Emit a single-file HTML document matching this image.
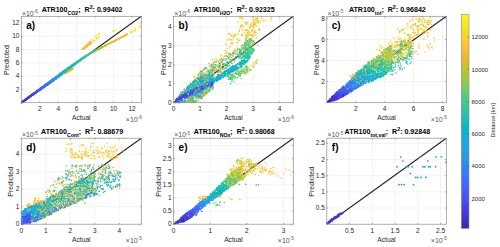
<!DOCTYPE html><html><head><meta charset="utf-8"><style>html,body{margin:0;padding:0;width:500px;height:247px;overflow:hidden;background:#fff}svg text{font-family:"Liberation Sans", sans-serif}</style></head><body><svg width="500" height="247" viewBox="0 0 500 247" style="position:absolute;left:0;top:0">
<rect x="0" y="0" width="500" height="247" fill="#fff"/>
<line x1="39.76" y1="16.3" x2="39.76" y2="102.7" stroke="#ebebeb" stroke-width="0.6"/>
<line x1="58.22" y1="16.3" x2="58.22" y2="102.7" stroke="#ebebeb" stroke-width="0.6"/>
<line x1="76.68" y1="16.3" x2="76.68" y2="102.7" stroke="#ebebeb" stroke-width="0.6"/>
<line x1="95.15" y1="16.3" x2="95.15" y2="102.7" stroke="#ebebeb" stroke-width="0.6"/>
<line x1="113.61" y1="16.3" x2="113.61" y2="102.7" stroke="#ebebeb" stroke-width="0.6"/>
<line x1="132.07" y1="16.3" x2="132.07" y2="102.7" stroke="#ebebeb" stroke-width="0.6"/>
<line x1="21.3" y1="89.41" x2="141.3" y2="89.41" stroke="#ebebeb" stroke-width="0.6"/>
<line x1="21.3" y1="76.12" x2="141.3" y2="76.12" stroke="#ebebeb" stroke-width="0.6"/>
<line x1="21.3" y1="62.82" x2="141.3" y2="62.82" stroke="#ebebeb" stroke-width="0.6"/>
<line x1="21.3" y1="49.53" x2="141.3" y2="49.53" stroke="#ebebeb" stroke-width="0.6"/>
<line x1="21.3" y1="36.24" x2="141.3" y2="36.24" stroke="#ebebeb" stroke-width="0.6"/>
<line x1="21.3" y1="22.95" x2="141.3" y2="22.95" stroke="#ebebeb" stroke-width="0.6"/>
<line x1="21.3" y1="102.7" x2="141.3" y2="16.3" stroke="#222" stroke-width="1.05"/>
<path d="M23.3 101.0h0M22.7 101.8h0M22.8 101.8h0M22.2 102.0h0M22.2 101.8h0M24.2 101.0h0M22.3 101.9h0" stroke="#402ab4" stroke-width="1.5" stroke-linecap="round"/>
<path d="M61.0 73.8h0M57.9 75.9h0M60.1 73.6h0M66.7 70.1h0M57.7 75.7h0M58.6 77.1h0M54.3 79.3h0M55.3 77.7h0" stroke="#23a0e5" stroke-width="1.5" stroke-linecap="round"/>
<path d="M102.5 46.8h0M101.0 48.2h0M99.6 48.7h0M104.7 45.9h0M101.3 47.2h0" stroke="#abc739" stroke-width="1.3" stroke-linecap="round"/>
<path d="M77.8 61.7h0M82.0 58.2h0M74.4 64.4h0M79.7 60.6h0M75.8 63.4h0M78.8 61.3h0M78.5 61.7h0M81.6 59.3h0M83.0 57.8h0M75.5 63.9h0M82.7 58.4h0M82.9 57.7h0M79.1 61.3h0M81.7 59.5h0M73.5 64.0h0M84.6 56.3h0M70.4 68.2h0" stroke="#24c1ae" stroke-width="1.5" stroke-linecap="round"/>
<path d="M81.5 59.0h0M72.1 66.2h0M78.3 61.1h0M69.4 68.2h0M71.5 65.6h0M79.8 59.7h0M82.9 58.2h0M72.7 66.3h0M84.5 57.4h0" stroke="#2cc4a7" stroke-width="1.5" stroke-linecap="round"/>
<path d="M86.1 55.8h0" stroke="#24c1ae" stroke-width="1.3" stroke-linecap="round"/>
<path d="M127.0 34.0h0" stroke="#fccf30" stroke-width="1.3" stroke-linecap="round"/>
<path d="M37.1 90.9h0M25.2 99.6h0M36.9 91.9h0M32.4 94.1h0M35.7 93.1h0M31.5 95.2h0M29.4 96.3h0M32.5 94.4h0M36.1 92.7h0M31.9 94.6h0M33.9 93.0h0M34.8 93.6h0M36.6 90.9h0M33.9 94.0h0" stroke="#4747eb" stroke-width="1.5" stroke-linecap="round"/>
<path d="M41.2 88.0h0M47.1 83.2h0M44.8 86.1h0M47.7 82.7h0M49.2 83.6h0M47.3 84.6h0M46.1 84.8h0M50.9 80.7h0" stroke="#3875fe" stroke-width="1.5" stroke-linecap="round"/>
<path d="M87.0 55.8h0M87.0 55.2h0M86.8 54.9h0M86.3 55.4h0" stroke="#37c897" stroke-width="1.3" stroke-linecap="round"/>
<path d="M50.3 81.4h0M58.2 75.0h0M50.3 81.5h0M53.0 80.9h0M55.3 79.0h0M51.3 82.2h0M51.0 82.3h0M54.2 79.8h0M58.2 75.9h0" stroke="#2d8cf3" stroke-width="1.5" stroke-linecap="round"/>
<path d="M59.1 75.1h0M55.3 78.2h0M57.3 76.2h0M57.6 75.8h0" stroke="#259be8" stroke-width="1.5" stroke-linecap="round"/>
<path d="M93.6 41.0h0M97.4 38.4h0M91.5 40.3h0M98.8 37.1h0M93.3 41.6h0M99.3 33.5h0" stroke="#f5e327" stroke-width="1.2" stroke-linecap="round"/>
<path d="M55.5 77.1h0M54.0 80.4h0M56.2 78.9h0M54.9 78.6h0M55.6 78.4h0M59.4 76.0h0M53.9 80.2h0" stroke="#2b91ef" stroke-width="1.5" stroke-linecap="round"/>
<path d="M42.4 88.1h0M35.1 93.6h0M42.9 87.2h0M46.2 84.8h0M37.8 90.9h0M39.4 88.9h0M43.8 85.8h0M41.8 88.5h0M41.6 88.4h0M42.5 87.5h0M47.2 83.6h0" stroke="#465efb" stroke-width="1.5" stroke-linecap="round"/>
<path d="M95.5 50.2h0M93.2 51.8h0M96.1 50.0h0M96.1 50.1h0M94.3 51.4h0M91.5 52.5h0M95.8 50.8h0" stroke="#64cd6f" stroke-width="1.3" stroke-linecap="round"/>
<path d="M69.0 68.9h0M63.7 73.0h0M65.4 71.9h0M65.8 69.6h0M70.2 67.1h0M78.0 61.5h0" stroke="#08b5d0" stroke-width="1.5" stroke-linecap="round"/>
<path d="M64.0 71.2h0M63.7 73.0h0M65.0 70.3h0M65.2 70.9h0M63.8 72.3h0M63.1 73.3h0M65.6 70.3h0M66.0 69.7h0M65.1 70.8h0M60.9 74.9h0" stroke="#12b1d6" stroke-width="1.5" stroke-linecap="round"/>
<path d="M86.9 45.7h0M84.4 48.0h0M89.8 43.5h0M84.1 48.2h0M89.9 43.6h0M89.7 44.4h0M86.9 45.0h0" stroke="#e6bb2d" stroke-width="1.5" stroke-linecap="round"/>
<path d="M112.4 31.4h0M116.9 29.0h0M113.4 30.8h0M135.8 28.7h0" stroke="#f5e924" stroke-width="1.1" stroke-linecap="round"/>
<path d="M139.1 27.7h0M138.5 27.8h0M130.9 33.1h0" stroke="#f7dc2a" stroke-width="1.1" stroke-linecap="round"/>
<path d="M60.7 73.7h0M60.6 73.8h0M64.5 71.9h0M69.3 67.8h0M58.2 76.5h0M58.3 76.1h0M60.6 74.0h0M63.6 72.9h0M56.1 78.6h0M59.4 75.8h0M56.6 76.9h0M65.6 70.1h0M66.0 70.1h0" stroke="#1ca9df" stroke-width="1.5" stroke-linecap="round"/>
<path d="M87.5 55.3h0M88.9 54.3h0M86.6 55.9h0M86.9 55.0h0" stroke="#3fca8e" stroke-width="1.3" stroke-linecap="round"/>
<path d="M62.6 71.9h0M62.2 74.1h0M61.1 74.6h0M64.3 70.7h0M59.6 75.8h0M71.9 66.3h0M60.9 75.2h0M66.0 70.8h0M58.0 77.2h0M59.5 75.4h0M55.6 78.0h0M67.2 68.7h0M61.2 74.8h0" stroke="#18addb" stroke-width="1.5" stroke-linecap="round"/>
<path d="M67.7 68.5h0M69.8 66.8h0M65.0 71.4h0M65.5 71.0h0M67.9 69.3h0M65.3 71.5h0M78.6 61.8h0M63.1 72.7h0M75.3 63.7h0M66.3 70.1h0M70.1 66.7h0M80.7 59.2h0M77.8 61.9h0M65.9 70.7h0M62.5 73.2h0M69.9 68.6h0" stroke="#02bac3" stroke-width="1.5" stroke-linecap="round"/>
<path d="M106.7 44.5h0M63.6 72.7h0M66.9 72.1h0M104.2 46.6h0M66.3 73.0h0" stroke="#d1bf27" stroke-width="1.3" stroke-linecap="round"/>
<path d="M63.5 72.8h0M104.2 46.6h0M67.0 72.8h0M69.1 70.8h0M108.0 44.3h0M104.4 46.4h0" stroke="#dcbd29" stroke-width="1.3" stroke-linecap="round"/>
<path d="M50.4 81.8h0M53.9 80.4h0M54.2 79.5h0M50.6 80.7h0M51.7 81.2h0M53.0 79.9h0M54.5 79.2h0M56.3 78.6h0M49.5 83.7h0M52.1 79.7h0M46.4 85.4h0M50.1 82.1h0" stroke="#2e87f7" stroke-width="1.5" stroke-linecap="round"/>
<path d="M25.9 99.2h0M23.6 101.0h0M33.3 93.9h0M24.4 100.2h0M22.8 102.1h0M29.1 97.8h0M21.8 102.4h0M25.7 99.8h0" stroke="#422ec0" stroke-width="1.5" stroke-linecap="round"/>
<path d="M74.7 64.8h0M78.9 60.7h0M81.2 59.9h0M74.1 63.9h0M77.9 61.1h0M77.7 61.2h0M69.8 68.2h0M83.1 57.8h0M81.0 59.0h0M72.5 65.3h0M79.2 61.0h0M80.2 60.1h0M71.2 67.1h0M69.5 68.7h0M84.2 57.3h0" stroke="#19bfb6" stroke-width="1.5" stroke-linecap="round"/>
<path d="M35.7 92.1h0M44.3 86.1h0M46.6 84.2h0M38.7 91.2h0M38.0 91.0h0M32.4 94.9h0M42.4 88.5h0M46.5 84.3h0M39.4 89.4h0M38.5 91.0h0M41.1 88.5h0" stroke="#4758f8" stroke-width="1.5" stroke-linecap="round"/>
<path d="M25.1 100.4h0M26.3 99.3h0M25.3 99.5h0M30.6 96.1h0M25.5 99.8h0M30.5 96.6h0M30.3 95.7h0M27.8 97.6h0" stroke="#4537d5" stroke-width="1.5" stroke-linecap="round"/>
<path d="M78.9 61.0h0M77.7 61.7h0M76.4 63.2h0M66.7 70.6h0M70.9 66.4h0M79.5 61.3h0M71.0 66.4h0M82.1 58.2h0M74.8 63.7h0M73.8 65.3h0M77.9 61.6h0M73.4 64.7h0M71.3 66.7h0M77.2 62.6h0M76.6 62.3h0M66.4 69.5h0M72.5 65.1h0" stroke="#0bbdbd" stroke-width="1.5" stroke-linecap="round"/>
<path d="M140.6 27.0h0M135.3 30.4h0M135.7 30.4h0M135.2 29.1h0" stroke="#f5e327" stroke-width="1.1" stroke-linecap="round"/>
<path d="M86.3 45.7h0M83.4 49.2h0M89.1 44.6h0M89.5 42.1h0M83.5 48.2h0M87.0 45.5h0M85.9 46.1h0M85.4 47.2h0M88.3 43.3h0M82.6 49.2h0" stroke="#f8ba3d" stroke-width="1.5" stroke-linecap="round"/>
<path d="M97.1 50.1h0M100.9 48.0h0M95.5 50.8h0M99.0 48.9h0M99.8 48.7h0" stroke="#8fcb4e" stroke-width="1.3" stroke-linecap="round"/>
<path d="M41.1 88.1h0M40.4 89.9h0M35.2 92.1h0M33.9 92.9h0M25.1 99.5h0M25.5 100.1h0M36.1 92.1h0M40.2 89.9h0M28.3 97.3h0M40.5 88.5h0" stroke="#484df0" stroke-width="1.5" stroke-linecap="round"/>
<path d="M86.1 46.1h0M87.3 45.5h0M87.1 45.6h0M83.7 48.6h0M89.9 44.3h0M88.3 44.4h0M84.0 48.5h0M83.9 47.8h0" stroke="#f0ba36" stroke-width="1.5" stroke-linecap="round"/>
<path d="M86.5 55.4h0" stroke="#31c69f" stroke-width="1.3" stroke-linecap="round"/>
<path d="M95.4 51.2h0M91.1 53.3h0M96.4 50.4h0" stroke="#72cd64" stroke-width="1.3" stroke-linecap="round"/>
<path d="M88.3 44.8h0M85.9 47.1h0" stroke="#dcbd29" stroke-width="1.5" stroke-linecap="round"/>
<path d="M85.5 47.1h0" stroke="#fec338" stroke-width="1.5" stroke-linecap="round"/>
<path d="M99.3 33.9h0M96.3 39.1h0M97.7 35.0h0" stroke="#f7dc2a" stroke-width="1.2" stroke-linecap="round"/>
<path d="M101.8 47.6h0M105.3 45.4h0M103.5 46.8h0M66.2 71.9h0" stroke="#b9c431" stroke-width="1.3" stroke-linecap="round"/>
<path d="M107.8 44.3h0M109.6 43.6h0M110.2 42.8h0M107.0 44.9h0M107.4 44.1h0M72.8 68.7h0M70.2 70.2h0" stroke="#e6bb2d" stroke-width="1.3" stroke-linecap="round"/>
<path d="M88.1 43.8h0M82.4 49.1h0M87.9 44.8h0M83.7 48.0h0M86.7 45.0h0" stroke="#febe3c" stroke-width="1.5" stroke-linecap="round"/>
<path d="M96.9 38.6h0M96.7 38.6h0" stroke="#fad62d" stroke-width="1.2" stroke-linecap="round"/>
<path d="M52.4 81.3h0M52.4 81.5h0M55.8 76.7h0M54.9 77.8h0M56.2 78.0h0M53.3 79.8h0" stroke="#2797eb" stroke-width="1.5" stroke-linecap="round"/>
<path d="M70.7 67.7h0M63.9 71.0h0M66.2 69.7h0M65.3 70.4h0M68.5 67.7h0M69.3 68.5h0M62.5 72.8h0M69.2 67.5h0M67.7 68.5h0M66.9 70.7h0M64.9 70.3h0M70.2 66.7h0M70.5 66.5h0M67.5 68.5h0M66.1 71.2h0" stroke="#01b8ca" stroke-width="1.5" stroke-linecap="round"/>
<path d="M66.0 72.7h0M125.8 35.3h0M122.5 36.6h0M114.2 41.4h0M124.2 35.7h0M126.2 34.7h0M117.1 39.4h0" stroke="#fec934" stroke-width="1.3" stroke-linecap="round"/>
<path d="M83.8 57.9h0M83.4 57.3h0M84.3 57.5h0M84.9 56.6h0" stroke="#3fca8e" stroke-width="1.5" stroke-linecap="round"/>
<path d="M59.0 75.7h0M57.1 76.6h0M57.1 77.3h0M60.3 74.1h0M62.9 72.4h0" stroke="#20a5e3" stroke-width="1.5" stroke-linecap="round"/>
<path d="M95.5 50.2h0M91.7 53.2h0M91.3 53.1h0M89.0 54.7h0M87.1 55.7h0M89.9 53.5h0M90.5 53.6h0M91.5 53.0h0" stroke="#4acb84" stroke-width="1.3" stroke-linecap="round"/>
<path d="M67.5 71.2h0M101.8 47.0h0M102.4 47.2h0M105.6 44.9h0" stroke="#c5c22a" stroke-width="1.3" stroke-linecap="round"/>
<path d="M27.5 97.9h0M34.3 93.3h0M33.2 93.6h0M34.4 93.4h0M26.2 99.1h0M38.6 90.3h0M31.5 95.2h0M24.1 101.0h0M33.0 94.9h0M22.3 101.7h0M28.1 97.5h0M29.7 96.8h0M23.1 101.0h0M37.1 92.2h0" stroke="#4741e5" stroke-width="1.5" stroke-linecap="round"/>
<path d="M46.5 84.7h0M47.9 84.7h0M47.6 82.9h0M46.0 85.8h0M46.2 85.6h0M45.5 85.1h0M45.6 85.9h0M49.6 82.9h0M54.1 79.6h0" stroke="#3e6fff" stroke-width="1.5" stroke-linecap="round"/>
<path d="M101.0 48.2h0M94.6 51.2h0M97.6 49.0h0M98.8 49.2h0M97.2 49.6h0M95.4 51.0h0M94.8 51.1h0M96.0 50.7h0" stroke="#81cc59" stroke-width="1.3" stroke-linecap="round"/>
<path d="M98.1 49.6h0" stroke="#9dc943" stroke-width="1.3" stroke-linecap="round"/>
<path d="M85.3 56.0h0M79.7 59.7h0M83.4 58.1h0M77.1 62.8h0M80.8 58.9h0M81.8 58.5h0" stroke="#37c897" stroke-width="1.5" stroke-linecap="round"/>
<path d="M49.4 83.4h0M50.1 83.1h0M44.8 85.5h0M50.4 83.1h0" stroke="#327cfc" stroke-width="1.5" stroke-linecap="round"/>
<path d="M93.2 41.5h0" stroke="#f5e924" stroke-width="1.2" stroke-linecap="round"/>
<path d="M93.0 52.1h0M88.4 54.9h0" stroke="#57cc7a" stroke-width="1.3" stroke-linecap="round"/>
<path d="M114.2 41.1h0M125.4 34.8h0M123.2 36.1h0M114.0 41.3h0M120.7 37.5h0M127.0 34.5h0M126.6 34.4h0M127.2 34.1h0M113.8 41.7h0M124.3 36.1h0" stroke="#fec338" stroke-width="1.3" stroke-linecap="round"/>
<path d="M44.2 86.1h0M44.0 86.6h0M44.6 85.9h0M42.9 86.5h0M45.6 85.1h0M43.6 87.1h0" stroke="#4563fd" stroke-width="1.5" stroke-linecap="round"/>
<path d="M23.5 101.4h0M25.2 99.8h0M29.7 96.8h0M28.1 98.3h0M30.2 95.7h0M31.7 95.5h0M32.1 94.8h0M22.3 102.0h0M22.9 101.8h0M27.3 98.7h0M30.7 95.5h0M32.3 94.8h0M29.1 97.1h0M27.6 97.6h0M27.2 98.7h0M30.9 95.8h0" stroke="#463cde" stroke-width="1.5" stroke-linecap="round"/>
<path d="M111.6 42.1h0M111.4 42.1h0M72.6 68.2h0M63.4 73.4h0M69.9 70.9h0" stroke="#f0ba36" stroke-width="1.3" stroke-linecap="round"/>
<path d="M43.3 87.8h0M38.0 90.6h0M49.3 82.8h0M43.1 86.6h0M46.3 83.8h0M52.2 79.5h0M46.2 85.6h0M39.6 89.4h0M44.0 86.3h0M48.9 83.1h0M46.9 84.2h0M41.9 87.3h0M42.3 86.7h0" stroke="#4269fe" stroke-width="1.5" stroke-linecap="round"/>
<path d="M114.2 31.0h0M132.8 30.3h0" stroke="#f7f51b" stroke-width="1.1" stroke-linecap="round"/>
<path d="M121.5 37.2h0M125.3 35.4h0M124.0 35.5h0M116.1 40.6h0M114.9 40.9h0M118.2 39.1h0M120.6 37.9h0M122.9 36.8h0M115.2 40.7h0M124.6 36.0h0M124.2 35.3h0M115.6 40.5h0M71.8 68.8h0M125.7 35.0h0M113.6 41.7h0M117.5 39.1h0M113.7 41.3h0M123.9 36.3h0M113.8 41.3h0M122.7 36.4h0M112.3 42.2h0" stroke="#febe3c" stroke-width="1.3" stroke-linecap="round"/>
<path d="M47.4 84.0h0M50.0 83.3h0M52.2 80.0h0M47.2 83.5h0M50.7 81.0h0M50.8 82.4h0M52.1 79.8h0M47.1 84.7h0" stroke="#2f81fa" stroke-width="1.5" stroke-linecap="round"/>
<path d="M79.0 60.2h0M81.5 59.1h0M82.3 58.8h0M85.1 57.0h0M83.6 57.7h0M80.6 59.2h0M84.5 56.8h0M75.0 64.4h0M84.2 56.6h0" stroke="#31c69f" stroke-width="1.5" stroke-linecap="round"/>
<path d="M127.0 34.3h0M110.2 42.7h0M64.0 72.9h0M124.3 35.7h0M112.8 41.5h0M66.7 71.3h0M68.7 70.5h0M118.3 38.7h0M124.6 35.9h0M123.1 36.0h0M110.2 43.5h0M122.9 36.9h0M116.8 39.9h0M68.2 71.5h0M124.2 35.6h0M112.3 41.8h0M124.0 35.7h0M125.8 34.7h0" stroke="#f8ba3d" stroke-width="1.3" stroke-linecap="round"/>
<path d="M24.3 101.0h0M23.2 101.0h0M24.5 100.5h0M21.8 102.4h0M22.4 101.5h0" stroke="#3e26a8" stroke-width="1.5" stroke-linecap="round"/>
<path d="M27.5 98.4h0M26.7 98.5h0M25.2 100.4h0M24.4 100.5h0M23.6 101.4h0M24.6 100.5h0M23.8 101.3h0M26.1 99.8h0" stroke="#4332cb" stroke-width="1.5" stroke-linecap="round"/>
<path d="M31.5 96.0h0M40.2 89.1h0M40.3 89.6h0M41.4 87.7h0M37.0 91.8h0M32.1 94.6h0M44.2 86.6h0M35.9 92.7h0M37.5 91.2h0M36.6 92.4h0" stroke="#4852f4" stroke-width="1.5" stroke-linecap="round"/>
<path d="M61.2 74.1h0M67.1 69.5h0M76.3 63.3h0M63.4 72.8h0M63.3 73.3h0M65.4 71.1h0M68.2 68.2h0M62.1 74.4h0M67.4 69.2h0" stroke="#08b5d0" stroke-width="1.5" stroke-linecap="round"/>
<path d="M50.8 80.4h0M57.6 76.8h0M55.1 78.6h0M58.4 75.8h0M56.0 77.4h0M56.2 76.9h0M53.7 79.1h0M53.0 81.2h0M52.7 81.0h0M56.0 78.6h0M58.8 76.8h0M57.3 77.0h0" stroke="#2797eb" stroke-width="1.5" stroke-linecap="round"/>
<path d="M41.2 89.4h0M37.2 91.0h0M39.6 89.2h0M45.4 85.5h0M42.1 86.9h0M43.8 86.9h0M37.0 91.8h0" stroke="#4563fd" stroke-width="1.5" stroke-linecap="round"/>
<path d="M64.6 72.7h0M113.2 41.4h0M70.9 70.2h0M119.7 38.6h0M68.4 71.3h0M68.4 72.1h0M119.4 38.8h0M69.1 71.7h0" stroke="#f0ba36" stroke-width="1.3" stroke-linecap="round"/>
<path d="M55.6 77.6h0M54.2 78.2h0M47.6 85.0h0M48.6 82.9h0M52.5 79.8h0M47.3 83.6h0M51.1 81.5h0M46.7 83.6h0M46.7 84.9h0M51.0 82.4h0M52.4 79.3h0" stroke="#2f81fa" stroke-width="1.5" stroke-linecap="round"/>
<path d="M97.7 38.0h0M94.8 40.4h0M99.1 33.6h0M93.7 40.9h0M96.1 36.0h0M99.2 33.8h0" stroke="#f5e327" stroke-width="1.2" stroke-linecap="round"/>
<path d="M82.7 49.4h0M83.7 48.7h0M88.5 44.4h0M89.8 42.5h0M87.7 44.6h0M87.7 45.8h0M88.5 44.0h0M82.4 49.1h0M85.6 47.4h0M91.4 43.3h0M89.9 43.6h0M83.3 48.8h0" stroke="#f0ba36" stroke-width="1.5" stroke-linecap="round"/>
<path d="M94.2 51.7h0M94.5 51.1h0M93.7 51.5h0M92.7 51.7h0M92.7 52.1h0M92.7 52.5h0M89.0 54.5h0M89.5 54.1h0" stroke="#57cc7a" stroke-width="1.3" stroke-linecap="round"/>
<path d="M36.0 92.7h0M34.7 93.9h0M30.3 96.5h0M33.9 93.5h0M38.2 91.1h0M43.4 87.6h0M39.0 90.6h0M34.7 93.5h0M36.0 93.0h0" stroke="#484df0" stroke-width="1.5" stroke-linecap="round"/>
<path d="M97.2 49.2h0M97.9 49.6h0M93.5 51.3h0M94.3 51.8h0M95.3 50.8h0" stroke="#81cc59" stroke-width="1.3" stroke-linecap="round"/>
<path d="M62.0 72.3h0M66.0 71.0h0M59.7 74.0h0M65.2 69.9h0M64.7 72.4h0M64.4 72.7h0M66.0 69.5h0" stroke="#18addb" stroke-width="1.5" stroke-linecap="round"/>
<path d="M71.8 65.6h0M71.6 67.1h0M70.6 67.4h0M75.0 63.6h0M66.8 70.9h0M78.3 61.8h0M74.3 64.7h0M74.5 65.0h0M73.5 64.7h0M74.1 64.0h0M84.8 57.2h0M73.6 64.8h0M69.7 67.4h0M70.9 67.8h0M74.4 64.8h0M68.6 68.6h0M75.1 64.2h0M77.9 61.8h0M78.1 61.4h0" stroke="#0bbdbd" stroke-width="1.5" stroke-linecap="round"/>
<path d="M101.8 46.9h0M97.3 49.2h0M97.8 49.3h0" stroke="#8fcb4e" stroke-width="1.3" stroke-linecap="round"/>
<path d="M47.0 85.2h0M43.9 86.7h0M47.3 83.4h0M44.0 86.5h0M46.0 84.2h0" stroke="#4269fe" stroke-width="1.5" stroke-linecap="round"/>
<path d="M96.5 38.8h0" stroke="#fccf30" stroke-width="1.2" stroke-linecap="round"/>
<path d="M90.5 41.8h0M86.3 47.1h0M88.1 44.0h0M86.0 46.0h0" stroke="#e6bb2d" stroke-width="1.5" stroke-linecap="round"/>
<path d="M81.9 59.3h0M82.1 58.2h0M82.2 58.0h0M73.4 64.9h0M85.1 56.7h0M77.9 61.3h0M79.3 61.0h0M78.6 61.3h0M84.4 57.1h0M79.3 60.6h0M74.9 64.5h0M73.6 64.8h0" stroke="#24c1ae" stroke-width="1.5" stroke-linecap="round"/>
<path d="M89.0 44.6h0" stroke="#dcbd29" stroke-width="1.5" stroke-linecap="round"/>
<path d="M86.8 56.0h0" stroke="#24c1ae" stroke-width="1.3" stroke-linecap="round"/>
<path d="M85.2 47.8h0M86.4 46.3h0M84.8 47.6h0M86.1 45.9h0M87.1 45.8h0" stroke="#febe3c" stroke-width="1.5" stroke-linecap="round"/>
<path d="M104.5 46.3h0M104.4 45.6h0M102.5 47.4h0" stroke="#b9c431" stroke-width="1.3" stroke-linecap="round"/>
<path d="M29.2 97.3h0M24.7 100.6h0M29.1 96.8h0M24.7 100.4h0M31.1 95.0h0M25.3 99.6h0M30.2 96.0h0M33.3 94.2h0M31.7 95.2h0M30.8 96.3h0M31.5 94.9h0M28.5 97.6h0M27.0 98.3h0" stroke="#463cde" stroke-width="1.5" stroke-linecap="round"/>
<path d="M101.9 47.5h0M100.4 48.1h0M98.8 48.8h0M98.4 49.5h0M98.6 48.5h0" stroke="#9dc943" stroke-width="1.3" stroke-linecap="round"/>
<path d="M94.2 51.2h0M94.6 50.7h0M95.3 50.9h0" stroke="#72cd64" stroke-width="1.3" stroke-linecap="round"/>
<path d="M50.2 81.6h0M53.6 80.5h0M50.2 82.6h0M45.1 84.8h0M41.9 87.7h0M45.7 84.8h0" stroke="#3875fe" stroke-width="1.5" stroke-linecap="round"/>
<path d="M52.4 80.8h0M52.7 80.3h0M50.0 83.0h0M52.6 81.4h0M53.7 80.1h0M50.4 82.8h0M53.6 79.7h0M54.6 78.7h0" stroke="#2b91ef" stroke-width="1.5" stroke-linecap="round"/>
<path d="M81.4 59.7h0M85.5 56.4h0M84.7 57.1h0M80.7 60.3h0M83.3 57.9h0" stroke="#37c897" stroke-width="1.5" stroke-linecap="round"/>
<path d="M60.2 73.5h0M54.3 79.4h0M55.9 78.7h0M56.2 77.2h0M56.8 78.3h0M56.4 78.4h0M54.7 78.2h0M55.6 77.4h0M55.6 77.7h0M60.5 75.6h0" stroke="#259be8" stroke-width="1.5" stroke-linecap="round"/>
<path d="M139.9 27.7h0M115.8 30.4h0M137.4 29.6h0" stroke="#f5e924" stroke-width="1.1" stroke-linecap="round"/>
<path d="M21.5 102.3h0M22.6 102.1h0M21.7 102.7h0M22.2 101.7h0M24.2 100.6h0M22.5 101.9h0M22.1 101.8h0M21.9 102.4h0" stroke="#422ec0" stroke-width="1.5" stroke-linecap="round"/>
<path d="M106.7 45.1h0" stroke="#c5c22a" stroke-width="1.3" stroke-linecap="round"/>
<path d="M100.8 47.5h0M102.2 47.6h0" stroke="#abc739" stroke-width="1.3" stroke-linecap="round"/>
<path d="M63.3 72.6h0M57.9 76.9h0M58.5 75.9h0M55.8 78.2h0M54.6 80.0h0M58.4 75.8h0M56.1 77.1h0" stroke="#23a0e5" stroke-width="1.5" stroke-linecap="round"/>
<path d="M25.6 99.8h0M30.2 95.9h0M32.3 94.5h0M24.4 100.6h0M32.9 94.8h0M33.7 94.0h0M27.9 98.2h0M23.7 100.7h0M25.2 100.2h0M32.2 94.5h0" stroke="#4537d5" stroke-width="1.5" stroke-linecap="round"/>
<path d="M123.9 36.4h0M124.8 35.5h0M125.1 35.4h0" stroke="#fec934" stroke-width="1.3" stroke-linecap="round"/>
<path d="M73.7 68.6h0M112.8 42.2h0M67.3 71.5h0M72.4 68.0h0M110.2 42.9h0M108.3 44.0h0M115.6 40.0h0M104.6 45.9h0M64.6 73.6h0M120.7 37.7h0" stroke="#e6bb2d" stroke-width="1.3" stroke-linecap="round"/>
<path d="M82.4 58.9h0M81.9 59.2h0M80.3 59.3h0M85.7 56.3h0M83.6 57.6h0M82.1 58.8h0M82.5 58.0h0M73.4 64.9h0M84.9 56.7h0M75.4 63.6h0M79.8 60.5h0M83.1 57.8h0M82.4 58.6h0M75.4 63.3h0M85.2 56.3h0M72.5 64.9h0M75.1 64.0h0M79.9 60.9h0M83.5 57.2h0M77.1 61.6h0" stroke="#2cc4a7" stroke-width="1.5" stroke-linecap="round"/>
<path d="M74.2 65.3h0M71.6 66.5h0M73.3 66.0h0M81.8 59.3h0M68.6 68.5h0M83.9 57.9h0M76.6 62.5h0M77.4 61.6h0M72.4 65.5h0M74.6 63.6h0M83.7 57.4h0M70.0 67.2h0M79.4 60.9h0" stroke="#19bfb6" stroke-width="1.5" stroke-linecap="round"/>
<path d="M91.4 52.7h0M89.9 53.3h0M88.2 54.7h0" stroke="#4acb84" stroke-width="1.3" stroke-linecap="round"/>
<path d="M86.3 56.0h0M89.5 54.4h0" stroke="#31c69f" stroke-width="1.3" stroke-linecap="round"/>
<path d="M117.4 39.4h0M124.9 35.7h0M126.2 35.0h0M117.5 39.1h0M117.2 39.5h0M122.7 37.0h0M119.1 38.8h0" stroke="#fec338" stroke-width="1.3" stroke-linecap="round"/>
<path d="M84.7 47.2h0M90.1 43.1h0M88.8 44.6h0M88.5 44.6h0M83.0 49.0h0M84.2 48.6h0M85.7 46.6h0M84.2 48.6h0M82.8 49.2h0M90.9 42.3h0M85.9 47.3h0M88.8 44.4h0" stroke="#f8ba3d" stroke-width="1.5" stroke-linecap="round"/>
<path d="M40.4 88.6h0M33.1 93.5h0M32.8 94.1h0M32.0 94.6h0M35.9 92.1h0M29.6 96.7h0M37.5 90.5h0M39.2 89.6h0M45.0 86.7h0M41.0 87.9h0M34.6 93.1h0" stroke="#4852f4" stroke-width="1.5" stroke-linecap="round"/>
<path d="M60.8 74.4h0M63.2 71.7h0M65.6 70.9h0M64.2 72.1h0M61.9 73.9h0M63.0 73.4h0M62.1 74.2h0M61.9 73.0h0M66.9 69.4h0M65.4 71.7h0M62.6 73.2h0" stroke="#12b1d6" stroke-width="1.5" stroke-linecap="round"/>
<path d="M48.4 84.2h0M51.5 82.0h0M50.9 82.5h0M49.4 82.4h0M47.7 83.2h0M48.1 83.5h0M46.2 85.2h0" stroke="#327cfc" stroke-width="1.5" stroke-linecap="round"/>
<path d="M44.2 86.4h0M39.5 90.4h0M45.6 84.3h0M46.6 85.4h0M47.0 85.0h0M47.8 83.9h0M50.0 81.4h0M49.1 82.7h0M46.7 84.5h0" stroke="#3e6fff" stroke-width="1.5" stroke-linecap="round"/>
<path d="M105.1 45.3h0M66.0 72.3h0M110.9 42.6h0M67.0 72.4h0M104.8 46.0h0M106.3 45.0h0M105.2 45.4h0M70.8 69.7h0M69.5 71.1h0M65.3 73.4h0M106.6 45.0h0M108.7 43.8h0M110.9 42.4h0M106.2 45.1h0M109.2 43.7h0M112.3 42.1h0" stroke="#dcbd29" stroke-width="1.3" stroke-linecap="round"/>
<path d="M132.1 32.1h0M140.0 25.8h0M129.7 31.8h0" stroke="#f7dc2a" stroke-width="1.1" stroke-linecap="round"/>
<path d="M94.3 40.5h0M96.9 35.7h0M98.6 34.0h0M91.9 39.7h0" stroke="#f7dc2a" stroke-width="1.2" stroke-linecap="round"/>
<path d="M65.6 69.7h0M69.5 68.0h0M69.6 68.2h0M78.7 61.8h0M67.6 68.4h0M61.5 72.6h0M69.5 67.7h0M64.8 71.6h0M64.1 71.2h0M75.6 63.7h0M68.8 67.4h0M67.4 69.5h0M63.4 71.5h0M66.2 70.2h0M68.8 67.8h0M75.7 62.7h0M69.0 68.3h0M65.4 70.5h0M62.2 74.0h0M74.6 64.6h0M72.5 65.6h0" stroke="#01b8ca" stroke-width="1.5" stroke-linecap="round"/>
<path d="M106.9 44.8h0M108.9 43.5h0M72.7 69.3h0M68.7 71.8h0M107.9 44.3h0M105.2 46.1h0" stroke="#d1bf27" stroke-width="1.3" stroke-linecap="round"/>
<path d="M23.7 100.5h0M28.1 97.8h0M31.0 96.4h0" stroke="#402ab4" stroke-width="1.5" stroke-linecap="round"/>
<path d="M34.5 93.7h0M26.0 99.8h0M29.6 96.7h0M30.1 96.8h0M33.1 95.0h0M34.6 92.6h0M24.9 99.8h0M27.7 98.1h0M29.0 96.7h0M34.2 92.9h0M26.8 99.0h0M30.4 96.7h0" stroke="#4741e5" stroke-width="1.5" stroke-linecap="round"/>
<path d="M51.4 81.2h0M47.5 85.1h0M50.0 81.5h0M54.8 78.3h0M50.9 82.7h0M47.8 84.3h0M49.5 82.6h0M56.6 78.6h0M52.6 79.6h0" stroke="#2e87f7" stroke-width="1.5" stroke-linecap="round"/>
<path d="M78.0 61.5h0M77.7 61.7h0M63.0 72.6h0M66.1 71.0h0M72.1 66.3h0M70.1 66.9h0M71.9 65.2h0M71.1 67.7h0M76.5 63.5h0M61.2 74.7h0M78.9 61.3h0M73.5 64.6h0M70.7 66.0h0M76.4 62.6h0M67.3 70.2h0M71.5 66.5h0M71.4 65.5h0M65.8 71.7h0" stroke="#02bac3" stroke-width="1.5" stroke-linecap="round"/>
<path d="M42.9 86.7h0M41.7 88.4h0M42.9 86.7h0M43.5 87.3h0M46.0 85.6h0M41.3 88.3h0M37.4 90.8h0M42.4 88.1h0M47.8 84.7h0M43.8 86.3h0" stroke="#465efb" stroke-width="1.5" stroke-linecap="round"/>
<path d="M89.4 44.9h0M85.8 46.5h0" stroke="#fec338" stroke-width="1.5" stroke-linecap="round"/>
<path d="M79.3 60.7h0M81.8 59.0h0M83.4 58.1h0M83.4 57.7h0" stroke="#3fca8e" stroke-width="1.5" stroke-linecap="round"/>
<path d="M59.6 75.1h0M66.5 70.7h0M62.1 72.7h0M59.7 75.5h0M63.5 73.1h0M65.9 70.5h0M61.6 74.3h0M60.6 75.6h0M58.8 76.8h0M62.1 72.3h0M57.3 75.9h0M61.0 74.4h0M61.8 74.3h0M63.5 72.1h0" stroke="#1ca9df" stroke-width="1.5" stroke-linecap="round"/>
<path d="M86.6 55.3h0M89.6 53.5h0M88.0 54.8h0M90.0 53.7h0M86.6 55.4h0" stroke="#37c897" stroke-width="1.3" stroke-linecap="round"/>
<path d="M119.7 37.9h0M112.8 42.1h0M113.0 41.5h0M112.3 42.4h0M67.4 71.1h0M115.1 40.3h0M126.4 34.4h0M68.0 72.1h0M115.2 40.9h0M117.0 39.5h0M117.9 39.2h0M109.5 43.5h0M110.2 43.5h0" stroke="#f8ba3d" stroke-width="1.3" stroke-linecap="round"/>
<path d="M85.7 56.5h0M74.3 64.0h0M79.4 60.5h0M74.6 64.2h0M80.8 59.5h0M81.2 58.6h0M76.9 62.5h0M80.8 59.4h0M79.9 59.7h0M69.7 66.8h0M82.3 58.6h0M82.4 58.6h0" stroke="#31c69f" stroke-width="1.5" stroke-linecap="round"/>
<path d="M23.7 100.7h0M23.8 101.1h0" stroke="#3e26a8" stroke-width="1.5" stroke-linecap="round"/>
<path d="M86.3 55.8h0" stroke="#2cc4a7" stroke-width="1.3" stroke-linecap="round"/>
<path d="M88.9 54.0h0M88.3 54.7h0M87.8 55.2h0" stroke="#3fca8e" stroke-width="1.3" stroke-linecap="round"/>
<path d="M114.7 40.4h0M71.2 70.0h0M116.7 39.3h0M112.5 41.8h0M63.9 74.1h0M122.3 36.7h0M117.9 39.0h0M118.7 38.4h0M124.0 36.0h0M122.1 36.6h0" stroke="#febe3c" stroke-width="1.3" stroke-linecap="round"/>
<path d="M35.6 91.7h0M29.7 97.0h0M37.6 91.5h0M36.0 91.9h0M32.4 94.4h0M36.6 90.9h0M25.9 98.9h0M31.2 95.1h0M37.5 90.8h0" stroke="#4747eb" stroke-width="1.5" stroke-linecap="round"/>
<path d="M134.0 29.3h0" stroke="#f5e327" stroke-width="1.1" stroke-linecap="round"/>
<path d="M135.5 28.0h0M139.3 26.3h0" stroke="#fad62d" stroke-width="1.1" stroke-linecap="round"/>
<path d="M55.5 77.9h0" stroke="#2d8cf3" stroke-width="1.5" stroke-linecap="round"/>
<path d="M93.5 51.7h0M94.2 50.8h0M97.7 49.4h0M92.4 52.8h0M94.0 51.6h0" stroke="#64cd6f" stroke-width="1.3" stroke-linecap="round"/>
<path d="M39.8 89.0h0M40.2 88.7h0M38.9 89.8h0M36.0 91.7h0M39.2 89.4h0M37.0 92.3h0M40.3 88.7h0M36.8 91.2h0M39.6 89.9h0M34.2 93.3h0M37.0 91.3h0M34.7 92.9h0M37.3 91.5h0M39.9 88.6h0" stroke="#4758f8" stroke-width="1.5" stroke-linecap="round"/>
<path d="M34.7 92.9h0M23.8 101.2h0M25.0 100.4h0M28.1 97.5h0M32.1 94.2h0M28.3 97.5h0M26.2 99.0h0M25.9 99.9h0M25.9 99.0h0M25.1 99.9h0M36.4 91.3h0M23.6 100.9h0M26.3 99.6h0M28.1 97.2h0M29.3 96.3h0M26.0 99.1h0" stroke="#4332cb" stroke-width="1.5" stroke-linecap="round"/>
<path d="M131.4 30.2h0M134.4 31.3h0M132.3 31.1h0M139.9 25.7h0" stroke="#f6ef20" stroke-width="1.1" stroke-linecap="round"/>
<path d="M57.0 76.2h0M63.6 71.3h0M60.5 74.9h0M59.5 74.6h0M56.6 77.6h0M59.8 74.5h0M64.6 72.3h0M61.4 72.8h0M57.0 77.6h0" stroke="#20a5e3" stroke-width="1.5" stroke-linecap="round"/>
<path d="M97.3 49.8h0M95.7 50.8h0M95.8 50.4h0M96.8 49.6h0M98.8 48.9h0M100.0 48.5h0" stroke="#8fcb4e" stroke-width="1.3" stroke-linecap="round"/>
<path d="M76.8 62.4h0M81.2 59.5h0M70.9 67.7h0M80.3 59.3h0M84.5 57.2h0M72.3 65.6h0M72.4 66.6h0M75.9 62.5h0M74.2 64.6h0M81.7 59.4h0M83.7 58.1h0M82.3 58.8h0M81.6 58.7h0M72.0 65.6h0M85.0 56.9h0" stroke="#2cc4a7" stroke-width="1.5" stroke-linecap="round"/>
<path d="M41.1 89.4h0M35.0 93.1h0M36.4 91.2h0M38.3 90.1h0M42.8 86.4h0M40.6 88.0h0M34.2 93.0h0M42.4 87.2h0M39.8 89.5h0M28.4 97.5h0M45.2 86.5h0M40.2 89.7h0" stroke="#4852f4" stroke-width="1.5" stroke-linecap="round"/>
<path d="M69.0 68.9h0M72.1 65.2h0M74.4 64.0h0M70.4 67.7h0M67.7 68.3h0M67.9 69.3h0M75.5 63.7h0M62.7 72.0h0M72.8 64.5h0M71.3 66.6h0M77.4 61.5h0M67.3 69.9h0" stroke="#02bac3" stroke-width="1.5" stroke-linecap="round"/>
<path d="M88.4 54.6h0M88.9 54.2h0" stroke="#31c69f" stroke-width="1.3" stroke-linecap="round"/>
<path d="M44.8 85.4h0M50.0 81.2h0M52.1 79.8h0" stroke="#3875fe" stroke-width="1.5" stroke-linecap="round"/>
<path d="M64.0 72.5h0M67.5 70.1h0M68.8 69.1h0M62.2 72.6h0M66.0 70.3h0M67.1 69.8h0M64.2 71.1h0M65.8 70.2h0M63.9 72.5h0M67.2 69.8h0M61.2 73.5h0M64.7 72.2h0M65.7 69.6h0M68.3 69.8h0M64.2 70.9h0M65.0 70.7h0" stroke="#08b5d0" stroke-width="1.5" stroke-linecap="round"/>
<path d="M45.9 84.0h0M49.6 82.3h0M49.3 81.8h0M47.2 84.2h0M43.6 86.8h0M48.4 82.9h0M44.9 84.8h0M48.7 82.0h0" stroke="#3e6fff" stroke-width="1.5" stroke-linecap="round"/>
<path d="M92.4 39.0h0M99.2 33.8h0M95.2 36.7h0" stroke="#f7dc2a" stroke-width="1.2" stroke-linecap="round"/>
<path d="M140.4 25.7h0M114.0 30.4h0M112.3 31.5h0M134.5 30.8h0" stroke="#f5e327" stroke-width="1.1" stroke-linecap="round"/>
<path d="M30.6 96.6h0M33.0 93.9h0M30.0 96.6h0M27.8 98.4h0M30.1 96.9h0M28.6 97.5h0M27.7 97.7h0M23.1 101.0h0M27.8 97.9h0M31.9 95.1h0M34.3 93.8h0M28.5 97.1h0M33.1 94.9h0M35.4 93.4h0M30.5 96.8h0M29.9 97.2h0M29.1 97.8h0" stroke="#4741e5" stroke-width="1.5" stroke-linecap="round"/>
<path d="M126.6 34.1h0M110.7 43.1h0" stroke="#fec934" stroke-width="1.3" stroke-linecap="round"/>
<path d="M96.9 35.4h0M99.4 33.7h0" stroke="#f6ef20" stroke-width="1.2" stroke-linecap="round"/>
<path d="M26.6 98.4h0M22.3 102.0h0M22.8 101.3h0M21.6 102.4h0M27.0 98.3h0M29.1 97.6h0M21.8 102.3h0M23.0 101.8h0M22.1 101.8h0M23.4 100.9h0M21.9 102.2h0M22.3 101.7h0M24.7 100.6h0M29.4 96.6h0M25.5 100.0h0" stroke="#4332cb" stroke-width="1.5" stroke-linecap="round"/>
<path d="M54.0 79.2h0M50.7 82.0h0M50.2 81.5h0M50.7 82.8h0M52.7 80.2h0" stroke="#2d8cf3" stroke-width="1.5" stroke-linecap="round"/>
<path d="M60.7 74.2h0M52.5 80.7h0M55.7 78.4h0M53.4 78.8h0M50.3 80.8h0M55.6 78.7h0M52.8 79.1h0M54.5 77.7h0M56.1 78.5h0" stroke="#2b91ef" stroke-width="1.5" stroke-linecap="round"/>
<path d="M22.1 102.3h0M25.0 99.9h0M24.6 100.1h0M24.5 100.0h0" stroke="#402ab4" stroke-width="1.5" stroke-linecap="round"/>
<path d="M22.2 102.0h0M23.4 101.6h0M26.7 99.1h0" stroke="#3e26a8" stroke-width="1.5" stroke-linecap="round"/>
<path d="M56.2 78.0h0M57.8 76.4h0M57.7 75.6h0M62.7 73.0h0M57.6 75.6h0M55.9 78.9h0M54.9 79.0h0M59.7 74.1h0" stroke="#23a0e5" stroke-width="1.5" stroke-linecap="round"/>
<path d="M71.5 65.7h0M79.7 60.6h0M82.9 57.5h0M81.7 59.4h0M83.7 57.8h0M77.4 61.2h0M85.9 56.1h0" stroke="#37c897" stroke-width="1.5" stroke-linecap="round"/>
<path d="M79.5 60.0h0M79.5 61.1h0M81.4 58.8h0M70.9 66.8h0M83.2 57.9h0M72.4 65.5h0M66.1 70.2h0M85.3 56.5h0M71.4 65.9h0M70.6 67.1h0M78.3 61.0h0M67.1 69.9h0M75.8 63.5h0M64.8 70.8h0M80.9 59.2h0" stroke="#24c1ae" stroke-width="1.5" stroke-linecap="round"/>
<path d="M40.4 89.1h0M38.2 90.4h0M33.1 93.9h0M27.3 98.6h0M33.8 93.5h0M31.8 95.1h0M41.6 87.4h0M30.4 95.5h0M29.8 96.4h0M36.9 91.8h0M30.8 95.5h0M29.7 96.4h0M31.4 94.9h0M35.0 93.3h0M27.2 98.3h0" stroke="#4747eb" stroke-width="1.5" stroke-linecap="round"/>
<path d="M99.0 36.7h0M98.6 34.2h0M91.8 39.9h0" stroke="#f5e924" stroke-width="1.2" stroke-linecap="round"/>
<path d="M87.5 45.8h0M88.6 44.1h0M85.7 46.2h0M90.1 42.5h0M83.8 48.1h0M87.1 45.3h0M84.2 47.9h0" stroke="#e6bb2d" stroke-width="1.5" stroke-linecap="round"/>
<path d="M89.8 54.1h0M93.4 51.8h0" stroke="#64cd6f" stroke-width="1.3" stroke-linecap="round"/>
<path d="M126.8 34.3h0M124.0 36.1h0M118.0 39.4h0M117.9 38.9h0M123.3 36.1h0M122.1 36.9h0M127.2 34.0h0" stroke="#fec338" stroke-width="1.3" stroke-linecap="round"/>
<path d="M90.3 53.7h0" stroke="#57cc7a" stroke-width="1.3" stroke-linecap="round"/>
<path d="M87.8 44.2h0" stroke="#c5c22a" stroke-width="1.5" stroke-linecap="round"/>
<path d="M27.0 98.3h0M22.3 102.2h0M24.4 100.4h0M23.4 101.0h0M25.5 99.9h0M27.8 98.2h0M25.1 99.9h0M23.5 101.3h0M22.4 102.0h0" stroke="#4537d5" stroke-width="1.5" stroke-linecap="round"/>
<path d="M69.5 71.1h0M103.2 46.3h0M103.7 46.6h0M102.8 47.1h0M70.7 69.2h0M107.6 44.5h0M64.8 72.1h0M68.6 70.2h0M103.0 47.0h0" stroke="#d1bf27" stroke-width="1.3" stroke-linecap="round"/>
<path d="M40.8 89.2h0M39.1 89.5h0M33.7 93.5h0M31.3 95.4h0M47.2 84.5h0M37.8 91.6h0M39.4 90.5h0M40.1 89.1h0M40.1 89.3h0M37.5 90.9h0M41.5 88.8h0M42.3 88.3h0" stroke="#4758f8" stroke-width="1.5" stroke-linecap="round"/>
<path d="M59.8 74.8h0M60.6 73.3h0M62.0 74.0h0M65.3 71.2h0M58.7 74.6h0" stroke="#1ca9df" stroke-width="1.5" stroke-linecap="round"/>
<path d="M60.7 74.4h0M62.1 74.1h0M60.7 74.7h0M59.2 76.3h0M58.0 77.2h0M60.6 74.7h0M59.5 74.6h0M57.6 76.0h0M57.1 75.9h0" stroke="#20a5e3" stroke-width="1.5" stroke-linecap="round"/>
<path d="M32.7 94.6h0M35.5 92.7h0M31.2 95.2h0M38.7 90.6h0M32.6 94.0h0M35.6 92.3h0M37.9 91.2h0M32.9 93.8h0" stroke="#484df0" stroke-width="1.5" stroke-linecap="round"/>
<path d="M87.7 44.9h0M84.6 47.5h0M89.7 42.7h0M90.1 41.4h0" stroke="#febe3c" stroke-width="1.5" stroke-linecap="round"/>
<path d="M94.9 36.8h0M94.5 40.4h0M92.8 41.9h0M97.1 38.1h0" stroke="#f5e327" stroke-width="1.2" stroke-linecap="round"/>
<path d="M98.0 49.4h0M97.0 49.8h0" stroke="#81cc59" stroke-width="1.3" stroke-linecap="round"/>
<path d="M117.7 38.9h0M126.0 34.9h0M64.4 72.5h0M122.3 37.2h0M114.7 41.2h0M117.7 39.6h0M123.2 36.5h0M114.0 40.8h0M125.5 35.2h0M121.8 37.0h0M69.3 69.9h0M124.4 35.9h0M121.9 37.1h0M124.1 36.1h0M112.6 41.4h0" stroke="#febe3c" stroke-width="1.3" stroke-linecap="round"/>
<path d="M41.3 87.9h0M44.1 87.5h0M42.3 87.3h0M45.0 85.9h0M41.7 88.1h0M49.7 82.9h0M45.5 85.5h0M49.5 81.8h0M42.2 88.8h0M41.4 88.1h0M42.9 87.9h0M47.9 82.7h0" stroke="#4269fe" stroke-width="1.5" stroke-linecap="round"/>
<path d="M54.6 78.8h0M52.8 80.3h0M52.9 78.8h0M53.9 79.0h0M52.5 81.5h0M51.4 79.9h0" stroke="#2e87f7" stroke-width="1.5" stroke-linecap="round"/>
<path d="M110.1 43.4h0M111.0 42.3h0M114.3 41.5h0M66.5 73.0h0M112.8 42.0h0M105.7 45.1h0M108.0 44.2h0M65.8 72.4h0M69.8 70.5h0M111.2 42.2h0M114.4 40.7h0M71.1 70.1h0M65.6 73.0h0M68.8 71.0h0M71.6 69.4h0" stroke="#e6bb2d" stroke-width="1.3" stroke-linecap="round"/>
<path d="M104.8 45.4h0M100.9 47.6h0M105.5 45.3h0M100.9 47.3h0M104.4 46.2h0" stroke="#abc739" stroke-width="1.3" stroke-linecap="round"/>
<path d="M87.7 55.1h0M87.6 54.7h0M88.4 54.4h0M85.7 55.8h0" stroke="#37c897" stroke-width="1.3" stroke-linecap="round"/>
<path d="M95.6 50.9h0M92.9 51.7h0M97.6 49.1h0M93.7 51.2h0M94.0 51.5h0M93.1 52.1h0M99.3 48.9h0M96.4 50.2h0" stroke="#72cd64" stroke-width="1.3" stroke-linecap="round"/>
<path d="M59.8 75.9h0M68.4 67.6h0M75.3 62.8h0M65.5 70.5h0M68.3 68.1h0M69.6 67.4h0M73.3 65.5h0M69.3 67.5h0M75.1 64.2h0M73.6 65.0h0M64.0 71.6h0M77.6 61.5h0" stroke="#01b8ca" stroke-width="1.5" stroke-linecap="round"/>
<path d="M76.8 62.3h0M74.6 64.7h0M68.2 68.3h0M73.0 65.3h0M76.8 62.6h0M74.5 64.5h0M70.8 67.3h0M76.8 62.5h0M82.8 58.1h0M82.1 58.7h0M82.1 58.7h0M75.0 63.1h0" stroke="#19bfb6" stroke-width="1.5" stroke-linecap="round"/>
<path d="M89.5 43.7h0M84.0 48.6h0M85.2 47.9h0M89.8 42.5h0M87.5 45.6h0M85.9 46.3h0M87.1 46.3h0M90.1 41.5h0M88.7 44.4h0M87.4 45.9h0M82.4 49.2h0M90.2 43.7h0M90.0 42.6h0" stroke="#f0ba36" stroke-width="1.5" stroke-linecap="round"/>
<path d="M105.0 45.5h0M104.3 46.0h0M104.7 46.3h0M108.1 44.0h0M105.0 45.7h0M102.9 46.7h0M106.4 45.4h0" stroke="#c5c22a" stroke-width="1.3" stroke-linecap="round"/>
<path d="M104.5 45.5h0M105.4 45.8h0M103.3 46.4h0M102.3 47.6h0M73.0 67.8h0M102.6 46.5h0" stroke="#b9c431" stroke-width="1.3" stroke-linecap="round"/>
<path d="M129.8 32.8h0M131.9 32.4h0M139.5 26.2h0M113.9 30.9h0M114.6 31.0h0" stroke="#f5e924" stroke-width="1.1" stroke-linecap="round"/>
<path d="M101.8 47.6h0M97.4 49.4h0M100.0 48.0h0M100.9 47.7h0M99.1 49.0h0" stroke="#9dc943" stroke-width="1.3" stroke-linecap="round"/>
<path d="M48.1 84.4h0M53.5 78.7h0M51.4 80.4h0M52.0 79.9h0M48.0 82.9h0M45.1 85.9h0" stroke="#327cfc" stroke-width="1.5" stroke-linecap="round"/>
<path d="M114.8 30.6h0M130.8 31.8h0" stroke="#f7dc2a" stroke-width="1.1" stroke-linecap="round"/>
<path d="M116.6 39.9h0M63.6 73.7h0M112.5 41.5h0M64.8 73.8h0M115.4 40.2h0M119.7 38.6h0M110.0 42.7h0M69.1 71.0h0M115.4 40.6h0M116.1 40.2h0M114.5 41.1h0M124.8 35.9h0M113.6 41.4h0M112.8 42.2h0M111.2 42.8h0M111.8 42.3h0M115.6 40.4h0" stroke="#f0ba36" stroke-width="1.3" stroke-linecap="round"/>
<path d="M60.8 75.1h0M63.4 71.4h0M60.2 75.1h0M76.6 61.9h0M63.7 72.2h0M62.2 73.1h0M53.1 79.9h0M65.4 71.5h0M64.8 72.4h0" stroke="#18addb" stroke-width="1.5" stroke-linecap="round"/>
<path d="M94.7 40.1h0" stroke="#fec934" stroke-width="1.2" stroke-linecap="round"/>
<path d="M90.3 42.0h0M83.6 48.5h0M85.4 46.9h0M85.1 47.4h0M90.0 44.4h0M85.9 46.1h0M84.7 48.1h0M90.8 43.8h0M87.5 45.9h0" stroke="#f8ba3d" stroke-width="1.5" stroke-linecap="round"/>
<path d="M133.9 31.2h0M130.8 32.3h0" stroke="#fad62d" stroke-width="1.1" stroke-linecap="round"/>
<path d="M86.5 46.6h0M83.0 48.7h0M83.5 49.0h0M87.1 44.7h0M89.6 42.5h0" stroke="#fec338" stroke-width="1.5" stroke-linecap="round"/>
<path d="M56.1 78.5h0M53.8 79.9h0" stroke="#259be8" stroke-width="1.5" stroke-linecap="round"/>
<path d="M48.1 82.8h0M47.7 84.3h0M51.7 81.0h0M50.1 83.3h0M48.5 83.8h0M51.5 79.9h0M48.0 84.0h0" stroke="#2f81fa" stroke-width="1.5" stroke-linecap="round"/>
<path d="M116.0 40.3h0M70.1 71.1h0M126.4 34.9h0M111.2 42.4h0M118.5 38.4h0M126.9 33.9h0M121.2 37.1h0M107.6 44.4h0M113.8 41.5h0M110.1 43.3h0M123.0 36.7h0M124.7 35.3h0M124.2 36.2h0M119.3 38.6h0M65.4 73.3h0M113.3 41.4h0M114.8 41.1h0M116.6 40.0h0M118.3 39.3h0M114.6 40.8h0M111.0 43.1h0M111.7 42.2h0M125.6 34.7h0M116.8 39.7h0" stroke="#f8ba3d" stroke-width="1.3" stroke-linecap="round"/>
<path d="M30.8 96.1h0M24.4 100.5h0M38.4 90.1h0M34.0 93.1h0M23.8 101.3h0M33.8 93.1h0M29.0 97.0h0M32.4 94.8h0M25.9 99.4h0M22.5 101.7h0M33.0 93.9h0M27.0 98.8h0M33.5 93.5h0M37.0 90.6h0M23.0 101.3h0" stroke="#463cde" stroke-width="1.5" stroke-linecap="round"/>
<path d="M86.3 55.4h0M88.4 54.7h0M89.8 54.2h0M88.8 54.0h0M88.2 55.0h0" stroke="#3fca8e" stroke-width="1.3" stroke-linecap="round"/>
<path d="M78.9 61.3h0M73.5 64.6h0M76.5 62.2h0M68.8 68.7h0M72.3 65.7h0M75.4 63.8h0M70.8 67.2h0M75.1 63.3h0M64.9 71.8h0M81.9 58.2h0M73.5 64.3h0M71.3 66.4h0" stroke="#0bbdbd" stroke-width="1.5" stroke-linecap="round"/>
<path d="M56.2 77.7h0M50.4 82.4h0" stroke="#2797eb" stroke-width="1.5" stroke-linecap="round"/>
<path d="M83.9 57.5h0M76.0 62.7h0M85.8 56.2h0" stroke="#3fca8e" stroke-width="1.5" stroke-linecap="round"/>
<path d="M85.7 47.6h0" stroke="#fccf30" stroke-width="1.5" stroke-linecap="round"/>
<path d="M27.3 98.7h0M22.1 101.8h0M32.2 94.2h0M24.6 100.4h0M24.1 101.1h0M26.1 99.3h0M28.3 98.2h0M22.0 102.1h0M22.7 101.4h0" stroke="#422ec0" stroke-width="1.5" stroke-linecap="round"/>
<path d="M40.5 88.1h0M43.3 86.7h0M33.6 94.0h0M44.1 87.2h0M39.5 89.2h0M47.7 83.9h0" stroke="#4563fd" stroke-width="1.5" stroke-linecap="round"/>
<path d="M36.7 91.4h0M45.1 86.3h0M41.0 87.6h0M37.1 92.1h0M40.0 90.0h0M39.6 88.7h0M38.4 90.9h0M45.0 85.9h0" stroke="#465efb" stroke-width="1.5" stroke-linecap="round"/>
<path d="M60.6 74.4h0M65.3 71.0h0M65.2 71.5h0M61.2 74.4h0M64.4 72.5h0M59.9 75.8h0" stroke="#12b1d6" stroke-width="1.5" stroke-linecap="round"/>
<path d="M79.0 61.3h0M84.4 56.9h0M80.3 60.5h0M73.0 66.0h0M78.3 62.0h0M82.8 58.2h0M85.2 56.8h0M82.3 57.9h0M81.4 58.9h0M79.9 60.1h0M75.8 62.8h0M82.8 58.1h0" stroke="#31c69f" stroke-width="1.5" stroke-linecap="round"/>
<path d="M84.0 47.9h0" stroke="#dcbd29" stroke-width="1.5" stroke-linecap="round"/>
<path d="M113.6 31.3h0M112.9 31.2h0M132.4 31.7h0" stroke="#f6ef20" stroke-width="1.1" stroke-linecap="round"/>
<path d="M90.5 53.0h0M94.4 50.8h0" stroke="#4acb84" stroke-width="1.3" stroke-linecap="round"/>
<path d="M69.6 70.6h0M109.3 43.9h0M110.6 42.9h0M72.3 69.5h0M106.6 44.9h0M104.4 46.1h0" stroke="#dcbd29" stroke-width="1.3" stroke-linecap="round"/>
<rect x="21.3" y="16.3" width="120.00" height="86.40" fill="none" stroke="#8c8c8c" stroke-width="0.7"/>
<line x1="39.76" y1="102.7" x2="39.76" y2="101.5" stroke="#777" stroke-width="0.6"/>
<line x1="39.76" y1="16.3" x2="39.76" y2="17.5" stroke="#777" stroke-width="0.6"/>
<line x1="58.22" y1="102.7" x2="58.22" y2="101.5" stroke="#777" stroke-width="0.6"/>
<line x1="58.22" y1="16.3" x2="58.22" y2="17.5" stroke="#777" stroke-width="0.6"/>
<line x1="76.68" y1="102.7" x2="76.68" y2="101.5" stroke="#777" stroke-width="0.6"/>
<line x1="76.68" y1="16.3" x2="76.68" y2="17.5" stroke="#777" stroke-width="0.6"/>
<line x1="95.15" y1="102.7" x2="95.15" y2="101.5" stroke="#777" stroke-width="0.6"/>
<line x1="95.15" y1="16.3" x2="95.15" y2="17.5" stroke="#777" stroke-width="0.6"/>
<line x1="113.61" y1="102.7" x2="113.61" y2="101.5" stroke="#777" stroke-width="0.6"/>
<line x1="113.61" y1="16.3" x2="113.61" y2="17.5" stroke="#777" stroke-width="0.6"/>
<line x1="132.07" y1="102.7" x2="132.07" y2="101.5" stroke="#777" stroke-width="0.6"/>
<line x1="132.07" y1="16.3" x2="132.07" y2="17.5" stroke="#777" stroke-width="0.6"/>
<line x1="21.3" y1="89.41" x2="22.5" y2="89.41" stroke="#777" stroke-width="0.6"/>
<line x1="141.3" y1="89.41" x2="140.10000000000002" y2="89.41" stroke="#777" stroke-width="0.6"/>
<line x1="21.3" y1="76.12" x2="22.5" y2="76.12" stroke="#777" stroke-width="0.6"/>
<line x1="141.3" y1="76.12" x2="140.10000000000002" y2="76.12" stroke="#777" stroke-width="0.6"/>
<line x1="21.3" y1="62.82" x2="22.5" y2="62.82" stroke="#777" stroke-width="0.6"/>
<line x1="141.3" y1="62.82" x2="140.10000000000002" y2="62.82" stroke="#777" stroke-width="0.6"/>
<line x1="21.3" y1="49.53" x2="22.5" y2="49.53" stroke="#777" stroke-width="0.6"/>
<line x1="141.3" y1="49.53" x2="140.10000000000002" y2="49.53" stroke="#777" stroke-width="0.6"/>
<line x1="21.3" y1="36.24" x2="22.5" y2="36.24" stroke="#777" stroke-width="0.6"/>
<line x1="141.3" y1="36.24" x2="140.10000000000002" y2="36.24" stroke="#777" stroke-width="0.6"/>
<line x1="21.3" y1="22.95" x2="22.5" y2="22.95" stroke="#777" stroke-width="0.6"/>
<line x1="141.3" y1="22.95" x2="140.10000000000002" y2="22.95" stroke="#777" stroke-width="0.6"/>
<text x="39.76" y="111.00" font-size="6.5" text-anchor="middle" fill="#262626">2</text>
<text x="58.22" y="111.00" font-size="6.5" text-anchor="middle" fill="#262626">4</text>
<text x="76.68" y="111.00" font-size="6.5" text-anchor="middle" fill="#262626">6</text>
<text x="95.15" y="111.00" font-size="6.5" text-anchor="middle" fill="#262626">8</text>
<text x="113.61" y="111.00" font-size="6.5" text-anchor="middle" fill="#262626">10</text>
<text x="132.07" y="111.00" font-size="6.5" text-anchor="middle" fill="#262626">12</text>
<text x="19.40" y="91.51" font-size="6.5" text-anchor="end" fill="#262626">2</text>
<text x="19.40" y="78.22" font-size="6.5" text-anchor="end" fill="#262626">4</text>
<text x="19.40" y="64.92" font-size="6.5" text-anchor="end" fill="#262626">6</text>
<text x="19.40" y="51.63" font-size="6.5" text-anchor="end" fill="#262626">8</text>
<text x="19.40" y="38.34" font-size="6.5" text-anchor="end" fill="#262626">10</text>
<text x="19.40" y="25.05" font-size="6.5" text-anchor="end" fill="#262626">12</text>
<text x="21.90" y="15.50" font-size="7.0" fill="#555"><tspan>×10</tspan><tspan dy="-2.8" font-size="4.6">-6</tspan></text>
<text x="141.80" y="121.60" font-size="7.0" fill="#555" text-anchor="end"><tspan>×10</tspan><tspan dy="-2.8" font-size="4.6">-6</tspan></text>
<text x="81.30" y="120.00" font-size="6.7" text-anchor="middle" fill="#262626">Actual</text>
<text x="0" y="0" transform="translate(9.30,60.10) rotate(-90)" font-size="7.1" text-anchor="middle" fill="#262626">Predicted</text>
<text x="26.30" y="29.20" font-size="10" font-weight="bold" fill="#000">a)</text>
<text x="82.10" y="11.80" font-size="7.1" font-weight="bold" text-anchor="middle" fill="#000" xml:space="preserve"><tspan>ATR100</tspan><tspan dy="2.9" font-size="5.2">CO2</tspan><tspan dy="-2.9">;  R</tspan><tspan dy="-2.6" font-size="5.3">2</tspan><tspan dy="2.6">: 0.99402</tspan></text>
<line x1="200.08" y1="16.3" x2="200.08" y2="102.7" stroke="#ebebeb" stroke-width="0.6"/>
<line x1="226.56" y1="16.3" x2="226.56" y2="102.7" stroke="#ebebeb" stroke-width="0.6"/>
<line x1="253.05" y1="16.3" x2="253.05" y2="102.7" stroke="#ebebeb" stroke-width="0.6"/>
<line x1="279.53" y1="16.3" x2="279.53" y2="102.7" stroke="#ebebeb" stroke-width="0.6"/>
<line x1="173.6" y1="83.71" x2="293.3" y2="83.71" stroke="#ebebeb" stroke-width="0.6"/>
<line x1="173.6" y1="64.72" x2="293.3" y2="64.72" stroke="#ebebeb" stroke-width="0.6"/>
<line x1="173.6" y1="45.73" x2="293.3" y2="45.73" stroke="#ebebeb" stroke-width="0.6"/>
<line x1="173.6" y1="26.74" x2="293.3" y2="26.74" stroke="#ebebeb" stroke-width="0.6"/>
<line x1="173.6" y1="102.7" x2="293.3" y2="16.3" stroke="#222" stroke-width="1.05"/>
<path d="M187.1 91.7h0M233.5 67.4h0M250.7 50.2h0M245.6 55.6h0M240.7 62.0h0M244.6 60.5h0M209.0 76.2h0M241.7 62.1h0M246.9 61.5h0M183.1 93.7h0M207.5 75.3h0M244.4 64.2h0M184.6 92.2h0M181.8 94.5h0" stroke="#0bbdbd" stroke-width="1.6" stroke-linecap="round"/>
<path d="M203.2 70.3h0M258.0 20.3h0M216.2 58.6h0M201.6 84.8h0" stroke="#fad62d" stroke-width="1.8" stroke-linecap="round"/>
<path d="M198.2 93.8h0M191.3 84.1h0M195.2 93.4h0M203.2 87.8h0M199.3 89.6h0M195.2 91.1h0M194.3 81.5h0M196.5 92.0h0M187.1 89.7h0M207.3 86.6h0M205.4 82.7h0M197.2 78.5h0M217.3 77.8h0M188.4 87.2h0M199.9 91.0h0" stroke="#2797eb" stroke-width="1.6" stroke-linecap="round"/>
<path d="M194.7 96.7h0" stroke="#2f81fa" stroke-width="1.6" stroke-linecap="round"/>
<path d="M196.7 95.3h0M191.8 87.3h0M202.9 96.4h0M225.7 71.6h0M224.7 72.5h0M205.7 85.3h0M199.5 77.7h0M220.0 79.2h0M227.9 70.7h0M203.8 92.6h0M216.4 78.9h0M203.5 87.7h0M192.6 102.0h0M185.6 100.6h0M209.9 89.3h0M196.9 95.8h0M201.1 90.5h0M195.8 83.3h0M202.8 91.6h0" stroke="#23a0e5" stroke-width="1.6" stroke-linecap="round"/>
<path d="M195.2 95.6h0M195.4 93.2h0M200.4 88.4h0M211.3 80.7h0M205.2 89.1h0M216.2 79.4h0M195.3 87.0h0M209.3 75.0h0M212.8 80.6h0M209.7 81.4h0M196.1 91.1h0M192.3 86.3h0M209.1 83.5h0M207.3 75.3h0M204.1 81.4h0M194.6 86.5h0M203.2 85.3h0M201.4 76.5h0" stroke="#259be8" stroke-width="1.6" stroke-linecap="round"/>
<path d="M186.5 92.5h0M209.4 81.1h0M197.4 81.3h0M204.1 83.3h0M201.3 78.7h0M203.6 78.1h0M201.8 82.2h0M188.7 85.5h0" stroke="#2d8cf3" stroke-width="1.6" stroke-linecap="round"/>
<path d="M228.0 39.9h0M203.6 80.6h0M256.4 37.9h0M196.3 77.6h0M255.9 23.4h0" stroke="#febe3c" stroke-width="1.8" stroke-linecap="round"/>
<path d="M200.8 80.8h0M209.8 80.1h0M236.0 66.5h0M243.7 59.4h0M204.9 81.8h0M245.2 57.1h0M246.0 57.6h0M200.1 80.1h0M228.0 71.3h0M207.6 80.5h0M247.0 54.1h0M198.0 83.7h0M203.7 83.6h0" stroke="#19bfb6" stroke-width="1.6" stroke-linecap="round"/>
<path d="M206.3 77.0h0M243.2 56.2h0M243.2 73.5h0M218.6 61.8h0M234.5 76.1h0M244.4 51.2h0M192.9 81.9h0M244.4 46.4h0M231.0 77.1h0M241.2 73.3h0M237.3 74.0h0M234.8 73.6h0" stroke="#3fca8e" stroke-width="1.5" stroke-linecap="round"/>
<path d="M233.4 54.4h0M222.4 62.6h0M201.6 78.2h0M197.4 76.9h0" stroke="#fad62d" stroke-width="1.5" stroke-linecap="round"/>
<path d="M230.1 60.7h0M211.0 65.0h0M180.1 94.1h0" stroke="#febe3c" stroke-width="1.5" stroke-linecap="round"/>
<path d="M253.3 48.9h0M184.9 89.9h0M195.6 87.5h0M192.6 88.1h0M181.5 93.5h0M198.6 81.8h0M249.0 48.4h0M181.9 101.0h0M193.1 86.7h0M249.3 50.8h0M199.9 81.4h0M196.4 94.1h0M248.5 50.0h0" stroke="#37c897" stroke-width="1.6" stroke-linecap="round"/>
<path d="M244.8 49.9h0M218.7 64.0h0M219.9 66.9h0M219.5 65.9h0M201.1 82.8h0" stroke="#18addb" stroke-width="1.5" stroke-linecap="round"/>
<path d="M232.8 75.0h0M230.7 77.9h0M258.0 45.6h0M230.1 77.8h0M211.9 67.6h0M197.1 78.6h0M242.9 47.0h0M249.0 39.4h0M239.1 73.4h0M245.2 42.2h0M239.4 57.2h0M218.0 66.3h0M239.3 73.0h0" stroke="#64cd6f" stroke-width="1.5" stroke-linecap="round"/>
<path d="M202.2 95.8h0M203.1 83.9h0M192.8 101.7h0M196.8 96.5h0M206.0 79.8h0M196.1 99.0h0M206.3 88.8h0M191.1 85.9h0M197.9 92.5h0M191.3 101.5h0M200.3 95.5h0M199.8 92.5h0M193.7 95.0h0" stroke="#f0ba36" stroke-width="1.6" stroke-linecap="round"/>
<path d="M201.2 83.8h0" stroke="#8fcb4e" stroke-width="1.8" stroke-linecap="round"/>
<path d="M229.5 65.1h0M209.4 73.5h0M239.9 57.1h0M221.7 66.1h0M232.0 61.1h0" stroke="#fccf30" stroke-width="1.5" stroke-linecap="round"/>
<path d="M252.2 44.7h0M248.3 48.2h0M210.9 66.9h0" stroke="#8fcb4e" stroke-width="1.5" stroke-linecap="round"/>
<path d="M193.6 101.6h0M207.2 90.3h0M189.3 88.0h0M201.6 98.6h0M197.3 93.9h0M213.7 73.2h0M191.0 99.4h0M185.2 101.8h0" stroke="#febe3c" stroke-width="1.6" stroke-linecap="round"/>
<path d="M254.3 32.3h0M249.6 27.9h0" stroke="#e6bb2d" stroke-width="1.8" stroke-linecap="round"/>
<path d="M219.5 71.2h0M231.6 54.7h0M228.6 65.8h0" stroke="#20a5e3" stroke-width="1.5" stroke-linecap="round"/>
<path d="M215.5 64.5h0M219.0 64.6h0M232.6 74.7h0M230.9 78.5h0M205.1 67.8h0M211.2 72.6h0" stroke="#24c1ae" stroke-width="1.5" stroke-linecap="round"/>
<path d="M237.9 53.0h0M201.4 81.7h0M220.4 65.0h0M198.0 81.7h0M228.8 58.7h0" stroke="#23a0e5" stroke-width="1.5" stroke-linecap="round"/>
<path d="M246.0 37.7h0M245.2 30.2h0M194.9 78.0h0M255.8 32.3h0M238.6 40.3h0M231.3 39.6h0M224.5 66.1h0M230.5 34.2h0" stroke="#fccf30" stroke-width="1.8" stroke-linecap="round"/>
<path d="M233.9 51.7h0M184.0 94.1h0M234.9 50.8h0M219.1 63.8h0M234.0 62.6h0" stroke="#f0ba36" stroke-width="1.5" stroke-linecap="round"/>
<path d="M191.2 94.9h0M197.8 90.8h0M178.9 99.0h0M203.6 87.3h0M184.6 97.0h0M179.7 99.8h0M183.1 96.8h0" stroke="#4747eb" stroke-width="1.6" stroke-linecap="round"/>
<path d="M252.5 49.2h0M251.5 48.3h0M186.7 101.6h0M197.7 100.8h0M208.2 90.3h0M198.8 97.3h0" stroke="#64cd6f" stroke-width="1.6" stroke-linecap="round"/>
<path d="M246.0 46.1h0M247.0 71.7h0M241.8 58.2h0M245.0 43.8h0M244.0 68.4h0M211.9 70.8h0M238.9 56.3h0M241.9 48.8h0M208.2 78.6h0M241.7 72.3h0M247.7 41.4h0M239.5 73.5h0M239.0 73.9h0M195.1 86.4h0M228.1 58.1h0M236.7 78.3h0" stroke="#81cc59" stroke-width="1.5" stroke-linecap="round"/>
<path d="M178.1 98.4h0M211.6 81.4h0" stroke="#4269fe" stroke-width="1.6" stroke-linecap="round"/>
<path d="M199.5 79.6h0M195.9 94.5h0M193.3 101.6h0M195.7 96.2h0M213.7 87.8h0M196.2 96.4h0M183.6 92.8h0M181.9 101.6h0M211.7 73.9h0M201.8 90.5h0" stroke="#fccf30" stroke-width="1.6" stroke-linecap="round"/>
<path d="M195.9 88.9h0M199.7 87.3h0M178.0 102.4h0M206.7 87.2h0M185.5 94.5h0M205.1 87.4h0M189.2 91.6h0M181.0 99.2h0" stroke="#4563fd" stroke-width="1.6" stroke-linecap="round"/>
<path d="M256.2 18.4h0" stroke="#f6ef20" stroke-width="1.8" stroke-linecap="round"/>
<path d="M253.3 62.6h0" stroke="#febe3c" stroke-width="1.4" stroke-linecap="round"/>
<path d="M219.8 78.4h0M180.6 94.9h0M212.1 73.1h0M214.4 80.1h0M193.9 93.9h0M188.6 89.3h0M186.0 90.8h0M211.4 79.9h0M213.1 80.4h0M205.6 76.0h0M179.7 95.2h0" stroke="#2b91ef" stroke-width="1.6" stroke-linecap="round"/>
<path d="M230.7 69.9h0M208.3 83.6h0M239.8 64.2h0M240.4 66.6h0M242.8 60.8h0M247.6 58.1h0M205.4 81.6h0M240.8 66.5h0M232.5 70.7h0M244.6 62.7h0M206.9 81.6h0M200.0 83.7h0" stroke="#02bac3" stroke-width="1.6" stroke-linecap="round"/>
<path d="M190.5 94.3h0M197.9 87.9h0M191.0 91.7h0M200.2 89.0h0M183.4 95.3h0M206.1 84.2h0M181.4 95.3h0M191.9 90.8h0M202.1 86.9h0M199.4 88.9h0M174.6 102.0h0M211.5 84.0h0" stroke="#4758f8" stroke-width="1.6" stroke-linecap="round"/>
<path d="M223.1 63.5h0" stroke="#31c69f" stroke-width="1.8" stroke-linecap="round"/>
<path d="M202.4 96.2h0M208.0 88.3h0M195.0 95.4h0M208.9 91.4h0" stroke="#e6bb2d" stroke-width="1.6" stroke-linecap="round"/>
<path d="M255.6 63.3h0M251.2 69.3h0" stroke="#fec338" stroke-width="1.4" stroke-linecap="round"/>
<path d="M249.0 68.3h0" stroke="#d1bf27" stroke-width="1.5" stroke-linecap="round"/>
<path d="M201.7 93.7h0M189.4 96.9h0M193.0 99.3h0M208.6 89.3h0M203.4 93.9h0M205.7 81.5h0M194.2 97.0h0M187.0 100.5h0M207.0 75.8h0" stroke="#fec338" stroke-width="1.6" stroke-linecap="round"/>
<path d="M191.6 98.5h0M197.8 82.9h0M188.9 99.3h0M251.3 50.1h0M213.5 79.1h0M250.0 52.3h0M211.0 75.1h0M211.3 80.0h0M190.9 102.1h0M210.3 87.9h0M208.8 74.2h0M243.1 63.6h0M249.2 56.0h0M205.4 92.9h0M193.9 101.0h0" stroke="#3fca8e" stroke-width="1.6" stroke-linecap="round"/>
<path d="M209.1 78.7h0" stroke="#81cc59" stroke-width="1.8" stroke-linecap="round"/>
<path d="M221.4 58.7h0M233.6 52.5h0M214.8 68.6h0" stroke="#f7dc2a" stroke-width="1.5" stroke-linecap="round"/>
<path d="M197.4 98.4h0M200.1 93.0h0M208.2 91.8h0" stroke="#81cc59" stroke-width="1.6" stroke-linecap="round"/>
<path d="M242.1 54.8h0M244.5 54.4h0M209.7 72.7h0M249.3 40.8h0M242.4 53.1h0M242.5 55.6h0M211.7 69.4h0M245.3 48.6h0M200.2 73.5h0M227.3 75.8h0" stroke="#31c69f" stroke-width="1.5" stroke-linecap="round"/>
<path d="M212.8 84.7h0M192.4 91.8h0M195.7 90.7h0M203.4 87.0h0M190.6 91.9h0M183.1 94.6h0M206.6 84.7h0M176.6 98.7h0M181.9 95.9h0M191.8 93.0h0M181.2 95.7h0" stroke="#4332cb" stroke-width="1.6" stroke-linecap="round"/>
<path d="M194.1 94.0h0M193.9 92.4h0" stroke="#2e87f7" stroke-width="1.6" stroke-linecap="round"/>
<path d="M248.0 49.4h0M250.3 45.5h0M248.5 43.9h0M217.2 69.9h0M245.2 54.7h0M240.3 75.0h0M246.3 68.9h0" stroke="#72cd64" stroke-width="1.5" stroke-linecap="round"/>
<path d="M256.6 63.4h0" stroke="#e6bb2d" stroke-width="1.4" stroke-linecap="round"/>
<path d="M193.8 76.4h0M191.0 90.1h0M250.7 25.0h0M241.0 27.1h0M239.3 30.9h0M247.5 22.5h0" stroke="#f8ba3d" stroke-width="1.8" stroke-linecap="round"/>
<path d="M255.4 18.5h0M220.4 61.7h0M257.4 18.1h0M240.3 17.2h0M265.5 20.4h0M263.3 20.7h0M256.5 20.2h0" stroke="#f5e327" stroke-width="1.8" stroke-linecap="round"/>
<path d="M243.0 45.3h0M228.9 57.3h0M209.0 63.3h0M221.8 59.0h0" stroke="#dcbd29" stroke-width="1.8" stroke-linecap="round"/>
<path d="M250.1 39.6h0M245.5 66.3h0" stroke="#b9c431" stroke-width="1.5" stroke-linecap="round"/>
<path d="M197.7 87.7h0M189.4 93.5h0M189.2 93.3h0M190.9 92.9h0M176.6 100.3h0M203.4 84.5h0M191.3 92.5h0" stroke="#4852f4" stroke-width="1.6" stroke-linecap="round"/>
<path d="M183.2 94.8h0M177.5 98.9h0M177.9 100.8h0M204.0 87.4h0M184.1 96.3h0M184.9 93.9h0M191.7 93.3h0M212.8 82.3h0M191.4 94.8h0M182.4 96.2h0" stroke="#465efb" stroke-width="1.6" stroke-linecap="round"/>
<path d="M260.4 21.7h0M251.8 23.3h0M257.1 25.8h0M244.8 22.1h0M202.6 70.1h0" stroke="#f7dc2a" stroke-width="1.8" stroke-linecap="round"/>
<path d="M198.2 83.7h0M204.0 95.4h0M197.1 84.9h0M193.5 95.8h0M250.5 51.9h0M200.0 92.2h0M193.0 100.4h0" stroke="#4acb84" stroke-width="1.6" stroke-linecap="round"/>
<path d="M252.0 35.7h0M248.1 32.4h0M219.9 68.5h0M237.3 42.4h0M234.3 36.1h0M257.7 21.2h0" stroke="#f0ba36" stroke-width="1.8" stroke-linecap="round"/>
<path d="M204.8 79.9h0M208.7 72.4h0" stroke="#3fca8e" stroke-width="1.8" stroke-linecap="round"/>
<path d="M229.4 61.9h0M188.0 86.2h0M229.1 62.1h0M221.4 68.3h0" stroke="#fec338" stroke-width="1.5" stroke-linecap="round"/>
<path d="M187.1 90.7h0M249.5 58.1h0M194.6 85.2h0M206.8 79.4h0M206.7 91.6h0M247.6 53.7h0M192.8 86.1h0M208.9 78.6h0M185.2 89.9h0M199.7 82.2h0M239.1 67.3h0M248.6 54.4h0M193.8 84.4h0M181.6 101.9h0M247.0 58.0h0M247.8 56.4h0M195.0 84.5h0" stroke="#31c69f" stroke-width="1.6" stroke-linecap="round"/>
<path d="M247.4 48.6h0M232.0 77.4h0M246.0 45.9h0M241.2 50.1h0M240.8 71.4h0M200.0 77.9h0M231.7 81.7h0M246.0 50.4h0M244.0 51.3h0M248.3 56.3h0M244.3 55.4h0M248.9 41.0h0M232.7 71.9h0M245.0 46.4h0M193.7 83.8h0M245.6 48.6h0M243.2 70.8h0M252.6 43.6h0M206.4 74.2h0M241.1 45.9h0M243.1 48.7h0M207.6 69.9h0M235.7 76.9h0" stroke="#57cc7a" stroke-width="1.5" stroke-linecap="round"/>
<path d="M201.0 77.0h0M233.4 58.5h0M219.9 71.9h0M189.9 82.3h0M233.6 52.7h0M215.7 68.0h0M203.7 69.3h0M223.9 59.6h0M227.8 65.4h0" stroke="#fec934" stroke-width="1.5" stroke-linecap="round"/>
<path d="M255.0 61.9h0" stroke="#fec934" stroke-width="1.4" stroke-linecap="round"/>
<path d="M194.7 95.6h0M191.4 98.9h0M205.7 91.0h0M193.6 97.4h0" stroke="#72cd64" stroke-width="1.6" stroke-linecap="round"/>
<path d="M197.0 85.4h0M205.2 76.6h0M179.7 95.2h0M253.7 50.4h0M206.0 79.1h0M213.1 74.1h0M244.6 58.2h0M207.1 80.9h0" stroke="#2cc4a7" stroke-width="1.6" stroke-linecap="round"/>
<path d="M203.3 73.3h0M239.7 29.2h0M196.4 91.9h0M216.2 58.6h0" stroke="#f5e924" stroke-width="1.8" stroke-linecap="round"/>
<path d="M190.9 84.0h0M221.1 62.1h0" stroke="#259be8" stroke-width="1.5" stroke-linecap="round"/>
<path d="M231.0 78.4h0M245.3 50.7h0M242.8 53.7h0M241.8 57.5h0M246.8 47.9h0M239.4 52.6h0M193.2 87.4h0M201.4 73.2h0M244.6 57.9h0M231.7 60.0h0M207.2 72.1h0M222.4 60.8h0" stroke="#37c897" stroke-width="1.5" stroke-linecap="round"/>
<path d="M249.8 42.6h0M240.6 75.7h0" stroke="#abc739" stroke-width="1.5" stroke-linecap="round"/>
<path d="M234.0 81.8h0M233.7 53.5h0M245.5 51.7h0M246.4 50.5h0M247.7 50.9h0M233.3 74.4h0M221.1 62.2h0M242.8 56.4h0M227.6 76.4h0M246.2 46.9h0M231.0 79.2h0M239.7 74.7h0M248.7 44.6h0M244.7 72.2h0M230.0 79.3h0" stroke="#4acb84" stroke-width="1.5" stroke-linecap="round"/>
<path d="M251.3 65.5h0" stroke="#fccf30" stroke-width="1.4" stroke-linecap="round"/>
<path d="M184.4 102.1h0M191.4 96.5h0M202.7 92.4h0M198.7 95.4h0M193.2 97.2h0M195.4 94.8h0M202.5 76.6h0" stroke="#f8ba3d" stroke-width="1.6" stroke-linecap="round"/>
<path d="M207.4 79.3h0M240.2 54.1h0M197.6 78.2h0" stroke="#12b1d6" stroke-width="1.5" stroke-linecap="round"/>
<path d="M193.7 87.1h0M224.3 71.8h0M196.8 94.5h0M214.5 80.3h0M207.4 82.0h0M200.8 97.4h0M217.9 75.1h0M210.5 80.8h0M225.0 74.8h0M193.7 101.1h0M216.9 80.3h0M207.7 81.9h0M232.1 70.9h0M192.5 88.9h0M231.0 70.1h0M218.6 77.4h0M191.1 83.8h0M210.5 80.0h0M192.1 102.1h0M195.9 81.1h0M185.8 90.7h0M228.5 69.6h0M219.1 77.3h0M208.8 83.9h0M205.8 84.7h0M203.8 88.8h0M196.2 83.9h0M211.0 76.7h0M193.6 93.4h0" stroke="#18addb" stroke-width="1.6" stroke-linecap="round"/>
<path d="M249.5 70.7h0M248.0 72.1h0" stroke="#c5c22a" stroke-width="1.5" stroke-linecap="round"/>
<path d="M181.2 98.1h0M191.1 90.3h0M182.1 97.2h0M203.0 89.4h0M177.0 100.9h0M193.6 90.8h0" stroke="#4537d5" stroke-width="1.6" stroke-linecap="round"/>
<path d="M194.0 92.7h0" stroke="#327cfc" stroke-width="1.6" stroke-linecap="round"/>
<path d="M212.4 66.6h0" stroke="#e6bb2d" stroke-width="1.5" stroke-linecap="round"/>
<path d="M232.7 52.6h0M225.1 68.5h0M206.0 79.7h0M203.8 68.5h0M226.8 65.6h0" stroke="#f8ba3d" stroke-width="1.5" stroke-linecap="round"/>
<path d="M209.3 88.1h0" stroke="#d1bf27" stroke-width="1.6" stroke-linecap="round"/>
<path d="M253.9 67.0h0M256.7 60.7h0" stroke="#f0ba36" stroke-width="1.4" stroke-linecap="round"/>
<path d="M243.8 59.9h0M202.1 78.7h0M245.8 61.1h0M245.7 57.6h0M196.5 86.6h0M247.3 56.5h0M249.1 52.2h0M249.2 53.6h0M206.4 77.6h0M247.8 55.6h0M193.6 83.5h0" stroke="#24c1ae" stroke-width="1.6" stroke-linecap="round"/>
<path d="M209.7 72.2h0M194.9 81.8h0" stroke="#1ca9df" stroke-width="1.5" stroke-linecap="round"/>
<path d="M209.9 82.2h0M192.6 96.2h0M213.0 82.9h0M238.0 68.9h0M234.8 67.2h0M192.3 85.4h0M229.7 68.6h0M242.3 62.1h0M217.8 79.8h0M218.0 77.0h0M234.1 67.5h0M191.0 102.2h0M227.2 74.0h0M188.6 89.4h0M226.3 71.3h0M229.5 68.2h0M196.1 85.6h0M206.6 83.5h0M235.4 68.4h0M198.7 97.4h0M232.4 69.9h0M224.6 75.3h0M232.4 70.8h0M192.9 86.2h0M185.1 101.4h0M179.9 102.6h0M207.8 85.4h0M196.8 94.5h0M206.3 77.4h0M236.8 66.0h0M232.7 66.2h0M213.5 78.0h0" stroke="#12b1d6" stroke-width="1.6" stroke-linecap="round"/>
<path d="M222.2 73.3h0M182.4 100.5h0M221.3 73.9h0M231.5 70.0h0M189.6 87.8h0M220.6 75.9h0M188.5 89.4h0M222.8 72.2h0M221.2 74.5h0M208.0 87.5h0M219.9 78.9h0M226.7 71.3h0M228.5 71.8h0M198.4 86.6h0M209.1 89.7h0M220.1 76.3h0M203.4 77.5h0M240.1 63.8h0M238.7 64.6h0M201.2 78.9h0M234.3 69.4h0M237.6 67.4h0M234.0 70.0h0M225.0 76.3h0" stroke="#01b8ca" stroke-width="1.6" stroke-linecap="round"/>
<path d="M242.5 54.5h0M242.3 57.4h0" stroke="#0bbdbd" stroke-width="1.5" stroke-linecap="round"/>
<path d="M253.0 48.8h0" stroke="#57cc7a" stroke-width="1.6" stroke-linecap="round"/>
<path d="M209.8 82.9h0M176.2 101.1h0M185.0 93.8h0M190.9 91.9h0M200.9 86.8h0M209.1 86.3h0" stroke="#4741e5" stroke-width="1.6" stroke-linecap="round"/>
<path d="M206.8 81.1h0M218.1 72.3h0" stroke="#64cd6f" stroke-width="1.8" stroke-linecap="round"/>
<path d="M206.4 93.1h0M198.7 95.8h0M181.7 101.3h0M195.7 101.3h0M212.3 86.4h0M193.7 97.9h0M205.8 90.0h0M185.3 98.7h0M184.2 101.0h0M207.6 91.5h0M196.6 93.7h0" stroke="#dcbd29" stroke-width="1.6" stroke-linecap="round"/>
<path d="M185.8 93.1h0M193.8 92.4h0M187.3 97.2h0M184.0 96.8h0M180.9 100.7h0M181.2 98.4h0M180.3 96.2h0M186.7 95.3h0M205.3 88.1h0M195.6 93.2h0M196.9 90.5h0M191.3 90.8h0M190.6 92.4h0M185.8 93.1h0M201.7 90.1h0" stroke="#484df0" stroke-width="1.6" stroke-linecap="round"/>
<path d="M180.8 98.3h0M176.6 101.5h0M187.1 94.7h0M203.2 89.7h0M213.1 82.7h0M198.0 91.6h0M183.2 96.4h0M209.0 82.2h0M185.4 97.0h0M199.4 86.9h0" stroke="#463cde" stroke-width="1.6" stroke-linecap="round"/>
<path d="M232.3 79.9h0M196.4 80.8h0M228.8 76.3h0M231.3 74.8h0M229.5 65.4h0M204.2 79.6h0" stroke="#2cc4a7" stroke-width="1.5" stroke-linecap="round"/>
<path d="M227.9 70.1h0M188.5 101.6h0M206.4 84.3h0M213.1 82.3h0M205.2 80.8h0M234.8 68.1h0M225.3 71.3h0M202.0 84.7h0M196.3 87.5h0M231.3 67.4h0M209.6 83.9h0M235.8 68.6h0M230.9 71.6h0M194.3 87.5h0M237.8 63.5h0M200.8 80.9h0M212.2 78.8h0M190.5 101.7h0" stroke="#1ca9df" stroke-width="1.6" stroke-linecap="round"/>
<path d="M218.0 77.3h0M182.0 94.2h0M213.5 82.9h0M219.2 78.3h0M216.8 77.6h0M196.6 100.8h0M182.2 91.9h0M240.6 67.5h0M223.6 75.6h0M241.9 66.7h0M199.6 93.0h0M228.6 71.3h0M233.0 71.6h0M197.7 95.4h0M221.1 78.4h0" stroke="#08b5d0" stroke-width="1.6" stroke-linecap="round"/>
<path d="M222.5 66.2h0M210.3 74.3h0" stroke="#01b8ca" stroke-width="1.5" stroke-linecap="round"/>
<path d="M242.8 19.4h0" stroke="#f7f51b" stroke-width="1.8" stroke-linecap="round"/>
<path d="M182.3 101.4h0M188.2 101.9h0M205.2 95.2h0M191.2 89.8h0M203.2 83.3h0M192.3 97.2h0M201.5 93.1h0M183.0 101.8h0M207.9 90.0h0M200.4 97.4h0M195.6 94.4h0M199.5 94.3h0M191.0 95.6h0" stroke="#fec934" stroke-width="1.6" stroke-linecap="round"/>
<path d="M238.0 73.6h0M236.8 73.9h0M214.5 61.7h0" stroke="#9dc943" stroke-width="1.5" stroke-linecap="round"/>
<path d="M257.3 60.3h0" stroke="#f8ba3d" stroke-width="1.4" stroke-linecap="round"/>
<path d="M245.2 30.1h0M249.8 32.2h0M254.5 24.8h0M252.4 34.8h0M237.8 22.1h0" stroke="#fec934" stroke-width="1.8" stroke-linecap="round"/>
<path d="M211.4 80.0h0M217.0 79.3h0M199.8 92.5h0M209.2 89.3h0M228.3 70.6h0M220.7 76.2h0M202.4 86.4h0M188.7 88.1h0M195.5 91.5h0M203.5 88.7h0M203.6 86.0h0M194.9 100.9h0M232.7 71.1h0M197.0 90.5h0M202.8 83.4h0M195.1 102.3h0M199.6 95.5h0M198.7 81.1h0M213.7 82.5h0M187.5 98.0h0M211.3 78.8h0" stroke="#20a5e3" stroke-width="1.6" stroke-linecap="round"/>
<path d="M254.6 34.3h0M200.8 70.7h0M212.8 59.7h0M242.0 35.4h0M240.1 18.2h0" stroke="#fec338" stroke-width="1.8" stroke-linecap="round"/>
<path d="M245.9 39.2h0M237.0 54.5h0M244.3 50.4h0M201.3 82.2h0M249.9 40.9h0M232.1 63.4h0M228.9 57.4h0" stroke="#31c69f" stroke-width="1.5" stroke-linecap="round"/>
<path d="M256.4 60.4h0" stroke="#fec338" stroke-width="1.4" stroke-linecap="round"/>
<path d="M199.7 72.3h0M200.9 74.4h0M202.6 70.1h0" stroke="#f7dc2a" stroke-width="1.5" stroke-linecap="round"/>
<path d="M205.4 75.1h0M203.1 77.1h0" stroke="#37c897" stroke-width="1.8" stroke-linecap="round"/>
<path d="M202.3 72.6h0" stroke="#dcbd29" stroke-width="1.8" stroke-linecap="round"/>
<path d="M200.7 92.5h0M186.1 98.7h0M205.9 90.8h0M208.5 89.4h0M208.3 89.8h0" stroke="#fec338" stroke-width="1.6" stroke-linecap="round"/>
<path d="M203.9 91.7h0" stroke="#d1bf27" stroke-width="1.6" stroke-linecap="round"/>
<path d="M243.4 56.8h0M229.3 77.7h0M213.1 68.6h0M226.6 55.9h0M245.0 52.8h0M246.0 43.7h0M234.3 77.7h0M238.9 75.7h0M247.7 66.4h0M229.4 53.7h0M245.9 49.6h0M243.4 73.3h0M223.2 69.0h0M251.4 41.9h0M188.8 90.6h0M241.8 49.7h0M250.3 40.1h0M237.6 71.8h0" stroke="#64cd6f" stroke-width="1.5" stroke-linecap="round"/>
<path d="M252.6 66.6h0M253.7 66.9h0" stroke="#f8ba3d" stroke-width="1.4" stroke-linecap="round"/>
<path d="M210.8 72.6h0" stroke="#64cd6f" stroke-width="1.8" stroke-linecap="round"/>
<path d="M193.5 96.0h0M198.7 92.5h0M196.4 94.5h0" stroke="#2e87f7" stroke-width="1.6" stroke-linecap="round"/>
<path d="M183.9 95.7h0M185.1 96.2h0M190.3 94.5h0M192.2 92.8h0M186.5 93.5h0M191.4 92.7h0M177.0 102.3h0M176.6 99.9h0M210.3 86.5h0M201.2 90.4h0M213.2 80.6h0" stroke="#465efb" stroke-width="1.6" stroke-linecap="round"/>
<path d="M210.9 77.8h0M245.8 35.5h0M247.6 32.8h0M228.7 33.7h0" stroke="#e6bb2d" stroke-width="1.8" stroke-linecap="round"/>
<path d="M248.7 42.1h0M248.5 44.8h0M238.6 76.0h0" stroke="#abc739" stroke-width="1.5" stroke-linecap="round"/>
<path d="M215.8 70.4h0M233.3 37.4h0M253.1 27.6h0M195.3 88.7h0M205.5 79.8h0M252.9 36.1h0M222.9 63.8h0" stroke="#fec338" stroke-width="1.8" stroke-linecap="round"/>
<path d="M224.5 74.5h0M209.6 83.2h0M223.0 72.5h0M183.3 92.5h0M190.6 90.0h0M205.3 76.7h0M184.6 101.0h0M212.3 79.8h0M204.4 81.5h0M204.2 82.5h0M208.9 85.1h0M199.7 83.8h0M214.6 80.7h0M205.5 79.1h0M242.4 63.5h0M233.5 67.1h0M195.6 97.3h0M209.2 81.8h0M216.6 81.4h0M233.1 69.6h0M241.0 62.6h0M225.4 75.8h0M205.3 86.8h0M196.2 93.9h0M232.6 66.4h0" stroke="#08b5d0" stroke-width="1.6" stroke-linecap="round"/>
<path d="M208.1 74.7h0M199.8 79.3h0M192.9 82.0h0M210.4 76.0h0M252.0 51.8h0M195.6 84.2h0M246.3 57.6h0M246.4 53.6h0M189.3 86.7h0M251.1 53.4h0M247.6 53.4h0M194.5 86.1h0M247.2 52.2h0M199.6 82.0h0M251.3 47.9h0" stroke="#2cc4a7" stroke-width="1.6" stroke-linecap="round"/>
<path d="M238.5 70.2h0M246.8 68.3h0" stroke="#b9c431" stroke-width="1.5" stroke-linecap="round"/>
<path d="M195.3 93.1h0M174.7 102.0h0M213.7 82.1h0M179.1 96.8h0M195.6 92.7h0M179.9 97.8h0M208.7 82.4h0M191.0 94.3h0M185.8 94.3h0M184.8 97.5h0M185.0 94.6h0" stroke="#4563fd" stroke-width="1.6" stroke-linecap="round"/>
<path d="M242.7 70.3h0M211.4 72.0h0M224.7 65.2h0M248.0 68.3h0M247.1 71.2h0M250.4 69.9h0M250.3 39.5h0M235.6 56.4h0M245.1 44.8h0M241.7 68.4h0M246.5 50.8h0M216.6 65.2h0M241.0 72.2h0" stroke="#9dc943" stroke-width="1.5" stroke-linecap="round"/>
<path d="M192.0 94.0h0M208.1 83.3h0M199.2 88.4h0M214.3 81.5h0M205.7 76.1h0M196.4 95.3h0M203.1 85.8h0M205.4 79.0h0M200.8 83.2h0M189.0 85.6h0M210.8 82.1h0M207.8 79.5h0M198.5 90.8h0M227.7 73.6h0M179.3 95.7h0M215.9 77.5h0" stroke="#259be8" stroke-width="1.6" stroke-linecap="round"/>
<path d="M205.3 82.3h0M204.6 95.0h0M201.5 95.2h0M188.4 89.1h0" stroke="#f8ba3d" stroke-width="1.6" stroke-linecap="round"/>
<path d="M194.9 85.4h0M231.3 70.1h0M202.6 79.4h0M193.0 87.7h0M233.0 71.0h0M236.8 65.4h0M241.0 64.7h0M192.8 87.5h0M225.1 73.1h0M242.2 66.0h0M236.6 69.4h0M240.9 63.2h0M245.1 62.5h0M242.7 62.2h0M245.9 61.0h0M209.8 74.9h0M195.1 79.9h0M223.5 77.1h0" stroke="#02bac3" stroke-width="1.6" stroke-linecap="round"/>
<path d="M212.4 68.1h0M227.1 66.9h0M221.1 61.3h0M208.2 70.1h0M195.4 87.0h0M201.4 75.7h0M203.9 76.8h0M206.7 71.1h0" stroke="#f8ba3d" stroke-width="1.5" stroke-linecap="round"/>
<path d="M193.5 93.1h0" stroke="#3875fe" stroke-width="1.6" stroke-linecap="round"/>
<path d="M199.3 78.4h0M199.5 92.4h0M181.9 94.1h0M207.5 78.1h0M184.8 101.3h0M198.4 79.8h0M190.3 98.6h0M194.7 80.0h0M179.6 94.7h0" stroke="#fccf30" stroke-width="1.6" stroke-linecap="round"/>
<path d="M176.7 101.1h0M188.6 92.0h0M185.9 93.8h0M207.5 86.6h0M192.2 94.5h0M209.2 86.4h0M180.9 100.6h0M182.4 95.4h0" stroke="#484df0" stroke-width="1.6" stroke-linecap="round"/>
<path d="M234.3 70.4h0M188.3 88.7h0M240.6 70.9h0M247.0 42.8h0M246.4 45.1h0M209.4 66.0h0M235.3 72.7h0M244.9 48.0h0M241.0 50.3h0M182.3 91.2h0M238.2 73.4h0M245.0 46.8h0M211.7 64.2h0M229.6 56.2h0M245.2 67.6h0M224.7 68.6h0M249.2 38.2h0M228.4 77.3h0M225.0 58.5h0" stroke="#57cc7a" stroke-width="1.5" stroke-linecap="round"/>
<path d="M242.5 62.5h0M240.5 62.9h0M233.1 70.0h0M247.7 59.3h0M218.5 78.0h0M189.3 90.6h0M246.1 54.4h0M195.3 85.5h0M246.1 54.9h0M189.5 89.1h0M196.9 87.0h0M250.0 50.4h0M243.4 63.7h0" stroke="#24c1ae" stroke-width="1.6" stroke-linecap="round"/>
<path d="M201.8 82.7h0M200.4 77.7h0M205.9 90.0h0M178.4 102.7h0M202.8 96.1h0M207.8 80.6h0M184.5 99.0h0M197.1 78.9h0" stroke="#fec934" stroke-width="1.6" stroke-linecap="round"/>
<path d="M252.9 44.8h0" stroke="#dcbd29" stroke-width="1.5" stroke-linecap="round"/>
<path d="M244.8 32.3h0M213.4 66.3h0M211.0 76.8h0M219.9 70.2h0" stroke="#fad62d" stroke-width="1.8" stroke-linecap="round"/>
<path d="M248.7 44.0h0M245.4 44.5h0M207.6 76.6h0M225.1 60.4h0" stroke="#81cc59" stroke-width="1.5" stroke-linecap="round"/>
<path d="M196.3 91.3h0M209.0 76.7h0" stroke="#3fca8e" stroke-width="1.8" stroke-linecap="round"/>
<path d="M193.3 102.4h0M201.0 94.1h0M190.5 101.0h0M190.2 100.4h0M190.2 101.8h0" stroke="#e6bb2d" stroke-width="1.6" stroke-linecap="round"/>
<path d="M188.4 97.5h0M194.6 83.3h0M182.6 93.5h0M192.2 101.8h0M202.8 93.1h0M183.1 101.9h0M208.3 80.4h0M196.2 93.4h0" stroke="#f0ba36" stroke-width="1.6" stroke-linecap="round"/>
<path d="M212.2 66.4h0M241.4 51.6h0M225.9 67.0h0M250.8 42.1h0M230.2 79.5h0M232.7 78.7h0M215.6 61.3h0" stroke="#3fca8e" stroke-width="1.5" stroke-linecap="round"/>
<path d="M175.6 100.0h0M205.5 88.1h0M213.8 80.5h0M196.9 92.4h0M190.1 90.8h0M179.7 99.6h0M183.9 94.7h0" stroke="#4741e5" stroke-width="1.6" stroke-linecap="round"/>
<path d="M200.6 88.3h0" stroke="#4269fe" stroke-width="1.6" stroke-linecap="round"/>
<path d="M206.4 81.1h0M205.8 93.2h0M201.7 86.9h0M189.9 97.1h0M229.5 73.5h0M207.2 92.5h0M224.4 74.2h0M198.0 92.7h0M203.5 82.8h0M197.9 90.3h0M196.1 91.3h0M186.8 102.0h0M200.4 97.6h0M208.3 84.4h0M217.9 75.8h0M222.4 73.4h0" stroke="#20a5e3" stroke-width="1.6" stroke-linecap="round"/>
<path d="M209.9 91.4h0M249.5 49.8h0M243.0 61.9h0M204.7 91.9h0" stroke="#57cc7a" stroke-width="1.6" stroke-linecap="round"/>
<path d="M184.9 98.3h0M198.7 89.9h0M177.7 99.4h0M205.0 84.3h0M204.8 87.7h0M196.7 89.3h0M194.5 90.7h0M203.6 85.6h0" stroke="#4332cb" stroke-width="1.6" stroke-linecap="round"/>
<path d="M254.2 65.6h0M253.6 64.3h0" stroke="#fec934" stroke-width="1.4" stroke-linecap="round"/>
<path d="M188.2 98.7h0" stroke="#fad62d" stroke-width="1.6" stroke-linecap="round"/>
<path d="M210.8 86.8h0M203.9 92.4h0M252.7 52.6h0M250.7 50.5h0M198.1 97.8h0" stroke="#72cd64" stroke-width="1.6" stroke-linecap="round"/>
<path d="M199.2 88.5h0M189.7 92.3h0M192.9 92.2h0M203.7 86.8h0M188.5 96.4h0M177.8 98.1h0M190.8 95.5h0M207.0 86.1h0M211.5 81.0h0" stroke="#4852f4" stroke-width="1.6" stroke-linecap="round"/>
<path d="M256.1 61.2h0" stroke="#febe3c" stroke-width="1.4" stroke-linecap="round"/>
<path d="M190.5 86.2h0M190.1 85.8h0M206.8 89.2h0M251.2 49.1h0M180.8 94.0h0M243.6 60.9h0M240.7 67.1h0M190.8 95.8h0M201.9 85.1h0M189.3 88.4h0M205.1 78.4h0" stroke="#37c897" stroke-width="1.6" stroke-linecap="round"/>
<path d="M237.5 34.3h0" stroke="#f6ef20" stroke-width="1.8" stroke-linecap="round"/>
<path d="M209.8 80.7h0M198.8 82.9h0M228.3 73.3h0M233.9 69.0h0M206.5 78.3h0M179.8 101.9h0M201.4 93.1h0M232.9 71.5h0M228.2 71.8h0M217.5 80.5h0M235.4 65.9h0M205.9 94.0h0M234.0 66.4h0M210.9 84.1h0M194.5 80.8h0M204.0 86.5h0M214.9 79.0h0M241.7 63.7h0M241.4 65.5h0M199.5 96.0h0M197.1 94.1h0M226.9 70.2h0M198.2 93.8h0M218.4 78.1h0M219.9 77.5h0M233.3 67.0h0M185.2 90.6h0M231.1 68.2h0M199.1 97.0h0M232.8 66.4h0" stroke="#12b1d6" stroke-width="1.6" stroke-linecap="round"/>
<path d="M253.0 17.7h0M270.9 20.0h0M229.6 54.7h0" stroke="#f5e327" stroke-width="1.8" stroke-linecap="round"/>
<path d="M210.7 70.1h0" stroke="#72cd64" stroke-width="1.8" stroke-linecap="round"/>
<path d="M230.8 69.8h0M238.0 68.8h0M231.6 71.7h0M229.5 70.9h0M224.4 74.0h0M218.0 75.3h0M190.6 90.2h0M227.7 70.3h0M225.0 71.6h0M212.8 78.7h0M206.1 84.6h0M199.6 78.1h0M214.6 80.0h0M191.3 86.1h0M242.4 60.8h0M179.8 96.1h0M242.9 63.7h0M233.8 66.1h0M227.1 70.8h0M187.7 88.6h0M230.8 68.7h0M242.8 60.9h0M217.1 76.8h0M233.8 70.5h0M233.7 67.1h0" stroke="#01b8ca" stroke-width="1.6" stroke-linecap="round"/>
<path d="M246.4 24.3h0M233.7 34.8h0M224.7 64.2h0M218.7 75.0h0M221.3 55.3h0M192.3 89.3h0M250.6 26.7h0M249.3 34.6h0M252.6 30.2h0M253.6 23.2h0M224.3 56.1h0M196.8 91.7h0" stroke="#febe3c" stroke-width="1.8" stroke-linecap="round"/>
<path d="M194.8 93.9h0" stroke="#2f81fa" stroke-width="1.6" stroke-linecap="round"/>
<path d="M199.8 94.4h0M193.2 95.8h0" stroke="#dcbd29" stroke-width="1.6" stroke-linecap="round"/>
<path d="M186.2 92.7h0M212.7 81.9h0M175.9 102.3h0M180.8 99.3h0M196.3 88.6h0M191.5 92.8h0M200.2 89.5h0M210.9 82.7h0M191.2 93.6h0" stroke="#4747eb" stroke-width="1.6" stroke-linecap="round"/>
<path d="M240.0 55.7h0M249.7 46.1h0" stroke="#19bfb6" stroke-width="1.5" stroke-linecap="round"/>
<path d="M242.5 56.1h0M233.1 53.7h0M237.8 77.4h0M239.4 71.9h0M206.2 68.6h0M214.5 67.7h0M195.5 81.5h0M246.6 48.5h0M241.6 47.8h0M222.8 60.7h0" stroke="#37c897" stroke-width="1.5" stroke-linecap="round"/>
<path d="M191.8 92.4h0M187.7 96.1h0M182.6 98.0h0M211.0 85.6h0M197.1 92.5h0M206.4 86.9h0M205.4 87.9h0M201.7 86.9h0M181.3 99.2h0M185.3 94.5h0M199.6 91.0h0M190.2 93.7h0M189.8 94.2h0" stroke="#4758f8" stroke-width="1.6" stroke-linecap="round"/>
<path d="M204.0 88.1h0M193.3 94.5h0M192.3 93.7h0M209.3 80.6h0M210.7 79.2h0M204.4 75.3h0M212.4 82.2h0M204.7 77.7h0M212.6 77.3h0M210.2 78.0h0M182.0 94.6h0M199.2 88.2h0M202.7 85.5h0M197.9 78.8h0M199.5 88.7h0M198.6 85.4h0M200.0 88.5h0" stroke="#2797eb" stroke-width="1.6" stroke-linecap="round"/>
<path d="M242.3 16.9h0M210.5 67.1h0M226.6 62.4h0M246.1 29.6h0" stroke="#f7dc2a" stroke-width="1.8" stroke-linecap="round"/>
<path d="M244.1 70.5h0M247.5 69.4h0" stroke="#d1bf27" stroke-width="1.5" stroke-linecap="round"/>
<path d="M184.6 101.4h0M235.1 66.7h0M198.3 95.9h0M191.3 98.9h0M196.7 94.0h0M192.7 96.2h0M202.8 78.8h0M210.7 78.7h0M193.8 92.3h0M196.3 95.4h0M198.0 93.4h0M201.5 87.0h0M201.4 91.0h0M201.2 77.4h0M211.9 86.2h0M196.0 90.8h0M193.0 89.3h0M185.0 99.2h0M229.6 72.4h0M222.9 75.4h0M196.9 95.0h0M192.8 82.2h0" stroke="#23a0e5" stroke-width="1.6" stroke-linecap="round"/>
<path d="M253.2 51.5h0M250.1 50.0h0M200.8 95.9h0" stroke="#81cc59" stroke-width="1.6" stroke-linecap="round"/>
<path d="M198.6 77.5h0M238.5 58.8h0M239.6 58.4h0M242.2 46.7h0" stroke="#fec934" stroke-width="1.5" stroke-linecap="round"/>
<path d="M245.4 72.2h0M198.5 76.0h0M244.8 53.0h0M252.1 40.5h0M232.1 79.4h0M215.8 66.9h0M213.6 64.6h0M246.4 70.8h0M239.6 52.1h0M235.3 76.6h0M249.8 41.7h0M246.6 66.5h0M238.9 74.1h0" stroke="#8fcb4e" stroke-width="1.5" stroke-linecap="round"/>
<path d="M221.3 71.3h0M222.1 65.2h0M212.6 69.2h0M218.1 66.6h0M230.0 56.5h0M232.7 55.1h0M245.7 53.1h0" stroke="#fccf30" stroke-width="1.5" stroke-linecap="round"/>
<path d="M190.1 93.9h0M189.4 94.7h0M185.3 94.3h0M197.3 89.9h0M186.9 96.0h0M211.0 84.9h0" stroke="#4537d5" stroke-width="1.6" stroke-linecap="round"/>
<path d="M237.4 39.1h0M242.0 34.5h0M217.0 61.0h0M197.1 85.1h0M226.1 53.3h0M219.9 69.3h0M207.2 78.7h0" stroke="#f8ba3d" stroke-width="1.8" stroke-linecap="round"/>
<path d="M193.4 95.7h0M202.3 95.8h0M184.3 90.6h0M200.6 94.1h0M200.8 96.4h0M182.4 100.0h0M189.8 90.7h0M179.6 102.2h0M200.6 97.4h0M198.1 95.0h0M204.8 80.7h0" stroke="#febe3c" stroke-width="1.6" stroke-linecap="round"/>
<path d="M225.6 56.3h0M244.5 43.9h0M233.0 53.0h0M212.7 71.5h0M243.9 47.9h0" stroke="#23a0e5" stroke-width="1.5" stroke-linecap="round"/>
<path d="M219.9 66.9h0M203.6 75.2h0M195.2 81.5h0M241.9 52.6h0" stroke="#18addb" stroke-width="1.5" stroke-linecap="round"/>
<path d="M186.6 89.2h0M220.0 71.1h0M203.3 74.5h0M221.4 58.1h0M217.8 73.1h0M233.2 56.8h0M216.4 61.9h0" stroke="#f0ba36" stroke-width="1.5" stroke-linecap="round"/>
<path d="M195.0 80.6h0M193.1 88.4h0M243.1 61.0h0M232.8 68.5h0M248.0 55.6h0M248.6 57.2h0M248.0 57.2h0M245.9 61.1h0M195.3 86.4h0" stroke="#19bfb6" stroke-width="1.6" stroke-linecap="round"/>
<path d="M187.8 87.6h0M193.0 96.5h0M201.2 77.0h0M206.8 77.6h0M204.6 86.9h0M201.9 78.0h0M199.7 91.5h0M201.2 80.3h0M212.0 80.3h0M182.6 93.4h0M201.0 90.2h0M212.9 79.5h0M202.8 86.9h0M198.7 93.6h0" stroke="#2b91ef" stroke-width="1.6" stroke-linecap="round"/>
<path d="M227.1 65.5h0M188.7 87.6h0M235.2 58.6h0M216.1 69.0h0" stroke="#1ca9df" stroke-width="1.5" stroke-linecap="round"/>
<path d="M201.5 98.3h0M194.4 95.9h0M191.3 98.4h0M188.0 98.3h0M188.6 101.4h0M203.5 95.9h0M200.4 93.9h0M179.2 102.5h0" stroke="#64cd6f" stroke-width="1.6" stroke-linecap="round"/>
<path d="M182.7 102.6h0M189.7 87.7h0M192.5 82.6h0M194.7 87.6h0M182.7 93.2h0M195.8 97.8h0M252.9 49.2h0" stroke="#3fca8e" stroke-width="1.6" stroke-linecap="round"/>
<path d="M194.5 97.0h0M193.6 87.1h0M205.4 88.1h0M205.1 80.8h0M199.7 80.3h0" stroke="#2d8cf3" stroke-width="1.6" stroke-linecap="round"/>
<path d="M243.3 54.2h0M239.7 50.5h0M182.3 91.0h0M239.5 57.4h0M199.7 75.9h0" stroke="#fec338" stroke-width="1.5" stroke-linecap="round"/>
<path d="M213.3 63.0h0" stroke="#12b1d6" stroke-width="1.5" stroke-linecap="round"/>
<path d="M245.9 23.1h0M247.8 35.4h0M253.0 26.1h0M220.1 64.2h0M216.1 77.2h0M237.6 50.2h0" stroke="#f0ba36" stroke-width="1.8" stroke-linecap="round"/>
<path d="M240.4 62.3h0M195.6 80.9h0M193.0 82.4h0M201.2 77.5h0M240.7 65.3h0M230.3 72.7h0M230.6 68.4h0M208.7 79.0h0M249.3 56.7h0M206.3 77.5h0M194.2 82.6h0M248.9 52.8h0M191.4 84.3h0M235.7 67.8h0M212.1 76.6h0" stroke="#0bbdbd" stroke-width="1.6" stroke-linecap="round"/>
<path d="M206.3 86.2h0M206.9 86.1h0M183.1 97.0h0M183.9 97.3h0M189.6 95.5h0M179.2 97.2h0M176.4 101.0h0" stroke="#463cde" stroke-width="1.6" stroke-linecap="round"/>
<path d="M242.3 24.8h0M253.9 27.6h0M212.0 79.6h0M261.8 18.5h0M250.5 35.4h0M226.1 44.4h0M235.4 35.0h0M248.5 32.3h0M234.9 50.3h0M243.1 26.5h0M234.4 49.6h0M242.2 35.2h0M214.5 70.0h0" stroke="#fec934" stroke-width="1.8" stroke-linecap="round"/>
<path d="M193.6 100.0h0M249.3 58.5h0M190.1 101.0h0M213.3 86.2h0M251.7 53.6h0M212.8 88.3h0M213.1 88.6h0" stroke="#4acb84" stroke-width="1.6" stroke-linecap="round"/>
<path d="M225.2 56.3h0M218.3 64.4h0" stroke="#fad62d" stroke-width="1.5" stroke-linecap="round"/>
<path d="M243.4 62.2h0M192.3 99.9h0M211.7 74.2h0M192.1 89.4h0M212.2 74.9h0M249.7 56.5h0M207.9 78.7h0M213.2 88.1h0M247.9 60.8h0M195.1 97.4h0M192.8 86.0h0M206.8 75.0h0M194.8 86.8h0" stroke="#31c69f" stroke-width="1.6" stroke-linecap="round"/>
<path d="M207.9 77.7h0M231.2 43.8h0M247.8 35.9h0" stroke="#fccf30" stroke-width="1.8" stroke-linecap="round"/>
<path d="M218.9 74.7h0M211.4 82.1h0M222.9 75.3h0M199.4 89.2h0M225.1 70.7h0M228.7 71.2h0M207.3 88.3h0M206.5 85.9h0M190.1 90.0h0M192.3 99.3h0M204.9 89.3h0M190.3 98.7h0M228.2 69.5h0M218.3 78.9h0M235.6 68.1h0M200.0 92.3h0M233.0 67.9h0M198.1 91.5h0M198.7 93.7h0M232.1 70.5h0M216.5 78.6h0M198.4 84.7h0" stroke="#1ca9df" stroke-width="1.6" stroke-linecap="round"/>
<path d="M210.6 70.9h0" stroke="#8fcb4e" stroke-width="1.8" stroke-linecap="round"/>
<path d="M237.6 47.8h0" stroke="#f5e924" stroke-width="1.8" stroke-linecap="round"/>
<path d="M250.0 43.5h0M238.8 54.6h0M197.1 82.9h0M230.6 61.5h0M213.3 69.2h0" stroke="#24c1ae" stroke-width="1.5" stroke-linecap="round"/>
<path d="M237.6 49.8h0M203.0 79.7h0M245.4 45.7h0M211.9 65.2h0M245.7 49.1h0" stroke="#20a5e3" stroke-width="1.5" stroke-linecap="round"/>
<path d="M257.2 18.7h0M259.0 29.2h0M253.5 20.2h0M205.4 75.6h0" stroke="#d1bf27" stroke-width="1.8" stroke-linecap="round"/>
<path d="M202.1 78.7h0M196.3 95.0h0M207.9 84.0h0M204.6 93.5h0M218.6 75.0h0M229.7 73.4h0M209.2 90.4h0M201.2 96.6h0M232.8 69.2h0M214.2 81.4h0M235.9 70.2h0M205.6 88.2h0M189.2 101.7h0M212.1 80.4h0M211.9 79.4h0M231.5 71.3h0M238.9 64.1h0M205.6 88.2h0M240.4 63.3h0M235.3 67.6h0M211.2 81.8h0M201.2 78.1h0M202.6 86.8h0M197.6 95.9h0M186.5 88.4h0M192.2 96.0h0M189.2 97.8h0M233.7 70.6h0" stroke="#18addb" stroke-width="1.6" stroke-linecap="round"/>
<path d="M201.8 77.5h0M246.3 52.6h0M189.4 88.2h0M240.3 56.7h0M208.5 71.5h0M240.7 54.5h0M191.1 84.0h0M242.8 53.4h0M197.4 81.9h0" stroke="#2cc4a7" stroke-width="1.5" stroke-linecap="round"/>
<path d="M201.0 71.5h0M205.0 79.6h0M239.8 51.5h0M215.4 67.0h0" stroke="#08b5d0" stroke-width="1.5" stroke-linecap="round"/>
<path d="M192.8 83.6h0M206.5 71.8h0M212.0 73.1h0M207.1 74.3h0M214.1 67.6h0M220.7 70.9h0M228.5 66.5h0" stroke="#febe3c" stroke-width="1.5" stroke-linecap="round"/>
<path d="M205.8 68.1h0M237.8 71.5h0M191.1 89.8h0M231.0 76.2h0M242.5 55.8h0M242.9 70.8h0M199.5 83.1h0M245.2 72.7h0M234.4 78.5h0" stroke="#72cd64" stroke-width="1.5" stroke-linecap="round"/>
<path d="M246.0 73.1h0M251.3 40.8h0M247.5 70.4h0" stroke="#c5c22a" stroke-width="1.5" stroke-linecap="round"/>
<path d="M241.0 49.5h0M240.6 73.6h0M238.5 55.0h0M246.8 43.2h0M232.6 76.3h0M246.9 69.3h0M231.3 75.6h0M236.0 51.7h0M244.0 71.8h0M180.5 92.7h0M239.5 49.8h0" stroke="#4acb84" stroke-width="1.5" stroke-linecap="round"/>
<path d="M189.5 99.8h0M190.5 101.7h0" stroke="#d1bf27" stroke-width="1.6" stroke-linecap="round"/>
<path d="M212.1 70.2h0" stroke="#9dc943" stroke-width="1.8" stroke-linecap="round"/>
<path d="M243.0 63.5h0M207.5 76.1h0M192.5 85.2h0M205.1 93.3h0M205.5 81.1h0M206.7 74.9h0M183.3 92.6h0M192.2 99.5h0M208.7 80.6h0M196.2 81.0h0M206.3 80.4h0M202.8 83.9h0M206.3 78.4h0M199.2 83.3h0M249.0 55.5h0M246.3 62.0h0M251.2 54.2h0M188.7 100.8h0M250.3 56.2h0" stroke="#31c69f" stroke-width="1.6" stroke-linecap="round"/>
<path d="M209.3 89.6h0M208.0 88.5h0M190.7 96.5h0M194.0 94.9h0M194.3 100.9h0M205.7 90.4h0M190.7 101.5h0M202.4 97.8h0M193.2 102.5h0M191.0 100.4h0M204.7 93.6h0" stroke="#dcbd29" stroke-width="1.6" stroke-linecap="round"/>
<path d="M233.3 66.7h0M246.0 56.4h0M208.2 86.9h0M206.6 81.7h0M247.5 61.2h0M225.9 75.8h0M213.5 78.9h0M209.1 74.0h0M213.7 75.7h0M241.6 63.8h0M188.0 97.1h0M182.5 100.0h0M233.4 67.0h0M192.6 85.1h0M219.5 75.3h0M191.5 89.9h0M218.5 77.7h0M188.0 89.7h0M212.5 80.3h0M200.3 76.9h0M185.4 98.3h0M211.5 87.1h0M216.7 80.4h0M239.4 62.1h0M227.6 72.6h0M244.6 61.7h0" stroke="#08b5d0" stroke-width="1.6" stroke-linecap="round"/>
<path d="M215.1 61.9h0M227.5 48.3h0M248.7 41.8h0M254.9 23.9h0M225.8 50.6h0" stroke="#fec338" stroke-width="1.8" stroke-linecap="round"/>
<path d="M202.9 77.9h0M223.5 58.2h0M212.3 70.0h0M197.8 83.1h0M241.7 48.4h0M237.4 49.1h0M193.8 80.8h0M213.2 74.4h0" stroke="#f0ba36" stroke-width="1.5" stroke-linecap="round"/>
<path d="M178.8 101.7h0M196.1 89.7h0M176.9 102.1h0M193.8 89.9h0M201.7 89.2h0M180.0 99.2h0M208.9 82.9h0M178.9 101.1h0M200.7 89.1h0M206.5 86.8h0M183.6 96.8h0M193.1 90.9h0" stroke="#463cde" stroke-width="1.6" stroke-linecap="round"/>
<path d="M251.7 49.5h0M200.4 94.7h0M250.0 56.8h0M211.9 89.6h0M207.9 80.2h0M188.2 97.3h0M213.5 80.2h0M250.4 52.8h0M248.7 52.0h0" stroke="#4acb84" stroke-width="1.6" stroke-linecap="round"/>
<path d="M248.6 31.0h0M246.8 34.2h0M239.8 40.5h0M229.8 38.9h0M255.9 35.1h0M227.4 63.8h0M195.4 89.7h0" stroke="#f7dc2a" stroke-width="1.8" stroke-linecap="round"/>
<path d="M207.5 83.4h0" stroke="#64cd6f" stroke-width="1.8" stroke-linecap="round"/>
<path d="M220.5 76.9h0M200.4 92.1h0M195.9 94.9h0M195.8 90.6h0M198.5 92.7h0" stroke="#2e87f7" stroke-width="1.6" stroke-linecap="round"/>
<path d="M242.4 29.9h0M235.0 52.2h0M231.5 43.0h0M241.9 18.3h0M213.5 77.6h0M250.5 26.9h0M213.1 71.1h0" stroke="#fad62d" stroke-width="1.8" stroke-linecap="round"/>
<path d="M194.5 93.5h0M203.8 87.9h0M184.9 98.1h0M209.3 83.5h0M180.5 96.9h0M207.7 84.3h0M209.8 82.0h0M211.3 82.0h0M185.1 97.1h0" stroke="#4747eb" stroke-width="1.6" stroke-linecap="round"/>
<path d="M196.5 83.8h0M205.4 78.7h0M241.0 58.4h0M246.4 50.3h0M229.7 78.5h0M219.9 72.0h0" stroke="#24c1ae" stroke-width="1.5" stroke-linecap="round"/>
<path d="M195.7 96.3h0M197.8 97.8h0M202.5 90.8h0M197.3 100.2h0M186.4 102.1h0M191.4 88.2h0M198.5 86.3h0M199.4 93.5h0M213.4 77.6h0M199.1 99.8h0M207.2 91.9h0" stroke="#febe3c" stroke-width="1.6" stroke-linecap="round"/>
<path d="M244.9 42.3h0M202.2 71.8h0" stroke="#259be8" stroke-width="1.5" stroke-linecap="round"/>
<path d="M249.2 70.2h0M248.0 42.6h0M241.0 78.7h0" stroke="#c5c22a" stroke-width="1.5" stroke-linecap="round"/>
<path d="M203.9 79.8h0M193.2 97.7h0M186.3 90.1h0M187.9 88.8h0M192.6 96.4h0" stroke="#fccf30" stroke-width="1.6" stroke-linecap="round"/>
<path d="M223.5 67.9h0M227.4 64.9h0" stroke="#57cc7a" stroke-width="1.8" stroke-linecap="round"/>
<path d="M204.6 86.1h0M180.9 99.9h0M181.3 100.1h0M188.9 95.5h0M191.0 91.5h0M199.5 86.5h0M200.7 86.5h0M185.2 95.2h0M186.6 96.3h0M176.8 100.9h0M177.4 101.0h0" stroke="#4563fd" stroke-width="1.6" stroke-linecap="round"/>
<path d="M229.6 58.4h0M197.6 85.3h0M225.7 56.1h0M238.6 48.7h0M210.8 76.5h0" stroke="#febe3c" stroke-width="1.5" stroke-linecap="round"/>
<path d="M237.8 64.0h0M198.7 78.3h0M228.4 72.7h0M242.8 64.3h0M242.4 60.7h0M233.0 68.0h0M248.9 58.7h0M252.0 52.6h0M188.7 87.5h0M184.8 91.7h0M249.5 56.9h0M190.2 90.4h0M211.4 77.0h0" stroke="#24c1ae" stroke-width="1.6" stroke-linecap="round"/>
<path d="M197.0 94.4h0M204.9 93.7h0M200.2 92.7h0M202.7 92.3h0M208.2 89.8h0M187.6 100.2h0" stroke="#64cd6f" stroke-width="1.6" stroke-linecap="round"/>
<path d="M254.2 49.7h0M192.2 101.7h0M210.0 77.7h0M197.4 83.3h0M190.2 85.5h0M190.6 100.8h0M200.7 84.9h0M205.6 80.3h0M193.0 99.8h0M184.2 99.4h0M203.2 77.1h0M199.0 79.5h0" stroke="#3fca8e" stroke-width="1.6" stroke-linecap="round"/>
<path d="M199.3 83.6h0M212.0 70.4h0" stroke="#37c897" stroke-width="1.8" stroke-linecap="round"/>
<path d="M206.8 77.4h0" stroke="#24c1ae" stroke-width="1.8" stroke-linecap="round"/>
<path d="M195.2 96.2h0" stroke="#327cfc" stroke-width="1.6" stroke-linecap="round"/>
<path d="M219.6 72.3h0M240.6 25.7h0M201.9 79.1h0M200.6 75.3h0" stroke="#f8ba3d" stroke-width="1.8" stroke-linecap="round"/>
<path d="M235.0 69.7h0M233.9 69.4h0M196.1 85.2h0M186.5 90.7h0M187.3 88.7h0M200.0 85.9h0M196.6 84.6h0M194.9 95.8h0M221.9 73.4h0M200.3 77.9h0M197.9 79.2h0" stroke="#2b91ef" stroke-width="1.6" stroke-linecap="round"/>
<path d="M232.4 43.4h0M250.5 38.6h0M259.5 30.0h0M221.6 59.0h0M234.4 51.2h0M247.3 30.5h0M253.4 24.9h0M251.6 35.1h0" stroke="#f0ba36" stroke-width="1.8" stroke-linecap="round"/>
<path d="M199.8 83.1h0M201.5 83.0h0M185.4 99.1h0M198.6 93.0h0M190.0 102.3h0M208.1 80.3h0M204.6 94.9h0" stroke="#f8ba3d" stroke-width="1.6" stroke-linecap="round"/>
<path d="M251.9 41.6h0M248.7 40.2h0M246.1 46.1h0" stroke="#b9c431" stroke-width="1.5" stroke-linecap="round"/>
<path d="M245.1 50.1h0M187.9 86.5h0M246.5 50.2h0M233.1 76.7h0M189.9 85.0h0M210.3 69.2h0M253.6 40.6h0M249.3 45.1h0M240.5 51.4h0M247.5 47.9h0M247.3 45.5h0M242.3 71.6h0M245.5 46.9h0M252.1 46.9h0M238.9 73.1h0M246.2 47.8h0M241.2 71.5h0M251.6 41.5h0" stroke="#57cc7a" stroke-width="1.5" stroke-linecap="round"/>
<path d="M208.4 73.0h0M221.1 68.1h0M205.4 77.9h0M203.8 69.2h0M214.8 65.5h0" stroke="#fec338" stroke-width="1.5" stroke-linecap="round"/>
<path d="M183.8 92.4h0M243.2 63.4h0M201.6 82.1h0M247.5 56.8h0M194.5 84.6h0M190.8 87.0h0M198.8 85.7h0M190.5 89.9h0M231.8 67.4h0M188.2 91.1h0M238.8 68.0h0M220.5 78.6h0M238.7 63.8h0" stroke="#02bac3" stroke-width="1.6" stroke-linecap="round"/>
<path d="M227.3 63.0h0M231.9 76.9h0" stroke="#2cc4a7" stroke-width="1.5" stroke-linecap="round"/>
<path d="M199.9 82.2h0M226.7 65.3h0M204.5 74.1h0M218.1 65.9h0M227.8 62.3h0M234.6 60.6h0M201.6 78.6h0" stroke="#01b8ca" stroke-width="1.5" stroke-linecap="round"/>
<path d="M196.5 81.4h0M199.1 74.5h0M241.8 52.6h0M215.6 69.0h0M242.8 49.3h0" stroke="#fccf30" stroke-width="1.5" stroke-linecap="round"/>
<path d="M185.5 97.7h0M190.1 91.2h0M188.0 96.0h0M180.9 96.6h0M181.9 96.0h0M180.0 97.8h0M193.0 93.6h0M210.6 83.7h0" stroke="#465efb" stroke-width="1.6" stroke-linecap="round"/>
<path d="M224.2 63.4h0M251.4 39.3h0M228.4 79.5h0M248.3 53.1h0M230.4 59.6h0M240.3 54.5h0M230.6 83.8h0M245.6 74.3h0M248.2 50.7h0M193.3 81.6h0M187.3 88.0h0M235.7 73.4h0" stroke="#3fca8e" stroke-width="1.5" stroke-linecap="round"/>
<path d="M229.9 46.8h0M258.7 22.7h0M203.1 85.4h0M254.7 30.9h0M221.8 72.4h0" stroke="#febe3c" stroke-width="1.8" stroke-linecap="round"/>
<path d="M227.0 64.1h0" stroke="#3fca8e" stroke-width="1.8" stroke-linecap="round"/>
<path d="M201.7 84.9h0M195.0 91.8h0" stroke="#d1bf27" stroke-width="1.8" stroke-linecap="round"/>
<path d="M195.7 80.3h0M206.1 75.8h0M201.4 83.5h0M199.0 89.1h0M187.6 88.5h0M204.1 80.7h0M191.0 84.5h0" stroke="#2d8cf3" stroke-width="1.6" stroke-linecap="round"/>
<path d="M210.6 75.0h0M239.3 54.9h0" stroke="#fad62d" stroke-width="1.5" stroke-linecap="round"/>
<path d="M247.1 72.5h0" stroke="#d1bf27" stroke-width="1.5" stroke-linecap="round"/>
<path d="M203.0 78.6h0M197.2 94.3h0M194.4 97.2h0M204.6 91.7h0M186.9 89.3h0M188.9 101.1h0M199.8 83.4h0" stroke="#fec934" stroke-width="1.6" stroke-linecap="round"/>
<path d="M208.7 74.6h0M192.1 87.6h0M206.7 77.0h0M206.2 67.8h0M245.8 52.9h0" stroke="#08b5d0" stroke-width="1.5" stroke-linecap="round"/>
<path d="M238.2 34.0h0" stroke="#f6ef20" stroke-width="1.8" stroke-linecap="round"/>
<path d="M211.2 80.5h0M216.3 81.0h0M190.0 100.3h0M218.9 75.7h0M206.0 83.7h0M206.4 82.7h0M202.3 88.5h0M193.2 94.7h0M181.8 101.0h0M208.2 82.4h0M201.7 78.7h0M211.9 83.2h0M192.3 97.9h0M233.5 66.6h0M201.4 88.8h0M231.2 71.2h0M200.8 88.1h0M229.5 72.1h0M211.2 81.4h0M199.1 97.8h0M230.0 68.8h0M202.3 77.0h0M217.7 80.3h0M209.7 77.1h0M187.5 88.3h0M235.9 67.1h0M202.9 94.1h0M221.0 75.7h0M187.8 90.1h0M209.3 81.5h0" stroke="#1ca9df" stroke-width="1.6" stroke-linecap="round"/>
<path d="M232.4 70.7h0M228.5 71.7h0M197.7 84.0h0M237.6 68.2h0M242.5 63.0h0M238.7 67.7h0M220.5 75.2h0M198.4 78.5h0M229.6 73.7h0M200.9 82.0h0M178.8 102.6h0" stroke="#01b8ca" stroke-width="1.6" stroke-linecap="round"/>
<path d="M240.0 53.5h0M231.3 63.1h0M226.1 68.0h0M243.6 48.8h0M243.8 51.6h0M229.0 75.3h0M227.6 56.8h0" stroke="#37c897" stroke-width="1.5" stroke-linecap="round"/>
<path d="M222.9 64.7h0M214.1 70.8h0M225.0 64.4h0" stroke="#4acb84" stroke-width="1.8" stroke-linecap="round"/>
<path d="M196.1 93.1h0" stroke="#81cc59" stroke-width="1.6" stroke-linecap="round"/>
<path d="M208.6 84.5h0M195.2 94.0h0M198.2 92.8h0M206.3 75.9h0M187.1 88.4h0M195.4 80.5h0M210.4 78.1h0M196.1 94.2h0" stroke="#2797eb" stroke-width="1.6" stroke-linecap="round"/>
<path d="M254.2 21.9h0M246.8 36.3h0M198.5 89.7h0M226.3 53.2h0M255.4 23.2h0M206.6 76.5h0M230.1 56.6h0" stroke="#fec934" stroke-width="1.8" stroke-linecap="round"/>
<path d="M190.8 100.9h0" stroke="#72cd64" stroke-width="1.6" stroke-linecap="round"/>
<path d="M203.4 91.1h0M213.2 88.3h0M211.7 74.0h0M197.2 94.4h0M203.9 91.6h0" stroke="#f0ba36" stroke-width="1.6" stroke-linecap="round"/>
<path d="M201.9 87.5h0M175.1 102.6h0M181.3 95.8h0M211.1 85.8h0M206.9 82.9h0M192.6 94.1h0M211.5 83.1h0M176.0 100.0h0M194.1 89.7h0M199.2 90.3h0M186.9 95.5h0" stroke="#4741e5" stroke-width="1.6" stroke-linecap="round"/>
<path d="M251.7 30.7h0M207.0 83.9h0M231.6 35.8h0M221.4 62.3h0M228.5 53.1h0" stroke="#e6bb2d" stroke-width="1.8" stroke-linecap="round"/>
<path d="M240.7 70.1h0M240.5 70.2h0M231.7 77.8h0M248.7 45.1h0M239.2 71.3h0M247.3 69.9h0M242.6 70.0h0" stroke="#abc739" stroke-width="1.5" stroke-linecap="round"/>
<path d="M201.8 88.6h0M203.8 88.1h0M195.2 93.4h0M182.1 99.8h0M185.8 97.3h0M186.8 96.6h0" stroke="#4852f4" stroke-width="1.6" stroke-linecap="round"/>
<path d="M231.7 57.6h0M246.4 57.4h0M239.8 49.1h0M239.2 57.3h0" stroke="#31c69f" stroke-width="1.5" stroke-linecap="round"/>
<path d="M194.3 101.4h0M186.9 98.0h0M203.3 92.5h0M206.2 91.4h0M204.9 93.3h0M191.1 98.0h0" stroke="#e6bb2d" stroke-width="1.6" stroke-linecap="round"/>
<path d="M206.4 93.0h0M191.7 97.1h0M232.4 67.3h0M223.5 73.1h0M217.3 77.9h0M196.9 90.7h0M231.4 70.6h0M218.1 80.3h0M214.3 78.0h0M182.8 92.7h0M222.1 75.8h0M210.2 83.7h0M217.2 77.9h0M197.1 81.8h0M229.4 71.6h0M203.7 90.9h0M206.9 78.3h0M213.4 78.9h0M207.7 78.0h0M236.3 67.8h0" stroke="#12b1d6" stroke-width="1.6" stroke-linecap="round"/>
<path d="M199.7 72.4h0M248.2 47.6h0M204.1 77.2h0M237.6 74.0h0M249.6 42.2h0M242.1 52.5h0M246.2 65.5h0M250.0 39.8h0M245.0 69.7h0M230.1 53.6h0" stroke="#9dc943" stroke-width="1.5" stroke-linecap="round"/>
<path d="M235.1 53.8h0" stroke="#02bac3" stroke-width="1.5" stroke-linecap="round"/>
<path d="M200.2 83.2h0M206.0 87.1h0M198.9 91.2h0M207.6 86.8h0M203.3 87.0h0M196.3 93.2h0M194.1 94.0h0M204.8 88.4h0M204.0 80.0h0M200.1 91.6h0M183.0 92.5h0M196.2 90.5h0M198.3 91.6h0M212.4 75.6h0M211.9 79.1h0M210.2 79.0h0" stroke="#259be8" stroke-width="1.6" stroke-linecap="round"/>
<path d="M230.0 54.7h0M204.5 69.4h0M222.7 60.3h0M228.8 62.6h0M235.9 58.7h0M191.2 88.0h0M211.0 75.7h0" stroke="#18addb" stroke-width="1.5" stroke-linecap="round"/>
<path d="M230.0 68.4h0M220.0 76.9h0M200.1 79.1h0M200.4 92.5h0M210.4 80.4h0M236.2 64.8h0M215.3 80.4h0M192.7 83.7h0M205.5 86.0h0M216.5 79.3h0M235.3 67.5h0M217.9 76.7h0M178.3 97.1h0M210.5 87.8h0M188.4 98.2h0M219.9 77.5h0M237.6 68.2h0M202.2 75.9h0M228.3 69.9h0M225.0 72.6h0M206.1 83.3h0M207.4 85.8h0M213.9 81.5h0M191.7 89.0h0M201.3 98.6h0M183.8 101.5h0M216.5 78.3h0M207.6 82.0h0M207.1 86.1h0M195.2 94.5h0M228.0 74.6h0M202.1 92.3h0M213.1 83.0h0M231.8 69.2h0M211.4 75.8h0" stroke="#18addb" stroke-width="1.6" stroke-linecap="round"/>
<path d="M197.2 96.3h0M200.2 96.4h0M206.8 87.3h0M192.6 95.5h0M206.7 86.2h0M199.7 89.6h0M189.2 88.2h0M193.7 101.6h0M199.7 90.0h0M203.5 78.6h0M226.1 70.6h0M181.7 102.0h0M208.3 85.7h0M189.9 90.1h0M202.7 85.9h0M231.2 71.8h0M193.9 81.3h0" stroke="#23a0e5" stroke-width="1.6" stroke-linecap="round"/>
<path d="M220.0 59.2h0M236.1 49.2h0M234.5 61.2h0M220.6 67.2h0" stroke="#fec934" stroke-width="1.5" stroke-linecap="round"/>
<path d="M246.5 37.7h0M250.3 70.0h0M248.5 45.6h0M246.0 40.8h0M254.3 42.5h0M250.3 38.7h0M236.6 71.1h0M242.6 69.9h0M251.8 41.9h0M243.5 45.7h0M243.9 48.6h0" stroke="#81cc59" stroke-width="1.5" stroke-linecap="round"/>
<path d="M189.1 89.6h0M193.4 99.2h0M207.1 74.8h0M245.5 61.5h0M180.9 102.2h0M202.2 91.5h0M204.1 82.7h0M182.5 93.5h0M194.7 86.4h0M185.7 101.9h0M212.8 73.9h0M248.1 54.7h0M253.6 50.1h0" stroke="#37c897" stroke-width="1.6" stroke-linecap="round"/>
<path d="M190.3 87.1h0M204.4 81.7h0M186.6 91.6h0M187.9 97.5h0M208.2 87.9h0M191.8 102.6h0M194.9 96.4h0M183.4 93.2h0" stroke="#fec338" stroke-width="1.6" stroke-linecap="round"/>
<path d="M231.4 67.4h0M201.3 92.0h0M209.8 82.5h0M228.4 69.2h0M222.7 77.1h0M194.5 95.0h0M216.5 77.4h0M210.9 83.8h0M205.8 88.8h0M235.9 65.4h0M233.2 67.1h0M222.0 77.1h0M193.3 94.8h0M210.2 81.8h0M205.9 86.5h0M234.3 70.1h0M214.2 79.7h0M197.3 94.0h0M202.6 80.4h0M190.4 86.9h0" stroke="#20a5e3" stroke-width="1.6" stroke-linecap="round"/>
<path d="M218.1 67.2h0M244.7 71.3h0M228.9 74.4h0M236.6 72.0h0M244.7 42.9h0M213.4 69.3h0M232.8 55.7h0M253.2 40.9h0M251.6 45.4h0M241.6 50.2h0M204.9 72.9h0M245.2 43.8h0" stroke="#72cd64" stroke-width="1.5" stroke-linecap="round"/>
<path d="M236.7 74.5h0M243.6 56.2h0M245.3 57.6h0M238.0 55.9h0" stroke="#0bbdbd" stroke-width="1.5" stroke-linecap="round"/>
<path d="M210.3 64.9h0M206.9 79.5h0M199.5 76.9h0" stroke="#f8ba3d" stroke-width="1.5" stroke-linecap="round"/>
<path d="M201.4 86.4h0M185.8 95.3h0M198.6 91.5h0M184.0 94.6h0M179.6 96.8h0M190.7 90.6h0M201.9 89.8h0M187.2 97.3h0M177.1 99.2h0M186.1 97.5h0M196.5 87.9h0M207.3 85.7h0" stroke="#4537d5" stroke-width="1.6" stroke-linecap="round"/>
<path d="M184.4 91.6h0M245.4 55.1h0M230.3 73.3h0M248.5 46.6h0M242.7 70.1h0M250.4 46.7h0M240.2 76.2h0M248.5 46.5h0M247.9 51.0h0M253.8 41.9h0M243.3 54.1h0" stroke="#4acb84" stroke-width="1.5" stroke-linecap="round"/>
<path d="M220.1 59.9h0M213.4 67.5h0M227.3 61.7h0" stroke="#20a5e3" stroke-width="1.5" stroke-linecap="round"/>
<path d="M178.8 98.8h0M182.1 99.0h0M186.9 94.6h0M203.8 86.2h0M178.8 98.2h0M194.1 90.3h0M202.6 87.0h0M192.6 91.4h0" stroke="#4758f8" stroke-width="1.6" stroke-linecap="round"/>
<path d="M200.9 75.0h0M187.4 86.4h0M198.1 74.4h0M223.1 64.5h0M197.9 82.3h0" stroke="#12b1d6" stroke-width="1.5" stroke-linecap="round"/>
<path d="M271.5 18.0h0M255.2 19.8h0" stroke="#f5e327" stroke-width="1.8" stroke-linecap="round"/>
<path d="M250.8 46.2h0M214.0 65.0h0M240.1 74.7h0M222.4 69.2h0M244.4 71.4h0M239.8 52.5h0M247.6 43.1h0M191.9 86.3h0M239.1 68.0h0M247.1 44.5h0" stroke="#8fcb4e" stroke-width="1.5" stroke-linecap="round"/>
<path d="M226.5 67.6h0M219.4 71.2h0M194.4 93.2h0M195.7 84.5h0" stroke="#72cd64" stroke-width="1.8" stroke-linecap="round"/>
<path d="M255.3 24.5h0M232.0 39.9h0M253.7 37.1h0M228.4 55.5h0M199.2 72.9h0M257.9 22.1h0" stroke="#fccf30" stroke-width="1.8" stroke-linecap="round"/>
<path d="M190.8 91.6h0M202.1 89.5h0M208.6 85.0h0M195.6 92.7h0M177.4 99.7h0M190.2 93.2h0" stroke="#484df0" stroke-width="1.6" stroke-linecap="round"/>
<path d="M212.0 84.9h0M195.3 88.4h0M179.9 97.9h0M211.6 83.6h0M176.3 100.0h0M202.0 88.3h0M183.2 94.8h0M211.9 82.5h0M193.1 91.9h0" stroke="#4332cb" stroke-width="1.6" stroke-linecap="round"/>
<path d="M207.5 92.3h0M191.3 99.1h0M212.2 87.2h0M188.7 100.8h0M252.1 51.8h0M246.8 61.9h0M199.3 92.9h0M250.1 54.9h0" stroke="#57cc7a" stroke-width="1.6" stroke-linecap="round"/>
<path d="M209.2 78.2h0" stroke="#31c69f" stroke-width="1.8" stroke-linecap="round"/>
<path d="M247.3 40.5h0" stroke="#19bfb6" stroke-width="1.5" stroke-linecap="round"/>
<path d="M215.1 62.7h0M192.2 83.5h0M241.4 52.3h0" stroke="#f7dc2a" stroke-width="1.5" stroke-linecap="round"/>
<path d="M238.6 57.1h0M208.9 70.8h0M239.7 52.6h0M207.0 78.7h0" stroke="#23a0e5" stroke-width="1.5" stroke-linecap="round"/>
<path d="M252.7 51.2h0M241.3 66.3h0M246.6 56.6h0M251.6 51.9h0M191.6 84.1h0M236.4 67.5h0M247.1 55.8h0M247.1 53.0h0M213.6 78.6h0M249.3 58.9h0M206.6 77.5h0M244.9 56.2h0M245.9 57.1h0M242.9 61.7h0M209.4 76.9h0" stroke="#2cc4a7" stroke-width="1.6" stroke-linecap="round"/>
<path d="M189.1 90.9h0M226.7 59.3h0M240.6 51.6h0M186.2 91.4h0M219.7 63.6h0M184.2 89.3h0" stroke="#1ca9df" stroke-width="1.5" stroke-linecap="round"/>
<path d="M192.5 83.9h0M179.6 96.0h0M202.2 84.8h0M197.4 83.0h0M245.5 63.1h0M240.4 64.8h0M244.9 56.9h0M248.3 55.9h0M227.6 70.7h0M227.4 73.6h0M242.0 61.0h0M246.0 58.0h0" stroke="#19bfb6" stroke-width="1.6" stroke-linecap="round"/>
<path d="M256.0 62.0h0" stroke="#f8ba3d" stroke-width="1.4" stroke-linecap="round"/>
<path d="M192.5 87.5h0M248.1 42.8h0M246.6 41.1h0M242.2 44.7h0M231.0 74.7h0M237.2 49.5h0M233.0 76.4h0M201.6 74.2h0M246.5 56.8h0M245.2 47.3h0M249.1 48.1h0M248.6 45.2h0M246.8 67.8h0" stroke="#64cd6f" stroke-width="1.5" stroke-linecap="round"/>
<path d="M212.8 79.8h0M217.3 76.9h0M241.4 60.1h0M227.7 72.6h0M245.5 61.1h0M240.2 65.6h0M226.8 73.9h0M225.2 73.6h0M246.5 60.6h0M193.4 86.2h0M180.7 95.0h0M234.4 70.8h0M233.8 68.6h0" stroke="#0bbdbd" stroke-width="1.6" stroke-linecap="round"/>
<rect x="173.6" y="16.3" width="119.70" height="86.40" fill="none" stroke="#8c8c8c" stroke-width="0.7"/>
<line x1="173.60" y1="102.7" x2="173.60" y2="101.5" stroke="#777" stroke-width="0.6"/>
<line x1="173.60" y1="16.3" x2="173.60" y2="17.5" stroke="#777" stroke-width="0.6"/>
<line x1="200.08" y1="102.7" x2="200.08" y2="101.5" stroke="#777" stroke-width="0.6"/>
<line x1="200.08" y1="16.3" x2="200.08" y2="17.5" stroke="#777" stroke-width="0.6"/>
<line x1="226.56" y1="102.7" x2="226.56" y2="101.5" stroke="#777" stroke-width="0.6"/>
<line x1="226.56" y1="16.3" x2="226.56" y2="17.5" stroke="#777" stroke-width="0.6"/>
<line x1="253.05" y1="102.7" x2="253.05" y2="101.5" stroke="#777" stroke-width="0.6"/>
<line x1="253.05" y1="16.3" x2="253.05" y2="17.5" stroke="#777" stroke-width="0.6"/>
<line x1="279.53" y1="102.7" x2="279.53" y2="101.5" stroke="#777" stroke-width="0.6"/>
<line x1="279.53" y1="16.3" x2="279.53" y2="17.5" stroke="#777" stroke-width="0.6"/>
<line x1="173.6" y1="102.70" x2="174.79999999999998" y2="102.70" stroke="#777" stroke-width="0.6"/>
<line x1="293.3" y1="102.70" x2="292.1" y2="102.70" stroke="#777" stroke-width="0.6"/>
<line x1="173.6" y1="83.71" x2="174.79999999999998" y2="83.71" stroke="#777" stroke-width="0.6"/>
<line x1="293.3" y1="83.71" x2="292.1" y2="83.71" stroke="#777" stroke-width="0.6"/>
<line x1="173.6" y1="64.72" x2="174.79999999999998" y2="64.72" stroke="#777" stroke-width="0.6"/>
<line x1="293.3" y1="64.72" x2="292.1" y2="64.72" stroke="#777" stroke-width="0.6"/>
<line x1="173.6" y1="45.73" x2="174.79999999999998" y2="45.73" stroke="#777" stroke-width="0.6"/>
<line x1="293.3" y1="45.73" x2="292.1" y2="45.73" stroke="#777" stroke-width="0.6"/>
<line x1="173.6" y1="26.74" x2="174.79999999999998" y2="26.74" stroke="#777" stroke-width="0.6"/>
<line x1="293.3" y1="26.74" x2="292.1" y2="26.74" stroke="#777" stroke-width="0.6"/>
<text x="173.60" y="111.00" font-size="6.5" text-anchor="middle" fill="#262626">0</text>
<text x="200.08" y="111.00" font-size="6.5" text-anchor="middle" fill="#262626">1</text>
<text x="226.56" y="111.00" font-size="6.5" text-anchor="middle" fill="#262626">2</text>
<text x="253.05" y="111.00" font-size="6.5" text-anchor="middle" fill="#262626">3</text>
<text x="279.53" y="111.00" font-size="6.5" text-anchor="middle" fill="#262626">4</text>
<text x="171.70" y="104.80" font-size="6.5" text-anchor="end" fill="#262626">0</text>
<text x="171.70" y="85.81" font-size="6.5" text-anchor="end" fill="#262626">1</text>
<text x="171.70" y="66.82" font-size="6.5" text-anchor="end" fill="#262626">2</text>
<text x="171.70" y="47.83" font-size="6.5" text-anchor="end" fill="#262626">3</text>
<text x="171.70" y="28.84" font-size="6.5" text-anchor="end" fill="#262626">4</text>
<text x="174.20" y="15.50" font-size="7.0" fill="#555"><tspan>×10</tspan><tspan dy="-2.8" font-size="4.6">-6</tspan></text>
<text x="293.80" y="121.60" font-size="7.0" fill="#555" text-anchor="end"><tspan>×10</tspan><tspan dy="-2.8" font-size="4.6">-6</tspan></text>
<text x="233.45" y="120.00" font-size="6.7" text-anchor="middle" fill="#262626">Actual</text>
<text x="0" y="0" transform="translate(165.70,60.10) rotate(-90)" font-size="7.1" text-anchor="middle" fill="#262626">Predicted</text>
<text x="178.60" y="29.20" font-size="10" font-weight="bold" fill="#000">b)</text>
<text x="234.25" y="11.80" font-size="7.1" font-weight="bold" text-anchor="middle" fill="#000" xml:space="preserve"><tspan>ATR100</tspan><tspan dy="2.9" font-size="5.2">H2O</tspan><tspan dy="-2.9">;  R</tspan><tspan dy="-2.6" font-size="5.3">2</tspan><tspan dy="2.6">: 0.92325</tspan></text>
<line x1="355.73" y1="16.3" x2="355.73" y2="102.7" stroke="#ebebeb" stroke-width="0.6"/>
<line x1="384.67" y1="16.3" x2="384.67" y2="102.7" stroke="#ebebeb" stroke-width="0.6"/>
<line x1="413.60" y1="16.3" x2="413.60" y2="102.7" stroke="#ebebeb" stroke-width="0.6"/>
<line x1="442.54" y1="16.3" x2="442.54" y2="102.7" stroke="#ebebeb" stroke-width="0.6"/>
<line x1="326.8" y1="81.63" x2="446.3" y2="81.63" stroke="#ebebeb" stroke-width="0.6"/>
<line x1="326.8" y1="60.55" x2="446.3" y2="60.55" stroke="#ebebeb" stroke-width="0.6"/>
<line x1="326.8" y1="39.48" x2="446.3" y2="39.48" stroke="#ebebeb" stroke-width="0.6"/>
<line x1="326.8" y1="18.41" x2="446.3" y2="18.41" stroke="#ebebeb" stroke-width="0.6"/>
<line x1="326.8" y1="102.7" x2="446.3" y2="16.3" stroke="#222" stroke-width="1.05"/>
<path d="M353.2 82.4h0M360.2 83.4h0M356.5 76.9h0M354.2 85.3h0M351.9 78.9h0M349.9 83.9h0M353.7 80.1h0M353.6 83.7h0M355.3 79.1h0M357.9 84.9h0M353.4 84.1h0M361.5 82.4h0M366.8 81.1h0M352.0 82.0h0" stroke="#2b91ef" stroke-width="1.6" stroke-linecap="round"/>
<path d="M336.0 95.1h0M341.3 89.8h0M346.0 91.0h0M342.5 90.3h0M343.8 91.9h0M336.8 92.3h0M341.7 91.3h0M345.3 90.0h0M339.8 93.7h0M338.9 94.0h0M349.8 91.2h0" stroke="#4758f8" stroke-width="1.6" stroke-linecap="round"/>
<path d="M427.9 24.4h0M431.9 47.1h0" stroke="#e6bb2d" stroke-width="1.7" stroke-linecap="round"/>
<path d="M381.8 53.2h0M389.3 54.7h0M388.0 54.3h0M368.0 67.9h0M367.8 64.9h0M391.6 48.5h0M389.3 53.1h0M389.1 50.4h0M407.7 50.1h0M387.6 54.1h0M386.5 49.3h0M390.3 52.2h0" stroke="#9dc943" stroke-width="1.6" stroke-linecap="round"/>
<path d="M358.7 81.7h0M359.9 73.3h0M391.0 53.6h0M385.8 51.9h0M400.2 55.9h0M387.9 50.6h0M359.5 77.7h0M377.0 57.3h0M389.5 52.0h0M389.9 52.9h0" stroke="#8fcb4e" stroke-width="1.6" stroke-linecap="round"/>
<path d="M406.1 58.2h0M389.3 69.2h0M411.0 51.6h0M369.0 64.0h0M384.1 69.3h0M379.4 67.4h0M368.2 66.6h0M368.1 67.5h0M397.6 54.0h0M378.7 73.8h0M376.8 62.2h0M379.8 69.0h0M376.2 64.4h0M383.9 61.8h0M408.2 42.3h0M383.8 58.4h0M386.6 66.2h0M373.9 69.5h0" stroke="#37c897" stroke-width="1.6" stroke-linecap="round"/>
<path d="M390.5 41.4h0M416.3 19.3h0M418.7 35.0h0M410.8 27.2h0M430.5 29.9h0M377.0 49.5h0M420.1 28.9h0M423.5 31.4h0M398.6 56.0h0M381.9 47.9h0M426.8 31.1h0" stroke="#fccf30" stroke-width="1.7" stroke-linecap="round"/>
<path d="M376.6 65.9h0M409.2 49.0h0M379.9 59.0h0M366.2 65.5h0M371.5 63.5h0M374.8 67.4h0M382.3 65.8h0M385.5 72.8h0M374.0 69.1h0M372.1 61.4h0M372.0 65.5h0M390.9 68.3h0M376.9 64.4h0M388.4 67.7h0M386.1 64.6h0M380.6 68.7h0M384.0 68.3h0M382.5 61.4h0M396.5 56.9h0M374.0 68.6h0M374.4 68.5h0M372.0 69.6h0M376.0 65.4h0M391.5 50.7h0M347.2 83.3h0M380.6 69.6h0M381.6 59.0h0" stroke="#31c69f" stroke-width="1.6" stroke-linecap="round"/>
<path d="M370.1 61.2h0" stroke="#fec338" stroke-width="1.5" stroke-linecap="round"/>
<path d="M411.4 46.1h0M388.6 68.7h0M374.0 58.9h0M375.1 60.2h0M364.4 68.7h0M375.8 63.3h0M388.6 65.5h0M384.6 67.8h0M399.1 60.2h0M387.3 72.1h0M353.5 78.1h0M387.1 49.6h0M389.9 64.6h0M374.8 69.4h0M372.9 60.2h0M361.5 76.2h0M387.5 52.5h0M388.5 70.2h0M376.7 63.8h0M387.1 60.4h0M388.2 57.2h0" stroke="#3fca8e" stroke-width="1.6" stroke-linecap="round"/>
<path d="M344.2 87.9h0M342.9 92.0h0M345.7 90.5h0M346.5 93.5h0M343.2 86.8h0M349.1 92.2h0M340.2 89.3h0M348.1 88.3h0M340.8 91.3h0M352.9 89.2h0M339.2 95.5h0M351.1 91.0h0M342.6 87.5h0M344.9 92.6h0" stroke="#465efb" stroke-width="1.6" stroke-linecap="round"/>
<path d="M398.5 62.7h0M390.0 69.8h0" stroke="#0bbdbd" stroke-width="1.5" stroke-linecap="round"/>
<path d="M403.1 45.8h0M410.1 52.6h0" stroke="#f5e924" stroke-width="1.6" stroke-linecap="round"/>
<path d="M410.2 43.7h0" stroke="#f6ef20" stroke-width="1.6" stroke-linecap="round"/>
<path d="M368.3 73.1h0M375.0 78.2h0M366.5 68.2h0M380.0 77.2h0M406.2 52.8h0M377.1 74.4h0M369.8 67.1h0M373.9 69.4h0M364.2 73.5h0" stroke="#02bac3" stroke-width="1.6" stroke-linecap="round"/>
<path d="M378.3 59.3h0M389.6 65.2h0" stroke="#dcbd29" stroke-width="1.6" stroke-linecap="round"/>
<path d="M340.9 91.2h0M344.7 90.5h0M346.3 86.2h0M342.6 89.0h0M349.4 89.5h0M342.0 88.8h0M352.1 84.7h0M356.1 86.8h0M346.8 86.2h0M347.7 88.6h0M341.7 91.0h0M351.4 89.7h0M339.3 90.4h0" stroke="#4269fe" stroke-width="1.6" stroke-linecap="round"/>
<path d="M353.2 78.0h0M389.9 53.7h0M409.6 53.9h0M377.5 68.3h0M391.4 56.8h0M398.1 49.6h0M382.0 65.2h0M375.5 62.1h0" stroke="#f7dc2a" stroke-width="1.6" stroke-linecap="round"/>
<path d="M357.4 86.5h0M372.7 79.4h0M353.2 80.4h0M348.4 86.8h0M365.7 81.4h0M373.1 78.8h0M354.4 81.0h0M364.9 79.9h0M357.0 77.9h0M354.8 81.3h0" stroke="#2797eb" stroke-width="1.6" stroke-linecap="round"/>
<path d="M357.0 74.1h0M381.1 74.2h0M365.2 75.9h0M365.6 74.8h0M366.5 69.0h0M372.4 80.3h0M371.1 79.9h0M380.0 71.9h0M358.2 74.9h0M358.9 76.5h0M366.5 78.6h0M384.2 74.4h0M368.5 80.4h0M355.0 79.6h0M366.0 79.7h0M363.9 76.2h0M362.4 76.0h0M360.4 72.8h0M385.4 73.8h0M368.6 76.8h0M370.3 78.0h0M377.9 76.7h0" stroke="#08b5d0" stroke-width="1.6" stroke-linecap="round"/>
<path d="M368.2 61.5h0M352.3 74.8h0M350.5 76.3h0" stroke="#f8ba3d" stroke-width="1.5" stroke-linecap="round"/>
<path d="M358.4 85.0h0M357.6 86.2h0M353.1 82.1h0M355.0 83.1h0M358.1 80.1h0M350.8 84.2h0" stroke="#2e87f7" stroke-width="1.6" stroke-linecap="round"/>
<path d="M390.0 57.3h0M373.3 72.2h0M368.7 77.0h0M375.6 61.2h0M370.4 73.3h0M379.7 73.5h0M377.1 68.8h0M369.0 69.0h0M366.8 66.2h0M390.5 69.2h0M386.5 66.5h0M382.8 70.7h0M373.7 65.3h0M368.8 66.3h0" stroke="#24c1ae" stroke-width="1.6" stroke-linecap="round"/>
<path d="M355.2 81.6h0M355.9 81.6h0M366.1 82.9h0M350.7 86.0h0M354.9 81.0h0M361.3 82.5h0M359.1 77.7h0M350.7 80.9h0M356.9 84.0h0M364.0 83.0h0" stroke="#259be8" stroke-width="1.6" stroke-linecap="round"/>
<path d="M398.7 62.3h0M400.6 67.9h0M406.5 62.4h0M408.5 54.0h0M399.3 67.8h0" stroke="#12b1d6" stroke-width="1.5" stroke-linecap="round"/>
<path d="M399.0 62.0h0M396.0 60.2h0M350.6 81.3h0M355.9 73.1h0M381.2 60.6h0M375.4 63.6h0M388.6 56.7h0M356.1 73.5h0M382.9 53.9h0M400.3 45.7h0M391.7 45.4h0M391.3 51.2h0" stroke="#fec338" stroke-width="1.6" stroke-linecap="round"/>
<path d="M341.8 92.3h0M337.0 97.3h0M335.3 97.4h0M337.2 98.7h0M339.1 93.8h0M343.3 93.0h0M337.8 97.2h0M335.7 97.8h0M340.0 97.4h0M342.6 93.5h0M341.9 95.3h0M334.7 98.7h0M342.5 96.8h0M344.3 95.5h0M341.0 97.1h0" stroke="#4537d5" stroke-width="1.6" stroke-linecap="round"/>
<path d="M404.4 45.4h0M423.3 25.7h0M397.8 42.0h0M404.7 39.0h0" stroke="#f8ba3d" stroke-width="1.7" stroke-linecap="round"/>
<path d="M406.1 62.6h0M389.0 70.9h0M407.0 56.0h0" stroke="#01b8ca" stroke-width="1.5" stroke-linecap="round"/>
<path d="M430.3 17.2h0M424.6 27.0h0M431.7 24.6h0" stroke="#f7dc2a" stroke-width="1.7" stroke-linecap="round"/>
<path d="M366.0 78.8h0M408.4 40.3h0M361.8 70.0h0M401.0 50.3h0M378.7 76.1h0M377.1 75.8h0M372.6 73.5h0M363.9 77.2h0M362.5 73.8h0M363.4 74.3h0M380.2 76.4h0M365.5 76.7h0M376.6 77.9h0M377.1 77.0h0M375.0 78.2h0M358.3 73.9h0M370.0 78.9h0" stroke="#01b8ca" stroke-width="1.6" stroke-linecap="round"/>
<path d="M415.0 52.1h0M419.2 19.8h0M380.7 52.0h0M408.6 35.9h0M417.4 27.0h0M428.9 24.5h0M399.7 30.9h0" stroke="#fec338" stroke-width="1.7" stroke-linecap="round"/>
<path d="M378.9 59.6h0M378.9 66.7h0M383.4 56.3h0M383.5 64.1h0M391.5 63.2h0M386.5 61.9h0M386.4 66.3h0M390.5 65.9h0M389.6 60.4h0M374.0 59.2h0M404.9 43.8h0M390.1 65.7h0M386.6 65.7h0M405.9 49.3h0M385.4 54.1h0M386.7 60.6h0M383.0 62.4h0M385.8 56.2h0M377.6 60.4h0" stroke="#57cc7a" stroke-width="1.6" stroke-linecap="round"/>
<path d="M348.0 90.5h0M352.5 89.6h0M347.8 92.9h0M342.8 89.4h0M353.2 89.2h0M353.6 89.3h0M352.1 88.5h0M357.5 86.9h0M348.7 87.0h0M349.6 84.3h0M347.3 84.1h0M356.8 87.6h0M358.7 85.9h0" stroke="#3e6fff" stroke-width="1.6" stroke-linecap="round"/>
<path d="M394.9 47.2h0M382.8 60.7h0M352.8 79.7h0M377.9 57.5h0M390.5 62.6h0M372.8 71.1h0M379.5 60.9h0M391.1 66.7h0M391.2 64.6h0M386.8 60.8h0M385.2 60.5h0M384.0 51.7h0M361.4 71.9h0M378.9 59.1h0M363.9 70.9h0M367.1 69.7h0M381.4 61.4h0" stroke="#64cd6f" stroke-width="1.6" stroke-linecap="round"/>
<path d="M386.5 64.3h0M372.1 67.7h0M370.3 66.1h0M381.0 58.7h0M364.4 71.9h0M378.0 57.4h0M383.9 58.2h0" stroke="#f8ba3d" stroke-width="1.6" stroke-linecap="round"/>
<path d="M344.4 87.0h0M340.0 90.7h0M343.7 89.6h0M340.8 90.5h0M354.4 87.5h0" stroke="#4563fd" stroke-width="1.6" stroke-linecap="round"/>
<path d="M376.6 56.9h0M384.2 51.9h0M374.0 70.0h0M378.6 65.2h0M401.2 51.5h0M399.4 53.3h0M378.9 58.6h0M411.0 50.6h0M403.6 54.8h0M386.9 60.5h0M372.9 62.6h0M391.7 46.1h0M383.3 58.2h0M376.8 74.4h0M407.9 54.6h0M377.2 65.1h0M380.8 57.2h0" stroke="#72cd64" stroke-width="1.6" stroke-linecap="round"/>
<path d="M336.8 97.2h0M331.1 99.2h0M332.1 97.9h0M331.7 97.8h0M335.4 96.8h0M331.4 101.0h0M330.0 101.2h0M335.8 98.9h0M331.7 100.8h0" stroke="#4332cb" stroke-width="1.6" stroke-linecap="round"/>
<path d="M409.1 59.6h0M409.4 55.5h0M407.0 61.8h0" stroke="#02bac3" stroke-width="1.5" stroke-linecap="round"/>
<path d="M351.9 86.2h0M356.7 81.4h0M359.7 86.3h0M354.5 82.5h0M351.5 82.4h0M353.2 83.6h0M361.0 83.7h0M347.3 87.0h0" stroke="#2f81fa" stroke-width="1.6" stroke-linecap="round"/>
<path d="M357.8 72.4h0M361.9 81.1h0M361.0 79.6h0M362.8 78.9h0M365.3 80.2h0M356.5 72.7h0M365.2 81.0h0M359.1 80.4h0M368.2 71.5h0M371.6 81.3h0M360.7 76.7h0M369.4 80.7h0M363.3 82.5h0M361.8 80.8h0M360.0 76.9h0M352.2 83.9h0M364.7 82.7h0" stroke="#20a5e3" stroke-width="1.6" stroke-linecap="round"/>
<path d="M356.8 72.5h0M377.5 69.5h0M392.3 55.5h0M389.5 56.0h0M401.6 42.3h0M397.2 54.5h0M376.4 63.7h0M399.2 45.0h0M402.6 56.7h0" stroke="#e6bb2d" stroke-width="1.6" stroke-linecap="round"/>
<path d="M340.8 93.2h0M329.4 100.9h0M341.1 90.2h0M335.2 93.9h0M338.9 92.4h0M333.6 96.4h0M348.3 92.8h0M341.3 90.3h0M339.9 93.4h0M334.3 96.9h0" stroke="#4747eb" stroke-width="1.6" stroke-linecap="round"/>
<path d="M424.2 22.2h0M410.8 48.3h0M396.3 49.6h0M410.0 42.5h0M410.6 37.6h0M387.6 59.8h0M417.9 54.0h0M428.2 22.7h0" stroke="#febe3c" stroke-width="1.7" stroke-linecap="round"/>
<path d="M391.0 67.0h0M406.7 55.9h0M387.9 58.0h0M395.9 61.8h0M390.7 54.2h0" stroke="#b9c431" stroke-width="1.6" stroke-linecap="round"/>
<path d="M387.1 52.2h0M365.3 72.7h0M394.4 57.3h0M361.2 73.3h0M368.0 64.1h0M376.6 63.7h0M366.9 74.8h0M406.5 48.9h0M390.7 60.7h0M391.5 52.1h0M366.6 73.3h0" stroke="#fccf30" stroke-width="1.6" stroke-linecap="round"/>
<path d="M407.7 41.0h0M391.0 57.0h0" stroke="#c5c22a" stroke-width="1.6" stroke-linecap="round"/>
<path d="M337.6 92.5h0M333.4 96.0h0" stroke="#422ec0" stroke-width="1.6" stroke-linecap="round"/>
<path d="M340.1 96.3h0M337.3 91.7h0M342.5 96.4h0M339.4 93.3h0M340.7 95.5h0M338.2 94.9h0M337.0 96.0h0" stroke="#4741e5" stroke-width="1.6" stroke-linecap="round"/>
<path d="M387.9 59.7h0" stroke="#f5e327" stroke-width="1.6" stroke-linecap="round"/>
<path d="M434.4 41.0h0M419.0 27.0h0" stroke="#fad62d" stroke-width="1.7" stroke-linecap="round"/>
<path d="M380.6 57.1h0M354.5 78.4h0M390.1 50.5h0M378.7 56.9h0M400.7 42.4h0M385.2 55.2h0M393.3 60.2h0" stroke="#febe3c" stroke-width="1.6" stroke-linecap="round"/>
<path d="M368.2 79.6h0M367.1 76.9h0M362.6 75.6h0M368.9 77.5h0M379.1 75.1h0M364.2 80.3h0M354.3 77.3h0M359.5 73.8h0M363.6 70.1h0M363.4 82.6h0M364.0 75.0h0" stroke="#18addb" stroke-width="1.6" stroke-linecap="round"/>
<path d="M351.3 84.4h0M354.0 82.5h0M356.1 81.1h0M349.9 82.0h0M355.4 84.5h0M355.5 85.3h0M358.6 84.9h0M362.9 78.3h0M368.3 79.3h0M351.9 86.1h0M358.3 81.9h0M356.2 83.2h0M351.0 86.3h0M363.3 83.2h0M357.9 84.1h0M359.1 84.7h0M358.3 87.2h0" stroke="#2d8cf3" stroke-width="1.6" stroke-linecap="round"/>
<path d="M349.3 83.4h0M359.9 81.9h0M353.2 77.1h0M364.9 81.7h0M371.7 78.6h0M368.0 81.3h0M367.0 77.2h0M360.5 79.8h0M367.1 74.1h0" stroke="#23a0e5" stroke-width="1.6" stroke-linecap="round"/>
<path d="M382.3 70.7h0M359.8 84.1h0M357.3 74.6h0M364.1 70.0h0M406.8 57.5h0M409.1 46.4h0M402.9 50.2h0M395.0 56.5h0M384.3 52.2h0M386.4 66.8h0" stroke="#f0ba36" stroke-width="1.6" stroke-linecap="round"/>
<path d="M382.4 65.0h0M367.4 76.2h0M389.4 49.2h0M374.6 60.2h0M391.5 52.1h0M383.8 61.2h0M383.1 69.0h0M391.3 49.7h0M379.2 68.6h0M392.0 55.4h0M387.4 59.9h0M379.6 59.8h0M363.7 72.0h0M382.6 60.7h0M377.0 57.4h0M388.0 55.0h0M391.2 62.8h0M393.6 50.1h0" stroke="#81cc59" stroke-width="1.6" stroke-linecap="round"/>
<path d="M333.2 96.1h0M346.5 93.4h0M338.0 94.5h0M345.7 88.8h0M344.2 94.5h0M335.4 94.6h0M340.4 92.3h0M345.6 95.0h0M348.0 91.8h0M340.8 96.8h0" stroke="#484df0" stroke-width="1.6" stroke-linecap="round"/>
<path d="M374.1 63.7h0M387.7 47.6h0M408.9 54.7h0M358.6 79.6h0M390.5 54.5h0M387.6 49.9h0M389.7 59.5h0" stroke="#abc739" stroke-width="1.6" stroke-linecap="round"/>
<path d="M393.5 67.9h0M392.9 71.5h0" stroke="#31c69f" stroke-width="1.5" stroke-linecap="round"/>
<path d="M392.6 74.6h0" stroke="#1ca9df" stroke-width="1.5" stroke-linecap="round"/>
<path d="M375.1 72.8h0M372.6 76.0h0M398.1 51.3h0M362.3 70.5h0M381.7 73.5h0M374.7 76.6h0M370.9 77.6h0M371.9 70.0h0M378.0 77.0h0M377.4 70.8h0M376.7 75.6h0M370.0 72.6h0M375.1 72.8h0M368.7 74.8h0M378.1 71.5h0" stroke="#19bfb6" stroke-width="1.6" stroke-linecap="round"/>
<path d="M399.3 39.2h0M403.9 42.3h0M411.1 42.1h0M418.4 30.9h0M421.8 16.7h0M428.1 24.6h0M411.6 27.1h0M397.3 42.4h0M423.9 29.9h0M422.1 32.5h0M416.5 25.5h0M398.7 44.7h0M400.7 38.6h0M430.1 43.6h0" stroke="#fec934" stroke-width="1.7" stroke-linecap="round"/>
<path d="M430.4 22.6h0" stroke="#d1bf27" stroke-width="1.7" stroke-linecap="round"/>
<path d="M365.0 75.2h0M361.9 70.9h0M372.6 69.2h0M375.7 71.9h0M407.8 41.7h0M389.0 58.7h0M382.9 55.1h0M396.7 57.1h0M383.7 70.0h0M388.1 56.4h0M410.0 46.8h0M386.2 56.4h0" stroke="#fad62d" stroke-width="1.6" stroke-linecap="round"/>
<path d="M369.9 62.0h0M356.7 72.6h0" stroke="#febe3c" stroke-width="1.5" stroke-linecap="round"/>
<path d="M376.2 77.2h0M374.5 77.7h0M372.0 78.0h0M380.2 77.4h0M370.9 71.4h0M363.3 76.1h0M369.0 78.0h0M356.3 80.0h0M376.0 73.3h0M362.5 74.0h0M360.5 77.1h0M367.4 69.8h0M357.2 78.2h0M363.9 79.0h0M369.6 73.4h0M368.2 73.7h0M371.2 80.3h0M354.7 75.8h0M409.5 56.2h0M365.1 75.5h0M360.6 72.3h0M362.8 76.2h0M362.8 80.7h0M376.0 78.2h0M354.4 76.5h0M361.3 75.1h0" stroke="#12b1d6" stroke-width="1.6" stroke-linecap="round"/>
<path d="M409.2 53.2h0M409.9 56.1h0" stroke="#08b5d0" stroke-width="1.5" stroke-linecap="round"/>
<path d="M386.3 63.5h0M387.8 61.6h0M374.8 59.9h0M379.1 60.6h0M383.5 59.3h0M377.2 65.3h0M380.7 73.6h0M389.4 61.6h0M387.0 48.8h0M366.4 73.0h0M384.8 57.1h0M376.6 65.5h0M376.4 60.5h0M373.6 72.4h0M405.0 57.9h0M389.3 67.9h0M410.8 42.4h0M389.1 61.6h0M385.3 50.8h0" stroke="#4acb84" stroke-width="1.6" stroke-linecap="round"/>
<path d="M395.7 62.8h0" stroke="#20a5e3" stroke-width="1.5" stroke-linecap="round"/>
<path d="M365.2 76.2h0M360.5 74.1h0M353.2 77.9h0M373.7 76.1h0M361.8 80.2h0M355.3 78.4h0M368.3 72.1h0M370.3 76.3h0M368.0 77.5h0M376.6 75.1h0M372.7 80.7h0M352.5 78.9h0M371.0 77.7h0M370.1 79.5h0M353.8 77.6h0M356.2 77.8h0M356.1 73.2h0M371.0 71.4h0M353.2 77.5h0" stroke="#1ca9df" stroke-width="1.6" stroke-linecap="round"/>
<path d="M397.9 60.5h0" stroke="#d1bf27" stroke-width="1.6" stroke-linecap="round"/>
<path d="M403.3 42.7h0" stroke="#f5e327" stroke-width="1.7" stroke-linecap="round"/>
<path d="M396.6 46.8h0" stroke="#f7f51b" stroke-width="1.6" stroke-linecap="round"/>
<path d="M421.8 22.0h0M403.5 47.8h0M413.6 24.6h0" stroke="#f0ba36" stroke-width="1.7" stroke-linecap="round"/>
<path d="M369.4 62.2h0" stroke="#f0ba36" stroke-width="1.5" stroke-linecap="round"/>
<path d="M344.8 93.8h0M345.4 92.2h0M343.8 91.0h0M346.9 91.1h0M335.7 96.7h0M348.7 93.3h0M342.8 89.3h0M336.8 93.1h0M350.0 91.8h0M343.1 93.6h0" stroke="#4852f4" stroke-width="1.6" stroke-linecap="round"/>
<path d="M350.2 75.9h0M371.5 61.5h0" stroke="#fec934" stroke-width="1.5" stroke-linecap="round"/>
<path d="M330.8 99.7h0M328.4 101.1h0M336.2 99.8h0M333.2 100.1h0M329.0 100.6h0M338.9 97.1h0M330.1 101.2h0" stroke="#3e26a8" stroke-width="1.6" stroke-linecap="round"/>
<path d="M376.6 76.4h0M371.9 66.5h0M368.6 68.6h0M389.4 68.3h0M379.2 71.4h0M410.2 42.7h0M384.8 71.0h0M364.5 66.6h0M369.3 72.0h0M376.3 59.4h0M390.7 68.4h0M378.6 68.5h0M385.7 59.2h0M377.3 63.2h0M403.3 57.4h0M389.7 68.0h0M386.7 65.8h0M384.0 69.3h0M374.4 63.1h0M383.2 64.9h0M383.1 73.5h0M381.7 72.4h0M381.5 65.4h0" stroke="#2cc4a7" stroke-width="1.6" stroke-linecap="round"/>
<path d="M329.6 99.7h0M330.4 99.1h0M333.0 96.1h0M337.6 97.0h0M342.0 96.6h0M329.7 99.7h0M328.2 101.6h0M333.3 99.9h0" stroke="#402ab4" stroke-width="1.6" stroke-linecap="round"/>
<path d="M349.7 84.9h0M356.0 88.4h0M349.3 87.0h0M348.2 89.2h0M353.3 89.6h0M358.0 86.9h0M346.7 88.0h0M352.9 85.0h0M347.1 89.5h0M349.8 83.9h0" stroke="#327cfc" stroke-width="1.6" stroke-linecap="round"/>
<path d="M363.1 81.3h0M356.4 83.1h0M355.8 85.5h0M347.1 90.0h0M352.4 86.7h0M342.8 88.4h0" stroke="#3875fe" stroke-width="1.6" stroke-linecap="round"/>
<path d="M333.3 98.1h0M337.2 94.4h0M337.2 95.9h0M336.9 93.2h0M332.2 98.9h0M340.2 95.1h0M329.8 99.6h0M328.2 101.3h0M330.8 100.2h0M335.1 96.0h0M348.0 91.0h0M335.8 96.8h0" stroke="#463cde" stroke-width="1.6" stroke-linecap="round"/>
<path d="M366.0 66.4h0M375.5 71.6h0M403.0 59.6h0M365.9 72.3h0M369.3 76.5h0M369.2 62.7h0M384.4 73.2h0M372.8 76.3h0M383.0 76.4h0M362.5 69.7h0M369.6 68.5h0M364.2 66.1h0M364.6 70.3h0M359.0 71.3h0" stroke="#0bbdbd" stroke-width="1.6" stroke-linecap="round"/>
<path d="M409.8 39.0h0M421.8 29.1h0" stroke="#dcbd29" stroke-width="1.7" stroke-linecap="round"/>
<path d="M368.3 63.1h0M392.0 61.7h0M395.8 46.8h0M408.7 54.7h0M370.3 71.2h0M405.7 56.1h0M350.4 88.2h0M352.0 79.4h0M392.8 52.1h0M391.1 57.9h0M405.4 42.0h0M375.2 64.3h0M395.0 50.5h0M394.5 57.3h0M366.4 80.1h0M353.1 79.7h0" stroke="#fec934" stroke-width="1.6" stroke-linecap="round"/>
<path d="M411.7 58.8h0" stroke="#18addb" stroke-width="1.5" stroke-linecap="round"/>
<path d="M385.8 67.4h0M390.2 67.9h0M381.0 57.2h0M401.8 55.3h0M385.6 58.7h0M384.0 61.0h0M355.1 74.1h0M381.7 60.6h0M391.6 60.0h0M390.2 50.7h0M409.8 41.2h0M387.9 53.6h0M362.6 69.0h0M364.8 80.1h0" stroke="#72cd64" stroke-width="1.6" stroke-linecap="round"/>
<path d="M404.9 53.9h0M403.2 54.4h0M408.3 40.4h0M392.8 61.5h0M409.3 43.6h0M401.5 53.3h0M394.1 64.1h0" stroke="#f5e327" stroke-width="1.6" stroke-linecap="round"/>
<path d="M407.7 41.4h0M423.7 34.0h0M422.1 20.0h0M412.6 45.9h0" stroke="#f7dc2a" stroke-width="1.7" stroke-linecap="round"/>
<path d="M344.5 95.0h0M343.1 95.4h0M343.7 95.2h0M343.7 90.3h0M345.5 93.9h0M344.2 91.5h0M336.3 92.8h0M335.9 95.0h0M346.7 94.2h0M334.6 98.5h0M335.5 94.0h0M341.7 96.4h0M337.0 94.0h0" stroke="#4747eb" stroke-width="1.6" stroke-linecap="round"/>
<path d="M406.8 43.0h0" stroke="#f7f51b" stroke-width="1.6" stroke-linecap="round"/>
<path d="M379.3 56.2h0M375.0 69.4h0M390.1 68.4h0M399.9 61.8h0M383.9 76.0h0M391.8 47.1h0M404.7 46.6h0M377.9 59.0h0M384.8 69.0h0M392.4 61.7h0M363.1 68.6h0M381.6 67.9h0M374.8 66.4h0" stroke="#57cc7a" stroke-width="1.6" stroke-linecap="round"/>
<path d="M379.6 45.3h0M397.6 28.6h0M396.3 41.8h0M418.3 32.6h0M417.6 29.2h0M388.5 43.3h0" stroke="#fccf30" stroke-width="1.7" stroke-linecap="round"/>
<path d="M375.4 64.9h0M386.5 53.8h0M361.1 78.6h0M394.8 58.2h0" stroke="#dcbd29" stroke-width="1.6" stroke-linecap="round"/>
<path d="M390.4 53.1h0M391.8 66.9h0M385.3 51.5h0M374.8 60.5h0M373.5 67.6h0M378.7 55.5h0M403.1 46.6h0M365.4 67.2h0M385.8 63.2h0M394.3 52.9h0M385.5 54.4h0M359.8 82.9h0" stroke="#8fcb4e" stroke-width="1.6" stroke-linecap="round"/>
<path d="M355.9 83.5h0M362.4 81.5h0M353.6 82.6h0M351.2 84.2h0M353.0 79.2h0M360.2 80.5h0M358.2 77.9h0M353.4 85.7h0M358.1 77.6h0M354.6 87.6h0M355.4 75.8h0M348.1 82.6h0" stroke="#2797eb" stroke-width="1.6" stroke-linecap="round"/>
<path d="M407.8 47.4h0M354.9 78.1h0M367.9 67.0h0M399.0 56.7h0M375.8 74.5h0M387.6 58.4h0M402.7 48.0h0M379.2 57.2h0" stroke="#fad62d" stroke-width="1.6" stroke-linecap="round"/>
<path d="M410.1 35.2h0M405.1 28.3h0" stroke="#f5e924" stroke-width="1.7" stroke-linecap="round"/>
<path d="M379.6 67.7h0M404.1 50.4h0M384.4 60.1h0M378.1 59.1h0M386.0 68.2h0M391.3 64.3h0M381.8 73.0h0M392.1 61.8h0M379.6 66.7h0M389.1 64.9h0M389.4 63.2h0M364.6 75.4h0M369.5 64.4h0M370.4 63.6h0M401.3 44.8h0M373.5 61.8h0M391.9 52.6h0M352.2 79.3h0M378.2 67.6h0M373.0 69.6h0M410.6 47.2h0" stroke="#3fca8e" stroke-width="1.6" stroke-linecap="round"/>
<path d="M393.6 62.5h0M401.5 41.6h0M376.8 58.8h0M367.2 69.0h0M374.2 72.6h0M374.1 68.5h0" stroke="#fec934" stroke-width="1.6" stroke-linecap="round"/>
<path d="M330.6 101.5h0M331.8 100.1h0M328.9 101.2h0M334.5 96.2h0M334.5 100.1h0M331.3 98.1h0M330.5 101.3h0M336.3 95.2h0M332.8 100.6h0M337.7 99.0h0" stroke="#3e26a8" stroke-width="1.6" stroke-linecap="round"/>
<path d="M407.7 58.2h0M404.3 68.0h0" stroke="#24c1ae" stroke-width="1.5" stroke-linecap="round"/>
<path d="M390.8 74.6h0M406.8 63.8h0" stroke="#12b1d6" stroke-width="1.5" stroke-linecap="round"/>
<path d="M360.6 81.4h0M356.5 84.1h0M356.0 85.0h0M346.8 83.6h0M350.6 85.4h0M352.5 86.5h0M355.1 81.7h0M351.2 80.5h0M363.6 83.9h0" stroke="#2b91ef" stroke-width="1.6" stroke-linecap="round"/>
<path d="M402.9 53.8h0M395.5 59.8h0M353.3 86.1h0M391.5 50.8h0M351.6 80.1h0M387.3 57.2h0M385.9 53.5h0" stroke="#f7dc2a" stroke-width="1.6" stroke-linecap="round"/>
<path d="M411.8 53.5h0" stroke="#08b5d0" stroke-width="1.5" stroke-linecap="round"/>
<path d="M365.8 81.3h0M364.8 82.7h0M396.9 50.7h0M364.4 77.2h0M364.0 80.2h0M373.6 75.5h0M362.0 74.1h0M364.7 75.1h0M365.9 75.6h0M357.6 72.6h0M372.5 79.1h0M360.0 73.9h0M381.2 75.7h0" stroke="#18addb" stroke-width="1.6" stroke-linecap="round"/>
<path d="M365.6 64.9h0M371.6 65.4h0M363.5 80.0h0M387.0 66.2h0M353.3 86.9h0M389.6 47.7h0M376.6 57.1h0M388.3 61.5h0M382.9 73.2h0M390.5 67.4h0M352.9 83.3h0" stroke="#e6bb2d" stroke-width="1.6" stroke-linecap="round"/>
<path d="M358.3 78.8h0M368.8 80.5h0M374.1 79.6h0M358.7 77.1h0M376.4 77.1h0M361.0 80.9h0M359.8 73.4h0M356.8 80.8h0M360.1 76.7h0M362.9 77.7h0M355.3 85.6h0M356.2 75.2h0M365.6 80.7h0M356.7 83.6h0M365.1 82.2h0M358.4 73.5h0M360.5 78.7h0M359.9 84.1h0M359.4 78.0h0M366.9 79.2h0" stroke="#23a0e5" stroke-width="1.6" stroke-linecap="round"/>
<path d="M341.4 93.3h0M340.2 93.4h0M337.8 92.4h0M338.4 96.5h0M342.7 90.3h0M343.2 88.3h0M338.6 95.6h0M350.5 90.2h0M346.9 89.9h0M344.8 91.5h0M342.0 93.5h0M343.1 89.2h0M335.8 97.9h0" stroke="#484df0" stroke-width="1.6" stroke-linecap="round"/>
<path d="M347.1 85.6h0M358.2 78.9h0M351.0 83.9h0M341.9 90.5h0M348.0 87.2h0M358.7 85.5h0M356.9 82.2h0M357.5 81.3h0M352.2 83.4h0M348.1 87.1h0M350.4 85.9h0M352.0 88.6h0M355.4 88.5h0M352.3 78.8h0" stroke="#327cfc" stroke-width="1.6" stroke-linecap="round"/>
<path d="M368.9 69.6h0M377.6 56.0h0M358.0 75.1h0M388.1 56.8h0M400.4 58.1h0M394.5 56.3h0M357.2 73.5h0M390.7 52.0h0M401.4 44.9h0M403.1 47.7h0M385.0 51.5h0M386.4 63.4h0" stroke="#fec338" stroke-width="1.6" stroke-linecap="round"/>
<path d="M347.7 92.5h0M329.1 100.5h0M336.8 92.2h0M337.7 91.5h0M354.6 88.7h0M352.9 89.0h0M336.0 99.9h0M341.8 89.5h0M342.8 87.6h0M350.3 86.5h0" stroke="#4758f8" stroke-width="1.6" stroke-linecap="round"/>
<path d="M343.4 95.9h0M337.3 98.1h0M332.0 99.6h0M329.1 101.7h0M342.4 95.2h0M328.7 101.2h0M329.3 100.7h0M327.9 101.7h0" stroke="#422ec0" stroke-width="1.6" stroke-linecap="round"/>
<path d="M350.8 88.7h0M354.6 89.2h0M343.9 86.6h0M351.0 89.3h0M352.0 88.7h0M345.9 85.0h0M345.6 89.8h0M351.2 91.1h0M344.5 90.6h0M351.6 89.8h0" stroke="#3e6fff" stroke-width="1.6" stroke-linecap="round"/>
<path d="M410.1 28.0h0M394.7 52.9h0M393.9 38.1h0M407.0 52.3h0M408.0 43.3h0" stroke="#fad62d" stroke-width="1.7" stroke-linecap="round"/>
<path d="M355.2 81.8h0M356.7 87.8h0M353.8 86.2h0M360.7 84.3h0M352.9 81.9h0M351.6 83.5h0M351.3 91.6h0M346.2 85.2h0M349.2 82.6h0M359.0 85.9h0M350.4 82.1h0M355.6 85.6h0M349.3 89.8h0" stroke="#2e87f7" stroke-width="1.6" stroke-linecap="round"/>
<path d="M396.0 72.9h0M391.1 69.1h0M401.2 65.9h0" stroke="#02bac3" stroke-width="1.5" stroke-linecap="round"/>
<path d="M338.5 97.0h0M335.9 99.3h0M340.9 95.8h0M334.1 97.8h0M336.8 97.7h0M342.4 93.4h0M336.5 99.4h0M331.5 98.4h0M345.6 93.1h0M329.4 100.2h0M338.1 98.3h0" stroke="#4537d5" stroke-width="1.6" stroke-linecap="round"/>
<path d="M339.0 92.0h0M336.6 93.1h0M347.4 93.8h0M343.4 92.6h0M350.9 90.3h0M339.0 93.7h0M343.0 90.4h0M335.5 98.3h0M341.7 93.4h0" stroke="#4852f4" stroke-width="1.6" stroke-linecap="round"/>
<path d="M351.5 79.4h0M371.7 78.7h0M357.7 84.6h0M369.3 82.1h0M357.4 79.6h0M364.5 75.7h0M364.6 77.5h0M367.4 75.1h0M354.4 75.7h0" stroke="#20a5e3" stroke-width="1.6" stroke-linecap="round"/>
<path d="M373.3 66.2h0M370.5 75.5h0M369.6 78.3h0M372.9 72.0h0M368.5 74.1h0M398.9 51.6h0M383.6 74.1h0M368.1 74.2h0M380.6 73.2h0M373.3 78.7h0M383.4 71.0h0M375.1 71.6h0M365.6 72.1h0M381.9 75.0h0M380.3 73.8h0M363.8 77.3h0" stroke="#01b8ca" stroke-width="1.6" stroke-linecap="round"/>
<path d="M389.0 46.9h0M392.2 55.2h0" stroke="#d1bf27" stroke-width="1.6" stroke-linecap="round"/>
<path d="M351.3 77.4h0" stroke="#fec338" stroke-width="1.5" stroke-linecap="round"/>
<path d="M415.2 23.6h0M403.0 48.9h0M406.7 43.2h0M401.6 40.7h0M429.2 20.5h0" stroke="#dcbd29" stroke-width="1.7" stroke-linecap="round"/>
<path d="M404.3 33.2h0M427.0 45.0h0M404.6 43.3h0M394.4 47.0h0M407.5 23.9h0M419.2 47.7h0M410.8 50.4h0M400.8 44.1h0M417.8 34.2h0M418.5 21.4h0" stroke="#fec934" stroke-width="1.7" stroke-linecap="round"/>
<path d="M406.9 41.7h0M406.1 47.3h0" stroke="#f6ef20" stroke-width="1.6" stroke-linecap="round"/>
<path d="M389.4 52.3h0M409.7 45.2h0M388.5 47.9h0M407.2 53.7h0" stroke="#b9c431" stroke-width="1.6" stroke-linecap="round"/>
<path d="M372.3 62.8h0M366.6 66.0h0M398.9 60.6h0M392.6 50.6h0M376.5 62.0h0M408.6 40.6h0M377.8 67.5h0M371.4 61.0h0M363.6 69.3h0M386.0 65.3h0M377.7 71.3h0M388.0 71.0h0M386.3 64.5h0M387.6 60.9h0M369.0 69.9h0" stroke="#2cc4a7" stroke-width="1.6" stroke-linecap="round"/>
<path d="M388.8 68.0h0M379.5 75.1h0M383.7 68.9h0M387.6 62.6h0M383.1 59.6h0M378.1 57.6h0M386.0 68.1h0M388.1 67.9h0M381.9 69.9h0M365.1 67.6h0M371.1 65.1h0M381.6 60.9h0M367.5 64.2h0M381.4 66.6h0M385.8 65.5h0M388.5 59.8h0M359.7 76.3h0M384.1 61.2h0M384.9 72.9h0M385.1 67.2h0M384.3 61.4h0" stroke="#37c897" stroke-width="1.6" stroke-linecap="round"/>
<path d="M390.3 51.6h0" stroke="#d1bf27" stroke-width="1.7" stroke-linecap="round"/>
<path d="M350.4 91.5h0M346.7 87.0h0M343.1 88.2h0M351.3 88.7h0M337.0 95.8h0M351.7 90.3h0M339.1 90.3h0M339.6 93.6h0M344.6 90.9h0M348.8 85.5h0" stroke="#4563fd" stroke-width="1.6" stroke-linecap="round"/>
<path d="M380.3 55.2h0M384.0 50.4h0M369.4 67.0h0M369.7 64.1h0M381.2 55.5h0M397.9 56.0h0M371.9 61.4h0M392.1 53.5h0M362.3 78.2h0" stroke="#f0ba36" stroke-width="1.6" stroke-linecap="round"/>
<path d="M328.6 102.0h0M342.2 93.4h0M330.3 99.0h0M343.4 95.6h0M334.2 98.6h0M333.3 98.8h0M343.5 96.0h0M336.2 96.4h0M332.4 96.5h0" stroke="#4332cb" stroke-width="1.6" stroke-linecap="round"/>
<path d="M382.0 74.9h0M383.1 68.8h0M386.0 73.9h0M365.1 72.9h0M377.6 76.2h0M361.1 70.1h0M372.4 61.3h0M382.9 75.9h0M373.3 72.8h0M402.9 59.4h0M364.0 77.1h0M372.0 65.6h0M364.0 72.7h0M375.7 79.3h0M371.7 76.9h0M373.4 71.0h0M373.5 69.9h0M376.1 69.7h0" stroke="#0bbdbd" stroke-width="1.6" stroke-linecap="round"/>
<path d="M413.1 35.8h0M418.5 25.8h0M412.5 51.5h0M415.0 32.6h0M416.2 51.4h0M409.9 21.4h0M422.7 24.6h0M399.8 41.4h0M400.8 43.4h0M392.3 57.5h0M428.5 46.8h0" stroke="#febe3c" stroke-width="1.7" stroke-linecap="round"/>
<path d="M420.4 24.5h0" stroke="#b9c431" stroke-width="1.7" stroke-linecap="round"/>
<path d="M355.3 76.3h0M351.8 82.2h0M362.4 83.2h0M360.4 85.4h0M365.0 80.0h0M354.1 76.4h0" stroke="#259be8" stroke-width="1.6" stroke-linecap="round"/>
<path d="M407.8 34.7h0M379.8 50.2h0" stroke="#e6bb2d" stroke-width="1.7" stroke-linecap="round"/>
<path d="M411.7 51.5h0" stroke="#19bfb6" stroke-width="1.5" stroke-linecap="round"/>
<path d="M427.9 36.6h0M422.5 24.5h0M413.1 53.7h0" stroke="#f0ba36" stroke-width="1.7" stroke-linecap="round"/>
<path d="M398.5 53.3h0M372.3 76.8h0M371.2 75.5h0M352.8 77.7h0M394.5 58.1h0M365.4 80.1h0M400.9 46.3h0M361.0 77.7h0M364.8 73.0h0M361.2 79.9h0M357.5 76.3h0" stroke="#08b5d0" stroke-width="1.6" stroke-linecap="round"/>
<path d="M385.0 54.4h0M408.0 45.7h0M384.8 53.8h0M377.7 66.9h0M356.2 73.9h0M398.4 56.0h0M387.0 54.6h0M376.2 66.1h0M381.7 52.5h0M389.5 45.6h0M392.0 55.2h0M384.2 63.3h0" stroke="#f8ba3d" stroke-width="1.6" stroke-linecap="round"/>
<path d="M384.6 62.0h0M382.8 51.9h0M374.9 59.8h0M389.7 62.6h0M374.1 70.6h0M371.0 71.3h0M388.6 57.2h0M398.3 60.2h0M391.5 59.7h0M361.3 69.6h0M382.8 52.3h0M388.6 60.6h0M388.8 50.4h0M398.8 53.3h0M360.6 83.8h0M386.2 52.9h0M355.8 76.3h0" stroke="#9dc943" stroke-width="1.6" stroke-linecap="round"/>
<path d="M419.6 18.3h0M400.2 47.0h0M413.1 37.9h0M409.4 37.8h0M427.9 32.6h0M417.4 26.0h0M413.2 29.0h0M398.3 45.5h0M395.5 41.9h0M410.2 37.4h0M402.6 42.7h0" stroke="#f8ba3d" stroke-width="1.7" stroke-linecap="round"/>
<path d="M373.9 59.6h0M365.1 70.9h0M379.6 61.2h0M380.7 61.4h0M385.3 68.0h0M385.4 52.3h0M351.5 87.1h0M382.8 61.7h0M373.7 65.3h0M391.4 66.7h0M373.4 65.4h0M386.5 55.7h0M388.8 60.2h0M382.5 64.0h0M386.2 58.2h0M360.0 74.9h0M385.1 64.7h0M377.4 61.8h0M388.2 64.5h0M371.6 72.2h0M388.0 67.7h0" stroke="#4acb84" stroke-width="1.6" stroke-linecap="round"/>
<path d="M398.4 65.7h0" stroke="#01b8ca" stroke-width="1.5" stroke-linecap="round"/>
<path d="M327.8 101.7h0M333.8 96.1h0M343.4 96.3h0M334.8 99.4h0M337.6 93.9h0M337.1 96.3h0M338.8 95.3h0M335.5 97.9h0M338.3 94.8h0M346.6 93.0h0M333.3 96.1h0M335.5 95.9h0M338.8 97.2h0M338.1 96.3h0" stroke="#463cde" stroke-width="1.6" stroke-linecap="round"/>
<path d="M358.6 82.6h0M354.9 86.0h0M356.2 78.6h0M357.9 83.0h0M353.9 85.4h0M355.9 86.1h0M359.2 85.5h0M361.6 83.2h0M356.6 87.8h0M353.0 82.5h0M349.9 86.4h0M356.2 86.5h0" stroke="#2d8cf3" stroke-width="1.6" stroke-linecap="round"/>
<path d="M426.7 27.4h0" stroke="#f5e327" stroke-width="1.7" stroke-linecap="round"/>
<path d="M337.6 98.8h0M329.3 101.3h0M334.3 95.1h0M339.2 94.2h0M345.0 94.4h0M340.9 97.0h0M342.9 96.5h0M332.2 96.8h0M335.7 94.8h0M347.0 94.1h0M339.1 91.0h0M347.5 92.3h0M344.3 93.7h0" stroke="#4741e5" stroke-width="1.6" stroke-linecap="round"/>
<path d="M376.0 62.0h0M374.3 70.9h0M378.6 73.4h0M369.2 68.8h0M384.7 71.2h0M368.6 72.8h0M367.8 72.5h0M382.5 72.4h0M369.3 67.6h0M370.3 71.4h0M384.3 69.2h0M363.4 72.0h0" stroke="#02bac3" stroke-width="1.6" stroke-linecap="round"/>
<path d="M402.8 47.2h0" stroke="#f5e924" stroke-width="1.6" stroke-linecap="round"/>
<path d="M356.7 78.7h0M383.7 53.8h0M389.1 50.8h0M388.2 53.2h0M411.0 43.7h0M386.2 66.5h0M383.3 62.2h0M367.8 63.7h0M371.2 72.2h0M374.3 69.4h0M374.4 63.0h0M356.9 78.3h0M379.9 61.7h0M387.5 55.9h0M385.4 56.8h0" stroke="#81cc59" stroke-width="1.6" stroke-linecap="round"/>
<path d="M362.0 74.6h0M345.6 87.9h0M383.6 53.9h0M390.8 60.8h0M355.1 77.8h0M358.9 81.4h0M352.6 78.2h0M403.1 60.0h0M388.7 57.4h0M404.3 47.7h0M383.1 55.3h0" stroke="#febe3c" stroke-width="1.6" stroke-linecap="round"/>
<path d="M333.5 96.2h0M333.9 100.8h0" stroke="#402ab4" stroke-width="1.6" stroke-linecap="round"/>
<path d="M346.3 89.6h0M348.4 86.9h0M342.8 91.9h0M345.9 91.0h0M343.5 87.3h0M345.4 93.9h0M344.4 88.8h0M346.0 87.2h0M348.4 89.0h0M346.8 88.4h0M350.8 88.7h0M342.3 88.0h0M339.4 97.1h0" stroke="#465efb" stroke-width="1.6" stroke-linecap="round"/>
<path d="M398.7 50.6h0M376.1 78.5h0M385.0 71.7h0M386.2 72.1h0M384.5 66.6h0M366.3 72.8h0M402.0 48.2h0M395.1 54.1h0M370.9 66.8h0M397.9 59.4h0M409.0 50.1h0M379.0 74.2h0M378.1 69.6h0M358.6 70.7h0M371.4 78.6h0M377.2 70.1h0M378.2 71.5h0M357.0 72.7h0M390.9 66.6h0M381.0 73.6h0M377.8 75.3h0M371.9 68.7h0M385.1 68.3h0M367.8 72.6h0M369.2 69.7h0M376.2 78.0h0" stroke="#19bfb6" stroke-width="1.6" stroke-linecap="round"/>
<path d="M386.2 57.8h0M378.0 66.0h0M393.3 54.2h0M378.9 59.8h0M400.0 48.1h0M387.6 56.9h0M383.8 54.8h0M397.7 60.2h0M387.1 58.4h0M385.8 66.0h0M387.4 59.5h0M390.8 55.3h0M390.4 56.3h0M359.7 82.6h0M387.4 49.9h0M406.3 48.5h0M367.9 78.1h0M360.0 76.8h0M388.0 49.2h0M406.8 57.3h0M387.8 59.3h0M391.1 67.5h0M409.8 48.4h0" stroke="#64cd6f" stroke-width="1.6" stroke-linecap="round"/>
<path d="M384.1 49.3h0M407.9 26.5h0M402.2 30.4h0" stroke="#fec338" stroke-width="1.7" stroke-linecap="round"/>
<path d="M371.0 79.4h0M368.1 76.6h0M358.9 80.1h0M401.5 56.8h0M357.6 75.7h0M379.3 68.8h0M359.6 74.9h0M360.4 81.1h0M367.0 76.6h0M360.3 78.6h0M362.2 72.1h0M358.9 75.4h0M368.6 80.0h0M374.9 78.2h0M361.8 71.8h0" stroke="#12b1d6" stroke-width="1.6" stroke-linecap="round"/>
<path d="M404.5 45.2h0M391.2 55.1h0" stroke="#c5c22a" stroke-width="1.6" stroke-linecap="round"/>
<path d="M351.2 91.4h0M351.8 88.0h0M351.7 90.7h0M348.3 90.0h0M350.7 88.6h0M344.9 88.1h0M346.4 92.3h0M347.5 89.8h0" stroke="#4269fe" stroke-width="1.6" stroke-linecap="round"/>
<path d="M382.2 53.0h0M385.2 62.8h0M382.2 63.8h0M386.2 58.8h0M391.2 60.4h0M389.7 50.3h0M361.3 78.2h0M360.7 69.5h0" stroke="#abc739" stroke-width="1.6" stroke-linecap="round"/>
<path d="M391.1 69.2h0M394.1 69.7h0M402.4 68.9h0" stroke="#18addb" stroke-width="1.5" stroke-linecap="round"/>
<path d="M348.5 86.5h0M358.4 86.7h0M341.8 89.7h0M340.7 90.8h0M355.2 86.5h0M351.7 86.6h0M357.3 87.6h0M344.6 89.1h0M351.0 87.5h0" stroke="#3875fe" stroke-width="1.6" stroke-linecap="round"/>
<path d="M368.2 61.5h0" stroke="#febe3c" stroke-width="1.5" stroke-linecap="round"/>
<path d="M379.0 60.9h0M387.8 70.6h0M364.5 67.2h0M367.3 68.7h0M390.3 64.1h0M367.8 70.8h0M374.2 64.9h0M388.4 71.5h0M382.6 64.4h0M388.7 69.9h0M383.4 62.7h0M369.9 63.9h0M388.1 68.4h0M400.0 45.5h0M386.1 69.7h0M408.7 51.7h0M359.7 70.7h0M410.5 52.8h0M367.7 65.8h0M381.6 67.4h0M380.1 61.9h0M373.1 64.2h0M371.2 65.0h0M381.9 70.5h0M388.0 70.6h0M382.8 72.7h0" stroke="#31c69f" stroke-width="1.6" stroke-linecap="round"/>
<path d="M357.5 73.1h0" stroke="#f8ba3d" stroke-width="1.5" stroke-linecap="round"/>
<path d="M385.5 71.1h0M391.8 57.8h0M371.5 66.0h0M391.6 63.5h0M378.2 73.9h0M364.5 69.8h0M382.3 72.6h0M366.0 68.1h0M400.8 53.7h0M388.3 69.1h0M393.7 56.1h0M382.0 64.5h0M378.6 63.4h0M392.8 62.5h0M383.8 74.1h0M369.9 67.5h0M377.0 68.2h0" stroke="#24c1ae" stroke-width="1.6" stroke-linecap="round"/>
<path d="M352.9 82.1h0M358.8 83.3h0M355.0 80.9h0M353.4 84.0h0M349.1 84.3h0M356.4 85.0h0M353.6 81.1h0M361.1 83.7h0M349.1 82.0h0M355.5 82.4h0" stroke="#2f81fa" stroke-width="1.6" stroke-linecap="round"/>
<path d="M396.6 45.5h0M365.4 81.0h0M375.7 67.0h0M397.4 46.4h0M404.6 42.2h0M354.3 75.7h0M394.0 61.6h0M346.9 89.8h0M365.7 73.2h0M374.5 68.9h0M361.9 68.0h0" stroke="#fccf30" stroke-width="1.6" stroke-linecap="round"/>
<path d="M364.4 79.2h0M364.4 78.7h0M357.9 77.1h0M372.8 80.8h0M353.7 78.0h0M367.2 79.6h0M360.2 77.0h0M368.9 82.4h0M379.9 77.5h0M375.4 75.1h0M361.3 81.5h0" stroke="#1ca9df" stroke-width="1.6" stroke-linecap="round"/>
<path d="M357.0 81.6h0M357.8 80.8h0M353.1 81.2h0M353.9 79.1h0M354.1 75.9h0M356.3 74.8h0M352.8 77.9h0M349.9 83.0h0M355.2 79.2h0M349.8 80.6h0M356.2 87.0h0M349.6 83.4h0M352.6 87.1h0M352.9 78.8h0M358.4 81.2h0" stroke="#2d8cf3" stroke-width="1.6" stroke-linecap="round"/>
<path d="M369.8 66.2h0M404.4 57.5h0M401.9 52.8h0M393.3 51.1h0M403.0 60.2h0M387.9 57.5h0M374.9 62.7h0M390.8 45.5h0M390.6 66.8h0M383.5 62.6h0M384.2 74.3h0M395.3 52.2h0M384.8 63.9h0M381.7 57.9h0" stroke="#57cc7a" stroke-width="1.6" stroke-linecap="round"/>
<path d="M398.0 55.0h0M402.5 48.4h0M394.2 57.8h0" stroke="#d1bf27" stroke-width="1.6" stroke-linecap="round"/>
<path d="M350.2 90.0h0M351.0 86.2h0M338.3 92.5h0M344.7 93.9h0M351.9 91.0h0M346.4 90.5h0M344.9 90.0h0M348.0 90.5h0M336.2 93.2h0M346.7 93.1h0M339.6 94.2h0M344.3 89.4h0M342.3 87.4h0M342.1 88.5h0M345.0 88.7h0" stroke="#4758f8" stroke-width="1.6" stroke-linecap="round"/>
<path d="M330.8 99.0h0M341.5 92.7h0M339.1 96.1h0M342.8 92.6h0M332.2 97.0h0M342.2 93.7h0" stroke="#463cde" stroke-width="1.6" stroke-linecap="round"/>
<path d="M347.4 83.7h0M349.5 85.6h0M351.5 89.0h0M353.4 84.1h0M343.8 86.8h0M350.9 82.0h0M350.8 92.0h0M348.1 84.6h0M342.5 90.9h0M347.4 84.1h0" stroke="#3875fe" stroke-width="1.6" stroke-linecap="round"/>
<path d="M355.1 85.1h0M354.5 78.1h0M366.3 77.5h0M360.6 80.2h0M360.5 84.4h0M361.8 81.6h0M361.5 85.1h0M360.4 79.9h0M355.9 76.8h0M359.8 83.0h0M357.8 83.3h0M356.4 78.6h0" stroke="#259be8" stroke-width="1.6" stroke-linecap="round"/>
<path d="M399.9 69.8h0M395.6 65.1h0" stroke="#01b8ca" stroke-width="1.5" stroke-linecap="round"/>
<path d="M345.5 90.2h0M336.8 93.2h0M345.1 88.5h0M334.3 100.3h0M338.7 97.0h0M335.6 94.7h0M339.4 94.5h0M335.6 94.8h0" stroke="#484df0" stroke-width="1.6" stroke-linecap="round"/>
<path d="M422.0 29.4h0" stroke="#f6ef20" stroke-width="1.7" stroke-linecap="round"/>
<path d="M417.9 30.1h0M394.8 44.8h0M418.0 30.4h0M405.8 42.4h0M384.0 52.9h0M424.8 20.1h0M402.5 47.1h0" stroke="#febe3c" stroke-width="1.7" stroke-linecap="round"/>
<path d="M362.4 77.0h0M367.5 77.6h0M364.5 73.9h0M368.6 80.8h0M361.2 79.5h0M371.9 76.9h0M357.3 76.5h0M364.0 81.9h0M359.9 77.6h0M367.1 73.7h0M366.6 77.9h0M357.7 73.7h0M356.9 78.0h0M371.6 73.1h0" stroke="#1ca9df" stroke-width="1.6" stroke-linecap="round"/>
<path d="M380.2 68.7h0M382.8 75.2h0M376.3 66.9h0M379.6 60.0h0M377.8 71.6h0M389.8 63.2h0M363.8 66.9h0M381.4 70.3h0M397.4 59.1h0M377.8 70.6h0M378.5 66.9h0M370.2 64.2h0M386.9 69.7h0M378.6 67.3h0M365.7 70.7h0M378.0 72.6h0M384.3 70.9h0M383.6 71.9h0M384.6 74.4h0M398.7 52.4h0M382.9 71.7h0M361.4 69.6h0" stroke="#24c1ae" stroke-width="1.6" stroke-linecap="round"/>
<path d="M350.2 88.3h0M346.2 84.5h0M345.3 88.5h0M355.1 83.8h0M345.9 87.8h0M352.5 89.0h0M355.3 84.7h0M351.8 81.6h0" stroke="#327cfc" stroke-width="1.6" stroke-linecap="round"/>
<path d="M400.3 63.9h0" stroke="#20a5e3" stroke-width="1.5" stroke-linecap="round"/>
<path d="M404.0 40.9h0M377.4 73.7h0M393.8 63.2h0M375.1 73.3h0M370.5 68.9h0M365.4 65.7h0M374.0 70.4h0M373.7 67.6h0M367.0 67.4h0M372.7 70.3h0M370.8 65.8h0M372.0 71.4h0M383.5 69.9h0M361.1 71.8h0M382.7 71.0h0" stroke="#0bbdbd" stroke-width="1.6" stroke-linecap="round"/>
<path d="M382.7 53.4h0M384.7 55.9h0M390.0 56.6h0M377.0 67.1h0M377.6 59.7h0M388.9 58.5h0M372.2 60.7h0M376.8 67.7h0M389.9 60.0h0M374.4 64.5h0M379.8 61.3h0" stroke="#8fcb4e" stroke-width="1.6" stroke-linecap="round"/>
<path d="M401.0 59.5h0M411.8 45.6h0M378.0 63.3h0M391.9 60.0h0M357.5 83.6h0M360.3 78.6h0" stroke="#dcbd29" stroke-width="1.6" stroke-linecap="round"/>
<path d="M387.2 48.8h0M376.9 57.9h0M382.9 66.8h0M380.8 58.8h0M377.4 59.5h0M346.5 83.7h0M385.6 58.6h0M409.2 45.1h0M390.2 57.4h0M410.8 52.2h0M394.0 54.4h0M375.0 76.2h0M374.6 59.1h0M374.1 70.0h0M373.8 71.3h0M385.8 52.9h0M378.2 60.9h0" stroke="#f8ba3d" stroke-width="1.6" stroke-linecap="round"/>
<path d="M370.4 63.4h0M410.5 45.3h0M363.9 74.8h0M390.3 47.1h0M356.4 77.4h0M371.1 77.9h0M389.0 56.6h0M369.8 75.1h0M354.1 75.9h0M389.3 58.5h0M374.8 65.1h0M378.8 60.7h0M402.4 58.6h0M350.8 84.8h0" stroke="#fec934" stroke-width="1.6" stroke-linecap="round"/>
<path d="M391.3 47.1h0M387.2 55.4h0M362.7 70.4h0M391.0 48.9h0M351.6 80.6h0M385.6 48.8h0M370.3 65.2h0" stroke="#abc739" stroke-width="1.6" stroke-linecap="round"/>
<path d="M385.0 57.4h0M391.5 51.3h0M385.9 49.8h0M385.5 49.5h0M405.6 41.2h0M366.0 71.3h0M387.9 48.5h0M383.3 51.3h0M374.7 68.3h0M376.3 57.7h0M388.7 50.4h0M379.4 59.0h0M382.9 56.1h0" stroke="#81cc59" stroke-width="1.6" stroke-linecap="round"/>
<path d="M361.1 76.4h0M357.6 76.1h0M367.0 74.1h0M377.3 76.0h0M367.6 77.8h0M376.8 76.1h0M367.7 72.8h0M375.1 78.1h0M357.2 74.2h0" stroke="#18addb" stroke-width="1.6" stroke-linecap="round"/>
<path d="M376.8 65.8h0M384.5 59.0h0M377.0 59.1h0M408.0 45.2h0M391.6 52.2h0M400.7 51.0h0M387.6 59.7h0M383.2 52.0h0M396.9 50.6h0M374.7 59.8h0M358.9 83.0h0M388.4 48.5h0M346.3 84.1h0M394.4 50.8h0M385.1 64.4h0" stroke="#fccf30" stroke-width="1.6" stroke-linecap="round"/>
<path d="M406.1 52.6h0" stroke="#f5e924" stroke-width="1.6" stroke-linecap="round"/>
<path d="M356.0 75.1h0M383.6 69.4h0M372.7 73.8h0M404.2 46.7h0M401.8 54.3h0M383.4 51.5h0M409.9 42.3h0M404.0 48.6h0M386.1 59.4h0M397.3 62.4h0M407.1 44.1h0M365.6 70.4h0" stroke="#fec338" stroke-width="1.6" stroke-linecap="round"/>
<path d="M360.4 79.5h0M360.1 82.2h0M349.7 82.7h0M354.1 83.2h0M349.9 83.3h0M348.9 83.3h0M349.4 89.3h0M349.9 86.5h0M347.4 83.6h0M356.1 84.5h0M359.7 86.2h0" stroke="#2e87f7" stroke-width="1.6" stroke-linecap="round"/>
<path d="M336.8 98.8h0M341.8 91.8h0M336.6 92.8h0M341.6 94.4h0M338.2 91.8h0M346.6 90.1h0M349.3 89.2h0M344.2 92.9h0M340.3 95.1h0M339.4 97.1h0M337.5 92.6h0M339.9 93.0h0M341.9 91.4h0M344.6 90.1h0M339.3 91.1h0" stroke="#4747eb" stroke-width="1.6" stroke-linecap="round"/>
<path d="M415.4 33.1h0M428.3 20.0h0M432.2 48.0h0M397.6 37.7h0M423.3 26.3h0M433.8 38.2h0M403.1 43.3h0" stroke="#f7dc2a" stroke-width="1.7" stroke-linecap="round"/>
<path d="M412.4 19.6h0M411.4 41.5h0M412.5 25.0h0M389.5 54.2h0M407.9 44.5h0M409.5 34.8h0" stroke="#fec338" stroke-width="1.7" stroke-linecap="round"/>
<path d="M328.5 101.0h0M335.6 97.0h0M335.4 95.1h0M341.3 96.0h0M328.8 101.2h0" stroke="#402ab4" stroke-width="1.6" stroke-linecap="round"/>
<path d="M392.1 74.5h0" stroke="#2cc4a7" stroke-width="1.5" stroke-linecap="round"/>
<path d="M345.3 89.9h0M343.2 95.9h0M334.3 100.1h0" stroke="#4537d5" stroke-width="1.6" stroke-linecap="round"/>
<path d="M405.5 41.4h0M380.0 63.6h0M368.7 68.9h0M409.2 39.8h0M360.0 76.9h0M384.8 55.1h0M387.5 54.9h0M358.9 74.3h0M374.9 69.8h0M405.8 41.1h0" stroke="#fad62d" stroke-width="1.6" stroke-linecap="round"/>
<path d="M347.8 92.5h0M354.1 87.2h0M336.1 95.4h0M352.6 90.9h0M349.2 86.1h0M347.4 91.6h0M347.7 86.0h0M339.0 90.4h0M350.7 83.2h0M356.0 86.6h0M355.3 87.0h0M344.4 86.8h0" stroke="#3e6fff" stroke-width="1.6" stroke-linecap="round"/>
<path d="M391.5 50.4h0M406.6 47.3h0" stroke="#c5c22a" stroke-width="1.6" stroke-linecap="round"/>
<path d="M390.3 62.8h0M384.1 64.8h0M408.4 47.4h0M390.5 64.1h0M390.7 62.2h0M350.2 92.2h0M359.7 81.7h0M373.4 74.5h0M385.7 57.7h0M378.6 66.2h0M382.9 59.9h0M407.9 44.2h0M398.6 57.7h0M382.8 60.1h0M400.2 44.2h0M354.5 85.5h0M389.8 61.2h0M391.0 48.8h0M355.1 84.2h0M391.9 65.8h0M389.3 63.4h0M382.0 66.7h0" stroke="#72cd64" stroke-width="1.6" stroke-linecap="round"/>
<path d="M406.1 60.2h0M411.1 62.1h0" stroke="#0bbdbd" stroke-width="1.5" stroke-linecap="round"/>
<path d="M373.7 71.4h0M383.7 73.8h0M359.0 74.7h0M368.7 69.2h0M366.6 69.2h0M373.0 75.5h0M369.1 70.6h0M372.2 74.2h0M371.1 76.7h0M366.9 74.8h0M369.5 69.8h0M367.9 71.8h0M373.5 77.0h0M365.3 67.3h0" stroke="#08b5d0" stroke-width="1.6" stroke-linecap="round"/>
<path d="M409.9 56.8h0" stroke="#18addb" stroke-width="1.5" stroke-linecap="round"/>
<path d="M353.9 75.0h0" stroke="#fec934" stroke-width="1.5" stroke-linecap="round"/>
<path d="M349.9 86.1h0M355.5 84.7h0M352.1 81.0h0M364.1 80.4h0M363.4 84.0h0M357.5 83.5h0M353.6 80.7h0M357.1 82.1h0M350.8 84.2h0M362.2 85.2h0M348.9 82.3h0" stroke="#2b91ef" stroke-width="1.6" stroke-linecap="round"/>
<path d="M374.7 71.4h0M368.1 63.3h0M356.8 78.7h0M383.5 69.1h0M379.1 68.7h0M385.6 63.3h0M401.9 41.9h0M355.6 85.1h0M354.7 81.2h0M376.1 62.0h0M411.0 46.6h0M379.9 66.9h0M371.9 66.8h0M381.8 62.4h0M384.5 62.5h0M382.1 70.5h0M411.0 52.2h0M388.4 61.9h0M391.2 66.8h0M380.5 62.8h0" stroke="#37c897" stroke-width="1.6" stroke-linecap="round"/>
<path d="M413.0 58.0h0M425.0 52.0h0M352.3 75.3h0M408.0 64.8h0M429.0 49.0h0" stroke="#fec338" stroke-width="1.5" stroke-linecap="round"/>
<path d="M401.3 59.3h0M408.8 50.4h0M399.3 53.9h0M391.0 50.1h0M389.6 48.1h0" stroke="#b9c431" stroke-width="1.6" stroke-linecap="round"/>
<path d="M354.1 75.6h0" stroke="#f8ba3d" stroke-width="1.5" stroke-linecap="round"/>
<path d="M427.2 24.2h0M400.1 53.5h0M379.0 59.2h0M401.3 30.3h0M423.4 18.4h0" stroke="#fad62d" stroke-width="1.7" stroke-linecap="round"/>
<path d="M393.9 67.4h0M391.2 71.3h0M404.5 58.8h0" stroke="#08b5d0" stroke-width="1.5" stroke-linecap="round"/>
<path d="M391.1 47.7h0M384.4 57.5h0M395.9 51.8h0M389.4 60.6h0M383.5 60.9h0M399.8 53.7h0M407.7 53.3h0M388.2 55.6h0M391.5 45.6h0M392.0 50.9h0" stroke="#f7dc2a" stroke-width="1.6" stroke-linecap="round"/>
<path d="M397.6 62.2h0M400.7 58.7h0" stroke="#12b1d6" stroke-width="1.5" stroke-linecap="round"/>
<path d="M413.2 43.7h0M403.3 29.3h0M410.5 39.0h0M408.4 43.1h0M415.1 25.0h0" stroke="#f0ba36" stroke-width="1.7" stroke-linecap="round"/>
<path d="M363.8 80.9h0M363.8 78.8h0M355.7 83.4h0M369.4 79.3h0M359.9 77.9h0M373.8 78.3h0M355.8 75.0h0M366.5 81.2h0M352.0 78.0h0M368.3 74.0h0M358.9 74.1h0M355.3 84.5h0M360.3 75.0h0M367.8 77.6h0M359.4 75.3h0" stroke="#20a5e3" stroke-width="1.6" stroke-linecap="round"/>
<path d="M383.6 55.8h0M401.5 45.8h0M374.9 67.2h0M390.5 46.6h0M379.1 57.7h0M408.2 45.7h0M360.8 74.5h0M381.2 68.0h0M369.6 65.2h0M382.5 54.9h0M385.6 68.9h0M385.5 65.4h0M390.1 64.7h0M368.8 62.6h0M400.0 50.9h0M376.6 67.2h0M402.0 46.4h0M379.8 57.9h0M399.2 57.5h0M391.8 60.1h0M373.3 69.5h0M385.9 68.5h0M377.4 67.2h0" stroke="#4acb84" stroke-width="1.6" stroke-linecap="round"/>
<path d="M381.7 46.5h0M418.4 18.9h0" stroke="#f5e327" stroke-width="1.7" stroke-linecap="round"/>
<path d="M387.5 58.1h0M409.1 45.9h0M401.6 56.5h0M407.6 44.7h0" stroke="#f5e327" stroke-width="1.6" stroke-linecap="round"/>
<path d="M353.2 77.7h0M387.1 55.8h0M391.8 60.3h0M386.1 67.7h0M360.1 77.8h0M372.4 60.3h0M369.0 71.3h0M366.8 69.2h0M356.0 78.7h0M382.4 66.4h0M377.3 64.7h0M363.7 71.4h0M389.8 68.6h0" stroke="#64cd6f" stroke-width="1.6" stroke-linecap="round"/>
<path d="M336.7 95.4h0M341.0 89.4h0M341.9 94.9h0M336.3 98.5h0M336.6 99.1h0M341.1 96.0h0M334.1 99.7h0M334.7 98.9h0M336.8 99.4h0M333.3 98.0h0M335.2 96.1h0M337.3 95.8h0M338.6 98.7h0M340.5 93.0h0" stroke="#4741e5" stroke-width="1.6" stroke-linecap="round"/>
<path d="M353.3 80.7h0M356.8 77.6h0M358.5 81.3h0M363.8 73.4h0M357.8 82.3h0M363.0 81.5h0M350.2 80.6h0M358.0 78.8h0M373.3 75.9h0M363.7 80.7h0M361.4 81.1h0M359.7 80.9h0M380.3 76.4h0M363.3 78.0h0M367.5 77.4h0" stroke="#23a0e5" stroke-width="1.6" stroke-linecap="round"/>
<path d="M411.8 56.5h0M392.6 70.2h0" stroke="#24c1ae" stroke-width="1.5" stroke-linecap="round"/>
<path d="M343.9 88.7h0M351.2 90.7h0M354.6 86.0h0M347.0 87.0h0M339.5 91.6h0M350.5 84.3h0M346.5 85.6h0M351.3 82.0h0M342.9 87.7h0M349.2 88.6h0M341.6 90.0h0M345.1 89.8h0M347.9 87.9h0M343.4 89.5h0M345.9 90.1h0M343.6 86.4h0" stroke="#4269fe" stroke-width="1.6" stroke-linecap="round"/>
<path d="M425.9 31.1h0" stroke="#f5e924" stroke-width="1.7" stroke-linecap="round"/>
<path d="M385.2 53.3h0M426.5 22.0h0M416.7 34.8h0M413.0 32.7h0" stroke="#e6bb2d" stroke-width="1.7" stroke-linecap="round"/>
<path d="M375.4 60.2h0M389.3 58.7h0M382.4 71.9h0M385.7 66.0h0M397.2 54.3h0M367.3 81.8h0M376.1 62.6h0M380.4 57.9h0M399.2 52.8h0M389.8 63.8h0M381.4 62.8h0M357.8 79.0h0M391.9 62.9h0M387.3 68.6h0M380.8 63.3h0M389.1 51.7h0M384.8 65.0h0M376.5 61.2h0" stroke="#3fca8e" stroke-width="1.6" stroke-linecap="round"/>
<path d="M410.2 54.5h0M374.0 74.0h0M363.0 76.8h0M369.1 80.4h0M404.8 45.2h0M362.3 75.4h0M386.0 73.4h0M370.7 68.4h0M386.9 72.3h0M379.8 68.9h0M375.6 72.3h0M371.7 67.3h0M357.0 73.9h0M362.2 75.9h0M400.6 52.6h0M375.4 75.7h0M376.4 74.4h0M367.2 70.6h0M369.9 78.2h0M365.7 83.0h0M363.7 71.4h0M369.5 71.7h0M364.8 79.0h0M377.2 77.0h0M373.7 75.4h0" stroke="#01b8ca" stroke-width="1.6" stroke-linecap="round"/>
<path d="M418.8 21.6h0" stroke="#dcbd29" stroke-width="1.7" stroke-linecap="round"/>
<path d="M351.4 83.8h0M351.2 83.4h0M356.5 87.4h0M348.2 87.9h0M353.6 82.5h0M353.1 88.5h0M352.7 80.8h0M349.4 85.0h0" stroke="#2f81fa" stroke-width="1.6" stroke-linecap="round"/>
<path d="M343.6 94.2h0M336.2 96.8h0M331.7 97.4h0M328.7 101.4h0" stroke="#4332cb" stroke-width="1.6" stroke-linecap="round"/>
<path d="M352.9 75.3h0" stroke="#febe3c" stroke-width="1.5" stroke-linecap="round"/>
<path d="M382.9 69.7h0M387.3 64.3h0M377.2 62.0h0M378.0 65.6h0M385.4 70.2h0M402.5 44.9h0M374.2 63.7h0M382.8 67.5h0M375.7 61.7h0M380.4 69.2h0M375.6 68.0h0M378.8 65.3h0M405.7 44.9h0" stroke="#2cc4a7" stroke-width="1.6" stroke-linecap="round"/>
<path d="M334.8 100.2h0M329.3 101.5h0M328.5 101.4h0M331.0 101.0h0M331.8 97.4h0M329.3 101.9h0M333.7 100.2h0M328.7 101.8h0M337.7 98.9h0M333.1 100.6h0M334.3 98.1h0" stroke="#3e26a8" stroke-width="1.6" stroke-linecap="round"/>
<path d="M331.8 98.7h0M329.7 101.4h0M339.8 98.1h0M332.0 98.8h0M332.3 99.2h0M330.0 100.6h0M331.0 101.1h0" stroke="#422ec0" stroke-width="1.6" stroke-linecap="round"/>
<path d="M410.6 43.4h0M431.4 20.5h0" stroke="#f8ba3d" stroke-width="1.7" stroke-linecap="round"/>
<path d="M400.0 49.3h0M372.7 63.0h0M404.8 43.4h0M354.7 77.8h0M401.5 55.6h0M406.3 47.2h0M358.6 75.9h0" stroke="#febe3c" stroke-width="1.6" stroke-linecap="round"/>
<path d="M396.7 53.7h0M388.0 56.6h0M386.5 52.3h0M388.9 55.1h0M383.3 56.0h0M382.7 59.0h0M389.7 62.0h0M388.7 48.8h0M388.3 69.2h0M385.4 69.1h0M400.2 51.2h0M380.7 56.9h0M397.2 44.9h0M376.0 62.9h0M376.2 64.1h0" stroke="#9dc943" stroke-width="1.6" stroke-linecap="round"/>
<path d="M371.8 77.5h0M364.2 72.2h0M377.8 77.5h0M358.4 71.1h0M363.1 71.0h0M394.7 50.7h0M373.5 63.9h0M367.7 68.3h0M379.4 64.3h0M376.9 77.6h0M380.7 76.3h0M371.7 69.4h0M412.8 48.8h0M362.0 70.6h0M382.2 60.2h0M379.9 76.6h0M400.9 43.7h0" stroke="#02bac3" stroke-width="1.6" stroke-linecap="round"/>
<path d="M405.3 58.8h0M395.6 66.7h0" stroke="#02bac3" stroke-width="1.5" stroke-linecap="round"/>
<path d="M427.2 32.7h0M412.4 54.2h0M399.5 32.2h0M392.2 43.6h0M425.3 27.2h0M424.0 39.1h0M418.9 45.4h0M414.1 30.5h0M427.9 21.6h0" stroke="#fec934" stroke-width="1.7" stroke-linecap="round"/>
<path d="M410.0 63.4h0" stroke="#19bfb6" stroke-width="1.5" stroke-linecap="round"/>
<path d="M362.7 71.1h0M389.0 63.8h0M379.1 63.2h0M391.8 55.2h0M352.4 79.0h0M390.9 49.6h0M370.7 64.8h0" stroke="#e6bb2d" stroke-width="1.6" stroke-linecap="round"/>
<path d="M370.1 73.6h0M372.8 80.8h0M375.6 75.3h0M363.4 80.7h0M374.0 73.2h0M361.0 72.0h0M368.3 79.2h0M361.7 74.6h0M360.8 70.8h0M365.9 78.6h0M366.6 71.2h0M368.9 76.4h0M366.4 81.5h0M370.1 75.5h0M361.7 73.7h0M359.2 72.9h0M361.5 81.0h0M362.9 77.5h0M371.4 80.4h0M361.0 73.0h0" stroke="#12b1d6" stroke-width="1.6" stroke-linecap="round"/>
<path d="M361.1 85.6h0M357.6 84.7h0M359.1 75.9h0M356.4 87.1h0M360.9 79.0h0M368.9 81.6h0M356.0 84.2h0M363.2 81.0h0M356.3 81.3h0M363.1 76.7h0M362.2 80.0h0" stroke="#2797eb" stroke-width="1.6" stroke-linecap="round"/>
<path d="M381.1 77.0h0M377.8 67.5h0M384.0 62.6h0M363.7 69.7h0M384.7 74.0h0M381.4 76.3h0M380.6 70.3h0M379.7 66.4h0M368.5 68.6h0M409.7 54.9h0M384.0 74.2h0M366.3 67.1h0" stroke="#19bfb6" stroke-width="1.6" stroke-linecap="round"/>
<path d="M346.4 89.0h0M346.6 87.0h0M343.8 90.8h0M339.8 89.8h0M341.4 92.2h0M338.7 98.6h0M349.5 90.3h0M347.3 89.5h0M342.8 93.2h0M348.0 89.2h0M346.1 85.0h0" stroke="#465efb" stroke-width="1.6" stroke-linecap="round"/>
<path d="M371.6 68.7h0M360.9 80.6h0M366.6 75.1h0M390.0 54.4h0M377.6 66.4h0M378.8 63.7h0M347.5 88.7h0M356.6 82.1h0M369.8 67.3h0M373.1 69.4h0M376.6 63.4h0M368.4 65.4h0" stroke="#f0ba36" stroke-width="1.6" stroke-linecap="round"/>
<path d="M415.0 35.4h0M401.5 51.8h0M418.4 31.1h0M407.3 35.2h0M420.8 20.3h0M394.4 46.9h0" stroke="#fccf30" stroke-width="1.7" stroke-linecap="round"/>
<path d="M380.1 60.8h0M357.6 72.6h0M381.3 67.7h0M366.4 66.6h0M368.1 66.1h0M375.0 66.2h0M354.5 77.0h0M385.3 67.4h0M376.6 67.1h0M373.1 70.3h0M369.1 65.9h0M378.0 60.0h0M388.5 67.1h0M382.2 62.3h0M380.5 65.6h0M371.6 61.8h0M391.8 66.9h0M382.5 59.5h0M376.2 67.5h0M379.4 60.7h0M383.5 69.2h0" stroke="#31c69f" stroke-width="1.6" stroke-linecap="round"/>
<path d="M343.3 92.8h0M341.9 90.1h0M351.3 90.1h0M347.6 92.4h0M346.3 88.7h0" stroke="#4563fd" stroke-width="1.6" stroke-linecap="round"/>
<path d="M347.5 91.9h0M343.2 87.4h0M341.3 95.2h0M343.7 86.8h0M344.6 89.2h0M343.2 89.5h0M340.5 94.4h0M340.0 94.0h0M337.1 93.1h0M350.9 90.8h0M340.1 96.2h0M341.2 93.5h0" stroke="#4852f4" stroke-width="1.6" stroke-linecap="round"/>
<rect x="326.8" y="16.3" width="119.50" height="86.40" fill="none" stroke="#8c8c8c" stroke-width="0.7"/>
<line x1="355.73" y1="102.7" x2="355.73" y2="101.5" stroke="#777" stroke-width="0.6"/>
<line x1="355.73" y1="16.3" x2="355.73" y2="17.5" stroke="#777" stroke-width="0.6"/>
<line x1="384.67" y1="102.7" x2="384.67" y2="101.5" stroke="#777" stroke-width="0.6"/>
<line x1="384.67" y1="16.3" x2="384.67" y2="17.5" stroke="#777" stroke-width="0.6"/>
<line x1="413.60" y1="102.7" x2="413.60" y2="101.5" stroke="#777" stroke-width="0.6"/>
<line x1="413.60" y1="16.3" x2="413.60" y2="17.5" stroke="#777" stroke-width="0.6"/>
<line x1="442.54" y1="102.7" x2="442.54" y2="101.5" stroke="#777" stroke-width="0.6"/>
<line x1="442.54" y1="16.3" x2="442.54" y2="17.5" stroke="#777" stroke-width="0.6"/>
<line x1="326.8" y1="81.63" x2="328.0" y2="81.63" stroke="#777" stroke-width="0.6"/>
<line x1="446.3" y1="81.63" x2="445.1" y2="81.63" stroke="#777" stroke-width="0.6"/>
<line x1="326.8" y1="60.55" x2="328.0" y2="60.55" stroke="#777" stroke-width="0.6"/>
<line x1="446.3" y1="60.55" x2="445.1" y2="60.55" stroke="#777" stroke-width="0.6"/>
<line x1="326.8" y1="39.48" x2="328.0" y2="39.48" stroke="#777" stroke-width="0.6"/>
<line x1="446.3" y1="39.48" x2="445.1" y2="39.48" stroke="#777" stroke-width="0.6"/>
<line x1="326.8" y1="18.41" x2="328.0" y2="18.41" stroke="#777" stroke-width="0.6"/>
<line x1="446.3" y1="18.41" x2="445.1" y2="18.41" stroke="#777" stroke-width="0.6"/>
<text x="355.73" y="111.00" font-size="6.5" text-anchor="middle" fill="#262626">2</text>
<text x="384.67" y="111.00" font-size="6.5" text-anchor="middle" fill="#262626">4</text>
<text x="413.60" y="111.00" font-size="6.5" text-anchor="middle" fill="#262626">6</text>
<text x="442.54" y="111.00" font-size="6.5" text-anchor="middle" fill="#262626">8</text>
<text x="324.90" y="83.73" font-size="6.5" text-anchor="end" fill="#262626">2</text>
<text x="324.90" y="62.65" font-size="6.5" text-anchor="end" fill="#262626">4</text>
<text x="324.90" y="41.58" font-size="6.5" text-anchor="end" fill="#262626">6</text>
<text x="324.90" y="20.51" font-size="6.5" text-anchor="end" fill="#262626">8</text>
<text x="327.40" y="15.50" font-size="7.0" fill="#555"><tspan>×10</tspan><tspan dy="-2.8" font-size="4.6">-5</tspan></text>
<text x="446.80" y="121.60" font-size="7.0" fill="#555" text-anchor="end"><tspan>×10</tspan><tspan dy="-2.8" font-size="4.6">-5</tspan></text>
<text x="386.55" y="120.00" font-size="6.7" text-anchor="middle" fill="#262626">Actual</text>
<text x="0" y="0" transform="translate(318.90,60.10) rotate(-90)" font-size="7.1" text-anchor="middle" fill="#262626">Predicted</text>
<text x="331.80" y="29.20" font-size="10" font-weight="bold" fill="#000">c)</text>
<text x="387.35" y="11.80" font-size="7.1" font-weight="bold" text-anchor="middle" fill="#000" xml:space="preserve"><tspan>ATR100</tspan><tspan dy="2.9" font-size="5.2">tot</tspan><tspan dy="-2.9">;  R</tspan><tspan dy="-2.6" font-size="5.3">2</tspan><tspan dy="2.6">: 0.96842</tspan></text>
<line x1="45.79" y1="138.2" x2="45.79" y2="224.2" stroke="#ebebeb" stroke-width="0.6"/>
<line x1="70.28" y1="138.2" x2="70.28" y2="224.2" stroke="#ebebeb" stroke-width="0.6"/>
<line x1="94.77" y1="138.2" x2="94.77" y2="224.2" stroke="#ebebeb" stroke-width="0.6"/>
<line x1="119.26" y1="138.2" x2="119.26" y2="224.2" stroke="#ebebeb" stroke-width="0.6"/>
<line x1="21.3" y1="206.68" x2="141.3" y2="206.68" stroke="#ebebeb" stroke-width="0.6"/>
<line x1="21.3" y1="189.17" x2="141.3" y2="189.17" stroke="#ebebeb" stroke-width="0.6"/>
<line x1="21.3" y1="171.65" x2="141.3" y2="171.65" stroke="#ebebeb" stroke-width="0.6"/>
<line x1="21.3" y1="154.14" x2="141.3" y2="154.14" stroke="#ebebeb" stroke-width="0.6"/>
<line x1="21.3" y1="224.2" x2="141.3" y2="138.2" stroke="#222" stroke-width="1.05"/>
<path d="M91.6 173.1h0M73.0 173.1h0M81.7 169.7h0" stroke="#24c1ae" stroke-width="1.5" stroke-linecap="round"/>
<path d="M56.3 183.9h0M108.1 177.2h0" stroke="#8fcb4e" stroke-width="1.5" stroke-linecap="round"/>
<path d="M103.8 153.0h0" stroke="#f6ef20" stroke-width="1.5" stroke-linecap="round"/>
<path d="M28.5 218.0h0M23.5 222.5h0M68.4 200.6h0M49.7 211.9h0M43.2 216.8h0M36.2 220.9h0M64.3 207.1h0M74.6 203.3h0M32.9 220.7h0M33.9 220.9h0M40.2 218.5h0M79.2 198.3h0" stroke="#4269fe" stroke-width="1.6" stroke-linecap="round"/>
<path d="M31.4 213.4h0M79.0 181.9h0M74.1 194.0h0M31.5 206.9h0M67.2 192.1h0M23.2 211.4h0M34.1 210.5h0M67.3 192.5h0M24.9 209.3h0M33.7 205.5h0M39.0 203.1h0M50.9 201.1h0M54.0 200.1h0M41.0 212.7h0M32.8 214.3h0M44.0 201.7h0M28.8 213.2h0M46.6 201.4h0M55.2 197.6h0M62.4 195.4h0M68.6 195.5h0" stroke="#20a5e3" stroke-width="1.6" stroke-linecap="round"/>
<path d="M69.6 192.2h0M55.6 200.1h0M55.2 208.2h0M58.3 196.7h0M59.9 198.8h0M44.8 213.4h0M41.7 208.8h0M46.4 203.1h0M38.1 205.1h0M53.1 205.5h0M74.2 184.7h0M55.1 197.1h0" stroke="#8fcb4e" stroke-width="1.6" stroke-linecap="round"/>
<path d="M33.8 204.7h0M37.2 203.5h0M42.9 209.0h0M38.6 200.5h0M92.4 192.1h0M64.3 200.4h0M79.4 196.1h0M57.5 205.4h0M40.5 203.9h0M52.0 206.5h0M37.5 204.2h0M70.0 202.1h0M34.7 201.1h0M27.2 205.2h0M71.9 193.3h0M61.3 196.6h0" stroke="#f0ba36" stroke-width="1.6" stroke-linecap="round"/>
<path d="M58.4 210.2h0M29.4 222.2h0M23.7 221.0h0M26.0 218.9h0" stroke="#465efb" stroke-width="1.6" stroke-linecap="round"/>
<path d="M30.6 218.6h0M26.6 218.7h0" stroke="#4537d5" stroke-width="1.6" stroke-linecap="round"/>
<path d="M22.4 220.6h0M28.6 221.1h0M28.5 218.6h0M30.8 215.7h0M29.9 216.5h0M25.9 223.5h0M29.8 213.1h0" stroke="#4852f4" stroke-width="1.6" stroke-linecap="round"/>
<path d="M117.9 174.1h0M88.4 182.2h0M63.9 187.1h0M70.9 172.4h0M99.1 178.2h0M114.3 176.8h0M85.2 165.0h0M83.4 185.7h0M92.4 190.4h0M97.9 183.0h0M109.4 181.0h0M109.9 168.0h0M67.7 170.8h0" stroke="#18addb" stroke-width="1.5" stroke-linecap="round"/>
<path d="M90.1 185.4h0M94.0 181.1h0M43.7 201.7h0M58.4 199.7h0M77.4 182.3h0M86.2 188.6h0M72.6 195.9h0M76.5 194.4h0M40.1 214.3h0M86.9 187.9h0M61.4 207.0h0" stroke="#31c69f" stroke-width="1.6" stroke-linecap="round"/>
<path d="M41.9 215.9h0M49.5 207.3h0M70.7 138.6h0M94.7 138.6h0M63.0 196.6h0M60.2 192.0h0M45.6 206.0h0M51.8 199.3h0" stroke="#f7dc2a" stroke-width="1.6" stroke-linecap="round"/>
<path d="M108.9 168.6h0M72.8 171.5h0M103.7 175.4h0M70.3 183.9h0M65.7 170.9h0" stroke="#19bfb6" stroke-width="1.5" stroke-linecap="round"/>
<path d="M90.2 173.5h0M88.5 182.5h0M49.2 190.7h0" stroke="#81cc59" stroke-width="1.5" stroke-linecap="round"/>
<path d="M27.3 223.1h0M33.7 221.3h0M58.8 205.8h0M29.4 222.4h0M24.5 219.3h0M40.3 215.7h0M31.9 220.9h0M47.4 211.0h0M57.0 210.3h0" stroke="#3e6fff" stroke-width="1.6" stroke-linecap="round"/>
<path d="M116.2 150.5h0M99.2 157.5h0M61.1 184.0h0M90.5 181.9h0M104.6 146.3h0M100.3 169.3h0M63.7 188.3h0M62.5 183.4h0M103.5 166.5h0" stroke="#fec338" stroke-width="1.5" stroke-linecap="round"/>
<path d="M68.2 144.5h0" stroke="#dcbd29" stroke-width="1.5" stroke-linecap="round"/>
<path d="M42.3 211.9h0M58.2 204.8h0M54.6 195.9h0M56.0 210.8h0M89.2 185.5h0M41.1 207.1h0M80.5 195.9h0M62.7 189.7h0M70.9 191.0h0M58.5 198.2h0M93.3 188.5h0M71.1 195.6h0M73.3 196.7h0M75.6 185.6h0M48.9 203.6h0" stroke="#fccf30" stroke-width="1.6" stroke-linecap="round"/>
<path d="M54.7 210.2h0M72.5 201.8h0M61.9 207.2h0M57.3 206.2h0M85.8 194.7h0M39.8 215.1h0M35.2 218.9h0M56.4 208.6h0M85.8 195.9h0M64.8 204.8h0M54.3 208.5h0" stroke="#2d8cf3" stroke-width="1.6" stroke-linecap="round"/>
<path d="M54.9 199.2h0M43.5 207.0h0M67.9 193.9h0M52.3 195.7h0M70.7 188.5h0M49.0 201.6h0M71.4 195.4h0M41.6 207.1h0M93.1 181.4h0" stroke="#2cc4a7" stroke-width="1.6" stroke-linecap="round"/>
<path d="M85.3 183.3h0M98.2 181.0h0M108.2 176.5h0M96.0 180.9h0M78.8 195.4h0M114.6 181.6h0M92.8 167.4h0" stroke="#20a5e3" stroke-width="1.5" stroke-linecap="round"/>
<path d="M76.9 201.6h0M40.9 211.7h0M29.4 204.8h0M35.5 199.9h0M41.2 204.0h0M69.5 201.6h0M79.0 193.3h0M62.8 193.6h0M38.7 204.7h0M71.4 202.8h0M87.5 194.5h0M33.8 202.0h0M28.8 205.7h0M43.4 208.7h0M35.4 200.2h0M89.4 176.7h0M47.8 209.0h0M48.7 208.7h0M88.3 176.9h0M60.0 192.2h0M40.6 205.7h0M37.5 201.0h0M38.6 200.6h0" stroke="#f8ba3d" stroke-width="1.6" stroke-linecap="round"/>
<path d="M60.6 205.9h0M74.2 192.3h0M80.8 179.6h0M49.9 209.5h0M94.3 175.5h0" stroke="#dcbd29" stroke-width="1.6" stroke-linecap="round"/>
<path d="M35.5 198.3h0M38.0 201.6h0M82.3 192.0h0M43.8 206.4h0M74.6 197.8h0M86.3 188.2h0M49.0 207.8h0M59.5 197.1h0M48.3 203.9h0M62.5 189.5h0M83.5 178.7h0M42.7 212.2h0M42.4 201.4h0M46.8 207.1h0M51.4 213.4h0M39.9 209.8h0M37.6 219.5h0" stroke="#fec934" stroke-width="1.6" stroke-linecap="round"/>
<path d="M32.1 212.5h0M33.9 205.6h0M33.0 206.1h0M43.6 211.4h0M39.4 204.2h0M56.0 196.2h0M37.4 208.9h0M25.8 208.8h0M69.1 194.7h0M77.6 192.1h0M62.2 190.6h0M40.9 211.2h0M47.6 204.0h0M52.1 201.3h0M31.7 206.1h0M36.5 207.5h0M44.0 201.9h0" stroke="#01b8ca" stroke-width="1.6" stroke-linecap="round"/>
<path d="M90.6 178.6h0M96.1 183.6h0" stroke="#02bac3" stroke-width="1.5" stroke-linecap="round"/>
<path d="M67.4 202.3h0M93.4 194.6h0M77.0 196.4h0M65.5 204.5h0M32.8 220.7h0M56.6 208.8h0M72.8 199.2h0M35.8 218.1h0" stroke="#2e87f7" stroke-width="1.6" stroke-linecap="round"/>
<path d="M99.6 187.1h0M115.5 178.8h0M111.5 188.8h0M104.9 182.7h0M80.2 187.7h0M104.3 191.5h0" stroke="#01b8ca" stroke-width="1.5" stroke-linecap="round"/>
<path d="M34.6 217.1h0M47.4 215.1h0M40.3 218.1h0M47.6 212.5h0M36.2 217.9h0" stroke="#2b91ef" stroke-width="1.6" stroke-linecap="round"/>
<path d="M89.8 177.1h0M108.6 165.1h0M98.9 173.0h0" stroke="#37c897" stroke-width="1.5" stroke-linecap="round"/>
<path d="M87.1 184.5h0M90.5 182.3h0M98.0 186.7h0M86.8 194.0h0M68.9 186.2h0M106.3 182.2h0M96.9 185.0h0M119.8 172.2h0M60.9 178.5h0M103.2 169.2h0M93.6 189.7h0M95.0 193.1h0" stroke="#1ca9df" stroke-width="1.5" stroke-linecap="round"/>
<path d="M117.2 177.4h0M91.6 170.3h0M102.6 178.7h0M92.4 185.2h0M68.2 179.3h0M102.9 176.1h0M89.4 187.7h0M102.2 188.7h0M65.5 177.7h0M87.3 183.0h0M91.0 173.3h0M107.6 177.8h0M96.6 194.2h0M113.8 179.7h0" stroke="#08b5d0" stroke-width="1.5" stroke-linecap="round"/>
<path d="M66.2 203.6h0M51.0 200.1h0M51.9 198.6h0M37.8 206.7h0M32.0 209.0h0M80.6 187.0h0M89.9 176.0h0M78.8 198.6h0" stroke="#3fca8e" stroke-width="1.6" stroke-linecap="round"/>
<path d="M63.0 177.2h0M49.6 191.0h0M70.7 176.4h0M58.6 177.8h0" stroke="#72cd64" stroke-width="1.5" stroke-linecap="round"/>
<path d="M116.4 150.1h0M89.0 156.6h0M112.0 150.3h0M47.5 194.2h0M81.5 157.7h0M114.6 171.1h0M115.2 144.9h0M81.3 157.0h0M111.6 158.5h0" stroke="#f7dc2a" stroke-width="1.5" stroke-linecap="round"/>
<path d="M102.7 156.3h0M108.3 153.7h0M107.7 151.8h0M115.9 158.3h0M115.5 157.9h0M70.0 149.8h0M79.8 157.2h0M66.0 151.5h0M104.6 169.8h0M83.8 191.8h0M89.8 182.7h0M109.4 150.5h0M113.5 170.3h0M99.7 184.3h0M74.6 156.8h0" stroke="#febe3c" stroke-width="1.5" stroke-linecap="round"/>
<path d="M33.4 217.8h0M25.3 214.8h0M86.6 192.3h0M28.3 222.8h0M55.0 209.2h0M30.0 219.3h0M58.1 209.2h0M29.4 220.8h0M94.6 193.6h0M44.0 215.6h0" stroke="#3875fe" stroke-width="1.6" stroke-linecap="round"/>
<path d="M30.8 212.5h0M31.6 215.2h0M31.5 206.3h0M90.5 181.5h0M79.1 180.5h0M39.9 212.7h0M56.1 193.8h0M71.5 184.2h0M41.7 204.5h0M70.4 184.5h0M35.1 212.5h0M35.8 215.6h0M41.8 209.7h0M60.2 191.4h0" stroke="#18addb" stroke-width="1.6" stroke-linecap="round"/>
<path d="M52.2 200.1h0M61.0 205.1h0M39.6 205.4h0M63.7 204.2h0M58.5 194.9h0M41.6 208.7h0M51.4 208.2h0M82.2 193.4h0M66.1 204.7h0M39.7 207.8h0" stroke="#64cd6f" stroke-width="1.6" stroke-linecap="round"/>
<path d="M83.3 170.0h0M81.8 181.3h0" stroke="#3fca8e" stroke-width="1.5" stroke-linecap="round"/>
<path d="M68.7 185.3h0M66.2 190.0h0M45.9 205.2h0M42.1 218.2h0M53.9 208.1h0M84.4 194.6h0" stroke="#9dc943" stroke-width="1.6" stroke-linecap="round"/>
<path d="M32.4 221.8h0M70.7 201.6h0M50.8 214.0h0M103.3 192.6h0M79.5 192.0h0M84.4 191.8h0M56.9 194.2h0M51.9 209.7h0M32.6 216.9h0M54.6 209.7h0M90.5 192.2h0M36.3 205.7h0M33.1 207.1h0M47.3 205.5h0M73.5 196.5h0M48.9 205.5h0" stroke="#57cc7a" stroke-width="1.6" stroke-linecap="round"/>
<path d="M26.5 218.3h0M26.7 220.7h0M22.5 223.4h0M28.2 217.7h0" stroke="#4741e5" stroke-width="1.6" stroke-linecap="round"/>
<path d="M98.1 169.9h0M58.8 180.2h0M76.4 182.6h0M101.4 164.6h0M70.5 174.2h0" stroke="#e6bb2d" stroke-width="1.5" stroke-linecap="round"/>
<path d="M34.7 207.4h0M36.8 217.9h0M35.8 217.1h0M36.5 206.7h0M77.4 199.3h0M85.7 185.6h0M55.3 196.6h0M73.9 190.1h0M52.8 199.8h0M59.3 198.5h0" stroke="#24c1ae" stroke-width="1.6" stroke-linecap="round"/>
<path d="M66.0 193.8h0M91.7 186.5h0M68.0 195.2h0M75.5 185.9h0M39.1 213.4h0M29.1 208.0h0M61.2 191.8h0M24.0 211.4h0M34.0 213.0h0M45.5 211.7h0M71.0 192.2h0M86.8 181.6h0M32.6 214.9h0" stroke="#08b5d0" stroke-width="1.6" stroke-linecap="round"/>
<path d="M27.8 221.1h0M28.5 218.1h0M23.0 217.9h0M24.8 217.6h0" stroke="#463cde" stroke-width="1.6" stroke-linecap="round"/>
<path d="M103.2 152.9h0M94.5 181.0h0M112.5 156.8h0M102.8 170.7h0M83.0 145.5h0M84.1 181.4h0M73.7 158.1h0M90.5 189.5h0M105.0 175.3h0M70.3 151.3h0M90.5 154.9h0M121.9 147.6h0M45.6 192.5h0M73.6 155.1h0" stroke="#fccf30" stroke-width="1.5" stroke-linecap="round"/>
<path d="M47.8 212.5h0M27.5 218.8h0M89.0 194.4h0M25.2 221.2h0M39.6 219.2h0M34.5 217.9h0M54.6 211.3h0M27.3 216.4h0M86.7 192.1h0M26.4 217.4h0M33.0 217.6h0M21.6 219.1h0M51.2 211.3h0M24.7 223.3h0" stroke="#327cfc" stroke-width="1.6" stroke-linecap="round"/>
<path d="M90.7 182.2h0M105.5 179.6h0M105.8 181.4h0M119.7 173.7h0M98.2 177.8h0M120.9 172.7h0M81.9 186.7h0M86.5 193.9h0M79.6 185.4h0M95.4 190.9h0M81.1 175.3h0M120.1 176.7h0M79.6 193.8h0M97.4 194.1h0M78.8 198.4h0" stroke="#4acb84" stroke-width="1.5" stroke-linecap="round"/>
<path d="M56.1 209.4h0M45.9 207.9h0M47.8 206.6h0M63.4 206.9h0M63.3 198.4h0M80.9 199.6h0M40.3 206.7h0" stroke="#37c897" stroke-width="1.6" stroke-linecap="round"/>
<path d="M22.3 217.7h0M29.6 222.8h0M75.7 202.9h0M28.2 215.9h0M37.9 220.2h0M93.9 194.0h0M74.0 203.4h0" stroke="#4563fd" stroke-width="1.6" stroke-linecap="round"/>
<path d="M59.3 183.7h0M89.9 166.3h0M68.8 172.1h0" stroke="#57cc7a" stroke-width="1.5" stroke-linecap="round"/>
<path d="M88.8 179.2h0M76.0 177.4h0M104.2 178.7h0M105.6 171.1h0M109.8 186.8h0M54.0 191.2h0M79.2 188.6h0M120.0 176.5h0" stroke="#12b1d6" stroke-width="1.5" stroke-linecap="round"/>
<path d="M77.4 200.8h0M34.5 204.4h0M27.4 206.3h0M74.7 195.4h0M89.3 182.3h0M40.7 212.8h0M56.2 194.7h0M48.9 203.3h0M71.2 198.7h0M46.0 212.0h0M70.0 185.3h0M74.7 193.4h0M87.9 193.3h0M45.0 205.5h0M35.0 204.1h0" stroke="#e6bb2d" stroke-width="1.6" stroke-linecap="round"/>
<path d="M34.3 210.3h0M93.0 181.3h0M83.5 190.0h0M34.4 213.7h0M52.7 200.1h0M37.7 211.2h0M26.6 211.4h0M49.5 202.7h0M43.1 205.1h0M47.6 210.6h0M44.9 203.0h0M77.0 186.5h0M68.0 188.0h0M58.4 197.9h0M45.3 200.3h0M59.1 192.2h0M84.2 189.3h0M31.3 208.9h0M39.7 208.3h0M60.8 195.6h0M53.1 196.6h0M84.1 190.3h0M41.1 209.7h0M37.6 213.5h0" stroke="#1ca9df" stroke-width="1.6" stroke-linecap="round"/>
<path d="M58.4 184.0h0M56.9 191.7h0M60.5 182.5h0M101.7 148.8h0M79.8 146.4h0M75.0 173.6h0M57.2 180.5h0M88.9 179.5h0" stroke="#fad62d" stroke-width="1.5" stroke-linecap="round"/>
<path d="M83.5 183.5h0M98.7 152.9h0M106.6 169.2h0M93.9 173.6h0M66.5 148.8h0M82.6 155.3h0M100.7 188.1h0M113.0 154.7h0M110.8 172.3h0M78.6 180.9h0M107.2 168.5h0M108.5 154.9h0M68.9 173.1h0" stroke="#f8ba3d" stroke-width="1.5" stroke-linecap="round"/>
<path d="M27.6 214.7h0M24.1 216.7h0M28.4 216.6h0" stroke="#484df0" stroke-width="1.6" stroke-linecap="round"/>
<path d="M63.0 200.4h0M34.6 206.3h0M47.8 203.3h0M57.8 202.5h0M39.7 207.3h0M38.2 205.4h0M22.6 214.1h0M65.2 201.2h0M44.4 204.2h0M64.2 198.0h0M50.0 202.3h0M40.6 202.6h0M82.9 185.9h0M26.4 212.6h0M43.1 207.1h0M52.7 196.2h0M81.8 181.8h0M39.4 204.2h0M79.9 185.8h0M31.8 207.7h0M31.9 206.1h0" stroke="#23a0e5" stroke-width="1.6" stroke-linecap="round"/>
<path d="M29.7 207.8h0M27.1 212.6h0M66.6 196.0h0M50.6 206.5h0M77.8 193.8h0M32.0 212.3h0M46.2 209.7h0M29.0 207.8h0M32.3 214.0h0M50.0 203.7h0M51.6 198.4h0M65.9 189.1h0M87.7 182.6h0M34.4 212.0h0M76.1 191.9h0M46.7 204.1h0M91.8 178.5h0M84.5 179.2h0M88.0 181.2h0M36.4 209.4h0M37.7 203.6h0M74.5 189.5h0M61.8 195.0h0M77.5 192.8h0M28.6 212.6h0M21.8 214.2h0" stroke="#259be8" stroke-width="1.6" stroke-linecap="round"/>
<path d="M28.5 222.1h0M28.9 214.2h0M25.3 217.6h0M21.8 219.8h0M29.2 214.3h0" stroke="#4758f8" stroke-width="1.6" stroke-linecap="round"/>
<path d="M55.3 201.3h0M57.0 204.2h0M91.9 180.2h0M68.6 190.9h0M39.6 214.2h0M43.3 218.2h0M69.8 184.7h0M50.3 196.7h0M71.5 203.6h0M55.8 193.6h0M69.4 205.5h0M54.0 197.4h0M70.0 198.4h0" stroke="#72cd64" stroke-width="1.6" stroke-linecap="round"/>
<path d="M86.0 197.0h0M44.1 213.7h0M82.9 195.2h0M28.0 207.5h0M77.5 197.8h0M73.9 187.1h0M64.7 193.3h0M44.8 209.7h0M82.2 182.4h0M94.5 188.9h0M50.8 197.0h0M60.3 209.3h0" stroke="#81cc59" stroke-width="1.6" stroke-linecap="round"/>
<path d="M116.3 170.7h0M54.8 187.3h0M103.5 178.0h0" stroke="#64cd6f" stroke-width="1.5" stroke-linecap="round"/>
<path d="M72.2 200.4h0M49.7 197.7h0M79.2 183.2h0M33.9 201.5h0M38.4 219.7h0M43.6 211.8h0M63.7 193.2h0M40.5 200.9h0M87.5 184.0h0M53.5 203.9h0M50.3 204.2h0M72.1 183.4h0M40.6 208.2h0M75.7 197.7h0M40.8 205.9h0M103.2 188.4h0M44.5 214.3h0M40.6 205.7h0M58.1 200.0h0M74.6 193.4h0M119.4 188.4h0M92.3 188.5h0M83.1 193.9h0" stroke="#fec338" stroke-width="1.6" stroke-linecap="round"/>
<path d="M93.7 175.4h0" stroke="#9dc943" stroke-width="1.5" stroke-linecap="round"/>
<path d="M91.5 143.7h0M80.8 144.7h0M56.5 187.4h0M60.5 178.3h0M71.9 158.0h0M85.2 169.3h0M99.0 151.8h0M117.0 149.6h0" stroke="#fec934" stroke-width="1.5" stroke-linecap="round"/>
<path d="M55.6 180.9h0M88.6 155.7h0M83.2 200.3h0M53.1 191.4h0M93.1 177.6h0M116.3 157.1h0M101.7 175.7h0M75.7 153.4h0M84.1 184.6h0M84.2 183.1h0M48.0 189.6h0M71.5 150.1h0M80.4 189.0h0M115.4 175.9h0M108.8 167.8h0M105.2 169.6h0" stroke="#f0ba36" stroke-width="1.5" stroke-linecap="round"/>
<path d="M79.2 199.2h0M62.6 207.5h0M38.6 207.1h0M58.6 202.6h0M71.2 194.6h0M28.1 212.5h0M33.3 212.6h0M80.0 199.5h0M40.8 204.0h0M78.3 185.8h0M47.2 207.6h0M55.9 201.1h0M92.6 191.3h0M60.5 199.9h0M39.2 208.3h0M82.6 186.1h0M23.1 211.6h0M39.2 202.9h0M72.0 191.7h0" stroke="#2797eb" stroke-width="1.6" stroke-linecap="round"/>
<path d="M37.0 216.3h0M21.9 223.5h0M30.8 221.2h0M87.5 194.0h0M87.4 193.9h0M81.0 195.2h0M44.4 214.3h0M28.3 217.2h0M39.5 216.7h0M30.9 213.2h0M23.6 219.2h0M50.3 209.6h0M26.1 215.7h0M32.2 217.5h0" stroke="#2f81fa" stroke-width="1.6" stroke-linecap="round"/>
<path d="M70.7 196.6h0M84.6 191.5h0M89.0 181.4h0M49.7 208.9h0M86.3 179.6h0M54.9 197.7h0M61.0 205.1h0M73.4 189.9h0M45.5 201.3h0M43.3 207.1h0M40.7 208.0h0M56.8 202.4h0" stroke="#4acb84" stroke-width="1.6" stroke-linecap="round"/>
<path d="M24.5 221.3h0M28.7 220.8h0M29.1 216.0h0M26.8 216.2h0M29.8 216.2h0" stroke="#4747eb" stroke-width="1.6" stroke-linecap="round"/>
<path d="M102.7 155.6h0" stroke="#f5e327" stroke-width="1.5" stroke-linecap="round"/>
<path d="M77.9 173.1h0M61.5 182.3h0" stroke="#259be8" stroke-width="1.5" stroke-linecap="round"/>
<path d="M89.1 183.2h0M50.7 204.0h0M42.6 209.9h0M86.6 187.3h0M49.3 198.2h0M86.6 180.6h0M33.8 215.4h0M25.6 211.9h0M36.2 206.6h0M90.2 178.6h0M51.9 201.1h0M87.5 186.5h0" stroke="#12b1d6" stroke-width="1.6" stroke-linecap="round"/>
<path d="M71.0 188.2h0M28.6 207.1h0M66.3 193.7h0M24.1 210.2h0M48.9 202.1h0M50.5 206.6h0M39.3 208.5h0M41.8 206.4h0M35.7 208.1h0M63.9 191.6h0M30.9 212.5h0M42.2 204.1h0M34.5 211.4h0M64.2 193.1h0M39.6 208.4h0M91.8 176.9h0" stroke="#02bac3" stroke-width="1.6" stroke-linecap="round"/>
<path d="M66.7 177.7h0M86.3 180.5h0M97.8 180.1h0M58.2 179.4h0M82.6 182.6h0M108.2 173.9h0M85.3 197.7h0M90.9 196.2h0M84.6 187.0h0M54.1 190.5h0" stroke="#23a0e5" stroke-width="1.5" stroke-linecap="round"/>
<path d="M50.1 197.5h0M55.1 201.5h0M65.6 202.7h0M50.4 208.2h0M65.7 192.1h0M43.9 216.6h0M47.2 203.0h0M58.9 193.9h0M61.1 196.3h0M39.5 207.7h0M47.0 203.2h0M37.3 215.2h0M65.2 200.6h0M83.8 189.2h0M40.4 217.6h0M67.7 190.1h0M70.4 201.3h0M72.8 187.0h0M52.1 212.1h0" stroke="#fad62d" stroke-width="1.6" stroke-linecap="round"/>
<path d="M35.0 200.8h0M51.1 213.8h0M34.6 203.8h0M37.8 205.1h0M74.7 185.0h0M75.6 183.1h0M37.4 204.3h0M80.7 184.8h0M78.9 183.8h0M71.8 199.4h0M84.8 189.2h0M27.8 205.1h0M40.3 206.4h0M27.0 206.4h0M92.0 190.3h0M61.1 205.9h0M40.4 202.9h0M45.5 202.4h0M46.4 208.6h0M35.9 211.9h0M37.0 203.1h0M37.8 201.9h0M47.4 214.7h0M37.8 202.2h0M42.6 214.1h0" stroke="#febe3c" stroke-width="1.6" stroke-linecap="round"/>
<path d="M86.4 153.9h0M107.2 157.1h0M115.1 158.4h0M93.7 158.4h0" stroke="#f5e924" stroke-width="1.5" stroke-linecap="round"/>
<path d="M90.6 146.7h0" stroke="#d1bf27" stroke-width="1.5" stroke-linecap="round"/>
<path d="M22.7 218.1h0M22.1 220.9h0M23.7 221.8h0M30.9 220.0h0M25.3 220.8h0M27.7 216.0h0M26.3 216.2h0" stroke="#484df0" stroke-width="1.6" stroke-linecap="round"/>
<path d="M68.1 205.1h0M40.4 215.3h0M65.5 203.1h0M71.5 194.3h0M88.5 194.6h0" stroke="#37c897" stroke-width="1.6" stroke-linecap="round"/>
<path d="M101.3 173.2h0M82.6 176.2h0M116.7 150.6h0M83.0 144.4h0M115.1 158.1h0M77.0 166.0h0M116.7 154.5h0M72.0 168.2h0M79.6 182.8h0M76.0 176.3h0M81.4 178.7h0M79.9 189.0h0M87.9 176.2h0M98.4 180.6h0" stroke="#febe3c" stroke-width="1.5" stroke-linecap="round"/>
<path d="M66.9 175.9h0M110.4 171.1h0" stroke="#9dc943" stroke-width="1.5" stroke-linecap="round"/>
<path d="M89.5 138.6h0M91.6 191.9h0M87.2 195.3h0M55.1 208.9h0M33.3 215.9h0M83.0 195.9h0M88.9 177.2h0M49.3 213.7h0M123.2 138.6h0M50.4 202.4h0M69.4 193.0h0M81.3 195.1h0M98.5 138.6h0" stroke="#f7dc2a" stroke-width="1.6" stroke-linecap="round"/>
<path d="M66.3 206.2h0M48.8 214.7h0M63.8 207.9h0M36.7 217.7h0M34.7 220.1h0M72.2 200.7h0M39.3 217.0h0M42.9 213.4h0" stroke="#2b91ef" stroke-width="1.6" stroke-linecap="round"/>
<path d="M25.0 215.9h0M60.1 208.5h0M22.3 217.2h0M44.8 212.2h0M42.2 213.8h0M28.9 216.6h0M36.7 216.6h0M43.1 213.6h0M38.1 216.0h0M74.7 198.8h0M88.6 193.8h0M77.8 199.0h0M78.5 201.1h0" stroke="#3875fe" stroke-width="1.6" stroke-linecap="round"/>
<path d="M89.6 194.7h0M78.7 199.6h0M36.6 217.7h0M86.2 186.1h0M86.9 190.6h0M61.9 203.6h0" stroke="#72cd64" stroke-width="1.6" stroke-linecap="round"/>
<path d="M76.4 165.0h0" stroke="#3fca8e" stroke-width="1.5" stroke-linecap="round"/>
<path d="M31.2 211.0h0M89.1 185.7h0M53.4 197.8h0M57.1 201.8h0M35.6 211.8h0M68.4 191.5h0M41.2 209.9h0M37.3 204.1h0M40.5 204.5h0M35.5 207.0h0M36.7 206.4h0M89.8 175.4h0M65.1 195.6h0M24.3 212.9h0M33.8 216.5h0M88.1 184.1h0" stroke="#18addb" stroke-width="1.6" stroke-linecap="round"/>
<path d="M51.0 212.9h0M67.1 200.3h0M73.1 199.1h0M39.2 204.1h0M84.0 186.2h0M46.4 201.9h0M54.8 197.5h0M63.3 203.8h0M70.4 204.5h0M54.7 199.5h0M38.8 212.7h0M88.2 190.7h0M82.1 189.1h0" stroke="#2cc4a7" stroke-width="1.6" stroke-linecap="round"/>
<path d="M41.1 205.5h0M37.2 218.3h0M30.5 207.1h0M70.2 196.6h0M42.1 212.6h0M38.4 219.9h0M76.9 183.7h0M43.4 208.4h0M48.4 209.5h0M38.1 212.5h0M87.1 184.0h0M35.8 204.6h0M71.9 189.7h0M41.7 206.4h0" stroke="#2797eb" stroke-width="1.6" stroke-linecap="round"/>
<path d="M46.9 214.9h0M40.2 203.3h0M41.9 207.2h0M40.1 204.1h0M66.9 205.2h0M74.7 200.7h0M34.4 201.8h0M82.2 187.9h0M73.8 198.1h0M28.6 205.3h0M93.4 184.4h0M49.2 211.6h0M40.3 203.8h0M74.2 187.4h0M77.3 193.3h0M64.3 205.2h0M77.4 191.9h0" stroke="#f8ba3d" stroke-width="1.6" stroke-linecap="round"/>
<path d="M94.5 180.6h0M88.4 177.6h0M75.7 191.8h0M77.0 198.6h0M38.6 219.7h0M64.7 190.1h0M48.2 214.8h0M65.8 201.9h0M46.4 204.6h0" stroke="#81cc59" stroke-width="1.6" stroke-linecap="round"/>
<path d="M76.2 186.4h0M65.8 203.2h0M53.3 198.1h0M29.0 204.1h0M89.8 188.2h0M50.0 212.8h0M45.9 208.0h0M69.6 202.3h0M52.2 195.6h0M56.0 194.3h0M84.1 190.3h0M53.9 207.6h0" stroke="#e6bb2d" stroke-width="1.6" stroke-linecap="round"/>
<path d="M101.3 176.9h0M70.5 186.6h0M85.3 165.7h0M88.0 168.6h0M80.2 178.5h0M88.3 182.8h0" stroke="#19bfb6" stroke-width="1.5" stroke-linecap="round"/>
<path d="M51.9 198.0h0M70.3 200.3h0M41.5 211.8h0M45.6 199.8h0M38.4 210.5h0M51.2 211.5h0M65.2 197.0h0M39.9 204.6h0M55.1 197.4h0M44.7 201.7h0M38.2 203.1h0M38.6 198.3h0M68.4 192.6h0M63.3 207.8h0M77.1 183.1h0M57.2 201.9h0M52.4 208.2h0M67.9 188.5h0M51.8 206.0h0" stroke="#fec934" stroke-width="1.6" stroke-linecap="round"/>
<path d="M47.7 191.2h0M85.5 155.2h0M93.6 180.8h0M113.5 152.8h0" stroke="#f7dc2a" stroke-width="1.5" stroke-linecap="round"/>
<path d="M95.4 173.7h0M67.7 184.2h0M79.6 166.3h0" stroke="#64cd6f" stroke-width="1.5" stroke-linecap="round"/>
<path d="M66.8 186.8h0" stroke="#24c1ae" stroke-width="1.5" stroke-linecap="round"/>
<path d="M50.7 186.2h0M82.3 177.3h0M85.9 148.6h0M48.8 192.6h0M86.3 155.7h0M94.7 194.7h0M57.9 181.9h0M75.1 154.6h0M50.6 191.6h0M93.0 152.7h0M61.8 176.2h0M105.9 151.0h0" stroke="#e6bb2d" stroke-width="1.5" stroke-linecap="round"/>
<path d="M86.6 197.4h0M74.5 202.0h0M26.8 219.7h0" stroke="#465efb" stroke-width="1.6" stroke-linecap="round"/>
<path d="M27.9 220.7h0M30.2 214.5h0M21.9 224.1h0M28.1 216.2h0" stroke="#4852f4" stroke-width="1.6" stroke-linecap="round"/>
<path d="M29.8 222.6h0M24.2 220.3h0M21.9 220.9h0M28.0 215.7h0" stroke="#4741e5" stroke-width="1.6" stroke-linecap="round"/>
<path d="M81.0 166.1h0M72.1 166.4h0M82.2 165.4h0M83.8 171.3h0M72.6 165.4h0M68.9 172.5h0" stroke="#31c69f" stroke-width="1.5" stroke-linecap="round"/>
<path d="M52.7 195.5h0M32.6 215.8h0M45.9 200.8h0M67.0 187.3h0M36.4 213.5h0M37.6 213.4h0M64.0 198.5h0M31.4 212.8h0M55.1 200.7h0M39.6 213.5h0M83.7 182.9h0M65.4 189.4h0M37.3 208.6h0M33.1 216.5h0M59.6 201.2h0M83.1 177.9h0M44.3 202.3h0M87.1 181.4h0M76.1 194.4h0M40.3 203.3h0M33.1 211.2h0M72.2 188.8h0M63.0 196.4h0M25.3 212.3h0M33.8 216.0h0M34.9 214.9h0" stroke="#01b8ca" stroke-width="1.6" stroke-linecap="round"/>
<path d="M119.9 172.3h0M111.7 187.5h0M119.0 184.5h0M95.1 180.8h0M47.0 196.6h0M113.0 176.0h0M110.7 187.4h0M81.5 183.1h0" stroke="#18addb" stroke-width="1.5" stroke-linecap="round"/>
<path d="M23.5 214.9h0M40.3 207.6h0M78.8 191.0h0M23.4 210.9h0M81.6 181.7h0M69.8 187.1h0M50.1 198.9h0M47.5 206.8h0M92.3 183.2h0M78.0 186.8h0M41.5 207.4h0M31.1 212.9h0M45.4 205.1h0M37.5 205.8h0M23.4 213.3h0" stroke="#23a0e5" stroke-width="1.6" stroke-linecap="round"/>
<path d="M66.2 166.0h0" stroke="#37c897" stroke-width="1.5" stroke-linecap="round"/>
<path d="M39.9 204.1h0M74.2 200.7h0M81.7 184.8h0M60.8 201.7h0M85.4 185.3h0M78.3 191.8h0M62.5 201.9h0M33.1 220.2h0M51.3 198.9h0M72.9 189.4h0M50.2 203.3h0M81.9 188.5h0" stroke="#fad62d" stroke-width="1.6" stroke-linecap="round"/>
<path d="M77.0 195.3h0M36.5 214.4h0M90.0 179.1h0M64.4 198.7h0M94.6 180.6h0M58.5 194.9h0M81.1 182.4h0M31.4 212.6h0M24.1 213.4h0M34.9 209.0h0M39.4 206.7h0M52.6 195.4h0M25.2 210.2h0M60.8 202.5h0M50.2 206.3h0M28.7 210.4h0M62.3 198.1h0M34.1 215.3h0" stroke="#1ca9df" stroke-width="1.6" stroke-linecap="round"/>
<path d="M66.7 180.7h0M82.4 200.4h0M120.8 184.8h0M86.8 178.7h0M48.0 189.9h0M75.4 166.0h0M88.3 152.3h0M111.2 187.9h0M74.3 180.2h0" stroke="#fccf30" stroke-width="1.5" stroke-linecap="round"/>
<path d="M44.0 213.1h0M76.4 200.6h0M29.2 218.1h0M77.4 198.4h0M36.8 219.8h0M58.9 207.7h0M39.8 214.9h0M29.6 219.6h0" stroke="#4563fd" stroke-width="1.6" stroke-linecap="round"/>
<path d="M52.5 211.0h0M51.3 214.2h0M33.7 216.8h0M36.1 218.1h0M92.1 189.0h0M22.5 221.3h0M25.4 220.7h0M30.8 222.6h0M43.5 213.6h0M72.0 201.5h0M61.0 207.8h0M67.2 205.1h0M43.3 213.6h0M55.3 208.7h0M27.3 219.1h0M89.0 194.0h0" stroke="#327cfc" stroke-width="1.6" stroke-linecap="round"/>
<path d="M26.8 223.2h0M23.3 216.2h0" stroke="#463cde" stroke-width="1.6" stroke-linecap="round"/>
<path d="M29.4 215.3h0M23.4 221.5h0M23.6 221.0h0" stroke="#4747eb" stroke-width="1.6" stroke-linecap="round"/>
<path d="M75.8 175.2h0M105.8 166.7h0" stroke="#72cd64" stroke-width="1.5" stroke-linecap="round"/>
<path d="M103.2 166.9h0M75.7 177.5h0M68.1 175.7h0M98.3 150.3h0M111.1 156.9h0M117.6 157.2h0M85.9 192.3h0M102.1 152.6h0M69.9 180.8h0M100.0 174.9h0M110.5 147.1h0M72.0 143.7h0M90.2 150.0h0M79.9 169.1h0M66.2 184.4h0M80.9 168.5h0M89.3 164.7h0M94.3 186.6h0M70.9 156.9h0" stroke="#fec934" stroke-width="1.5" stroke-linecap="round"/>
<path d="M28.2 205.8h0M60.5 208.9h0M60.6 192.8h0M44.4 212.1h0M40.5 203.8h0M67.9 197.5h0M47.5 211.0h0M93.4 189.3h0M75.4 187.9h0M61.8 196.0h0M68.2 198.0h0M33.6 203.7h0M45.6 214.8h0M27.5 206.0h0M61.6 199.5h0M33.9 206.8h0M37.1 204.1h0M69.3 200.2h0" stroke="#f0ba36" stroke-width="1.6" stroke-linecap="round"/>
<path d="M101.4 178.1h0M65.9 174.1h0M92.1 189.1h0M110.8 185.4h0M96.8 193.2h0M91.5 192.7h0M94.7 194.3h0M106.4 184.2h0M80.5 190.6h0M111.8 189.3h0M85.0 197.4h0M81.3 180.4h0" stroke="#1ca9df" stroke-width="1.5" stroke-linecap="round"/>
<path d="M46.3 205.1h0M25.0 211.6h0M35.8 215.6h0M57.5 196.4h0M45.6 206.3h0M47.4 201.0h0M54.2 203.0h0M36.3 207.3h0M87.0 181.1h0M37.5 211.1h0M40.1 204.1h0M37.1 210.9h0M60.9 190.7h0M33.9 209.9h0M48.3 208.3h0M85.5 191.4h0M50.3 207.1h0M45.1 206.2h0M53.9 199.2h0M42.0 205.7h0M69.0 199.7h0M34.9 208.9h0M26.8 209.3h0M63.4 196.2h0M42.7 206.7h0M38.6 205.5h0" stroke="#12b1d6" stroke-width="1.6" stroke-linecap="round"/>
<path d="M52.5 210.3h0M91.3 181.0h0M42.7 206.4h0M46.9 201.1h0M72.3 184.5h0M39.3 217.0h0M30.6 209.5h0M60.0 199.2h0M55.9 211.1h0M44.4 210.8h0M61.4 206.2h0M52.5 212.3h0M80.2 195.5h0" stroke="#31c69f" stroke-width="1.6" stroke-linecap="round"/>
<path d="M37.2 217.5h0M89.8 174.7h0M75.4 181.9h0M47.3 207.9h0M74.7 190.5h0M60.8 208.1h0M40.8 201.7h0M68.1 199.4h0M34.5 202.1h0M40.2 203.2h0M42.4 206.5h0M40.3 204.7h0M62.3 199.5h0M49.4 213.7h0M33.5 203.6h0M81.0 181.8h0M36.5 219.5h0M29.8 205.5h0M63.9 199.3h0M29.2 205.7h0M73.1 189.5h0M34.6 197.9h0M53.6 195.9h0M34.6 205.0h0M38.4 201.0h0M54.2 203.0h0M44.6 215.5h0" stroke="#febe3c" stroke-width="1.6" stroke-linecap="round"/>
<path d="M25.8 221.7h0M29.9 215.2h0M29.1 215.7h0M21.7 221.1h0" stroke="#4537d5" stroke-width="1.6" stroke-linecap="round"/>
<path d="M45.9 214.0h0M93.7 190.2h0M72.8 199.8h0M31.8 219.5h0M48.9 211.9h0M42.1 216.3h0M39.6 217.1h0M41.5 217.8h0M44.7 215.2h0M48.2 211.9h0" stroke="#2d8cf3" stroke-width="1.6" stroke-linecap="round"/>
<path d="M93.4 179.6h0M113.3 176.3h0M67.6 176.1h0M98.4 181.4h0M115.4 178.8h0M114.9 173.9h0" stroke="#12b1d6" stroke-width="1.5" stroke-linecap="round"/>
<path d="M91.0 192.4h0M45.0 213.8h0M34.3 218.8h0M44.3 217.0h0M50.0 213.7h0M35.3 220.5h0M30.7 216.7h0M80.8 198.4h0M56.6 210.2h0M36.5 216.6h0M60.6 208.2h0" stroke="#2e87f7" stroke-width="1.6" stroke-linecap="round"/>
<path d="M35.8 221.0h0M85.3 195.0h0M24.3 218.4h0M47.8 215.2h0M34.4 218.2h0M77.2 201.2h0M25.3 215.8h0M66.2 205.3h0M26.6 221.9h0M34.2 221.4h0M37.4 217.7h0M34.5 217.4h0" stroke="#4269fe" stroke-width="1.6" stroke-linecap="round"/>
<path d="M73.3 175.9h0M109.3 174.1h0M69.9 171.4h0M64.3 184.6h0M87.1 186.5h0M79.8 168.4h0M93.4 150.9h0M93.1 143.6h0M97.3 147.5h0M114.0 151.7h0M62.8 178.1h0" stroke="#f0ba36" stroke-width="1.5" stroke-linecap="round"/>
<path d="M29.8 216.9h0M30.8 212.8h0M21.8 219.1h0M24.3 216.7h0M26.2 222.9h0M28.9 213.8h0" stroke="#4758f8" stroke-width="1.6" stroke-linecap="round"/>
<path d="M61.3 206.0h0M35.2 217.9h0M49.6 214.8h0M39.1 217.6h0M31.0 215.7h0M34.7 216.4h0M69.0 200.3h0M42.0 216.1h0M29.8 221.0h0M24.9 218.6h0M53.2 212.0h0M30.0 222.6h0M33.9 218.5h0" stroke="#2f81fa" stroke-width="1.6" stroke-linecap="round"/>
<path d="M74.9 157.4h0M80.0 168.7h0M120.7 175.3h0M71.8 172.3h0" stroke="#dcbd29" stroke-width="1.5" stroke-linecap="round"/>
<path d="M61.8 192.6h0M80.8 199.0h0M93.5 179.7h0M69.7 200.4h0M55.5 197.7h0M33.6 212.9h0M67.9 203.8h0M91.5 182.6h0M33.9 220.7h0M47.7 201.4h0" stroke="#24c1ae" stroke-width="1.6" stroke-linecap="round"/>
<path d="M105.4 172.0h0M102.7 176.8h0M108.1 184.9h0M119.3 184.1h0M109.2 166.6h0M93.6 195.9h0M81.5 199.3h0M107.0 179.0h0M54.7 190.6h0M88.1 187.3h0M69.8 179.8h0M97.3 189.1h0M104.9 168.2h0" stroke="#08b5d0" stroke-width="1.5" stroke-linecap="round"/>
<path d="M41.8 212.8h0M85.4 189.1h0M59.1 198.4h0M45.5 209.9h0M72.6 184.5h0M49.7 205.7h0M77.6 183.7h0M72.4 204.0h0M61.4 193.8h0M60.5 198.0h0M65.5 201.7h0M86.7 186.8h0M87.6 176.9h0" stroke="#fccf30" stroke-width="1.6" stroke-linecap="round"/>
<path d="M38.0 207.6h0M68.7 198.5h0M83.6 180.8h0M75.4 189.4h0M41.4 207.8h0M76.4 202.7h0M60.8 190.5h0M85.8 192.5h0M57.2 204.9h0M74.0 193.7h0M83.2 189.3h0M39.1 214.0h0M51.8 196.5h0" stroke="#57cc7a" stroke-width="1.6" stroke-linecap="round"/>
<path d="M44.7 210.6h0M45.5 208.8h0M46.8 215.0h0M77.5 189.8h0M54.2 204.0h0M79.0 188.5h0M50.1 202.5h0M35.9 220.0h0M64.7 207.0h0" stroke="#4acb84" stroke-width="1.6" stroke-linecap="round"/>
<path d="M90.2 188.5h0M65.1 198.0h0M68.5 195.2h0M52.4 208.3h0M81.3 182.6h0M91.7 190.4h0" stroke="#64cd6f" stroke-width="1.6" stroke-linecap="round"/>
<path d="M111.0 173.4h0M81.8 171.2h0M79.0 176.7h0" stroke="#259be8" stroke-width="1.5" stroke-linecap="round"/>
<path d="M101.4 189.1h0M85.3 185.9h0M80.2 196.8h0M113.3 186.8h0M87.5 195.5h0M117.2 173.3h0" stroke="#01b8ca" stroke-width="1.5" stroke-linecap="round"/>
<path d="M98.4 174.6h0M62.7 185.6h0M101.9 147.9h0M62.5 184.1h0M81.2 156.0h0M96.1 150.1h0M86.9 155.9h0M106.0 150.7h0M109.2 153.8h0M97.3 152.0h0M106.4 178.0h0M114.0 175.6h0M104.0 175.6h0M76.0 157.7h0M93.6 156.5h0" stroke="#f8ba3d" stroke-width="1.5" stroke-linecap="round"/>
<path d="M108.2 147.0h0M86.4 151.2h0M84.8 156.0h0M66.8 144.3h0M93.0 147.3h0M94.6 155.5h0" stroke="#f5e924" stroke-width="1.5" stroke-linecap="round"/>
<path d="M77.4 198.2h0M71.6 190.8h0M46.5 199.9h0M88.1 189.2h0M59.2 200.4h0" stroke="#dcbd29" stroke-width="1.6" stroke-linecap="round"/>
<path d="M77.9 157.4h0M108.6 156.3h0M84.8 151.4h0M74.8 156.2h0M86.4 153.0h0" stroke="#f5e327" stroke-width="1.5" stroke-linecap="round"/>
<path d="M60.8 203.2h0M35.5 206.0h0M46.9 214.1h0M76.2 193.8h0M77.4 199.7h0M52.1 213.3h0M52.4 206.0h0M89.6 190.1h0M52.7 202.5h0M53.9 202.2h0M58.5 193.0h0M48.8 214.0h0M83.6 183.6h0M68.6 187.5h0M94.1 190.8h0" stroke="#3fca8e" stroke-width="1.6" stroke-linecap="round"/>
<path d="M31.8 208.0h0M25.0 209.0h0M30.8 212.0h0M54.2 196.2h0M36.1 204.6h0M23.2 212.5h0M88.2 185.6h0M27.1 213.8h0M65.0 198.9h0M33.1 205.8h0M58.6 198.8h0M53.2 197.5h0M22.3 213.8h0" stroke="#20a5e3" stroke-width="1.6" stroke-linecap="round"/>
<path d="M100.7 180.3h0M102.7 189.5h0M118.8 172.3h0M51.6 194.8h0M120.5 177.3h0M95.0 189.3h0M89.3 181.7h0M79.8 189.1h0M117.0 184.2h0M115.7 187.4h0M108.4 175.9h0M80.7 192.3h0M110.6 172.5h0M104.2 183.3h0M108.2 185.0h0" stroke="#4acb84" stroke-width="1.5" stroke-linecap="round"/>
<path d="M93.7 168.4h0M105.2 155.0h0M99.7 176.4h0M71.9 150.1h0M103.9 178.8h0M77.7 154.6h0M84.1 174.4h0M98.1 150.4h0M79.2 151.3h0M105.7 165.7h0M81.2 182.6h0M79.0 156.5h0" stroke="#fad62d" stroke-width="1.5" stroke-linecap="round"/>
<path d="M103.9 165.3h0M113.2 167.6h0M71.4 180.5h0M111.8 173.7h0M95.1 176.9h0" stroke="#81cc59" stroke-width="1.5" stroke-linecap="round"/>
<path d="M69.2 186.0h0M76.6 181.4h0M57.8 206.4h0M80.6 186.2h0M39.7 211.4h0M91.3 187.4h0M51.2 202.3h0M75.1 191.0h0M46.8 213.5h0M79.0 189.1h0M38.3 216.1h0M46.9 199.7h0" stroke="#8fcb4e" stroke-width="1.6" stroke-linecap="round"/>
<path d="M83.8 193.2h0M82.1 151.5h0M85.3 165.5h0M108.3 180.1h0M112.5 147.8h0M100.4 153.3h0M117.2 155.7h0M111.6 151.8h0M110.6 182.3h0M104.0 153.2h0M103.3 174.1h0" stroke="#fec338" stroke-width="1.5" stroke-linecap="round"/>
<path d="M99.0 191.3h0M109.2 172.6h0M117.8 171.9h0M58.1 178.3h0M99.3 191.3h0M75.2 166.5h0M82.6 198.2h0M85.3 198.5h0M102.1 174.8h0M119.1 185.2h0" stroke="#23a0e5" stroke-width="1.5" stroke-linecap="round"/>
<path d="M29.8 204.8h0M27.9 205.6h0M92.3 175.9h0M84.0 185.0h0M33.5 211.0h0M29.2 205.6h0M60.2 194.8h0M84.3 184.0h0M92.6 192.9h0M69.6 191.4h0M38.5 201.9h0M113.3 188.4h0M83.3 197.9h0M38.5 207.4h0M54.2 195.8h0M28.0 205.0h0M71.4 194.2h0M35.6 215.1h0M81.9 182.0h0M44.1 212.4h0" stroke="#fec338" stroke-width="1.6" stroke-linecap="round"/>
<path d="M88.7 175.3h0M58.9 198.6h0M57.3 199.1h0M62.9 201.5h0M35.4 206.6h0M58.2 198.2h0M23.0 211.8h0M83.8 185.6h0M24.3 211.9h0M80.5 185.1h0M35.5 206.9h0M41.6 204.5h0M58.3 196.1h0M63.5 200.6h0M61.1 199.9h0M52.6 196.2h0M34.4 210.9h0M78.8 185.5h0M31.2 207.1h0" stroke="#02bac3" stroke-width="1.6" stroke-linecap="round"/>
<path d="M74.5 202.8h0M79.0 180.2h0M53.3 195.5h0" stroke="#9dc943" stroke-width="1.6" stroke-linecap="round"/>
<path d="M86.3 173.9h0M53.5 184.8h0M108.2 178.8h0M92.9 184.6h0M119.1 180.4h0M82.1 174.9h0M111.0 175.6h0M115.3 176.2h0M93.6 173.8h0" stroke="#20a5e3" stroke-width="1.5" stroke-linecap="round"/>
<path d="M26.9 217.2h0M38.0 217.0h0M70.3 203.3h0M45.2 215.8h0M27.1 223.3h0M34.0 220.1h0" stroke="#3e6fff" stroke-width="1.6" stroke-linecap="round"/>
<path d="M71.2 175.0h0" stroke="#2cc4a7" stroke-width="1.5" stroke-linecap="round"/>
<path d="M113.0 181.4h0" stroke="#02bac3" stroke-width="1.5" stroke-linecap="round"/>
<path d="M41.6 202.6h0M32.3 216.8h0M47.2 202.5h0M30.9 206.7h0M32.6 213.8h0M83.6 187.2h0M25.7 208.7h0M38.6 210.4h0M46.2 206.3h0M39.4 210.7h0M93.4 183.2h0M36.9 204.0h0M62.4 191.6h0M37.4 212.3h0M70.2 188.1h0M85.0 182.6h0M33.5 210.3h0" stroke="#08b5d0" stroke-width="1.6" stroke-linecap="round"/>
<path d="M69.5 194.8h0M37.4 213.2h0M32.8 209.6h0M53.7 196.0h0M42.9 201.3h0M62.6 193.6h0M32.1 211.7h0M33.5 210.5h0M25.1 214.6h0M81.6 180.0h0M77.4 185.3h0M30.6 210.2h0M41.7 203.9h0M31.1 216.1h0M29.8 206.6h0M82.0 178.3h0M31.6 207.9h0M25.9 210.5h0M30.2 211.5h0M22.9 211.5h0M88.3 188.5h0M34.1 210.0h0M46.2 209.7h0M23.6 212.0h0M77.0 186.0h0" stroke="#259be8" stroke-width="1.6" stroke-linecap="round"/>
<path d="M72.6 154.7h0M92.1 158.7h0M77.7 155.8h0M69.2 144.0h0M86.8 153.6h0M115.8 148.2h0" stroke="#f7dc2a" stroke-width="1.5" stroke-linecap="round"/>
<path d="M41.7 204.6h0M68.5 188.6h0M59.2 209.2h0M58.2 197.6h0M44.7 209.9h0M35.4 199.3h0M28.9 204.5h0M64.2 194.3h0M49.2 214.0h0M66.5 194.8h0M59.1 192.8h0M35.0 203.4h0M94.8 192.7h0" stroke="#fec934" stroke-width="1.6" stroke-linecap="round"/>
<path d="M94.5 195.1h0M86.1 196.3h0M81.5 198.9h0M86.2 180.7h0M75.8 166.3h0M68.2 174.6h0M79.5 181.3h0" stroke="#20a5e3" stroke-width="1.5" stroke-linecap="round"/>
<path d="M107.1 143.8h0M80.9 181.1h0M89.4 167.3h0M114.1 173.0h0M102.2 171.1h0M81.3 153.5h0M85.0 152.2h0M82.3 157.8h0M102.8 168.3h0M82.1 158.7h0M79.0 166.2h0M50.7 193.2h0M108.7 151.2h0M65.9 186.4h0" stroke="#f0ba36" stroke-width="1.5" stroke-linecap="round"/>
<path d="M45.1 201.1h0M73.0 187.2h0M52.6 199.1h0M64.6 192.4h0M33.7 204.6h0M65.3 196.0h0M41.2 203.8h0M82.4 192.7h0M81.1 197.4h0M84.4 197.7h0M37.3 202.7h0M91.7 178.0h0M57.5 201.9h0M41.0 209.1h0M41.0 201.6h0M88.5 190.5h0M93.3 188.6h0M74.5 203.5h0M90.3 192.0h0M75.9 200.7h0" stroke="#f8ba3d" stroke-width="1.6" stroke-linecap="round"/>
<path d="M81.1 180.0h0M80.8 184.3h0M40.4 210.2h0M47.9 210.2h0M46.9 215.3h0M37.3 207.9h0M40.0 215.0h0M67.9 195.6h0M66.6 200.8h0M35.2 219.0h0M71.5 188.0h0M52.8 196.0h0M45.8 216.9h0M83.3 187.7h0M51.6 204.9h0M87.7 189.1h0M52.0 212.9h0M68.2 185.8h0M65.1 189.1h0" stroke="#fad62d" stroke-width="1.6" stroke-linecap="round"/>
<path d="M107.3 165.3h0M76.7 166.4h0M107.3 156.6h0M95.4 190.2h0M81.8 158.5h0M79.4 151.0h0M72.4 175.2h0M119.8 171.6h0M122.9 150.7h0M54.0 181.7h0M49.4 191.7h0M97.6 179.2h0" stroke="#fec338" stroke-width="1.5" stroke-linecap="round"/>
<path d="M69.0 205.8h0M69.9 201.2h0M24.7 212.6h0M57.9 196.0h0M41.1 210.4h0M73.4 201.4h0M52.1 202.2h0M43.6 217.8h0M39.4 218.4h0M99.4 195.6h0M81.9 196.3h0M75.9 189.8h0" stroke="#4acb84" stroke-width="1.6" stroke-linecap="round"/>
<path d="M52.4 196.5h0M32.0 209.9h0M31.4 211.6h0M53.5 202.2h0M61.8 198.8h0M84.3 181.4h0M31.7 211.4h0M71.3 187.7h0M68.7 198.7h0M34.3 213.8h0M50.8 196.7h0M45.0 211.1h0" stroke="#23a0e5" stroke-width="1.6" stroke-linecap="round"/>
<path d="M64.6 188.1h0M55.1 197.5h0M60.1 197.9h0M74.9 200.4h0M78.6 187.5h0M28.7 211.6h0M35.8 215.2h0M65.7 200.2h0M54.2 212.1h0M90.0 185.5h0M38.7 215.0h0M79.2 187.2h0M65.6 201.0h0" stroke="#e6bb2d" stroke-width="1.6" stroke-linecap="round"/>
<path d="M121.1 150.1h0M110.8 148.1h0M78.5 157.0h0" stroke="#f5e924" stroke-width="1.5" stroke-linecap="round"/>
<path d="M27.3 221.3h0M29.2 222.6h0M26.0 218.0h0M30.4 222.0h0M30.4 217.5h0" stroke="#4852f4" stroke-width="1.6" stroke-linecap="round"/>
<path d="M38.5 219.7h0M24.3 218.8h0M44.1 216.1h0M21.7 218.3h0M21.7 217.1h0M27.8 217.5h0M89.5 190.9h0M22.5 220.6h0M85.0 197.6h0M35.0 219.3h0M34.7 221.0h0M36.7 218.2h0M72.8 201.5h0M31.7 217.5h0M48.6 212.2h0M82.7 197.0h0" stroke="#3875fe" stroke-width="1.6" stroke-linecap="round"/>
<path d="M21.8 222.8h0" stroke="#4747eb" stroke-width="1.6" stroke-linecap="round"/>
<path d="M79.3 200.5h0M21.4 216.2h0M77.3 183.9h0M38.3 215.8h0M51.1 197.4h0M55.9 194.7h0M63.6 207.7h0M94.8 193.3h0M66.8 192.4h0M47.1 198.9h0M80.2 195.1h0M70.1 189.0h0M89.9 177.6h0M57.5 204.3h0" stroke="#57cc7a" stroke-width="1.6" stroke-linecap="round"/>
<path d="M77.8 183.2h0M47.2 202.0h0M49.4 199.8h0M47.1 214.1h0M94.3 176.6h0M54.9 209.2h0M73.9 197.2h0M48.1 200.1h0M39.2 216.9h0M46.8 208.1h0M44.7 204.3h0M83.2 198.6h0M92.3 193.0h0M41.4 218.6h0M79.1 197.2h0" stroke="#24c1ae" stroke-width="1.6" stroke-linecap="round"/>
<path d="M110.2 158.1h0M66.1 170.8h0M105.6 177.0h0M91.4 171.4h0M98.7 184.5h0M95.2 174.2h0M76.0 153.1h0M88.0 156.7h0M97.9 154.1h0M69.9 170.0h0M83.6 145.8h0M103.1 158.3h0M88.5 184.7h0M101.3 178.8h0M94.1 178.9h0M84.7 169.9h0M108.9 155.2h0M92.4 190.9h0M87.3 165.3h0" stroke="#febe3c" stroke-width="1.5" stroke-linecap="round"/>
<path d="M76.2 194.3h0M91.9 186.9h0M42.6 201.1h0M90.9 189.3h0M43.7 216.0h0M49.8 206.3h0M38.7 210.4h0M31.9 220.5h0M46.7 214.6h0M91.8 175.7h0M82.3 197.0h0" stroke="#f7dc2a" stroke-width="1.6" stroke-linecap="round"/>
<path d="M88.4 165.8h0" stroke="#37c897" stroke-width="1.5" stroke-linecap="round"/>
<path d="M71.9 165.0h0M88.3 168.4h0" stroke="#64cd6f" stroke-width="1.5" stroke-linecap="round"/>
<path d="M79.4 189.2h0M71.0 191.8h0M94.3 179.1h0M45.5 216.9h0M93.2 188.3h0M74.9 182.1h0M46.6 210.1h0M47.6 199.3h0M34.4 216.2h0" stroke="#64cd6f" stroke-width="1.6" stroke-linecap="round"/>
<path d="M89.8 177.8h0M93.6 194.1h0M82.7 186.2h0M44.2 217.5h0M82.5 198.8h0M72.7 184.4h0M72.3 187.4h0" stroke="#72cd64" stroke-width="1.6" stroke-linecap="round"/>
<path d="M21.6 222.7h0M22.1 222.1h0M29.1 218.9h0M26.0 216.6h0M28.4 215.5h0" stroke="#4537d5" stroke-width="1.6" stroke-linecap="round"/>
<path d="M80.8 199.6h0M75.5 193.8h0M43.7 203.2h0M45.5 214.1h0M51.2 205.9h0M37.8 214.2h0M24.1 213.4h0M81.4 191.1h0M55.4 206.0h0M75.4 187.1h0M50.2 198.1h0M38.9 214.2h0" stroke="#37c897" stroke-width="1.6" stroke-linecap="round"/>
<path d="M42.0 214.4h0M69.4 205.8h0M91.2 180.7h0M68.3 192.7h0M45.3 207.5h0M71.9 199.5h0M69.0 202.1h0M37.6 201.6h0M42.2 204.2h0M72.0 194.2h0M46.4 213.5h0M54.2 196.2h0M28.5 205.8h0M44.1 214.7h0M40.3 203.3h0M57.8 195.3h0" stroke="#f0ba36" stroke-width="1.6" stroke-linecap="round"/>
<path d="M50.0 204.7h0M52.3 205.4h0M37.5 213.9h0M33.5 216.7h0M80.8 193.6h0M91.9 186.8h0M48.2 210.3h0M44.3 205.1h0M35.4 210.2h0M46.1 210.8h0M32.4 213.9h0M32.1 212.9h0M61.3 192.9h0M77.0 189.6h0M34.9 207.8h0M79.4 183.5h0M69.4 192.6h0M34.9 207.6h0M79.9 181.6h0M39.9 205.2h0M94.7 176.6h0M47.2 208.4h0M21.7 214.1h0M59.6 192.9h0" stroke="#08b5d0" stroke-width="1.6" stroke-linecap="round"/>
<path d="M89.8 192.0h0M83.4 192.7h0M35.2 220.3h0M72.0 198.6h0M48.3 206.5h0M47.8 210.7h0M83.5 182.0h0M87.8 190.7h0M90.6 195.2h0" stroke="#81cc59" stroke-width="1.6" stroke-linecap="round"/>
<path d="M25.4 219.9h0M24.2 218.1h0M27.2 222.0h0M23.0 217.5h0" stroke="#4741e5" stroke-width="1.6" stroke-linecap="round"/>
<path d="M49.1 213.2h0M50.4 209.5h0M76.4 187.1h0M82.8 182.1h0M48.4 214.7h0M75.6 192.0h0" stroke="#9dc943" stroke-width="1.6" stroke-linecap="round"/>
<path d="M39.6 214.3h0M81.4 183.1h0M78.5 181.5h0M39.5 203.2h0M65.5 187.3h0M36.3 214.4h0M41.1 207.8h0M35.9 204.4h0M35.5 207.6h0M32.7 212.9h0M85.3 182.6h0M92.0 186.5h0M33.5 207.0h0M25.2 214.4h0M59.1 193.3h0M79.9 189.5h0M37.2 211.8h0M41.1 203.9h0M26.1 211.2h0M32.5 208.0h0M37.4 215.3h0M61.6 191.6h0M21.7 215.8h0M28.6 211.4h0" stroke="#259be8" stroke-width="1.6" stroke-linecap="round"/>
<path d="M71.6 148.8h0" stroke="#d1bf27" stroke-width="1.5" stroke-linecap="round"/>
<path d="M87.6 166.7h0M80.1 171.6h0" stroke="#3fca8e" stroke-width="1.5" stroke-linecap="round"/>
<path d="M65.2 206.9h0M43.4 215.6h0M91.6 192.9h0M44.5 212.6h0M26.2 214.8h0M52.6 209.9h0M56.5 206.3h0M38.3 217.5h0" stroke="#2e87f7" stroke-width="1.6" stroke-linecap="round"/>
<path d="M56.8 201.3h0M86.1 192.2h0M79.6 197.1h0M55.1 206.9h0M56.3 200.2h0M56.6 206.8h0M46.1 215.9h0M59.0 195.6h0M64.9 187.9h0M81.0 185.7h0M64.8 190.5h0M28.3 207.1h0M84.9 184.0h0M60.5 191.6h0" stroke="#8fcb4e" stroke-width="1.6" stroke-linecap="round"/>
<path d="M84.3 170.5h0" stroke="#259be8" stroke-width="1.5" stroke-linecap="round"/>
<path d="M91.7 154.6h0M106.7 152.3h0M111.0 158.8h0M71.7 150.1h0" stroke="#f5e327" stroke-width="1.5" stroke-linecap="round"/>
<path d="M80.2 179.0h0M113.8 151.4h0M90.1 171.7h0M82.0 158.6h0" stroke="#e6bb2d" stroke-width="1.5" stroke-linecap="round"/>
<path d="M67.9 196.5h0M34.2 214.1h0M24.3 210.8h0M35.1 206.6h0M39.2 203.1h0M61.9 197.0h0M33.3 210.7h0M21.4 212.4h0M61.8 198.8h0M92.2 186.9h0M31.3 210.0h0M45.9 205.5h0M37.8 206.9h0M54.9 196.5h0M45.3 203.8h0M43.1 208.4h0M44.9 211.6h0M45.2 203.0h0M66.8 191.5h0M61.2 197.7h0M29.1 208.8h0M51.3 196.3h0M32.3 211.7h0M48.6 200.6h0M76.9 186.6h0M38.8 210.9h0M40.2 205.7h0M39.4 208.1h0M24.2 211.8h0M79.5 182.3h0M36.6 209.9h0M27.3 212.3h0" stroke="#01b8ca" stroke-width="1.6" stroke-linecap="round"/>
<path d="M59.4 204.9h0M35.8 220.1h0M22.6 217.0h0M32.4 219.5h0M25.5 220.5h0M29.6 222.9h0M54.6 209.6h0M41.4 216.7h0M40.1 216.7h0M21.8 217.6h0" stroke="#327cfc" stroke-width="1.6" stroke-linecap="round"/>
<path d="M111.4 175.9h0M90.1 158.7h0M72.8 152.0h0M104.6 170.9h0M84.4 153.5h0M115.7 157.2h0M89.0 184.2h0M79.9 196.2h0M89.5 164.3h0" stroke="#fccf30" stroke-width="1.5" stroke-linecap="round"/>
<path d="M42.2 217.5h0M34.1 203.7h0M70.2 198.6h0M40.0 204.0h0M62.4 191.2h0M94.1 190.5h0M55.8 202.1h0M68.5 195.7h0M66.6 192.7h0M87.9 192.6h0M59.9 202.8h0M40.5 204.0h0M51.9 199.8h0M59.4 193.0h0M85.7 190.1h0M64.0 194.5h0M62.4 204.3h0M29.4 204.0h0M66.7 206.3h0M37.3 201.3h0M35.2 198.7h0" stroke="#febe3c" stroke-width="1.6" stroke-linecap="round"/>
<path d="M24.8 209.6h0M49.3 205.2h0M72.4 187.5h0M51.7 208.0h0M36.0 206.4h0M74.7 192.8h0M24.2 212.9h0M25.0 212.2h0M49.9 197.3h0M37.3 211.1h0M82.3 181.3h0M50.0 203.8h0M22.1 214.5h0M87.2 177.7h0M42.4 210.2h0M40.0 203.4h0M41.3 206.8h0M32.1 207.6h0M60.6 201.3h0M73.9 183.2h0M67.9 189.6h0M37.9 209.1h0M31.8 215.3h0M23.8 213.7h0M35.8 209.1h0M31.8 214.3h0M50.6 199.6h0" stroke="#1ca9df" stroke-width="1.6" stroke-linecap="round"/>
<path d="M91.6 190.6h0M83.8 193.9h0M21.6 212.5h0M26.7 208.7h0M34.2 220.1h0M82.9 191.7h0M37.1 214.8h0M28.9 211.7h0M38.1 204.6h0M82.6 180.7h0M24.8 213.0h0M61.3 194.0h0M53.7 196.8h0M51.1 200.9h0M43.9 203.3h0M28.4 207.8h0M43.6 202.0h0M49.4 208.7h0M65.3 201.8h0M58.6 200.0h0" stroke="#2797eb" stroke-width="1.6" stroke-linecap="round"/>
<path d="M50.0 214.5h0M30.4 219.3h0M21.6 218.6h0M28.8 215.9h0M30.8 221.4h0M64.7 206.7h0M23.9 223.4h0" stroke="#4563fd" stroke-width="1.6" stroke-linecap="round"/>
<path d="M74.9 185.3h0M104.5 180.6h0" stroke="#19bfb6" stroke-width="1.5" stroke-linecap="round"/>
<path d="M80.8 191.3h0M111.8 189.5h0M97.0 187.6h0M87.4 189.1h0M93.9 165.2h0M111.4 182.0h0M84.6 194.4h0M106.2 176.6h0M119.1 179.7h0M117.4 185.0h0M112.6 179.2h0M88.1 179.5h0M84.2 193.9h0M97.8 186.6h0M80.7 194.0h0" stroke="#4acb84" stroke-width="1.5" stroke-linecap="round"/>
<path d="M78.3 157.0h0M108.3 171.6h0M107.6 156.0h0M104.8 172.9h0M76.1 171.2h0M76.4 167.6h0M71.3 144.1h0M85.8 171.1h0M104.8 169.4h0M96.4 186.2h0M66.3 170.7h0M108.0 153.6h0M109.6 178.1h0M85.4 154.0h0M72.3 153.3h0M71.1 152.8h0" stroke="#fec934" stroke-width="1.5" stroke-linecap="round"/>
<path d="M111.5 182.1h0M93.0 182.7h0M97.6 188.0h0M66.4 174.1h0M111.0 182.7h0M79.9 181.0h0M109.4 179.2h0" stroke="#18addb" stroke-width="1.5" stroke-linecap="round"/>
<path d="M114.0 180.3h0M93.9 193.2h0M115.7 187.0h0M66.1 179.0h0M105.8 173.2h0" stroke="#1ca9df" stroke-width="1.5" stroke-linecap="round"/>
<path d="M46.0 199.5h0M37.5 209.7h0M58.7 206.6h0M74.7 197.0h0M62.6 202.5h0M57.7 205.1h0M56.1 207.2h0M37.9 202.6h0M63.8 206.4h0M78.3 188.5h0M76.7 201.4h0M34.4 216.2h0M79.2 196.7h0M54.0 202.0h0M27.5 206.2h0M89.3 196.2h0M94.7 189.2h0M89.7 189.8h0M70.1 197.3h0M41.2 203.8h0M91.4 175.7h0M38.4 208.0h0" stroke="#fccf30" stroke-width="1.6" stroke-linecap="round"/>
<path d="M36.2 220.9h0M40.7 219.1h0M53.7 211.3h0M53.7 207.5h0M41.3 215.9h0M30.4 216.6h0M48.8 211.2h0M26.5 221.0h0M44.6 216.7h0M30.3 218.1h0M37.3 218.9h0M29.3 213.3h0M63.4 204.8h0M71.0 204.7h0" stroke="#4269fe" stroke-width="1.6" stroke-linecap="round"/>
<path d="M116.3 174.9h0M117.8 178.0h0M78.5 177.9h0M52.1 185.6h0M95.9 190.2h0M78.8 170.7h0M84.1 189.3h0M114.4 146.9h0M95.4 158.5h0M78.3 197.2h0M62.1 179.9h0M113.1 158.5h0" stroke="#f8ba3d" stroke-width="1.5" stroke-linecap="round"/>
<path d="M51.1 196.4h0M62.6 203.8h0M38.2 209.2h0M66.7 191.1h0M68.2 206.5h0" stroke="#dcbd29" stroke-width="1.6" stroke-linecap="round"/>
<path d="M29.7 204.9h0M47.2 205.0h0M92.5 175.5h0M83.6 178.3h0M31.5 214.7h0M45.4 203.0h0M37.2 204.5h0M49.3 209.5h0M60.3 204.5h0M37.5 202.8h0M76.5 194.3h0M63.8 199.7h0M38.4 198.2h0M51.6 202.3h0M72.3 200.1h0M41.2 200.9h0M46.5 201.3h0M45.1 212.4h0M29.9 204.8h0M41.0 203.4h0M77.8 184.3h0M43.0 204.3h0M45.0 216.2h0" stroke="#fec338" stroke-width="1.6" stroke-linecap="round"/>
<path d="M98.7 166.2h0" stroke="#24c1ae" stroke-width="1.5" stroke-linecap="round"/>
<path d="M79.9 189.6h0M105.2 179.2h0M86.0 186.7h0M107.3 182.7h0M93.7 178.0h0M104.9 191.4h0M109.2 178.9h0M76.5 170.9h0M86.7 187.7h0M91.4 169.3h0M115.5 179.8h0M85.5 198.1h0M80.7 183.5h0M100.8 181.7h0M106.5 167.5h0" stroke="#12b1d6" stroke-width="1.5" stroke-linecap="round"/>
<path d="M32.8 214.4h0M89.5 188.7h0M78.8 194.2h0M53.4 195.5h0M42.4 209.3h0M81.6 179.4h0M35.0 209.2h0M48.5 198.6h0M74.8 193.4h0M69.9 191.4h0M55.8 204.2h0M81.4 180.5h0M66.0 191.0h0M46.8 202.8h0M82.8 184.0h0M37.3 207.6h0M38.4 207.9h0M25.0 213.2h0M67.9 189.1h0M40.0 214.5h0M27.8 213.1h0" stroke="#18addb" stroke-width="1.6" stroke-linecap="round"/>
<path d="M67.9 199.6h0M64.3 190.1h0M46.0 211.1h0M31.4 207.6h0M84.7 189.6h0M24.5 214.9h0M49.2 206.9h0M37.8 213.7h0M32.2 216.3h0M46.7 204.3h0M82.6 181.0h0M34.1 205.8h0M51.6 204.6h0M79.7 188.5h0" stroke="#02bac3" stroke-width="1.6" stroke-linecap="round"/>
<path d="M102.1 185.6h0M117.3 186.2h0M85.8 196.6h0M86.9 195.7h0M100.7 178.8h0M95.6 188.5h0M85.9 178.9h0M96.2 190.7h0M83.2 181.3h0M118.4 175.5h0" stroke="#01b8ca" stroke-width="1.5" stroke-linecap="round"/>
<path d="M109.1 175.2h0M93.6 169.3h0M94.9 194.4h0M119.8 185.9h0M89.9 196.7h0M108.9 182.5h0M85.1 172.0h0M62.5 182.2h0M102.5 171.9h0M100.5 185.9h0M100.7 174.2h0M108.8 184.8h0M101.9 164.8h0M78.1 193.1h0M63.7 181.1h0M88.0 194.3h0" stroke="#23a0e5" stroke-width="1.5" stroke-linecap="round"/>
<path d="M53.8 191.0h0M86.2 181.9h0" stroke="#31c69f" stroke-width="1.5" stroke-linecap="round"/>
<path d="M112.6 175.3h0M103.9 179.9h0M107.5 181.7h0M87.0 184.3h0M107.4 186.2h0" stroke="#02bac3" stroke-width="1.5" stroke-linecap="round"/>
<path d="M25.6 219.7h0M23.6 221.2h0M41.6 216.1h0" stroke="#465efb" stroke-width="1.6" stroke-linecap="round"/>
<path d="M23.4 223.8h0M27.1 219.4h0M25.5 221.8h0" stroke="#484df0" stroke-width="1.6" stroke-linecap="round"/>
<path d="M108.6 176.8h0M103.5 188.9h0M116.0 185.8h0M87.7 176.7h0M59.0 179.1h0M46.1 191.9h0" stroke="#08b5d0" stroke-width="1.5" stroke-linecap="round"/>
<path d="M85.8 198.1h0M65.1 206.9h0M49.9 210.2h0M41.8 213.7h0M94.7 193.2h0" stroke="#2d8cf3" stroke-width="1.6" stroke-linecap="round"/>
<path d="M95.5 173.9h0" stroke="#81cc59" stroke-width="1.5" stroke-linecap="round"/>
<path d="M85.8 191.1h0M54.7 207.2h0M52.8 211.1h0M35.5 212.9h0M91.5 184.1h0M68.8 204.7h0M77.3 185.5h0M64.7 196.4h0M63.7 202.3h0" stroke="#3fca8e" stroke-width="1.6" stroke-linecap="round"/>
<path d="M109.6 158.1h0" stroke="#f7f51b" stroke-width="1.5" stroke-linecap="round"/>
<path d="M67.9 201.3h0M73.6 202.8h0M44.4 216.1h0M53.0 211.5h0M33.4 217.4h0M90.1 193.3h0" stroke="#2b91ef" stroke-width="1.6" stroke-linecap="round"/>
<path d="M26.6 214.0h0M23.3 216.4h0M29.9 222.9h0" stroke="#463cde" stroke-width="1.6" stroke-linecap="round"/>
<path d="M103.1 165.9h0M78.9 173.6h0" stroke="#57cc7a" stroke-width="1.5" stroke-linecap="round"/>
<path d="M85.9 150.3h0M100.6 150.9h0M99.4 156.5h0M106.2 150.1h0M72.6 155.8h0M69.9 174.8h0M71.1 155.1h0M78.5 155.2h0" stroke="#fad62d" stroke-width="1.5" stroke-linecap="round"/>
<path d="M94.4 152.4h0" stroke="#dcbd29" stroke-width="1.5" stroke-linecap="round"/>
<path d="M55.2 203.9h0M48.6 212.3h0M81.3 180.9h0M73.5 202.5h0M75.8 185.9h0M78.4 193.4h0M63.2 189.5h0M82.6 194.8h0M40.3 216.8h0M64.5 198.9h0M52.6 197.3h0M84.8 203.3h0" stroke="#31c69f" stroke-width="1.6" stroke-linecap="round"/>
<path d="M38.0 205.6h0M26.9 210.3h0M27.4 209.2h0M87.2 189.3h0M32.1 206.8h0M63.2 192.1h0M72.4 196.6h0M66.7 198.5h0M70.8 191.5h0M35.0 207.8h0" stroke="#12b1d6" stroke-width="1.6" stroke-linecap="round"/>
<path d="M26.5 221.2h0M29.0 214.7h0" stroke="#4758f8" stroke-width="1.6" stroke-linecap="round"/>
<path d="M44.3 203.2h0M76.8 182.6h0M31.6 208.5h0M34.0 208.6h0M46.8 198.7h0M27.5 212.9h0M27.4 213.6h0M34.5 211.3h0M28.3 207.8h0M38.8 214.0h0M30.0 211.1h0M43.6 203.5h0M47.7 201.6h0M56.5 201.5h0M80.7 185.4h0M42.8 212.5h0M37.4 210.6h0M27.8 209.6h0" stroke="#20a5e3" stroke-width="1.6" stroke-linecap="round"/>
<path d="M69.7 203.1h0M29.6 220.4h0M34.3 220.2h0M32.5 219.3h0M74.4 198.5h0M90.8 192.5h0M22.3 223.9h0M22.3 222.4h0M59.7 207.1h0M36.2 216.8h0M25.7 215.3h0M44.8 215.8h0M54.8 207.0h0M38.8 215.5h0M22.4 220.2h0" stroke="#2f81fa" stroke-width="1.6" stroke-linecap="round"/>
<path d="M90.3 164.8h0" stroke="#72cd64" stroke-width="1.5" stroke-linecap="round"/>
<path d="M49.7 204.0h0M39.2 216.4h0M42.3 215.7h0M45.9 205.1h0M44.7 210.7h0M85.5 192.4h0M73.4 188.1h0M43.2 214.5h0M83.8 186.4h0M58.9 199.5h0M64.2 196.8h0M37.0 204.7h0M55.4 204.5h0" stroke="#2cc4a7" stroke-width="1.6" stroke-linecap="round"/>
<path d="M49.5 213.3h0M24.0 221.8h0M21.4 220.9h0M46.9 213.8h0M50.8 212.2h0M34.3 221.6h0M31.1 218.7h0" stroke="#3e6fff" stroke-width="1.6" stroke-linecap="round"/>
<rect x="21.3" y="138.2" width="120.00" height="86.00" fill="none" stroke="#8c8c8c" stroke-width="0.7"/>
<line x1="21.30" y1="224.2" x2="21.30" y2="223.0" stroke="#777" stroke-width="0.6"/>
<line x1="21.30" y1="138.2" x2="21.30" y2="139.39999999999998" stroke="#777" stroke-width="0.6"/>
<line x1="45.79" y1="224.2" x2="45.79" y2="223.0" stroke="#777" stroke-width="0.6"/>
<line x1="45.79" y1="138.2" x2="45.79" y2="139.39999999999998" stroke="#777" stroke-width="0.6"/>
<line x1="70.28" y1="224.2" x2="70.28" y2="223.0" stroke="#777" stroke-width="0.6"/>
<line x1="70.28" y1="138.2" x2="70.28" y2="139.39999999999998" stroke="#777" stroke-width="0.6"/>
<line x1="94.77" y1="224.2" x2="94.77" y2="223.0" stroke="#777" stroke-width="0.6"/>
<line x1="94.77" y1="138.2" x2="94.77" y2="139.39999999999998" stroke="#777" stroke-width="0.6"/>
<line x1="119.26" y1="224.2" x2="119.26" y2="223.0" stroke="#777" stroke-width="0.6"/>
<line x1="119.26" y1="138.2" x2="119.26" y2="139.39999999999998" stroke="#777" stroke-width="0.6"/>
<line x1="21.3" y1="224.20" x2="22.5" y2="224.20" stroke="#777" stroke-width="0.6"/>
<line x1="141.3" y1="224.20" x2="140.10000000000002" y2="224.20" stroke="#777" stroke-width="0.6"/>
<line x1="21.3" y1="206.68" x2="22.5" y2="206.68" stroke="#777" stroke-width="0.6"/>
<line x1="141.3" y1="206.68" x2="140.10000000000002" y2="206.68" stroke="#777" stroke-width="0.6"/>
<line x1="21.3" y1="189.17" x2="22.5" y2="189.17" stroke="#777" stroke-width="0.6"/>
<line x1="141.3" y1="189.17" x2="140.10000000000002" y2="189.17" stroke="#777" stroke-width="0.6"/>
<line x1="21.3" y1="171.65" x2="22.5" y2="171.65" stroke="#777" stroke-width="0.6"/>
<line x1="141.3" y1="171.65" x2="140.10000000000002" y2="171.65" stroke="#777" stroke-width="0.6"/>
<line x1="21.3" y1="154.14" x2="22.5" y2="154.14" stroke="#777" stroke-width="0.6"/>
<line x1="141.3" y1="154.14" x2="140.10000000000002" y2="154.14" stroke="#777" stroke-width="0.6"/>
<text x="21.30" y="232.50" font-size="6.5" text-anchor="middle" fill="#262626">0</text>
<text x="45.79" y="232.50" font-size="6.5" text-anchor="middle" fill="#262626">1</text>
<text x="70.28" y="232.50" font-size="6.5" text-anchor="middle" fill="#262626">2</text>
<text x="94.77" y="232.50" font-size="6.5" text-anchor="middle" fill="#262626">3</text>
<text x="119.26" y="232.50" font-size="6.5" text-anchor="middle" fill="#262626">4</text>
<text x="19.40" y="226.30" font-size="6.5" text-anchor="end" fill="#262626">0</text>
<text x="19.40" y="208.78" font-size="6.5" text-anchor="end" fill="#262626">1</text>
<text x="19.40" y="191.27" font-size="6.5" text-anchor="end" fill="#262626">2</text>
<text x="19.40" y="173.75" font-size="6.5" text-anchor="end" fill="#262626">3</text>
<text x="19.40" y="156.24" font-size="6.5" text-anchor="end" fill="#262626">4</text>
<text x="21.90" y="137.40" font-size="7.0" fill="#555"><tspan>×10</tspan><tspan dy="-2.8" font-size="4.6">-5</tspan></text>
<text x="141.80" y="243.10" font-size="7.0" fill="#555" text-anchor="end"><tspan>×10</tspan><tspan dy="-2.8" font-size="4.6">-5</tspan></text>
<text x="81.30" y="241.50" font-size="6.7" text-anchor="middle" fill="#262626">Actual</text>
<text x="0" y="0" transform="translate(12.80,181.80) rotate(-90)" font-size="7.1" text-anchor="middle" fill="#262626">Predicted</text>
<text x="26.30" y="151.10" font-size="10" font-weight="bold" fill="#000">d)</text>
<text x="82.10" y="133.70" font-size="7.1" font-weight="bold" text-anchor="middle" fill="#000" xml:space="preserve"><tspan>ATR100</tspan><tspan dy="2.9" font-size="5.2">Cont</tspan><tspan dy="-2.9">;  R</tspan><tspan dy="-2.6" font-size="5.3">2</tspan><tspan dy="2.6">: 0.88679</tspan></text>
<line x1="210.26" y1="138.2" x2="210.26" y2="224.2" stroke="#ebebeb" stroke-width="0.6"/>
<line x1="246.92" y1="138.2" x2="246.92" y2="224.2" stroke="#ebebeb" stroke-width="0.6"/>
<line x1="283.58" y1="138.2" x2="283.58" y2="224.2" stroke="#ebebeb" stroke-width="0.6"/>
<line x1="173.6" y1="211.09" x2="293.3" y2="211.09" stroke="#ebebeb" stroke-width="0.6"/>
<line x1="173.6" y1="197.98" x2="293.3" y2="197.98" stroke="#ebebeb" stroke-width="0.6"/>
<line x1="173.6" y1="184.87" x2="293.3" y2="184.87" stroke="#ebebeb" stroke-width="0.6"/>
<line x1="173.6" y1="171.76" x2="293.3" y2="171.76" stroke="#ebebeb" stroke-width="0.6"/>
<line x1="173.6" y1="158.65" x2="293.3" y2="158.65" stroke="#ebebeb" stroke-width="0.6"/>
<line x1="173.6" y1="145.54" x2="293.3" y2="145.54" stroke="#ebebeb" stroke-width="0.6"/>
<line x1="173.6" y1="224.2" x2="293.3" y2="138.2" stroke="#222" stroke-width="1.05"/>
<path d="M228.3 175.4h0M237.0 169.2h0M238.5 167.3h0M230.8 178.5h0M244.9 176.9h0M237.3 159.9h0" stroke="#e6bb2d" stroke-width="1.7" stroke-linecap="round"/>
<path d="M245.2 163.6h0M227.7 175.7h0" stroke="#dcbd29" stroke-width="1.7" stroke-linecap="round"/>
<path d="M234.3 176.9h0M233.9 175.0h0M235.8 179.8h0M240.7 174.0h0M228.2 181.0h0M233.7 177.6h0M234.7 182.4h0M234.8 180.0h0M230.2 174.5h0" stroke="#57cc7a" stroke-width="1.6" stroke-linecap="round"/>
<path d="M198.8 207.1h0" stroke="#3875fe" stroke-width="1.6" stroke-linecap="round"/>
<path d="M195.9 215.6h0" stroke="#484df0" stroke-width="1.5" stroke-linecap="round"/>
<path d="M186.4 220.2h0M181.0 222.0h0M176.1 223.4h0M175.5 223.4h0M178.5 221.7h0" stroke="#3e26a8" stroke-width="1.6" stroke-linecap="round"/>
<path d="M195.3 206.4h0M200.6 203.5h0M200.7 205.8h0M198.3 208.0h0M196.0 207.3h0M200.8 201.9h0M201.2 205.2h0" stroke="#2f81fa" stroke-width="1.6" stroke-linecap="round"/>
<path d="M208.4 202.9h0M215.9 202.6h0" stroke="#3fca8e" stroke-width="1.5" stroke-linecap="round"/>
<path d="M203.9 203.7h0M201.3 205.7h0M202.1 202.7h0" stroke="#2d8cf3" stroke-width="1.6" stroke-linecap="round"/>
<path d="M232.2 182.9h0M227.3 174.4h0" stroke="#8fcb4e" stroke-width="1.7" stroke-linecap="round"/>
<path d="M232.1 184.3h0M224.1 181.4h0M229.5 180.2h0M235.2 176.2h0M234.0 182.6h0M226.5 181.4h0M229.0 181.6h0M229.7 185.3h0M234.8 180.1h0M225.6 183.7h0M232.4 181.6h0M227.9 183.6h0" stroke="#37c897" stroke-width="1.6" stroke-linecap="round"/>
<path d="M205.0 205.2h0M200.3 204.9h0M205.7 202.4h0M202.9 203.4h0M200.2 202.2h0M196.2 205.6h0M204.8 203.2h0" stroke="#2b91ef" stroke-width="1.6" stroke-linecap="round"/>
<path d="M247.6 159.6h0M231.5 179.4h0M238.7 160.3h0M244.2 176.2h0" stroke="#d1bf27" stroke-width="1.7" stroke-linecap="round"/>
<path d="M233.0 179.4h0M232.0 174.6h0M241.5 166.5h0M233.5 171.2h0M236.4 173.1h0M237.7 168.8h0M239.5 173.6h0M229.1 178.3h0" stroke="#dcbd29" stroke-width="1.6" stroke-linecap="round"/>
<path d="M231.0 181.1h0M235.2 172.7h0M233.3 178.5h0" stroke="#e6bb2d" stroke-width="1.6" stroke-linecap="round"/>
<path d="M239.6 175.2h0" stroke="#b9c431" stroke-width="1.6" stroke-linecap="round"/>
<path d="M232.5 181.1h0M254.8 165.3h0M256.1 164.3h0M234.7 170.0h0" stroke="#febe3c" stroke-width="1.7" stroke-linecap="round"/>
<path d="M188.1 212.3h0M190.0 217.8h0M196.3 212.3h0M192.8 214.0h0M190.8 214.3h0M188.8 212.5h0" stroke="#484df0" stroke-width="1.6" stroke-linecap="round"/>
<path d="M179.7 220.2h0M178.7 222.0h0M181.2 221.7h0M186.8 218.6h0M184.4 217.9h0M189.2 217.0h0M188.3 218.1h0M182.0 220.8h0M184.2 216.6h0" stroke="#4332cb" stroke-width="1.6" stroke-linecap="round"/>
<path d="M215.3 194.1h0M214.2 194.4h0M219.8 192.8h0M229.1 183.4h0" stroke="#01b8ca" stroke-width="1.6" stroke-linecap="round"/>
<path d="M258.1 166.7h0M259.4 166.0h0" stroke="#f5e327" stroke-width="1.5" stroke-linecap="round"/>
<path d="M231.9 177.1h0M233.1 175.0h0M198.8 197.3h0M203.0 200.2h0M235.6 178.3h0M232.6 173.4h0" stroke="#fec338" stroke-width="1.6" stroke-linecap="round"/>
<path d="M223.8 191.0h0M218.1 188.1h0M226.9 188.8h0M221.4 183.4h0M224.3 185.4h0M220.1 187.3h0M220.3 186.6h0M229.0 185.2h0M217.7 188.8h0M228.0 188.4h0M228.2 187.9h0M217.9 189.2h0M227.3 186.2h0M220.1 186.0h0M223.1 185.6h0" stroke="#2cc4a7" stroke-width="1.6" stroke-linecap="round"/>
<path d="M252.0 173.0h0M245.9 172.4h0M249.4 170.3h0M253.7 164.0h0M252.0 166.0h0" stroke="#f0ba36" stroke-width="1.7" stroke-linecap="round"/>
<path d="M236.0 177.5h0M237.0 168.7h0M232.2 184.1h0" stroke="#fccf30" stroke-width="1.6" stroke-linecap="round"/>
<path d="M242.0 175.6h0M238.3 173.6h0M238.9 178.9h0M237.8 172.2h0" stroke="#72cd64" stroke-width="1.6" stroke-linecap="round"/>
<path d="M190.5 212.9h0M193.7 214.1h0M197.3 210.6h0" stroke="#465efb" stroke-width="1.6" stroke-linecap="round"/>
<path d="M187.7 212.7h0M194.8 214.5h0M185.8 213.7h0M191.2 210.0h0M183.0 215.9h0M194.0 212.0h0M191.2 211.0h0M192.5 213.8h0M199.7 208.3h0M194.7 210.7h0M193.7 214.4h0" stroke="#4758f8" stroke-width="1.6" stroke-linecap="round"/>
<path d="M206.9 200.5h0M202.6 200.5h0M206.6 201.6h0M211.1 199.5h0M204.6 198.9h0M206.0 200.6h0M214.6 196.3h0M208.5 196.7h0M207.2 201.3h0M209.3 201.3h0M204.4 198.7h0M212.3 199.8h0" stroke="#20a5e3" stroke-width="1.6" stroke-linecap="round"/>
<path d="M203.2 204.6h0" stroke="#2e87f7" stroke-width="1.6" stroke-linecap="round"/>
<path d="M253.6 163.6h0M236.4 172.4h0M239.2 174.4h0" stroke="#fad62d" stroke-width="1.7" stroke-linecap="round"/>
<path d="M237.5 170.6h0M233.4 171.9h0M199.7 198.6h0M236.4 173.6h0M230.5 176.1h0M240.9 171.0h0" stroke="#febe3c" stroke-width="1.6" stroke-linecap="round"/>
<path d="M236.7 167.7h0M241.6 167.7h0" stroke="#f7dc2a" stroke-width="1.7" stroke-linecap="round"/>
<path d="M238.5 174.5h0M236.8 176.5h0M237.2 172.6h0M238.2 179.6h0M236.6 170.2h0M241.8 174.5h0M237.5 174.8h0" stroke="#8fcb4e" stroke-width="1.6" stroke-linecap="round"/>
<path d="M202.1 204.1h0M204.2 202.8h0M202.7 200.8h0M206.3 202.1h0M202.2 201.4h0" stroke="#2797eb" stroke-width="1.6" stroke-linecap="round"/>
<path d="M216.1 192.3h0M216.7 189.7h0M222.7 191.2h0M226.1 188.5h0M228.8 188.0h0M218.9 185.9h0M225.8 187.1h0M226.7 189.0h0M215.7 190.5h0M222.6 190.6h0" stroke="#19bfb6" stroke-width="1.6" stroke-linecap="round"/>
<path d="M228.3 178.0h0M240.4 164.6h0M253.9 170.8h0M227.8 181.0h0M234.4 178.1h0" stroke="#f8ba3d" stroke-width="1.7" stroke-linecap="round"/>
<path d="M189.4 217.4h0" stroke="#465efb" stroke-width="1.5" stroke-linecap="round"/>
<path d="M183.0 221.4h0M178.4 221.2h0M181.2 219.9h0" stroke="#402ab4" stroke-width="1.6" stroke-linecap="round"/>
<path d="M211.8 199.5h0M210.6 194.8h0M212.7 194.9h0M213.4 192.7h0M212.5 193.3h0M215.5 193.2h0M215.1 197.7h0M216.9 193.5h0M218.1 190.6h0M213.1 194.9h0" stroke="#08b5d0" stroke-width="1.6" stroke-linecap="round"/>
<path d="M224.6 185.2h0M218.3 190.2h0M224.9 184.6h0M218.8 188.8h0M221.7 189.1h0M226.2 186.2h0M226.2 185.0h0M222.1 184.1h0M218.1 187.3h0M221.6 188.1h0M227.2 184.2h0M228.6 186.7h0" stroke="#24c1ae" stroke-width="1.6" stroke-linecap="round"/>
<path d="M202.6 201.1h0M208.8 199.5h0M208.0 201.6h0" stroke="#1ca9df" stroke-width="1.6" stroke-linecap="round"/>
<path d="M193.4 213.6h0M189.2 211.2h0M187.9 213.2h0M188.1 213.6h0" stroke="#4852f4" stroke-width="1.6" stroke-linecap="round"/>
<path d="M217.7 197.3h0M219.4 196.5h0M260.1 171.7h0M272.1 170.7h0" stroke="#febe3c" stroke-width="1.5" stroke-linecap="round"/>
<path d="M233.9 175.1h0M248.4 170.3h0" stroke="#fec338" stroke-width="1.7" stroke-linecap="round"/>
<path d="M194.6 209.8h0M198.3 206.7h0M192.9 211.6h0M197.6 209.3h0M194.6 212.8h0M195.8 207.8h0" stroke="#4269fe" stroke-width="1.6" stroke-linecap="round"/>
<path d="M250.0 171.2h0M268.2 173.7h0" stroke="#fccf30" stroke-width="1.5" stroke-linecap="round"/>
<path d="M198.0 210.8h0M192.2 212.6h0M189.0 212.2h0M197.7 209.8h0M197.1 212.2h0M194.2 209.9h0M195.7 208.2h0" stroke="#4563fd" stroke-width="1.6" stroke-linecap="round"/>
<path d="M227.2 174.3h0M238.2 159.8h0M234.1 183.2h0M231.5 168.8h0M242.4 177.5h0M232.0 178.4h0M242.5 158.3h0" stroke="#fccf30" stroke-width="1.7" stroke-linecap="round"/>
<path d="M262.0 168.7h0M249.4 170.9h0M289.0 170.0h0M291.0 175.0h0M271.5 172.3h0M284.0 174.0h0M278.0 176.0h0M251.1 169.4h0M231.0 199.5h0" stroke="#fec338" stroke-width="1.5" stroke-linecap="round"/>
<path d="M220.8 195.5h0" stroke="#f8ba3d" stroke-width="1.5" stroke-linecap="round"/>
<path d="M240.3 168.2h0M226.1 181.3h0M230.7 181.8h0M240.9 169.0h0M231.7 182.4h0M238.1 173.2h0M203.8 196.1h0M240.3 167.6h0" stroke="#f0ba36" stroke-width="1.6" stroke-linecap="round"/>
<path d="M263.6 172.1h0M262.9 169.3h0M270.1 171.6h0M259.0 175.6h0" stroke="#fec934" stroke-width="1.5" stroke-linecap="round"/>
<path d="M216.4 194.7h0M213.2 199.6h0M206.9 199.9h0M213.2 194.7h0M208.7 198.5h0M205.1 199.5h0M207.5 199.2h0M206.7 199.8h0M208.6 197.5h0M210.2 200.3h0M208.7 202.2h0" stroke="#18addb" stroke-width="1.6" stroke-linecap="round"/>
<path d="M241.2 177.4h0" stroke="#f7dc2a" stroke-width="1.6" stroke-linecap="round"/>
<path d="M225.9 187.0h0M233.6 180.7h0M232.3 184.5h0M219.1 189.0h0M222.6 184.4h0M220.8 189.7h0M235.2 183.5h0M219.8 187.9h0M234.3 182.5h0M214.7 192.2h0M227.3 184.6h0M234.5 182.7h0M234.4 182.1h0M233.3 180.7h0M223.0 183.1h0M225.3 185.2h0" stroke="#31c69f" stroke-width="1.6" stroke-linecap="round"/>
<path d="M251.0 170.9h0" stroke="#f7dc2a" stroke-width="1.5" stroke-linecap="round"/>
<path d="M197.4 208.8h0M190.6 212.5h0M194.6 208.5h0M198.2 206.3h0M196.2 209.2h0M198.4 206.8h0M199.8 208.3h0" stroke="#3e6fff" stroke-width="1.6" stroke-linecap="round"/>
<path d="M184.8 215.6h0M183.4 216.6h0M181.1 217.7h0M191.0 212.3h0M190.8 213.6h0M182.0 220.1h0M184.5 220.0h0M189.7 213.6h0M182.5 219.3h0" stroke="#4747eb" stroke-width="1.6" stroke-linecap="round"/>
<path d="M248.5 161.8h0M238.7 170.4h0M242.4 169.0h0M251.3 170.5h0M236.1 181.7h0M242.0 163.5h0" stroke="#fec934" stroke-width="1.7" stroke-linecap="round"/>
<path d="M182.4 220.4h0M187.8 217.7h0M184.9 217.4h0M190.9 212.9h0M185.1 215.2h0M184.7 216.7h0M187.4 216.2h0M187.0 214.8h0" stroke="#4741e5" stroke-width="1.6" stroke-linecap="round"/>
<path d="M215.9 205.2h0" stroke="#4acb84" stroke-width="1.5" stroke-linecap="round"/>
<path d="M188.7 217.6h0M187.3 218.7h0M191.0 216.6h0M189.8 216.2h0M182.2 221.1h0M183.1 218.2h0M178.2 221.1h0M184.3 221.5h0M187.0 218.9h0M184.4 218.2h0" stroke="#4537d5" stroke-width="1.6" stroke-linecap="round"/>
<path d="M241.0 176.8h0M239.5 170.1h0M233.3 182.1h0M228.1 176.8h0M226.4 187.8h0" stroke="#d1bf27" stroke-width="1.6" stroke-linecap="round"/>
<path d="M231.9 181.1h0M256.3 184.9h0M232.7 180.7h0M221.6 188.4h0M225.1 181.4h0M232.0 181.7h0M225.2 180.2h0M236.5 180.4h0M235.5 180.9h0M225.9 184.3h0M222.9 183.6h0" stroke="#3fca8e" stroke-width="1.6" stroke-linecap="round"/>
<path d="M255.0 168.7h0M231.1 183.9h0" stroke="#81cc59" stroke-width="1.7" stroke-linecap="round"/>
<path d="M221.0 193.6h0M222.3 192.7h0M218.2 195.9h0M216.6 193.3h0M224.3 186.6h0M217.7 193.2h0M226.1 188.3h0M222.5 191.3h0M227.6 183.3h0M215.2 190.2h0M216.6 189.6h0M222.5 191.0h0M223.6 189.7h0" stroke="#0bbdbd" stroke-width="1.6" stroke-linecap="round"/>
<path d="M216.4 194.7h0M210.4 197.6h0M221.3 192.7h0M207.2 197.4h0M212.7 199.0h0M206.7 197.9h0M215.0 197.5h0M213.5 195.7h0M207.4 197.2h0M214.9 194.9h0M210.3 196.6h0" stroke="#12b1d6" stroke-width="1.6" stroke-linecap="round"/>
<path d="M241.1 173.5h0" stroke="#abc739" stroke-width="1.6" stroke-linecap="round"/>
<path d="M187.2 219.5h0M188.7 218.7h0M176.0 222.3h0M187.7 215.3h0M186.2 217.2h0M174.4 223.5h0M189.2 214.6h0M187.1 217.9h0" stroke="#463cde" stroke-width="1.6" stroke-linecap="round"/>
<path d="M203.4 201.2h0M201.5 201.2h0M207.6 200.4h0" stroke="#259be8" stroke-width="1.6" stroke-linecap="round"/>
<path d="M206.9 197.9h0M231.2 173.3h0M233.3 177.5h0M205.8 196.8h0" stroke="#f8ba3d" stroke-width="1.6" stroke-linecap="round"/>
<path d="M238.0 177.1h0M231.1 178.1h0M226.5 182.1h0M236.9 179.0h0M228.1 180.9h0M223.3 188.1h0M229.6 181.1h0M227.2 179.2h0M232.7 178.4h0M230.7 184.2h0M227.7 178.0h0M223.5 185.3h0" stroke="#4acb84" stroke-width="1.6" stroke-linecap="round"/>
<path d="M207.6 201.2h0M203.6 199.8h0M206.3 199.3h0M206.8 199.1h0M216.8 196.4h0" stroke="#23a0e5" stroke-width="1.6" stroke-linecap="round"/>
<path d="M249.9 167.2h0M228.7 183.4h0" stroke="#9dc943" stroke-width="1.7" stroke-linecap="round"/>
<path d="M237.4 176.0h0M232.6 174.9h0M239.7 174.2h0M233.4 182.2h0M233.8 175.9h0M238.6 177.7h0M235.3 180.3h0M237.4 181.3h0M235.5 174.9h0M238.8 177.2h0" stroke="#64cd6f" stroke-width="1.6" stroke-linecap="round"/>
<path d="M220.6 191.2h0M219.1 194.6h0M212.6 195.9h0M221.3 192.2h0M215.7 196.0h0M216.2 189.5h0M219.9 188.8h0" stroke="#02bac3" stroke-width="1.6" stroke-linecap="round"/>
<path d="M239.9 172.7h0M235.1 171.2h0M234.5 174.7h0M233.6 174.7h0" stroke="#fad62d" stroke-width="1.6" stroke-linecap="round"/>
<path d="M241.8 164.0h0" stroke="#c5c22a" stroke-width="1.7" stroke-linecap="round"/>
<path d="M199.0 200.7h0M228.5 179.8h0" stroke="#fec934" stroke-width="1.6" stroke-linecap="round"/>
<path d="M238.5 173.7h0M239.9 171.2h0M236.3 174.8h0M240.9 179.6h0M236.1 175.2h0M241.2 176.0h0M236.0 173.8h0M239.0 175.7h0M235.7 174.5h0" stroke="#81cc59" stroke-width="1.6" stroke-linecap="round"/>
<path d="M177.5 222.6h0M182.5 217.1h0M185.5 220.0h0M185.4 220.5h0" stroke="#422ec0" stroke-width="1.6" stroke-linecap="round"/>
<path d="M237.7 168.8h0M239.4 180.5h0M242.0 178.6h0" stroke="#9dc943" stroke-width="1.6" stroke-linecap="round"/>
<path d="M235.7 171.5h0" stroke="#fccf30" stroke-width="1.6" stroke-linecap="round"/>
<path d="M234.6 180.2h0M228.8 175.7h0M231.9 176.3h0M231.3 175.6h0M238.5 179.6h0M238.9 177.1h0M228.6 176.5h0M233.0 175.8h0M238.9 177.6h0" stroke="#64cd6f" stroke-width="1.6" stroke-linecap="round"/>
<path d="M208.5 201.7h0M207.6 203.4h0M204.0 204.8h0M202.0 205.2h0M203.3 205.2h0M198.4 204.6h0M202.3 207.1h0M202.4 206.2h0" stroke="#2d8cf3" stroke-width="1.6" stroke-linecap="round"/>
<path d="M214.3 193.2h0M222.5 187.9h0M218.2 193.9h0M219.2 190.2h0M223.0 187.7h0M222.1 191.0h0M218.6 190.2h0M217.9 191.5h0M215.6 195.9h0M212.6 192.6h0M223.5 191.1h0M224.4 186.7h0M221.5 192.4h0M218.9 194.2h0M217.6 193.2h0" stroke="#02bac3" stroke-width="1.6" stroke-linecap="round"/>
<path d="M223.1 186.4h0M225.7 189.4h0M218.2 191.1h0M221.7 186.8h0M211.3 196.4h0M218.8 189.3h0M215.3 190.8h0M230.9 183.8h0" stroke="#19bfb6" stroke-width="1.6" stroke-linecap="round"/>
<path d="M186.4 218.3h0M188.7 218.1h0M178.2 222.9h0M183.6 219.7h0M182.9 217.1h0M177.6 221.3h0" stroke="#4332cb" stroke-width="1.6" stroke-linecap="round"/>
<path d="M239.0 178.7h0M234.7 170.2h0" stroke="#f7dc2a" stroke-width="1.6" stroke-linecap="round"/>
<path d="M184.4 215.1h0M183.6 217.1h0M190.5 211.6h0M191.4 215.0h0M192.5 215.2h0M182.9 220.0h0M190.9 210.6h0" stroke="#4852f4" stroke-width="1.6" stroke-linecap="round"/>
<path d="M202.0 211.4h0" stroke="#4747eb" stroke-width="1.5" stroke-linecap="round"/>
<path d="M220.8 197.6h0M265.2 170.3h0" stroke="#fec934" stroke-width="1.5" stroke-linecap="round"/>
<path d="M186.7 219.0h0M184.3 220.2h0M183.7 221.4h0M182.8 219.5h0" stroke="#402ab4" stroke-width="1.6" stroke-linecap="round"/>
<path d="M232.4 173.8h0M242.7 176.8h0M243.5 178.5h0M241.8 161.8h0M240.0 160.4h0" stroke="#d1bf27" stroke-width="1.7" stroke-linecap="round"/>
<path d="M206.2 199.6h0M233.1 177.0h0M240.3 167.9h0M229.5 176.2h0M236.5 172.8h0M228.9 183.7h0" stroke="#f0ba36" stroke-width="1.6" stroke-linecap="round"/>
<path d="M242.9 179.3h0M236.2 168.0h0M245.5 168.9h0M245.9 171.9h0M233.8 178.1h0M246.6 166.7h0M251.8 163.9h0" stroke="#f0ba36" stroke-width="1.7" stroke-linecap="round"/>
<path d="M248.9 171.0h0M242.2 172.1h0" stroke="#f8ba3d" stroke-width="1.7" stroke-linecap="round"/>
<path d="M192.4 215.5h0M189.9 217.0h0" stroke="#4758f8" stroke-width="1.5" stroke-linecap="round"/>
<path d="M197.1 206.3h0M198.7 208.7h0M201.9 207.8h0" stroke="#2f81fa" stroke-width="1.6" stroke-linecap="round"/>
<path d="M239.2 179.1h0M235.6 171.9h0M239.5 167.8h0M245.2 175.2h0" stroke="#dcbd29" stroke-width="1.7" stroke-linecap="round"/>
<path d="M220.8 193.9h0M205.7 202.4h0M203.3 201.3h0" stroke="#23a0e5" stroke-width="1.6" stroke-linecap="round"/>
<path d="M212.7 192.2h0M221.0 189.1h0M211.0 198.0h0M205.6 198.7h0M206.8 198.3h0M212.0 195.8h0" stroke="#12b1d6" stroke-width="1.6" stroke-linecap="round"/>
<path d="M233.3 177.3h0M231.9 177.5h0" stroke="#d1bf27" stroke-width="1.6" stroke-linecap="round"/>
<path d="M225.9 188.2h0M222.1 189.3h0M221.4 184.9h0M224.1 189.8h0M224.6 185.9h0M226.4 185.4h0M227.1 182.1h0M221.2 189.5h0M223.2 184.5h0M218.7 192.2h0M226.3 184.2h0M226.9 189.6h0" stroke="#24c1ae" stroke-width="1.6" stroke-linecap="round"/>
<path d="M222.3 188.1h0M217.9 195.4h0M218.8 192.2h0M210.9 194.1h0M207.0 198.3h0M212.9 195.7h0M210.4 194.8h0M215.3 197.1h0M213.7 194.4h0M220.3 191.9h0" stroke="#08b5d0" stroke-width="1.6" stroke-linecap="round"/>
<path d="M183.7 218.6h0M178.9 221.0h0M187.9 218.7h0M179.9 221.2h0M192.5 214.5h0M176.8 221.7h0" stroke="#4537d5" stroke-width="1.6" stroke-linecap="round"/>
<path d="M213.6 203.2h0M210.1 203.7h0" stroke="#4acb84" stroke-width="1.5" stroke-linecap="round"/>
<path d="M228.2 179.4h0M229.1 179.9h0M237.6 177.9h0M233.3 179.7h0M245.7 184.4h0M237.0 177.2h0M230.7 179.0h0M234.1 175.8h0M240.4 179.3h0M228.1 182.9h0" stroke="#4acb84" stroke-width="1.6" stroke-linecap="round"/>
<path d="M268.7 172.6h0M254.6 164.6h0M249.4 170.3h0M262.2 166.4h0M262.5 170.9h0" stroke="#f7dc2a" stroke-width="1.5" stroke-linecap="round"/>
<path d="M238.1 168.4h0M242.0 175.7h0M239.2 176.8h0M241.9 170.6h0M234.4 172.3h0M238.7 173.7h0M239.7 176.0h0M235.3 175.2h0M241.3 175.6h0" stroke="#8fcb4e" stroke-width="1.6" stroke-linecap="round"/>
<path d="M202.8 196.8h0M202.6 198.2h0M228.2 179.2h0M229.2 176.8h0M240.9 172.0h0M230.4 180.6h0M233.6 176.6h0M226.4 178.3h0M203.5 199.7h0" stroke="#febe3c" stroke-width="1.6" stroke-linecap="round"/>
<path d="M243.9 176.0h0M236.6 177.6h0M255.5 164.3h0M241.0 178.6h0" stroke="#febe3c" stroke-width="1.7" stroke-linecap="round"/>
<path d="M216.3 196.8h0M208.5 200.0h0M208.1 198.7h0M207.6 197.4h0M210.2 198.5h0" stroke="#1ca9df" stroke-width="1.6" stroke-linecap="round"/>
<path d="M272.1 173.2h0M251.4 169.3h0M261.2 171.1h0M269.1 171.0h0" stroke="#fccf30" stroke-width="1.5" stroke-linecap="round"/>
<path d="M238.7 169.3h0" stroke="#abc739" stroke-width="1.6" stroke-linecap="round"/>
<path d="M242.5 163.1h0M241.3 161.2h0M241.7 169.2h0" stroke="#fccf30" stroke-width="1.7" stroke-linecap="round"/>
<path d="M239.1 176.1h0" stroke="#b9c431" stroke-width="1.6" stroke-linecap="round"/>
<path d="M239.8 199.5h0M240.3 175.0h0M237.2 174.2h0" stroke="#9dc943" stroke-width="1.6" stroke-linecap="round"/>
<path d="M248.3 174.2h0M241.9 173.8h0" stroke="#f5e327" stroke-width="1.7" stroke-linecap="round"/>
<path d="M241.8 174.2h0M245.8 170.7h0M228.5 180.5h0M241.9 163.3h0" stroke="#fec338" stroke-width="1.7" stroke-linecap="round"/>
<path d="M240.6 168.8h0" stroke="#c5c22a" stroke-width="1.6" stroke-linecap="round"/>
<path d="M253.5 170.0h0M237.0 174.7h0" stroke="#e6bb2d" stroke-width="1.7" stroke-linecap="round"/>
<path d="M228.9 176.2h0M231.0 182.4h0M239.4 173.4h0M238.7 181.0h0M237.4 169.9h0M236.8 180.4h0" stroke="#81cc59" stroke-width="1.6" stroke-linecap="round"/>
<path d="M205.2 199.9h0M213.0 199.8h0M206.2 202.6h0M211.7 200.0h0M208.7 199.3h0M205.4 201.3h0M207.2 200.0h0" stroke="#20a5e3" stroke-width="1.6" stroke-linecap="round"/>
<path d="M194.0 208.1h0M192.9 212.4h0M195.5 207.8h0M198.2 210.9h0M193.5 212.1h0" stroke="#4269fe" stroke-width="1.6" stroke-linecap="round"/>
<path d="M180.6 219.3h0M179.7 221.7h0M186.3 219.9h0M182.5 219.6h0M180.3 219.8h0M183.7 221.6h0" stroke="#3e26a8" stroke-width="1.6" stroke-linecap="round"/>
<path d="M229.7 184.9h0M231.3 183.1h0M235.8 173.5h0" stroke="#e6bb2d" stroke-width="1.6" stroke-linecap="round"/>
<path d="M263.7 169.5h0M257.3 168.8h0M220.7 194.6h0" stroke="#febe3c" stroke-width="1.5" stroke-linecap="round"/>
<path d="M202.3 202.6h0M202.0 202.8h0M207.6 200.7h0M202.6 202.6h0M207.7 201.2h0" stroke="#2797eb" stroke-width="1.6" stroke-linecap="round"/>
<path d="M237.1 180.7h0M232.0 199.5h0M204.8 198.7h0M227.3 188.4h0M234.4 171.9h0M202.8 196.8h0M231.3 174.5h0M203.3 198.5h0" stroke="#fec338" stroke-width="1.6" stroke-linecap="round"/>
<path d="M175.9 222.4h0M192.0 216.7h0M178.7 221.1h0M185.0 217.4h0M189.5 214.9h0M185.4 220.6h0M186.4 216.2h0M189.1 217.7h0M181.4 217.9h0" stroke="#463cde" stroke-width="1.6" stroke-linecap="round"/>
<path d="M254.8 166.3h0M237.2 162.5h0M230.0 183.2h0M227.3 182.0h0M249.4 160.3h0M239.4 167.6h0" stroke="#fec934" stroke-width="1.7" stroke-linecap="round"/>
<path d="M232.8 182.5h0M235.4 172.2h0M233.9 171.7h0" stroke="#fad62d" stroke-width="1.6" stroke-linecap="round"/>
<path d="M187.1 213.5h0M191.1 211.2h0M196.7 212.2h0M194.2 209.7h0M185.1 214.6h0M189.4 212.8h0M188.4 213.0h0" stroke="#465efb" stroke-width="1.6" stroke-linecap="round"/>
<path d="M249.5 163.1h0M244.4 176.7h0M230.2 183.6h0" stroke="#abc739" stroke-width="1.7" stroke-linecap="round"/>
<path d="M201.3 206.7h0M201.0 203.1h0M200.6 209.5h0" stroke="#327cfc" stroke-width="1.6" stroke-linecap="round"/>
<path d="M230.4 185.9h0M221.9 184.9h0M222.1 187.7h0M229.5 181.9h0M233.6 184.6h0" stroke="#31c69f" stroke-width="1.6" stroke-linecap="round"/>
<path d="M229.5 183.1h0M227.0 186.0h0M224.2 184.9h0M230.0 181.8h0M226.8 188.4h0M231.2 181.1h0M220.7 188.3h0M226.6 185.8h0M230.7 183.8h0M219.8 190.1h0M233.5 182.5h0M227.6 184.7h0M217.9 188.3h0M223.1 186.8h0M226.5 181.3h0M228.1 187.5h0M223.9 187.0h0M218.6 186.4h0" stroke="#2cc4a7" stroke-width="1.6" stroke-linecap="round"/>
<path d="M220.6 196.3h0M254.4 164.5h0M261.3 172.5h0M266.1 170.5h0M270.4 174.8h0" stroke="#f8ba3d" stroke-width="1.5" stroke-linecap="round"/>
<path d="M233.7 173.3h0M231.7 173.9h0M236.9 181.8h0M235.8 177.3h0M233.2 174.6h0M240.6 177.0h0M238.1 174.4h0" stroke="#72cd64" stroke-width="1.6" stroke-linecap="round"/>
<path d="M267.1 164.1h0" stroke="#f5e327" stroke-width="1.5" stroke-linecap="round"/>
<path d="M205.4 199.0h0M209.2 202.3h0M204.2 203.6h0M205.3 205.7h0M206.3 203.1h0M207.6 201.5h0M203.7 201.8h0M203.7 203.0h0M208.9 201.6h0M204.6 202.7h0M203.4 200.6h0M201.8 202.8h0" stroke="#259be8" stroke-width="1.6" stroke-linecap="round"/>
<path d="M214.1 196.8h0M213.5 195.6h0M209.5 199.3h0M212.3 195.2h0M213.6 196.3h0" stroke="#18addb" stroke-width="1.6" stroke-linecap="round"/>
<path d="M187.5 216.8h0M184.0 217.9h0M183.2 216.7h0M179.9 219.4h0M188.8 217.5h0M186.7 213.4h0M192.9 215.1h0M189.7 215.2h0" stroke="#4741e5" stroke-width="1.6" stroke-linecap="round"/>
<path d="M199.6 206.9h0M198.6 208.5h0M196.9 208.3h0M197.7 206.5h0" stroke="#3e6fff" stroke-width="1.6" stroke-linecap="round"/>
<path d="M183.3 220.4h0M177.0 222.9h0M183.6 218.4h0" stroke="#422ec0" stroke-width="1.6" stroke-linecap="round"/>
<path d="M192.6 209.4h0M187.8 212.9h0M193.9 212.0h0M191.9 214.3h0M183.5 215.6h0M198.0 211.5h0M192.3 213.4h0" stroke="#4758f8" stroke-width="1.6" stroke-linecap="round"/>
<path d="M201.5 201.7h0M202.9 203.8h0M208.5 202.1h0M199.6 202.9h0M201.8 204.2h0" stroke="#2b91ef" stroke-width="1.6" stroke-linecap="round"/>
<path d="M189.9 213.1h0M185.0 215.7h0M184.5 217.7h0M177.9 220.5h0M192.9 210.9h0M185.8 219.2h0M184.8 216.2h0M188.7 213.3h0M185.3 219.5h0M191.1 216.9h0" stroke="#4747eb" stroke-width="1.6" stroke-linecap="round"/>
<path d="M194.0 212.7h0M198.1 205.0h0M201.7 208.2h0M196.7 213.1h0M200.7 209.5h0" stroke="#3875fe" stroke-width="1.6" stroke-linecap="round"/>
<path d="M255.0 168.1h0M250.3 166.5h0M265.6 169.1h0M265.7 169.8h0M269.0 172.0h0" stroke="#fec338" stroke-width="1.5" stroke-linecap="round"/>
<path d="M224.0 191.2h0M208.5 197.7h0M213.6 194.1h0M215.8 190.2h0" stroke="#01b8ca" stroke-width="1.6" stroke-linecap="round"/>
<path d="M236.7 160.8h0M243.8 170.2h0M248.7 164.4h0M241.6 175.4h0" stroke="#72cd64" stroke-width="1.7" stroke-linecap="round"/>
<path d="M187.0 215.4h0M191.6 214.5h0M186.3 214.7h0M184.5 218.3h0M182.2 216.7h0M189.2 212.8h0" stroke="#484df0" stroke-width="1.6" stroke-linecap="round"/>
<path d="M230.1 182.8h0M253.9 165.4h0" stroke="#9dc943" stroke-width="1.7" stroke-linecap="round"/>
<path d="M249.3 162.0h0" stroke="#f7dc2a" stroke-width="1.7" stroke-linecap="round"/>
<path d="M238.9 174.0h0M236.9 177.6h0M241.2 172.0h0M236.0 177.6h0M234.2 177.1h0M238.6 174.2h0" stroke="#dcbd29" stroke-width="1.6" stroke-linecap="round"/>
<path d="M192.7 209.3h0M194.3 209.0h0M194.0 212.7h0M189.8 210.7h0M188.2 212.9h0" stroke="#4563fd" stroke-width="1.6" stroke-linecap="round"/>
<path d="M232.5 179.6h0M236.4 182.4h0M227.1 184.2h0M258.5 184.9h0M229.9 176.7h0M227.7 179.4h0M227.3 184.3h0" stroke="#3fca8e" stroke-width="1.6" stroke-linecap="round"/>
<path d="M202.1 204.7h0M197.3 206.5h0M197.7 204.3h0M200.0 203.2h0M198.6 208.1h0M204.1 205.5h0" stroke="#2e87f7" stroke-width="1.6" stroke-linecap="round"/>
<path d="M252.8 172.0h0M272.9 173.6h0M260.8 168.8h0M259.6 170.6h0M260.8 167.9h0M273.8 173.0h0" stroke="#fad62d" stroke-width="1.5" stroke-linecap="round"/>
<path d="M256.2 163.2h0M217.7 195.4h0" stroke="#f0ba36" stroke-width="1.5" stroke-linecap="round"/>
<path d="M240.9 170.2h0M236.2 175.1h0" stroke="#fec934" stroke-width="1.6" stroke-linecap="round"/>
<path d="M233.1 180.8h0M234.2 184.1h0M224.3 182.0h0M231.5 185.7h0M234.0 182.3h0M231.0 179.7h0M225.1 185.8h0M235.6 183.3h0M228.6 184.4h0M231.1 180.0h0M226.2 178.5h0M231.4 184.9h0" stroke="#37c897" stroke-width="1.6" stroke-linecap="round"/>
<path d="M228.9 178.4h0M229.2 177.7h0M232.4 179.1h0M233.8 175.6h0M233.5 178.1h0M231.9 173.3h0M238.6 176.0h0M228.6 177.9h0" stroke="#57cc7a" stroke-width="1.6" stroke-linecap="round"/>
<path d="M225.3 187.5h0M211.9 194.3h0M208.0 196.8h0M218.2 193.1h0M219.9 194.5h0M218.9 193.6h0M219.9 191.8h0M217.3 196.5h0M218.8 188.6h0M209.9 195.7h0M210.9 193.8h0" stroke="#0bbdbd" stroke-width="1.6" stroke-linecap="round"/>
<path d="M262.3 167.9h0" stroke="#f5e924" stroke-width="1.5" stroke-linecap="round"/>
<path d="M238.8 178.1h0" stroke="#8fcb4e" stroke-width="1.7" stroke-linecap="round"/>
<path d="M217.4 204.5h0M224.3 202.5h0" stroke="#31c69f" stroke-width="1.5" stroke-linecap="round"/>
<path d="M237.6 169.4h0M240.6 175.0h0M246.4 174.4h0" stroke="#fad62d" stroke-width="1.7" stroke-linecap="round"/>
<path d="M236.8 178.8h0M240.5 172.4h0M235.5 173.2h0M207.1 197.6h0M234.9 179.0h0M235.1 180.0h0M230.7 182.5h0M199.8 201.3h0" stroke="#f8ba3d" stroke-width="1.6" stroke-linecap="round"/>
<path d="M238.4 169.0h0M235.2 172.0h0M249.5 164.0h0M244.0 161.8h0M241.1 171.5h0M241.6 158.5h0M236.2 183.5h0M233.6 183.0h0M230.7 172.1h0" stroke="#fccf30" stroke-width="1.7" stroke-linecap="round"/>
<path d="M222.3 190.4h0M223.1 188.5h0M220.7 194.1h0M215.9 194.6h0M225.0 189.9h0M214.9 192.0h0M221.3 188.9h0M221.7 189.3h0M223.2 190.4h0M217.6 190.5h0M211.8 196.5h0" stroke="#01b8ca" stroke-width="1.6" stroke-linecap="round"/>
<path d="M217.9 196.9h0" stroke="#f8ba3d" stroke-width="1.5" stroke-linecap="round"/>
<path d="M223.9 188.9h0M219.5 187.4h0M222.9 183.4h0M223.0 186.8h0M228.8 185.8h0M224.3 185.1h0M213.8 191.2h0M221.6 192.2h0M218.4 187.6h0M220.9 185.7h0M226.5 185.9h0" stroke="#19bfb6" stroke-width="1.6" stroke-linecap="round"/>
<path d="M228.7 182.9h0M221.5 183.3h0M221.1 185.6h0M229.7 179.6h0M225.4 187.4h0M236.1 179.2h0M231.1 175.2h0M228.0 177.8h0M232.6 181.6h0" stroke="#3fca8e" stroke-width="1.6" stroke-linecap="round"/>
<path d="M231.0 173.5h0M241.8 166.7h0M241.8 178.7h0M239.7 167.5h0M227.6 179.6h0M236.1 172.9h0M240.0 167.3h0" stroke="#d1bf27" stroke-width="1.6" stroke-linecap="round"/>
<path d="M185.6 214.2h0M185.3 216.4h0M180.0 220.3h0M194.1 214.2h0M185.0 215.7h0M184.5 216.5h0" stroke="#4747eb" stroke-width="1.6" stroke-linecap="round"/>
<path d="M237.7 175.0h0M234.2 176.2h0M233.8 174.0h0" stroke="#fec934" stroke-width="1.6" stroke-linecap="round"/>
<path d="M242.9 162.9h0M234.3 170.1h0M248.5 166.3h0" stroke="#f8ba3d" stroke-width="1.7" stroke-linecap="round"/>
<path d="M241.8 172.7h0M236.8 170.9h0M241.9 176.9h0" stroke="#8fcb4e" stroke-width="1.6" stroke-linecap="round"/>
<path d="M199.2 209.5h0M192.5 209.3h0M194.9 207.9h0M198.9 206.9h0M198.4 211.3h0M196.2 208.6h0M196.0 209.1h0M197.5 208.9h0" stroke="#3e6fff" stroke-width="1.6" stroke-linecap="round"/>
<path d="M209.6 198.5h0M212.7 200.0h0M214.4 197.8h0M205.6 202.2h0" stroke="#20a5e3" stroke-width="1.6" stroke-linecap="round"/>
<path d="M185.5 215.0h0M192.4 215.1h0M181.4 217.7h0M190.1 215.2h0M192.1 216.2h0M191.7 212.5h0M185.5 216.5h0M186.3 220.0h0M183.9 217.6h0M184.3 216.5h0" stroke="#4741e5" stroke-width="1.6" stroke-linecap="round"/>
<path d="M223.0 182.1h0M218.0 189.8h0M229.0 187.3h0M224.5 187.9h0M234.1 179.6h0M224.2 187.7h0M219.4 188.7h0M232.9 185.1h0M226.7 181.3h0M219.4 186.2h0M227.8 184.8h0" stroke="#2cc4a7" stroke-width="1.6" stroke-linecap="round"/>
<path d="M238.2 174.0h0M231.2 178.4h0M225.7 180.0h0M230.0 182.8h0M236.7 179.1h0M234.7 178.9h0M235.9 183.1h0M229.2 178.0h0M237.4 178.2h0" stroke="#64cd6f" stroke-width="1.6" stroke-linecap="round"/>
<path d="M203.3 206.1h0M196.3 208.4h0M195.8 209.9h0" stroke="#3875fe" stroke-width="1.6" stroke-linecap="round"/>
<path d="M200.2 202.2h0M203.4 202.8h0M210.9 200.6h0M201.5 205.4h0M202.5 204.7h0M205.4 202.1h0M200.4 202.6h0" stroke="#2797eb" stroke-width="1.6" stroke-linecap="round"/>
<path d="M249.2 165.2h0" stroke="#72cd64" stroke-width="1.7" stroke-linecap="round"/>
<path d="M246.5 162.1h0" stroke="#abc739" stroke-width="1.7" stroke-linecap="round"/>
<path d="M203.0 207.2h0M204.2 205.4h0M203.6 203.3h0M206.0 204.0h0M196.6 206.0h0M201.0 203.9h0" stroke="#2b91ef" stroke-width="1.6" stroke-linecap="round"/>
<path d="M199.6 204.0h0M200.2 203.6h0" stroke="#2d8cf3" stroke-width="1.6" stroke-linecap="round"/>
<path d="M184.4 220.7h0M181.6 219.3h0M182.9 221.7h0M181.6 218.6h0M193.0 215.4h0M184.1 220.7h0" stroke="#4332cb" stroke-width="1.6" stroke-linecap="round"/>
<path d="M232.5 178.4h0" stroke="#fad62d" stroke-width="1.6" stroke-linecap="round"/>
<path d="M214.6 196.8h0M215.2 193.5h0M213.7 197.8h0M216.1 192.9h0M217.1 194.8h0M215.8 194.9h0M226.7 189.0h0M214.9 193.9h0M213.4 197.3h0M216.4 195.7h0" stroke="#08b5d0" stroke-width="1.6" stroke-linecap="round"/>
<path d="M178.9 221.9h0M182.7 220.4h0M179.0 221.6h0" stroke="#3e26a8" stroke-width="1.6" stroke-linecap="round"/>
<path d="M228.6 183.2h0M237.8 178.7h0M236.4 174.7h0M234.3 183.9h0M238.8 178.3h0M235.8 183.1h0M226.1 179.1h0" stroke="#57cc7a" stroke-width="1.6" stroke-linecap="round"/>
<path d="M187.3 215.9h0M193.3 209.9h0M186.7 218.0h0M191.5 213.1h0" stroke="#4852f4" stroke-width="1.6" stroke-linecap="round"/>
<path d="M217.9 205.1h0" stroke="#24c1ae" stroke-width="1.5" stroke-linecap="round"/>
<path d="M238.9 169.1h0M201.0 199.2h0M238.3 168.8h0M238.3 169.5h0M233.5 176.0h0M206.8 198.8h0M240.3 169.9h0M240.2 175.8h0" stroke="#f8ba3d" stroke-width="1.6" stroke-linecap="round"/>
<path d="M204.7 203.9h0M207.7 201.1h0M202.8 202.7h0M211.3 199.3h0" stroke="#259be8" stroke-width="1.6" stroke-linecap="round"/>
<path d="M286.0 169.0h0M215.1 196.3h0M229.7 198.0h0M265.0 168.0h0M281.0 178.0h0M276.0 174.0h0M254.3 167.8h0" stroke="#fec338" stroke-width="1.5" stroke-linecap="round"/>
<path d="M191.1 216.9h0" stroke="#4747eb" stroke-width="1.5" stroke-linecap="round"/>
<path d="M255.4 174.5h0" stroke="#dcbd29" stroke-width="1.5" stroke-linecap="round"/>
<path d="M232.7 183.4h0M251.3 161.3h0M231.1 184.8h0M239.9 162.2h0" stroke="#e6bb2d" stroke-width="1.7" stroke-linecap="round"/>
<path d="M234.3 172.0h0M232.1 173.1h0M233.0 171.9h0M240.8 177.6h0" stroke="#72cd64" stroke-width="1.6" stroke-linecap="round"/>
<path d="M274.1 167.5h0M272.9 167.4h0" stroke="#fad62d" stroke-width="1.5" stroke-linecap="round"/>
<path d="M233.1 182.7h0M227.4 182.2h0M229.5 183.3h0M227.4 180.1h0M216.7 188.6h0M222.1 184.6h0M224.2 184.5h0M235.6 180.9h0" stroke="#31c69f" stroke-width="1.6" stroke-linecap="round"/>
<path d="M232.4 172.4h0M249.9 159.6h0M248.6 161.4h0M231.4 181.4h0" stroke="#febe3c" stroke-width="1.7" stroke-linecap="round"/>
<path d="M247.3 172.5h0M248.8 166.2h0M232.1 178.0h0M230.4 169.6h0M239.5 170.5h0" stroke="#d1bf27" stroke-width="1.7" stroke-linecap="round"/>
<path d="M196.4 209.7h0M194.9 208.9h0M191.7 210.5h0M194.5 211.2h0" stroke="#4269fe" stroke-width="1.6" stroke-linecap="round"/>
<path d="M240.4 168.5h0M231.4 180.6h0M205.6 196.6h0M242.0 168.1h0" stroke="#f0ba36" stroke-width="1.6" stroke-linecap="round"/>
<path d="M185.2 216.7h0M184.3 215.4h0M186.6 217.4h0M191.4 213.8h0M187.0 218.6h0M189.6 216.6h0M183.7 218.5h0M185.3 218.6h0" stroke="#463cde" stroke-width="1.6" stroke-linecap="round"/>
<path d="M242.9 176.2h0M230.8 176.6h0M237.4 168.8h0" stroke="#f7dc2a" stroke-width="1.7" stroke-linecap="round"/>
<path d="M236.3 173.9h0M202.0 198.2h0M202.5 197.0h0M238.7 173.7h0M229.7 185.2h0" stroke="#febe3c" stroke-width="1.6" stroke-linecap="round"/>
<path d="M182.7 221.4h0M183.1 220.7h0M177.0 222.3h0" stroke="#422ec0" stroke-width="1.6" stroke-linecap="round"/>
<path d="M219.4 202.5h0M216.7 205.4h0" stroke="#57cc7a" stroke-width="1.5" stroke-linecap="round"/>
<path d="M249.6 166.0h0M246.7 161.3h0M234.4 182.6h0M240.8 168.0h0M248.0 170.4h0" stroke="#f0ba36" stroke-width="1.7" stroke-linecap="round"/>
<path d="M264.9 170.2h0M250.3 164.3h0" stroke="#f0ba36" stroke-width="1.5" stroke-linecap="round"/>
<path d="M197.2 206.9h0M199.1 205.6h0M199.1 206.6h0M198.8 208.0h0" stroke="#327cfc" stroke-width="1.6" stroke-linecap="round"/>
<path d="M220.3 202.0h0" stroke="#4acb84" stroke-width="1.5" stroke-linecap="round"/>
<path d="M237.7 169.3h0M232.3 183.7h0M237.0 169.5h0M228.4 183.7h0M237.6 180.3h0M237.9 173.7h0M239.8 169.2h0M230.9 175.3h0M238.2 179.5h0" stroke="#fccf30" stroke-width="1.6" stroke-linecap="round"/>
<path d="M240.1 169.7h0M240.3 168.6h0M239.9 172.3h0M235.0 171.4h0M232.7 181.9h0M233.7 180.9h0" stroke="#dcbd29" stroke-width="1.6" stroke-linecap="round"/>
<path d="M212.5 195.4h0M216.4 195.0h0M211.6 196.7h0M207.7 197.9h0M214.7 196.7h0M208.3 198.3h0M216.0 197.1h0" stroke="#18addb" stroke-width="1.6" stroke-linecap="round"/>
<path d="M196.8 214.6h0" stroke="#463cde" stroke-width="1.5" stroke-linecap="round"/>
<path d="M240.5 168.0h0M249.6 171.7h0M247.3 172.3h0" stroke="#8fcb4e" stroke-width="1.7" stroke-linecap="round"/>
<path d="M262.3 167.7h0M257.5 164.9h0M265.4 162.7h0M271.0 168.5h0" stroke="#febe3c" stroke-width="1.5" stroke-linecap="round"/>
<path d="M241.1 177.3h0M239.9 173.6h0M240.9 175.3h0M238.5 172.6h0" stroke="#abc739" stroke-width="1.6" stroke-linecap="round"/>
<path d="M234.3 180.5h0M206.5 196.9h0M228.4 182.4h0M232.3 173.7h0M206.0 196.8h0M228.0 180.2h0M233.3 176.6h0" stroke="#fec338" stroke-width="1.6" stroke-linecap="round"/>
<path d="M231.1 180.8h0M217.4 189.9h0M224.6 189.9h0M225.5 187.2h0M226.0 188.0h0M225.9 189.6h0M220.9 188.9h0M224.9 186.8h0M228.3 185.9h0M227.1 184.5h0M225.9 188.9h0M219.0 186.9h0" stroke="#24c1ae" stroke-width="1.6" stroke-linecap="round"/>
<path d="M198.6 209.5h0M195.1 211.6h0M194.3 211.4h0M195.1 211.9h0" stroke="#4563fd" stroke-width="1.6" stroke-linecap="round"/>
<path d="M195.4 211.1h0M194.2 210.1h0M192.2 211.4h0M197.0 207.8h0M196.1 208.3h0M187.8 213.5h0M199.6 209.3h0M194.8 208.9h0M197.9 212.1h0M194.1 213.9h0" stroke="#465efb" stroke-width="1.6" stroke-linecap="round"/>
<path d="M220.1 192.7h0M219.5 186.8h0M223.7 188.7h0M219.3 193.7h0M217.1 193.2h0M214.5 191.7h0M229.6 183.7h0M227.7 185.0h0M218.8 186.4h0M214.1 192.8h0M224.3 189.4h0M219.5 190.3h0M223.1 190.7h0M219.3 195.2h0M219.4 186.0h0" stroke="#0bbdbd" stroke-width="1.6" stroke-linecap="round"/>
<path d="M268.8 171.2h0" stroke="#f7dc2a" stroke-width="1.5" stroke-linecap="round"/>
<path d="M219.6 205.0h0" stroke="#64cd6f" stroke-width="1.5" stroke-linecap="round"/>
<path d="M203.9 202.9h0M203.2 200.8h0M204.5 203.8h0M203.6 199.8h0M212.6 198.0h0M204.1 206.3h0" stroke="#23a0e5" stroke-width="1.6" stroke-linecap="round"/>
<path d="M241.1 175.2h0" stroke="#9dc943" stroke-width="1.6" stroke-linecap="round"/>
<path d="M251.3 166.0h0M244.1 166.2h0M240.3 162.5h0" stroke="#dcbd29" stroke-width="1.7" stroke-linecap="round"/>
<path d="M241.9 178.7h0M242.2 165.9h0" stroke="#c5c22a" stroke-width="1.7" stroke-linecap="round"/>
<path d="M241.8 169.5h0M238.1 169.6h0" stroke="#b9c431" stroke-width="1.6" stroke-linecap="round"/>
<path d="M192.2 214.9h0M187.3 212.6h0M186.3 213.4h0M193.9 211.5h0M196.1 210.0h0M192.3 212.7h0" stroke="#4758f8" stroke-width="1.6" stroke-linecap="round"/>
<path d="M233.1 176.8h0M237.4 175.4h0M237.3 173.4h0M231.7 173.2h0M232.4 174.4h0M237.6 176.2h0M240.1 179.7h0M234.6 171.9h0M229.9 177.1h0M238.7 173.3h0" stroke="#81cc59" stroke-width="1.6" stroke-linecap="round"/>
<path d="M237.5 163.7h0M249.2 161.8h0M239.6 163.5h0M242.3 180.1h0M233.1 176.4h0" stroke="#fec934" stroke-width="1.7" stroke-linecap="round"/>
<path d="M186.3 213.8h0M190.2 217.3h0M190.0 212.3h0M195.2 213.0h0M183.3 217.2h0M176.4 221.8h0M188.7 212.2h0M184.0 216.7h0" stroke="#484df0" stroke-width="1.6" stroke-linecap="round"/>
<path d="M232.9 170.7h0M243.0 169.1h0" stroke="#f5e924" stroke-width="1.7" stroke-linecap="round"/>
<path d="M240.1 172.7h0M227.8 184.7h0M244.0 175.5h0M244.1 165.1h0M249.1 161.1h0M236.3 177.1h0M236.0 176.9h0M231.4 170.7h0" stroke="#fec338" stroke-width="1.7" stroke-linecap="round"/>
<path d="M200.3 205.5h0M197.7 211.0h0M205.5 205.0h0M198.3 203.8h0M196.2 205.9h0M202.7 206.5h0" stroke="#2f81fa" stroke-width="1.6" stroke-linecap="round"/>
<path d="M187.9 218.0h0M182.7 218.2h0M187.0 216.7h0M185.9 217.4h0M177.9 221.6h0M181.6 218.8h0M188.7 218.7h0M183.9 217.6h0" stroke="#4537d5" stroke-width="1.6" stroke-linecap="round"/>
<path d="M204.8 201.9h0M210.4 196.2h0M211.3 200.3h0M202.9 200.4h0M205.4 199.5h0M208.8 200.1h0" stroke="#1ca9df" stroke-width="1.6" stroke-linecap="round"/>
<path d="M235.0 173.4h0M241.2 173.5h0" stroke="#f7dc2a" stroke-width="1.6" stroke-linecap="round"/>
<path d="M190.0 218.5h0" stroke="#4852f4" stroke-width="1.5" stroke-linecap="round"/>
<path d="M234.7 181.6h0M244.9 175.9h0M228.7 180.7h0M233.6 165.8h0" stroke="#9dc943" stroke-width="1.7" stroke-linecap="round"/>
<path d="M181.0 222.2h0M182.9 221.1h0M178.2 222.8h0M187.9 218.3h0" stroke="#402ab4" stroke-width="1.6" stroke-linecap="round"/>
<path d="M200.8 206.6h0M201.9 203.7h0M200.0 204.8h0M199.9 208.8h0" stroke="#2e87f7" stroke-width="1.6" stroke-linecap="round"/>
<path d="M232.8 168.3h0M249.1 166.3h0M251.2 169.4h0M246.2 175.2h0" stroke="#fad62d" stroke-width="1.7" stroke-linecap="round"/>
<path d="M215.9 194.0h0M215.2 198.0h0M214.0 193.6h0M215.9 196.9h0M209.4 197.1h0M213.2 197.3h0M212.4 196.2h0M211.9 196.4h0" stroke="#12b1d6" stroke-width="1.6" stroke-linecap="round"/>
<path d="M251.7 167.5h0M231.4 183.7h0M251.6 163.9h0" stroke="#81cc59" stroke-width="1.7" stroke-linecap="round"/>
<path d="M223.5 189.7h0M223.3 185.9h0M221.9 183.4h0M226.6 182.0h0M229.2 186.2h0" stroke="#37c897" stroke-width="1.6" stroke-linecap="round"/>
<path d="M224.4 180.9h0M234.5 181.7h0M226.0 182.9h0M233.1 176.0h0M230.6 183.2h0M239.3 184.4h0M231.3 180.9h0M238.6 173.1h0M229.1 178.0h0M229.8 179.0h0M233.5 180.2h0M232.0 174.6h0" stroke="#4acb84" stroke-width="1.6" stroke-linecap="round"/>
<path d="M208.1 196.7h0M218.8 192.0h0M216.9 193.3h0M220.9 193.0h0M218.5 194.2h0M216.4 193.1h0M222.2 192.9h0M218.9 192.3h0M223.1 190.2h0M223.3 186.3h0M216.4 189.2h0M213.6 194.9h0M221.9 187.8h0M216.7 187.8h0" stroke="#02bac3" stroke-width="1.6" stroke-linecap="round"/>
<path d="M200.1 196.9h0M236.4 169.8h0M240.2 169.4h0" stroke="#e6bb2d" stroke-width="1.6" stroke-linecap="round"/>
<rect x="173.6" y="138.2" width="119.70" height="86.00" fill="none" stroke="#8c8c8c" stroke-width="0.7"/>
<line x1="173.60" y1="224.2" x2="173.60" y2="223.0" stroke="#777" stroke-width="0.6"/>
<line x1="173.60" y1="138.2" x2="173.60" y2="139.39999999999998" stroke="#777" stroke-width="0.6"/>
<line x1="210.26" y1="224.2" x2="210.26" y2="223.0" stroke="#777" stroke-width="0.6"/>
<line x1="210.26" y1="138.2" x2="210.26" y2="139.39999999999998" stroke="#777" stroke-width="0.6"/>
<line x1="246.92" y1="224.2" x2="246.92" y2="223.0" stroke="#777" stroke-width="0.6"/>
<line x1="246.92" y1="138.2" x2="246.92" y2="139.39999999999998" stroke="#777" stroke-width="0.6"/>
<line x1="283.58" y1="224.2" x2="283.58" y2="223.0" stroke="#777" stroke-width="0.6"/>
<line x1="283.58" y1="138.2" x2="283.58" y2="139.39999999999998" stroke="#777" stroke-width="0.6"/>
<line x1="173.6" y1="224.20" x2="174.79999999999998" y2="224.20" stroke="#777" stroke-width="0.6"/>
<line x1="293.3" y1="224.20" x2="292.1" y2="224.20" stroke="#777" stroke-width="0.6"/>
<line x1="173.6" y1="211.09" x2="174.79999999999998" y2="211.09" stroke="#777" stroke-width="0.6"/>
<line x1="293.3" y1="211.09" x2="292.1" y2="211.09" stroke="#777" stroke-width="0.6"/>
<line x1="173.6" y1="197.98" x2="174.79999999999998" y2="197.98" stroke="#777" stroke-width="0.6"/>
<line x1="293.3" y1="197.98" x2="292.1" y2="197.98" stroke="#777" stroke-width="0.6"/>
<line x1="173.6" y1="184.87" x2="174.79999999999998" y2="184.87" stroke="#777" stroke-width="0.6"/>
<line x1="293.3" y1="184.87" x2="292.1" y2="184.87" stroke="#777" stroke-width="0.6"/>
<line x1="173.6" y1="171.76" x2="174.79999999999998" y2="171.76" stroke="#777" stroke-width="0.6"/>
<line x1="293.3" y1="171.76" x2="292.1" y2="171.76" stroke="#777" stroke-width="0.6"/>
<line x1="173.6" y1="158.65" x2="174.79999999999998" y2="158.65" stroke="#777" stroke-width="0.6"/>
<line x1="293.3" y1="158.65" x2="292.1" y2="158.65" stroke="#777" stroke-width="0.6"/>
<line x1="173.6" y1="145.54" x2="174.79999999999998" y2="145.54" stroke="#777" stroke-width="0.6"/>
<line x1="293.3" y1="145.54" x2="292.1" y2="145.54" stroke="#777" stroke-width="0.6"/>
<text x="173.60" y="232.50" font-size="6.5" text-anchor="middle" fill="#262626">0</text>
<text x="210.26" y="232.50" font-size="6.5" text-anchor="middle" fill="#262626">1</text>
<text x="246.92" y="232.50" font-size="6.5" text-anchor="middle" fill="#262626">2</text>
<text x="283.58" y="232.50" font-size="6.5" text-anchor="middle" fill="#262626">3</text>
<text x="171.70" y="226.30" font-size="6.5" text-anchor="end" fill="#262626">0</text>
<text x="171.70" y="213.19" font-size="6.5" text-anchor="end" fill="#262626">0.5</text>
<text x="171.70" y="200.08" font-size="6.5" text-anchor="end" fill="#262626">1</text>
<text x="171.70" y="186.97" font-size="6.5" text-anchor="end" fill="#262626">1.5</text>
<text x="171.70" y="173.86" font-size="6.5" text-anchor="end" fill="#262626">2</text>
<text x="171.70" y="160.75" font-size="6.5" text-anchor="end" fill="#262626">2.5</text>
<text x="171.70" y="147.64" font-size="6.5" text-anchor="end" fill="#262626">3</text>
<text x="174.20" y="137.40" font-size="7.0" fill="#555"><tspan>×10</tspan><tspan dy="-2.8" font-size="4.6">-5</tspan></text>
<text x="293.80" y="243.10" font-size="7.0" fill="#555" text-anchor="end"><tspan>×10</tspan><tspan dy="-2.8" font-size="4.6">-5</tspan></text>
<text x="233.45" y="241.50" font-size="6.7" text-anchor="middle" fill="#262626">Actual</text>
<text x="0" y="0" transform="translate(161.00,181.80) rotate(-90)" font-size="7.1" text-anchor="middle" fill="#262626">Predicted</text>
<text x="178.60" y="151.10" font-size="10" font-weight="bold" fill="#000">e)</text>
<text x="234.25" y="133.70" font-size="7.1" font-weight="bold" text-anchor="middle" fill="#000" xml:space="preserve"><tspan>ATR100</tspan><tspan dy="2.9" font-size="5.2">NOx</tspan><tspan dy="-2.9">;  R</tspan><tspan dy="-2.6" font-size="5.3">2</tspan><tspan dy="2.6">: 0.98068</tspan></text>
<line x1="349.56" y1="138.2" x2="349.56" y2="224.2" stroke="#ebebeb" stroke-width="0.6"/>
<line x1="372.32" y1="138.2" x2="372.32" y2="224.2" stroke="#ebebeb" stroke-width="0.6"/>
<line x1="395.09" y1="138.2" x2="395.09" y2="224.2" stroke="#ebebeb" stroke-width="0.6"/>
<line x1="417.85" y1="138.2" x2="417.85" y2="224.2" stroke="#ebebeb" stroke-width="0.6"/>
<line x1="440.61" y1="138.2" x2="440.61" y2="224.2" stroke="#ebebeb" stroke-width="0.6"/>
<line x1="326.8" y1="208.03" x2="446.3" y2="208.03" stroke="#ebebeb" stroke-width="0.6"/>
<line x1="326.8" y1="191.87" x2="446.3" y2="191.87" stroke="#ebebeb" stroke-width="0.6"/>
<line x1="326.8" y1="175.70" x2="446.3" y2="175.70" stroke="#ebebeb" stroke-width="0.6"/>
<line x1="326.8" y1="159.54" x2="446.3" y2="159.54" stroke="#ebebeb" stroke-width="0.6"/>
<line x1="326.8" y1="143.37" x2="446.3" y2="143.37" stroke="#ebebeb" stroke-width="0.6"/>
<line x1="326.8" y1="224.2" x2="446.3" y2="138.2" stroke="#222" stroke-width="1.05"/>
<path d="M417.7 177.4h0M421.0 177.4h0M413.6 184.6h0" stroke="#2797eb" stroke-width="1.9" stroke-linecap="round"/>
<path d="M404.0 184.6h0" stroke="#2d8cf3" stroke-width="1.9" stroke-linecap="round"/>
<path d="M331.6 221.2h0" stroke="#422ec0" stroke-width="1.5" stroke-linecap="round"/>
<path d="M406.0 166.7h0M424.9 166.7h0M397.0 166.7h0M435.6 166.7h0" stroke="#18addb" stroke-width="1.9" stroke-linecap="round"/>
<path d="M330.5 221.2h0M331.6 220.5h0M333.8 217.5h0M332.2 219.6h0" stroke="#4332cb" stroke-width="1.5" stroke-linecap="round"/>
<path d="M337.7 215.7h0" stroke="#484df0" stroke-width="1.5" stroke-linecap="round"/>
<path d="M340.6 214.3h0M330.3 222.1h0M334.4 217.2h0M331.6 220.4h0M341.7 213.8h0M336.1 217.4h0M340.3 214.0h0M335.0 218.3h0M338.7 216.5h0M335.3 218.3h0M335.0 218.1h0M338.2 214.5h0M340.3 213.5h0M336.9 216.5h0M337.7 217.1h0M338.0 216.6h0M340.4 213.6h0M338.5 215.5h0M329.2 222.5h0" stroke="#4741e5" stroke-width="1.5" stroke-linecap="round"/>
<path d="M436.0 157.0h0" stroke="#2cc4a7" stroke-width="1.9" stroke-linecap="round"/>
<path d="M336.7 217.1h0M329.0 223.4h0M328.7 221.7h0M332.0 219.3h0M332.5 219.7h0M332.5 219.4h0M334.2 217.3h0M332.0 219.3h0M329.6 221.2h0M327.2 222.5h0M333.3 219.2h0M338.5 215.5h0" stroke="#463cde" stroke-width="1.5" stroke-linecap="round"/>
<path d="M337.6 214.7h0M336.0 217.9h0M342.1 212.8h0" stroke="#4747eb" stroke-width="1.5" stroke-linecap="round"/>
<path d="M337.3 216.6h0M331.7 220.7h0M329.7 220.7h0M333.4 218.7h0M332.6 220.2h0" stroke="#4537d5" stroke-width="1.5" stroke-linecap="round"/>
<path d="M339.9 214.5h0" stroke="#4741e5" stroke-width="1.4" stroke-linecap="round"/>
<path d="M341.6 213.4h0" stroke="#4747eb" stroke-width="1.4" stroke-linecap="round"/>
<path d="M332.0 220.1h0M331.1 219.7h0M328.9 221.6h0M336.1 216.9h0M332.3 219.1h0M331.9 219.8h0" stroke="#4537d5" stroke-width="1.5" stroke-linecap="round"/>
<path d="M330.6 220.2h0M328.3 223.5h0" stroke="#422ec0" stroke-width="1.5" stroke-linecap="round"/>
<path d="M329.9 220.6h0" stroke="#4332cb" stroke-width="1.5" stroke-linecap="round"/>
<path d="M401.5 184.6h0M399.0 184.6h0" stroke="#2d8cf3" stroke-width="1.9" stroke-linecap="round"/>
<path d="M408.3 166.7h0M412.2 166.7h0M428.8 166.7h0" stroke="#18addb" stroke-width="1.9" stroke-linecap="round"/>
<path d="M415.7 177.4h0" stroke="#2797eb" stroke-width="1.9" stroke-linecap="round"/>
<path d="M341.2 213.8h0M340.6 213.3h0M338.1 215.8h0M337.2 216.0h0M337.1 216.3h0M337.5 215.7h0" stroke="#4747eb" stroke-width="1.5" stroke-linecap="round"/>
<path d="M341.5 214.2h0M341.8 213.6h0M340.1 214.2h0" stroke="#463cde" stroke-width="1.4" stroke-linecap="round"/>
<path d="M341.2 213.6h0M341.7 213.6h0" stroke="#4741e5" stroke-width="1.4" stroke-linecap="round"/>
<path d="M335.0 218.8h0" stroke="#484df0" stroke-width="1.5" stroke-linecap="round"/>
<path d="M336.9 216.7h0M327.9 223.4h0M337.3 216.0h0M338.3 215.3h0M339.5 213.8h0M337.9 216.5h0M339.3 213.7h0" stroke="#4741e5" stroke-width="1.5" stroke-linecap="round"/>
<path d="M446.0 162.3h0M420.0 157.0h0" stroke="#2cc4a7" stroke-width="1.9" stroke-linecap="round"/>
<path d="M331.7 218.8h0M337.8 216.0h0M335.3 217.2h0M335.9 217.5h0M332.3 220.4h0M336.9 217.5h0M328.2 222.2h0M335.8 217.5h0M327.6 223.6h0M336.3 216.5h0M330.1 220.6h0M330.2 221.8h0M339.1 215.5h0M335.6 217.5h0M328.6 222.0h0M337.9 215.8h0M335.9 217.6h0M330.2 221.6h0" stroke="#463cde" stroke-width="1.5" stroke-linecap="round"/>
<path d="M335.6 218.3h0" stroke="#4332cb" stroke-width="1.5" stroke-linecap="round"/>
<path d="M430.3 166.7h0M423.0 166.7h0" stroke="#18addb" stroke-width="1.9" stroke-linecap="round"/>
<path d="M341.5 213.8h0" stroke="#4747eb" stroke-width="1.4" stroke-linecap="round"/>
<path d="M341.4 213.4h0" stroke="#4741e5" stroke-width="1.4" stroke-linecap="round"/>
<path d="M336.0 217.3h0M334.9 216.9h0M342.2 213.8h0M338.6 214.9h0M334.4 218.0h0M333.3 219.6h0M338.4 214.2h0M335.8 216.5h0M340.9 213.9h0M339.6 214.5h0M328.2 223.3h0M327.0 223.2h0M339.5 213.8h0M340.1 213.9h0M331.6 220.9h0M330.2 221.8h0M342.0 213.2h0" stroke="#4741e5" stroke-width="1.5" stroke-linecap="round"/>
<path d="M410.3 173.4h0" stroke="#259be8" stroke-width="1.9" stroke-linecap="round"/>
<path d="M332.3 219.9h0M332.4 220.1h0M330.5 221.4h0M331.9 219.4h0M337.6 215.4h0M328.7 222.4h0M339.5 215.8h0M331.5 220.0h0M331.8 221.3h0M338.5 216.4h0M336.7 216.5h0M337.4 216.4h0" stroke="#463cde" stroke-width="1.5" stroke-linecap="round"/>
<path d="M342.2 213.3h0" stroke="#484df0" stroke-width="1.5" stroke-linecap="round"/>
<path d="M425.9 177.4h0" stroke="#2797eb" stroke-width="1.9" stroke-linecap="round"/>
<path d="M343.1 213.0h0M334.3 218.6h0M334.6 218.0h0" stroke="#4747eb" stroke-width="1.5" stroke-linecap="round"/>
<path d="M427.8 160.9h0" stroke="#31c69f" stroke-width="1.9" stroke-linecap="round"/>
<path d="M332.6 219.9h0" stroke="#422ec0" stroke-width="1.5" stroke-linecap="round"/>
<path d="M330.6 222.0h0M335.3 218.0h0M331.5 219.1h0M336.2 217.0h0M330.5 221.9h0M333.8 218.4h0M327.3 222.8h0M337.5 217.0h0" stroke="#4537d5" stroke-width="1.5" stroke-linecap="round"/>
<path d="M340.3 214.4h0" stroke="#463cde" stroke-width="1.4" stroke-linecap="round"/>
<path d="M400.6 157.0h0M441.4 157.0h0M402.9 160.9h0" stroke="#2cc4a7" stroke-width="1.9" stroke-linecap="round"/>
<rect x="326.8" y="138.2" width="119.50" height="86.00" fill="none" stroke="#8c8c8c" stroke-width="0.7"/>
<line x1="349.56" y1="224.2" x2="349.56" y2="223.0" stroke="#777" stroke-width="0.6"/>
<line x1="349.56" y1="138.2" x2="349.56" y2="139.39999999999998" stroke="#777" stroke-width="0.6"/>
<line x1="372.32" y1="224.2" x2="372.32" y2="223.0" stroke="#777" stroke-width="0.6"/>
<line x1="372.32" y1="138.2" x2="372.32" y2="139.39999999999998" stroke="#777" stroke-width="0.6"/>
<line x1="395.09" y1="224.2" x2="395.09" y2="223.0" stroke="#777" stroke-width="0.6"/>
<line x1="395.09" y1="138.2" x2="395.09" y2="139.39999999999998" stroke="#777" stroke-width="0.6"/>
<line x1="417.85" y1="224.2" x2="417.85" y2="223.0" stroke="#777" stroke-width="0.6"/>
<line x1="417.85" y1="138.2" x2="417.85" y2="139.39999999999998" stroke="#777" stroke-width="0.6"/>
<line x1="440.61" y1="224.2" x2="440.61" y2="223.0" stroke="#777" stroke-width="0.6"/>
<line x1="440.61" y1="138.2" x2="440.61" y2="139.39999999999998" stroke="#777" stroke-width="0.6"/>
<line x1="326.8" y1="208.03" x2="328.0" y2="208.03" stroke="#777" stroke-width="0.6"/>
<line x1="446.3" y1="208.03" x2="445.1" y2="208.03" stroke="#777" stroke-width="0.6"/>
<line x1="326.8" y1="191.87" x2="328.0" y2="191.87" stroke="#777" stroke-width="0.6"/>
<line x1="446.3" y1="191.87" x2="445.1" y2="191.87" stroke="#777" stroke-width="0.6"/>
<line x1="326.8" y1="175.70" x2="328.0" y2="175.70" stroke="#777" stroke-width="0.6"/>
<line x1="446.3" y1="175.70" x2="445.1" y2="175.70" stroke="#777" stroke-width="0.6"/>
<line x1="326.8" y1="159.54" x2="328.0" y2="159.54" stroke="#777" stroke-width="0.6"/>
<line x1="446.3" y1="159.54" x2="445.1" y2="159.54" stroke="#777" stroke-width="0.6"/>
<line x1="326.8" y1="143.37" x2="328.0" y2="143.37" stroke="#777" stroke-width="0.6"/>
<line x1="446.3" y1="143.37" x2="445.1" y2="143.37" stroke="#777" stroke-width="0.6"/>
<text x="349.56" y="232.50" font-size="6.5" text-anchor="middle" fill="#262626">0.5</text>
<text x="372.32" y="232.50" font-size="6.5" text-anchor="middle" fill="#262626">1</text>
<text x="395.09" y="232.50" font-size="6.5" text-anchor="middle" fill="#262626">1.5</text>
<text x="417.85" y="232.50" font-size="6.5" text-anchor="middle" fill="#262626">2</text>
<text x="440.61" y="232.50" font-size="6.5" text-anchor="middle" fill="#262626">2.5</text>
<text x="324.90" y="210.13" font-size="6.5" text-anchor="end" fill="#262626">0.5</text>
<text x="324.90" y="193.97" font-size="6.5" text-anchor="end" fill="#262626">1</text>
<text x="324.90" y="177.80" font-size="6.5" text-anchor="end" fill="#262626">1.5</text>
<text x="324.90" y="161.64" font-size="6.5" text-anchor="end" fill="#262626">2</text>
<text x="324.90" y="145.47" font-size="6.5" text-anchor="end" fill="#262626">2.5</text>
<text x="327.40" y="137.40" font-size="7.0" fill="#555"><tspan>×10</tspan><tspan dy="-2.8" font-size="4.6">-5</tspan></text>
<text x="446.80" y="243.10" font-size="7.0" fill="#555" text-anchor="end"><tspan>×10</tspan><tspan dy="-2.8" font-size="4.6">-5</tspan></text>
<text x="386.55" y="241.50" font-size="6.7" text-anchor="middle" fill="#262626">Actual</text>
<text x="0" y="0" transform="translate(314.20,181.80) rotate(-90)" font-size="7.1" text-anchor="middle" fill="#262626">Predicted</text>
<text x="331.80" y="151.10" font-size="10" font-weight="bold" fill="#000">f)</text>
<text x="387.35" y="133.70" font-size="7.1" font-weight="bold" text-anchor="middle" fill="#000" xml:space="preserve"><tspan>ATR100</tspan><tspan dy="2.9" font-size="5.2">tot,val</tspan><tspan dy="-2.9">;  R</tspan><tspan dy="-2.6" font-size="5.3">2</tspan><tspan dy="2.6">: 0.92848</tspan></text>
<defs><linearGradient id="par" x1="0" y1="1" x2="0" y2="0">
<stop offset="0.000" stop-color="#3e26a8"/>
<stop offset="0.031" stop-color="#422ebf"/>
<stop offset="0.062" stop-color="#4536d5"/>
<stop offset="0.094" stop-color="#4741e5"/>
<stop offset="0.125" stop-color="#484cef"/>
<stop offset="0.156" stop-color="#4757f7"/>
<stop offset="0.188" stop-color="#4562fc"/>
<stop offset="0.219" stop-color="#3f6efe"/>
<stop offset="0.250" stop-color="#347afd"/>
<stop offset="0.281" stop-color="#2e85f8"/>
<stop offset="0.312" stop-color="#2c90f0"/>
<stop offset="0.344" stop-color="#269ae9"/>
<stop offset="0.375" stop-color="#21a3e3"/>
<stop offset="0.406" stop-color="#1aacdd"/>
<stop offset="0.438" stop-color="#0cb3d3"/>
<stop offset="0.469" stop-color="#01b9c6"/>
<stop offset="0.500" stop-color="#12beb9"/>
<stop offset="0.531" stop-color="#28c2ab"/>
<stop offset="0.562" stop-color="#34c79c"/>
<stop offset="0.594" stop-color="#44ca8a"/>
<stop offset="0.625" stop-color="#5ccc76"/>
<stop offset="0.656" stop-color="#77cc60"/>
<stop offset="0.688" stop-color="#94ca4a"/>
<stop offset="0.719" stop-color="#afc637"/>
<stop offset="0.750" stop-color="#c8c129"/>
<stop offset="0.781" stop-color="#debc2a"/>
<stop offset="0.812" stop-color="#f1ba37"/>
<stop offset="0.844" stop-color="#febe3c"/>
<stop offset="0.875" stop-color="#feca33"/>
<stop offset="0.906" stop-color="#f9d62d"/>
<stop offset="0.938" stop-color="#f5e327"/>
<stop offset="0.969" stop-color="#f6ef20"/>
<stop offset="1.000" stop-color="#f9fb15"/>
</linearGradient></defs>
<rect x="461.3" y="14.4" width="7.70" height="214.00" fill="url(#par)" stroke="#8c8c8c" stroke-width="0.6"/>
<line x1="467.80" y1="198.40" x2="469.0" y2="198.40" stroke="#444" stroke-width="0.6"/>
<text x="471.60" y="200.70" font-size="5.9" fill="#262626">2000</text>
<line x1="467.80" y1="166.14" x2="469.0" y2="166.14" stroke="#444" stroke-width="0.6"/>
<text x="471.60" y="168.44" font-size="5.9" fill="#262626">4000</text>
<line x1="467.80" y1="133.88" x2="469.0" y2="133.88" stroke="#444" stroke-width="0.6"/>
<text x="471.60" y="136.18" font-size="5.9" fill="#262626">6000</text>
<line x1="467.80" y1="101.62" x2="469.0" y2="101.62" stroke="#444" stroke-width="0.6"/>
<text x="471.60" y="103.92" font-size="5.9" fill="#262626">8000</text>
<line x1="467.80" y1="69.36" x2="469.0" y2="69.36" stroke="#444" stroke-width="0.6"/>
<text x="471.60" y="71.66" font-size="5.9" fill="#262626">10000</text>
<line x1="467.80" y1="37.10" x2="469.0" y2="37.10" stroke="#444" stroke-width="0.6"/>
<text x="471.60" y="39.40" font-size="5.9" fill="#262626">12000</text>
<text x="0" y="0" transform="translate(494.6,120.4) rotate(-90)" font-size="5.7" text-anchor="middle" fill="#262626">Distance [km]</text>
</svg></body></html>
